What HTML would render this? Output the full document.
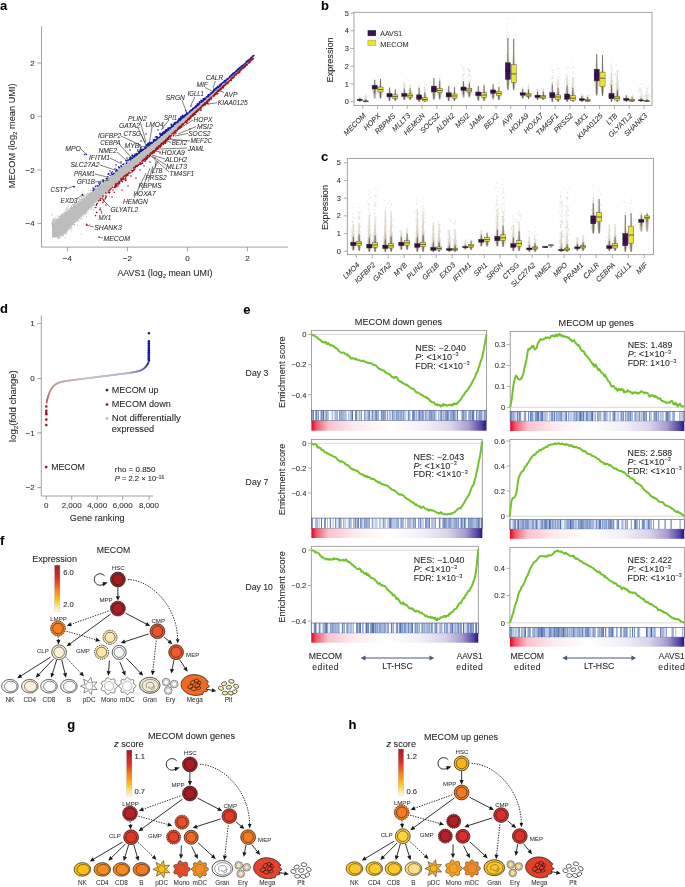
<!DOCTYPE html>
<html><head><meta charset="utf-8"><style>
html,body{margin:0;padding:0;background:#fff;width:685px;height:887px;overflow:hidden}
svg{display:block;filter:blur(0.3px)}
text{font-family:"Liberation Sans", sans-serif;stroke:#2a2a2a;stroke-width:0.08px}
</style></head><body>
<svg width="685" height="887" viewBox="0 0 685 887" font-family='"Liberation Sans", sans-serif'><path d="M41.5 26.3V247.1H287.8" fill="none" stroke="#8c8c8c" stroke-width="0.8"/>
<line x1="37.3" y1="63.0" x2="41.5" y2="63.0" stroke="#8c8c8c" stroke-width="0.8"/>
<text x="34.6" y="65.8" font-size="8.0" text-anchor="end" fill="#333" >2</text>
<line x1="37.3" y1="116.3" x2="41.5" y2="116.3" stroke="#8c8c8c" stroke-width="0.8"/>
<text x="34.6" y="119.1" font-size="8.0" text-anchor="end" fill="#333" >0</text>
<line x1="37.3" y1="170.1" x2="41.5" y2="170.1" stroke="#8c8c8c" stroke-width="0.8"/>
<text x="34.6" y="172.9" font-size="8.0" text-anchor="end" fill="#333" >&#8722;2</text>
<line x1="37.3" y1="223.4" x2="41.5" y2="223.4" stroke="#8c8c8c" stroke-width="0.8"/>
<text x="34.6" y="226.2" font-size="8.0" text-anchor="end" fill="#333" >&#8722;4</text>
<line x1="67.4" y1="247.1" x2="67.4" y2="251.3" stroke="#8c8c8c" stroke-width="0.8"/>
<text x="67.4" y="260.6" font-size="8.0" text-anchor="middle" fill="#333" >&#8722;4</text>
<line x1="127.4" y1="247.1" x2="127.4" y2="251.3" stroke="#8c8c8c" stroke-width="0.8"/>
<text x="127.4" y="260.6" font-size="8.0" text-anchor="middle" fill="#333" >&#8722;2</text>
<line x1="187.4" y1="247.1" x2="187.4" y2="251.3" stroke="#8c8c8c" stroke-width="0.8"/>
<text x="187.4" y="260.6" font-size="8.0" text-anchor="middle" fill="#333" >0</text>
<line x1="247.4" y1="247.1" x2="247.4" y2="251.3" stroke="#8c8c8c" stroke-width="0.8"/>
<text x="247.4" y="260.6" font-size="8.0" text-anchor="middle" fill="#333" >2</text>
<text x="164.9" y="275.5" font-size="9" text-anchor="middle" fill="#231f20" textLength="95" lengthAdjust="spacingAndGlyphs">AAVS1 (log<tspan font-size="6" dy="2">2</tspan><tspan dy="-2"> mean UMI)</tspan></text>
<text transform="translate(15.2,135.8) rotate(-90)" font-size="9" text-anchor="middle" fill="#231f20" textLength="105" lengthAdjust="spacingAndGlyphs">MECOM (log<tspan font-size="6" dy="2">2</tspan><tspan dy="-2"> mean UMI)</tspan></text>
<path d="M52 224.7 L53 223.83 L54 222.97 L55 222.1 L56 221.24 L57 220.37 L58 219.51 L59 218.64 L60 217.78 L61 216.91 L62 216.05 L63 215.24 L64 214.42 L65 213.61 L66 212.8 L67 211.99 L68 211.18 L69 210.37 L70 209.56 L71 208.74 L72 207.93 L73 207.12 L74 206.31 L75 205.5 L76 204.69 L77 203.88 L78 203.06 L79 202.25 L80 201.44 L81 200.63 L82 199.82 L83 199.01 L84 198.2 L85 197.39 L86 196.57 L87 195.76 L88 194.95 L89 194.14 L90 193.33 L91 192.52 L92 191.71 L93 190.89 L94 190.08 L95 189.27 L96 188.46 L97 187.65 L98 186.84 L99 186.03 L100 185.21 L101 184.4 L102 183.59 L103 182.78 L104 181.97 L105 181.16 L106 180.35 L107 179.53 L108 178.72 L109 177.88 L110 177.04 L111 176.2 L112 175.35 L113 174.51 L114 173.67 L115 172.83 L116 171.98 L117 171.14 L118 170.3 L119 169.46 L120 168.61 L121 167.83 L122 167.04 L123 166.25 L124 165.47 L125 164.68 L126 163.89 L127 163.11 L128 162.32 L129 161.53 L130 160.75 L131 159.97 L132 159.18 L133 158.4 L134 157.61 L135 156.83 L136 156.05 L137 155.26 L138 154.48 L139 153.7 L140 152.91 L141 152.13 L142 151.34 L143 150.56 L144 149.78 L145 148.99 L146 148.21 L147 147.43 L148 146.64 L149 145.86 L150 145.07 L151 144.29 L152 143.51 L153 142.72 L154 141.94 L155 141.15 L156 140.37 L157 139.59 L158 138.8 L159 138.02 L160 137.24 L161 136.45 L162 135.67 L163 134.88 L164 134.1 L165 133.27 L166 132.43 L167 131.6 L168 130.77 L169 129.93 L170 129.1 L171 128.26 L172 127.43 L173 126.6 L174 125.76 L175 124.93 L176 124.1 L177 123.26 L178 122.43 L179 121.59 L180 120.76 L181 119.93 L182 119.09 L183 118.26 L184 117.42 L185 116.57 L186 115.73 L187 114.88 L188 114.04 L189 113.19 L190 112.35 L191 111.51 L192 110.66 L193 109.82 L194 108.97 L195 108.13 L196 107.29 L197 106.44 L198 105.6 L199 104.75 L200 103.91 L201 103.07 L202 102.22 L203 101.38 L204 100.53 L205 99.69 L206 98.85 L207 98 L208 97.16 L209 96.29 L210 95.4 L211 94.5 L212 93.61 L213 92.72 L214 91.83 L215 90.94 L216 90.04 L217 89.15 L218 88.26 L219 87.37 L220 86.47 L221 85.58 L222 84.69 L223 83.8 L224 82.9 L225 82.01 L226 81.12 L227 80.23 L228 79.33 L229 78.44 L230 77.55 L231 76.66 L232 75.77 L233 74.87 L234 73.98 L235 73.09 L236 72.2 L237 71.31 L238 70.42 L239 69.53 L240 68.64 L241 67.75 L242 66.86 L243 65.98 L244 65.09 L245 64.2 L246 63.31 L247 62.42 L248 61.53 L249 60.64 L250 59.75 L251 58.87 L252 57.98 L253 57.09 L254 56.2 L254 57 L253 57.93 L252 58.87 L251 59.8 L250 60.73 L249 61.67 L248 62.6 L247 63.53 L246 64.46 L245 65.4 L244 66.33 L243 67.26 L242 68.2 L241 69.13 L240 70.06 L239 71 L238 71.93 L237 72.86 L236 73.8 L235 74.73 L234 75.65 L233 76.58 L232 77.51 L231 78.44 L230 79.37 L229 80.3 L228 81.23 L227 82.16 L226 83.09 L225 84.02 L224 84.95 L223 85.88 L222 86.81 L221 87.74 L220 88.67 L219 89.6 L218 90.52 L217 91.45 L216 92.38 L215 93.31 L214 94.24 L213 95.17 L212 96.1 L211 97.03 L210 97.96 L209 98.89 L208 99.84 L207 100.77 L206 101.7 L205 102.63 L204 103.56 L203 104.49 L202 105.41 L201 106.34 L200 107.27 L199 108.2 L198 109.13 L197 110.06 L196 110.99 L195 111.92 L194 112.84 L193 113.77 L192 114.7 L191 115.63 L190 116.56 L189 117.49 L188 118.42 L187 119.34 L186 120.27 L185 121.2 L184 122.13 L183 123.06 L182 124 L181 124.94 L180 125.88 L179 126.82 L178 127.75 L177 128.69 L176 129.63 L175 130.57 L174 131.51 L173 132.45 L172 133.39 L171 134.33 L170 135.27 L169 136.21 L168 137.14 L167 138.08 L166 139.02 L165 139.96 L164 140.9 L163 141.78 L162 142.65 L161 143.53 L160 144.4 L159 145.28 L158 146.15 L157 147.03 L156 147.9 L155 148.78 L154 149.65 L153 150.53 L152 151.4 L151 152.28 L150 153.15 L149 154.03 L148 154.9 L147 155.78 L146 156.65 L145 157.53 L144 158.41 L143 159.28 L142 160.16 L141 161.03 L140 161.91 L139 162.78 L138 163.66 L137 164.53 L136 165.41 L135 166.28 L134 167.16 L133 168.03 L132 168.91 L131 169.78 L130 170.66 L129 171.53 L128 172.41 L127 173.28 L126 174.15 L125 175.02 L124 175.9 L123 176.77 L122 177.64 L121 178.51 L120 179.39 L119 180.31 L118 181.24 L117 182.17 L116 183.1 L115 184.03 L114 184.95 L113 185.88 L112 186.81 L111 187.74 L110 188.67 L109 189.6 L108 190.52 L107 191.48 L106 192.44 L105 193.4 L104 194.36 L103 195.32 L102 196.28 L101 197.24 L100 198.2 L99 199.16 L98 200.12 L97 201.07 L96 202.03 L95 202.99 L94 203.95 L93 204.91 L92 205.87 L91 206.83 L90 207.79 L89 208.75 L88 209.71 L87 210.67 L86 211.63 L85 212.59 L84 213.54 L83 214.5 L82 215.46 L81 216.42 L80 217.38 L79 218.34 L78 219.3 L77 220.26 L76 221.22 L75 222.18 L74 223.14 L73 224.1 L72 225.05 L71 226.01 L70 226.97 L69 227.93 L68 228.89 L67 229.85 L66 230.81 L65 231.77 L64 232.73 L63 233.69 L62 234.65 L61 235.55 L60 236.46 L59 237.36 L58 237.6 L57 237.6 L56 237.6 L55 237.6 L54 237.6 L53 237.6 L52 237.6Z" fill="#bdbdbd"/>
<path d="M97.64 185.94h0.01 M106.29 179.89h0.01 M63.9 212.87h0.01 M56.1 221.75h0.01 M198.01 106.11h0.01 M131.32 160.42h0.01 M109.61 188.52h0.01 M64.44 233.7h0.01 M95.86 188.96h0.01 M108.1 176.49h0.01 M98.39 198.94h0.01 M201.47 102.62h0.01 M78.55 220.61h0.01 M75.31 221.29h0.01 M168.84 136.56h0.01 M192.66 110.22h0.01 M182.27 122.95h0.01 M197.6 109.96h0.01 M155.04 148.57h0.01 M58.08 238.15h0.01 M114.74 184.07h0.01 M64.49 212.87h0.01 M66.73 232.86h0.01 M77.16 203.89h0.01 M66.51 231.27h0.01 M56.77 219.1h0.01 M66.77 229.52h0.01 M76.2 222h0.01 M56.06 221.87h0.01 M85.99 213.54h0.01 M192.9 114.86h0.01 M63.73 234h0.01 M181.87 120h0.01 M147.37 147.28h0.01 M65.07 212.34h0.01 M93.04 205.91h0.01 M53.14 224.28h0.01 M71.54 205.99h0.01 M121.1 178.35h0.01 M114.75 173.22h0.01 M183.8 122.05h0.01 M63.1 233.03h0.01 M116.92 182.81h0.01 M197.63 105.1h0.01 M138.2 154.95h0.01 M52.36 224.78h0.01 M140.03 152.28h0.01 M102.23 183.82h0.01 M79.01 200.8h0.01 M146.91 147.73h0.01 M146.92 147.69h0.01 M83.3 195.28h0.01 M180.25 119.82h0.01 M172.36 127.05h0.01 M126.11 174.45h0.01 M55.41 221.19h0.01 M200.5 104.15h0.01 M146.53 147.61h0.01 M95.86 186.5h0.01 M52.77 223.16h0.01 M102.03 196.2h0.01 M124.26 164.95h0.01 M71.41 225.77h0.01 M65.68 233.18h0.01 M181.3 118.51h0.01 M80.04 200.7h0.01 M65.27 232.24h0.01 M175.88 131.02h0.01 M118.79 180.48h0.01 M166.88 131.61h0.01 M141.97 152.07h0.01 M97.38 201.11h0.01 M66.86 230.83h0.01 M78.57 201.75h0.01 M197.98 108.58h0.01 M174.32 130.53h0.01 M141.48 151.91h0.01 M98.01 200.01h0.01 M59.93 237.01h0.01 M126.86 173.6h0.01 M160.82 136.33h0.01 M136.95 164.4h0.01 M142.53 159.02h0.01 M139.34 153.31h0.01 M124.25 164.68h0.01 M181.41 124.86h0.01 M187.09 114.85h0.01 M126.21 163.73h0.01 M86.69 194.22h0.01 M189.63 117.33h0.01 M130.85 169.44h0.01 M129.09 160.44h0.01 M66.78 207.51h0.01 M111.02 176.64h0.01 M79.2 201.75h0.01 M113.23 174.87h0.01 M161.18 142.59h0.01 M159.3 145.11h0.01 M107.68 178.14h0.01 M189.96 117.09h0.01 M190.71 115.32h0.01 M75.45 203.53h0.01 M128.6 161.94h0.01 M78.1 220.53h0.01 M168.57 130.59h0.01 M194.96 107.08h0.01 M117.06 182.47h0.01 M122.63 176.56h0.01 M195.17 107.33h0.01 M115.34 183.96h0.01 M138.16 163.72h0.01 M192.4 110.88h0.01 M72.95 224.83h0.01 M162.51 135.3h0.01 M101.34 197.11h0.01 M185.5 121.23h0.01 M155.19 148.06h0.01 M137.42 164.04h0.01 M83.77 196.62h0.01 M58.45 217.93h0.01 M70.81 227.5h0.01 M86.55 210.71h0.01 M109.77 188.88h0.01 M128.52 161.35h0.01 M169.81 129.6h0.01 M147.64 147.16h0.01 M180.64 125.37h0.01 M67.28 208.41h0.01 M177.42 127.6h0.01 M71.83 227.63h0.01 M165.87 138.47h0.01 M90.34 192.84h0.01 M194.94 113.18h0.01 M105.94 178.15h0.01 M64.33 231.67h0.01 M116.34 182.37h0.01 M63.89 235.3h0.01 M185.86 122.18h0.01 M54.31 220.19h0.01 M80.03 217.36h0.01 M107.48 190.48h0.01 M140.04 153.58h0.01 M63.58 232.47h0.01 M64.93 233.07h0.01 M107.04 193.46h0.01 M140.73 152.02h0.01 M126.9 173.53h0.01 M198.12 105.6h0.01 M71.69 208.87h0.01 M162.29 143.33h0.01 M179.34 121.53h0.01 M152.41 151.85h0.01 M144.14 158.09h0.01 M128.57 162.4h0.01 M133.54 169.15h0.01 M132.38 158.71h0.01 M201.97 102.84h0.01 M140.08 153.43h0.01 M124.41 165.91h0.01 M71.5 225.99h0.01 M86.54 210.72h0.01 M70.85 207.4h0.01 M194.67 108.84h0.01 M200.9 103.81h0.01 M121.28 168.03h0.01 M53.44 223.04h0.01 M62.43 235.34h0.01 M123.67 176.37h0.01 M109.35 177.68h0.01 M85.16 213.08h0.01 M74.65 204.46h0.01 M76.16 220.28h0.01 M61.29 216.87h0.01 M88.53 195.32h0.01 M199.48 104.83h0.01 M54.99 220.85h0.01 M196 110.67h0.01 M108.79 178.47h0.01 M197.26 105.92h0.01 M122.35 177.32h0.01 M65.79 231.77h0.01 M109.57 191.05h0.01 M98.12 200.24h0.01 M118.64 180.06h0.01 M201.47 102.26h0.01 M146.38 157.12h0.01 M156.19 139.64h0.01 M84.29 213.49h0.01 M120.27 168.02h0.01 M150.08 152.3h0.01 M183.44 115.89h0.01 M125.82 174.55h0.01 M111.8 187.49h0.01 M113.29 174.29h0.01 M86.2 211.09h0.01 M148.42 146.22h0.01 M153.1 150.94h0.01 M93.47 204.37h0.01 M131.27 159.66h0.01 M79.84 202.26h0.01 M93.95 207.7h0.01 M56.53 220.84h0.01 M115.57 182.89h0.01 M137.1 163.71h0.01 M66.77 212.19h0.01 M74.57 224.83h0.01 M84.1 198.25h0.01 M141.6 152.09h0.01 M184.05 117.25h0.01 M159.95 144.2h0.01 M78.85 221.58h0.01 M70.56 227.33h0.01 M85.15 213.21h0.01 M64.91 213.28h0.01 M158.74 138.35h0.01 M63.13 213.73h0.01 M176.02 130.01h0.01 M112.21 175.81h0.01 M194.51 109.22h0.01 M112.65 175.26h0.01 M55.7 218.03h0.01 M60.19 217.53h0.01 M67.53 211.15h0.01 M108.5 177.67h0.01 M194.92 108.44h0.01 M104.03 182.18h0.01 M183.28 123.54h0.01 M164.65 133.26h0.01 M166.21 131.62h0.01 M192.6 109.4h0.01 M159.79 144.02h0.01 M92.9 204.55h0.01 M86.52 216.46h0.01 M65.86 231.53h0.01 M57.84 220.25h0.01 M118.96 169.83h0.01 M63.89 232.25h0.01 M69.13 209.88h0.01 M63.93 232.79h0.01 M62.75 215.29h0.01 M162.8 142.32h0.01 M71.94 207.21h0.01 M112.74 175.06h0.01 M102.29 199.82h0.01 M159.62 144.68h0.01 M109.48 177.34h0.01 M131.98 171.13h0.01 M142.36 150.57h0.01 M61.36 235.1h0.01 M173.56 126.23h0.01 M128.25 162.79h0.01 M60.77 215.45h0.01 M52.01 223.38h0.01 M142.98 159.62h0.01 M192.1 111.24h0.01 M171.08 133.71h0.01 M183.67 122.65h0.01 M164.67 140.64h0.01 M61.38 216.73h0.01 M78.07 219.95h0.01 M99.91 185.31h0.01 M84.36 197.13h0.01 M99.07 185.54h0.01 M165.37 132.79h0.01 M141.74 159.66h0.01 M115.55 185.8h0.01 M159.22 144.49h0.01 M124.53 175.52h0.01 M76.43 221.76h0.01 M88.84 195.01h0.01 M145.83 156.67h0.01 M189.8 113.17h0.01 M164.79 140.25h0.01 M59.93 237.1h0.01 M63.44 235.28h0.01 M166.85 131.92h0.01 M61.34 235.21h0.01 M90.92 207.96h0.01 M106.88 179.42h0.01 M152.73 143.06h0.01 M91.69 206.55h0.01 M90.05 190.58h0.01 M132.47 159.41h0.01 M106.53 179.47h0.01 M61.45 214.87h0.01 M180.71 120.26h0.01 M60.01 216.69h0.01 M199.03 105.11h0.01 M65.14 210.59h0.01 M126.49 173.57h0.01 M117.66 171.01h0.01 M80.33 200.54h0.01 M58.55 218.12h0.01 M59.49 216.55h0.01 M114.92 183.65h0.01 M182.07 119.28h0.01 M58.44 217.45h0.01 M75.25 205.94h0.01 M165.58 139.92h0.01 M112.83 185.86h0.01 M199.09 105.36h0.01 M132.13 168.77h0.01 M87.37 193.39h0.01 M160.1 143.86h0.01 M60.11 237.69h0.01 M116.47 182.64h0.01 M116.22 182.19h0.01 M129.11 170.91h0.01 M192.94 110.17h0.01 M100.32 199.27h0.01 M151 144.02h0.01 M102.79 181.68h0.01 M91.24 209.14h0.01 M115.87 171.69h0.01 M94.62 189.98h0.01 M79.24 217.97h0.01 M145.94 146.93h0.01 M149.8 152.85h0.01 M58.58 237.36h0.01 M105.45 195.09h0.01 M109.26 189.54h0.01 M77.43 219.12h0.01 M182.49 119.11h0.01 M133.47 157.24h0.01 M67.67 210.53h0.01 M116.01 171.33h0.01 M58.53 217.79h0.01 M191.11 114.76h0.01 M79.76 218.5h0.01 M179.03 121.62h0.01 M119.2 179.89h0.01 M52.82 223.95h0.01 M187.38 114.26h0.01 M100.74 197.96h0.01 M179.39 127.82h0.01 M167.05 137.84h0.01 M175.77 124.98h0.01 M65.62 212.43h0.01 M144.75 158.59h0.01 M142.34 160.25h0.01 M139.09 154.04h0.01 M67.82 228.54h0.01 M141.84 159.8h0.01 M133.27 158.32h0.01 M86.1 195.29h0.01 M68.44 229.45h0.01 M185.82 116.44h0.01 M56.05 219.18h0.01 M95.83 188.8h0.01 M121.66 177.19h0.01 M70.85 208.27h0.01 M150.54 152.31h0.01 M74.12 205.35h0.01 M199.25 109.13h0.01 M99.05 183.34h0.01 M105.02 195.64h0.01 M114.19 173.38h0.01 M155.93 140.1h0.01 M105.93 180.23h0.01 M191.23 115.73h0.01 M155.26 148.32h0.01 M95.84 188.47h0.01 M156.64 140.57h0.01 M67.61 209.99h0.01 M104.87 195.33h0.01 M117 171.04h0.01 M63.46 234.77h0.01 M94.98 202.47h0.01 M72.23 204.63h0.01 M116.36 171.52h0.01 M157.65 146.18h0.01 M125.44 165.01h0.01 M55.95 219.43h0.01 M62.66 234.86h0.01 M165.61 132.26h0.01 M195.42 111.25h0.01 M103.38 182.16h0.01 M98.09 187.47h0.01 M88.94 208.71h0.01 M93.48 210.16h0.01 M152.03 143.57h0.01 M68.53 228.99h0.01 M99.04 186.32h0.01 M84.94 214.57h0.01 M130.57 170.21h0.01 M172.55 126.48h0.01 M177.17 129.23h0.01 M87.29 193.93h0.01 M66.99 230.08h0.01 M61.95 236.2h0.01 M66.9 229.93h0.01 M200.5 103.27h0.01 M172.2 132.69h0.01 M138.23 162.92h0.01 M73.57 223.39h0.01 M88.95 193.56h0.01 M142.72 159.09h0.01 M187.97 118.09h0.01 M152.5 143.74h0.01 M79.42 217.36h0.01 M55.6 220.82h0.01 M108.13 192.66h0.01 M89.09 208.97h0.01 M120.91 177.94h0.01 M78.18 219.37h0.01 M141.1 160.29h0.01 M144.69 149.63h0.01 M74.27 205.81h0.01 M90.71 207.27h0.01 M75.68 221.8h0.01 M67.03 231.81h0.01 M115.86 172.68h0.01 M196.54 110.76h0.01 M67.08 208.79h0.01 M133.64 158.2h0.01 M127.46 172.62h0.01 M93.96 205.02h0.01 M80.2 217.11h0.01 M74.2 224h0.01 M62.21 215.37h0.01 M69.62 227.69h0.01 M60.78 216.14h0.01 M140.11 153.56h0.01 M88.73 208.62h0.01 M119.27 179.66h0.01 M79.86 218.54h0.01 M178.32 122.83h0.01 M72.1 207.77h0.01 M124.39 164.93h0.01 M84.76 195.17h0.01 M126.53 163.67h0.01 M91.52 206.15h0.01 M175.77 130.9h0.01 M182.13 123.86h0.01 M77.72 220.57h0.01 M196.85 109.65h0.01 M136.14 165.16h0.01 M52 224.33h0.01 M104.02 181.84h0.01 M112.87 173.67h0.01 M195.04 111.78h0.01 M82.62 198.89h0.01 M138.98 153.05h0.01 M193.95 109.06h0.01 M103.55 180.78h0.01 M85.69 211.14h0.01 M69.31 229.31h0.01 M79.79 217.82h0.01 M56.9 219.59h0.01 M153.77 149.77h0.01 M61.83 216.54h0.01 M71.19 208.91h0.01 M158.62 144.97h0.01 M142.83 159.38h0.01 M80.93 199.42h0.01 M116.12 183.75h0.01 M141.16 151.93h0.01 M134.14 166.3h0.01 M119.21 169.93h0.01 M195.4 111.15h0.01 M127.27 173.21h0.01 M187.26 113.95h0.01 M58.11 238.32h0.01 M74.95 205.33h0.01 M80.44 216.2h0.01 M111.95 186.66h0.01 M159.43 137.87h0.01 M74.67 224.21h0.01 M197.74 109.72h0.01 M138.73 154.53h0.01 M62.99 233.97h0.01 M187.3 118.77h0.01 M79.62 217.02h0.01 M115.86 182.99h0.01 M68.28 228.95h0.01 M85.19 212.29h0.01 M178.51 126.59h0.01 M65.64 213.18h0.01 M102.55 195.66h0.01 M54.08 221.82h0.01 M131.86 159.69h0.01 M172.59 125.41h0.01 M96.26 188.86h0.01 M77.89 201.36h0.01 M109.43 178.25h0.01 M157.78 138.32h0.01 M164.95 133.05h0.01 M198.85 108.51h0.01 M140.84 160.68h0.01 M182.14 123.71h0.01 M88.31 209.28h0.01 M131.87 159.14h0.01 M83.6 215.27h0.01 M181.17 124.72h0.01 M147.8 154.78h0.01 M148.11 147.09h0.01 M83.1 215.96h0.01 M90.43 206.72h0.01 M111.05 176.37h0.01 M79.27 198.88h0.01 M57.35 216.23h0.01 M67.44 230.81h0.01 M140.99 160.46h0.01 M190.38 116.89h0.01 M63.79 233.26h0.01 M127.85 171.77h0.01 M129.5 171.85h0.01 M170.87 127.78h0.01 M105.81 178.43h0.01 M137.94 164.16h0.01 M133.43 167.4h0.01 M121.83 167.5h0.01 M107.47 191.74h0.01 M120.56 168.19h0.01 M186.88 121.74h0.01 M147.1 155.51h0.01 M146.86 146.69h0.01 M58.76 217.33h0.01 M103.62 195.48h0.01 M188.2 113.45h0.01 M158.86 138.56h0.01 M173.74 126.76h0.01 M70.83 207.31h0.01 M172.79 132.2h0.01 M74.18 204.69h0.01 M156.75 147.01h0.01 M69.84 208.38h0.01 M113.06 173.9h0.01 M158.68 145.06h0.01 M172.64 127.23h0.01 M88.34 194.62h0.01 M124.71 163.04h0.01 M66.1 210.93h0.01 M175.1 125.16h0.01 M94.41 205.57h0.01 M81.68 216.08h0.01 M122.25 167.06h0.01 M63.52 233.17h0.01 M188.93 113.64h0.01 M200.84 103.49h0.01 M146.76 155.57h0.01 M60.39 216.34h0.01 M93.52 189.42h0.01 M106.07 179.9h0.01 M82.58 199.91h0.01 M74.81 203.84h0.01 M75 205.32h0.01 M187.33 119.22h0.01 M148.12 147h0.01 M92.7 204.63h0.01 M95.91 188.51h0.01 M134.64 167.28h0.01 M91.6 206.66h0.01 M92.92 205.12h0.01 M163.49 134.24h0.01 M56.7 220.07h0.01 M134.11 167.4h0.01 M179.63 120.47h0.01 M100.21 197.61h0.01 M99.54 199.14h0.01 M195.39 107.4h0.01 M200.34 106.84h0.01 M140.05 152.4h0.01 M67.27 210.87h0.01 M66.38 230.9h0.01 M147.84 155.03h0.01 M62.22 214.31h0.01 M71.13 207.14h0.01 M145.72 148.4h0.01 M52.3 223.71h0.01 M189.7 112.49h0.01 M110.84 176.99h0.01 M57.56 219.93h0.01 M58.6 217.54h0.01 M59.01 238.22h0.01 M154.83 148.19h0.01 M91.95 205.57h0.01 M114.54 184.72h0.01 M169.7 135.09h0.01 M195.37 108.15h0.01 M90.87 190.05h0.01 M91.87 209.09h0.01 M61.04 217.37h0.01 M61.29 214.32h0.01 M129.35 159.59h0.01 M57.6 219.92h0.01 M80.28 218.68h0.01 M190.11 111.34h0.01 M105.18 180.48h0.01 M147.36 155.19h0.01 M85.47 213.2h0.01 M94.37 203.07h0.01 M53.66 221.8h0.01 M112.77 185.76h0.01 M67.76 229.53h0.01 M102.51 196.24h0.01 M149.32 153.97h0.01 M194.48 111.65h0.01 M120.56 168.08h0.01 M85.61 213.22h0.01 M123.32 166.33h0.01 M107.63 177.67h0.01 M158.46 145.75h0.01 M171.64 133.26h0.01 M55.75 219.31h0.01 M165.74 139.23h0.01 M156.99 138.71h0.01 M54.03 221.07h0.01 M113.53 174.45h0.01 M128.56 172.65h0.01 M118.23 180.9h0.01 M146.89 156.3h0.01 M183.66 124.24h0.01 M155.61 147.45h0.01 M96.93 202.29h0.01 M58.08 237.47h0.01 M57.92 219.61h0.01 M133.57 158.37h0.01 M77.9 203.29h0.01 M114.89 173.47h0.01 M110.92 176.06h0.01 M58.5 219.38h0.01 M94.58 202.68h0.01 M135.07 156.05h0.01 M88.25 195.42h0.01 M57.12 219.74h0.01 M65.63 232.66h0.01 M61.95 235.93h0.01 M88.33 194.17h0.01 M167.96 137.38h0.01 M197.66 109.22h0.01 M139.36 161.78h0.01 M117.4 182.62h0.01 M54.44 221.11h0.01 M94.7 188.11h0.01 M114.78 172.88h0.01 M102.95 195.76h0.01 M150.04 153h0.01 M52.99 221.01h0.01 M116.22 172.31h0.01 M191.07 111.75h0.01 M160.49 143.32h0.01 M65.34 212.76h0.01 M123.43 175.71h0.01 M179.94 120.29h0.01 M137.84 164.52h0.01 M75.53 204.9h0.01 M144.96 156.77h0.01 M111.06 187.08h0.01 M75.79 222.18h0.01 M73.35 224.65h0.01 M73.94 206.33h0.01 M171.55 128.19h0.01 M123.36 166.65h0.01 M132.42 158.42h0.01 M154.38 150.73h0.01 M84.76 196.81h0.01 M68.92 229.43h0.01 M189.5 112.4h0.01 M115.88 182.69h0.01 M57.49 215.89h0.01 M131.91 168.57h0.01 M115.78 182.77h0.01 M199.49 107.19h0.01 M133.59 166.97h0.01 M52.77 221.81h0.01 M170.65 129.19h0.01 M108.44 190.58h0.01 M109.34 188.7h0.01 M104.87 193.3h0.01 M102.8 196.7h0.01 M102.97 181.07h0.01 M59.43 236.61h0.01 M81.17 196.23h0.01 M190.88 111.38h0.01 M171.35 127.63h0.01 M120.09 169.2h0.01 M123.95 165.92h0.01 M108.12 179.07h0.01 M165.37 132.45h0.01 M150.87 145.03h0.01 M166.12 140.73h0.01 M81.15 218.89h0.01 M72.15 208.29h0.01 M109.24 189.57h0.01 M69.02 209.19h0.01 M63.05 232.89h0.01 M156.06 148.19h0.01 M69.44 210.65h0.01 M71.31 206.87h0.01 M63.89 232.6h0.01 M144.87 149.04h0.01 M157.39 138.59h0.01 M70.13 227.66h0.01 M92.01 191.21h0.01 M182.43 118.85h0.01 M88.14 209.64h0.01 M81.5 197.64h0.01 M87.06 212.55h0.01 M101.24 183.19h0.01 M183.19 122.34h0.01 M65.98 209.13h0.01 M81.99 199.49h0.01 M60.01 217.34h0.01 M59.5 218.57h0.01 M176.36 123.55h0.01 M86.08 211.44h0.01 M73.4 206.45h0.01 M82.73 214.52h0.01 M77.51 220.72h0.01 M111.58 175.66h0.01 M151.83 144.05h0.01 M67.79 228.56h0.01 M77.82 201.91h0.01 M61.63 235.27h0.01 M116.29 182.75h0.01 M98.76 181.85h0.01 M168.72 136.54h0.01 M197.06 111.44h0.01 M151.91 151.24h0.01 M62.8 215.82h0.01 M66.6 230.11h0.01 M104.9 178.52h0.01 M99.58 199.5h0.01 M125.01 175.59h0.01 M78.78 218.22h0.01 M176.65 123.27h0.01 M98.85 199.74h0.01 M183.01 124.05h0.01 M176.25 129.37h0.01 M106.45 180.49h0.01 M144.29 157.95h0.01 M118.88 180.4h0.01 M56.53 221.05h0.01 M82.67 195.55h0.01 M107.31 190.47h0.01 M127.34 173.48h0.01 M195.33 110.97h0.01 M96.19 201.5h0.01 M165.23 133.18h0.01 M71.28 207.21h0.01 M114.05 174.4h0.01 M103.43 195.08h0.01 M105.51 195.82h0.01 M65.06 232.73h0.01 M197.23 105.49h0.01 M137.06 155.58h0.01 M159.59 145.73h0.01 M162.31 141.66h0.01 M52.52 220.56h0.01 M82.15 197.12h0.01 M187.07 114.21h0.01 M54.46 218.99h0.01 M174.01 132.5h0.01 M64.03 214.91h0.01 M125.74 176.47h0.01 M144.93 157.95h0.01 M156.4 139.59h0.01 M116.41 171.7h0.01 M87.76 210.92h0.01 M131.27 159.87h0.01 M138.81 154.33h0.01 M64.16 213.63h0.01 M137.28 154.73h0.01 M182.54 124.69h0.01 M191.34 110.34h0.01 M80.86 216.56h0.01 M108.66 193h0.01 M110.77 187.59h0.01 M148.38 154.19h0.01 M69.78 228.89h0.01 M190.65 111.63h0.01 M92.02 205.26h0.01 M192.88 114.21h0.01 M94.74 190.09h0.01 M129.01 161.06h0.01 M180.62 127.82h0.01 M109.5 190.09h0.01 M152.58 150.84h0.01 M73.35 205.59h0.01 M144.94 156.94h0.01 M140.98 161.69h0.01 M94.66 207.43h0.01 M177.61 127.71h0.01 M117.09 170.68h0.01 M136.36 155.74h0.01 M53.5 223.74h0.01 M100.9 197.02h0.01 M191.71 111.62h0.01 M102.92 181.34h0.01 M67.58 210.27h0.01 M89.78 194.19h0.01 M71.59 208.5h0.01 M85.19 213.71h0.01 M97.74 201.03h0.01 M77.11 203.15h0.01 M98.06 200.86h0.01 M86.58 195.39h0.01 M196.72 106.27h0.01 M147.67 155.26h0.01 M144.41 149.43h0.01 M95.05 187.56h0.01 M68.11 206.46h0.01 M81.96 199.29h0.01 M124.08 175.79h0.01 M89.71 192.91h0.01 M54.19 219.43h0.01 M163.64 134.14h0.01 M142.14 151.19h0.01 M148.77 146.82h0.01 M115.08 172h0.01 M199.1 107.48h0.01 M144.9 149h0.01 M73.57 205.16h0.01 M62.24 216.24h0.01 M178.68 122.22h0.01 M92.83 207.79h0.01 M122.73 179.22h0.01 M116.46 171.83h0.01 M83.41 197.97h0.01 M138.33 154.63h0.01 M165.1 139.2h0.01 M111.08 187.8h0.01 M86.38 196.04h0.01 M174.27 125.64h0.01 M70.72 226.11h0.01 M158.14 139.21h0.01 M72.39 224.04h0.01 M163.16 135.34h0.01 M66.57 212.57h0.01 M175.49 130.17h0.01 M100.94 199.91h0.01 M116.55 171.67h0.01 M199.09 107.56h0.01 M60.73 215.2h0.01 M81.9 218.16h0.01 M183.36 117.97h0.01 M62.64 233.61h0.01 M176.4 123.89h0.01 M68.17 228.35h0.01 M53.53 221.02h0.01 M54.35 220.92h0.01 M83.49 223.94h0.01 M57.8 219.36h0.01 M65.24 237.61h0.01 M68.04 210.5h0.01 M89.62 224.09h0.01 M76.68 202.42h0.01 M67.27 205.16h0.01 M62.01 214.38h0.01 M69.24 198.24h0.01 M94.42 189.49h0.01 M103.35 198.12h0.01 M83.11 191.05h0.01 M88.58 190.22h0.01 M104.9 214.1h0.01 M120.52 207.33h0.01 M53.05 220.1h0.01 M71.73 228.64h0.01 M77.47 225.13h0.01 M115.67 167.05h0.01 M71.45 230.71h0.01 M52.13 214.13h0.01 M115.7 189.44h0.01 M77.79 190.33h0.01 M52.07 215.54h0.01 M71.79 200.11h0.01 M117.22 189.35h0.01 M81.43 234.51h0.01 M100.28 181.21h0.01 M80.97 176.64h0.01 M77.14 197.78h0.01 M66.8 233.88h0.01 M52.14 222.28h0.01 M58.11 238.38h0.01 M109.53 196.17h0.01 M53.62 218.65h0.01 M86.46 211.45h0.01 M65.16 231.84h0.01 M88.72 187.84h0.01" stroke="#bdbdbd" stroke-width="1.1" stroke-linecap="round"/>
<path d="M224 82.57h0.01 M232.27 75.01h0.01 M130.6 159.72h0.01 M103.21 181.79h0.01 M170.56 128.01h0.01 M234.95 72.73h0.01 M202.66 101.15h0.01 M138.81 153.32h0.01 M207.97 96.63h0.01 M193.41 108.65h0.01 M169.71 128.09h0.01 M189.47 111.44h0.01 M171.64 127.08h0.01 M204.51 99.76h0.01 M139.24 153.09h0.01 M240.16 68.13h0.01 M200.73 102.1h0.01 M246.64 62.01h0.01 M217.05 87.95h0.01 M242.72 65.26h0.01 M156.49 139.69h0.01 M215.91 88.43h0.01 M244.77 63.88h0.01 M235.78 71.5h0.01 M224.58 80.54h0.01 M221.32 83.63h0.01 M237.42 70.08h0.01 M248.96 59.82h0.01 M241.43 65.95h0.01 M253.88 55.52h0.01 M234.04 72.71h0.01 M197.44 103.78h0.01 M127.4 160.14h0.01 M154.3 140.63h0.01 M161.38 135.17h0.01 M180.64 119.48h0.01 M236.32 71.11h0.01 M168.17 130.24h0.01 M215.15 89.93h0.01 M140.21 149.56h0.01 M196.41 106.62h0.01 M162.25 135.12h0.01 M153.56 139.94h0.01 M112.91 174.13h0.01 M146.24 145.3h0.01 M236.25 71.55h0.01 M246.07 62.51h0.01 M173.1 125.72h0.01 M159.75 137.05h0.01 M214.05 90.58h0.01 M131.43 158.4h0.01 M140.99 147.78h0.01 M204.72 99.5h0.01 M175.61 123.85h0.01 M137.37 154.41h0.01 M212.58 91.73h0.01 M250.09 59.15h0.01 M232.17 75.21h0.01 M213.82 90.16h0.01 M169.19 128.74h0.01 M123.57 164.17h0.01 M126.69 162.84h0.01 M232.13 75.16h0.01 M212.13 92.85h0.01 M219.75 85.67h0.01 M199.95 102.87h0.01 M237.06 70.19h0.01 M155.52 137h0.01 M225.73 80.52h0.01 M151.56 142.33h0.01 M202.65 100.3h0.01 M203.4 100.68h0.01 M213.58 90.46h0.01 M156.03 139.9h0.01 M181.85 116.94h0.01 M172.64 126.52h0.01 M244.25 63.98h0.01 M185.39 115.84h0.01 M166.87 131.01h0.01 M173.43 125.94h0.01 M116.24 170.82h0.01 M177.02 122.41h0.01 M202.73 101.23h0.01 M156.86 137.89h0.01 M168.52 129.37h0.01 M97.65 185.79h0.01 M185.85 115.17h0.01 M240.49 67.66h0.01 M222.45 82.96h0.01 M142.94 149.38h0.01 M180.4 119.84h0.01 M246.1 62.81h0.01 M163.37 132.88h0.01 M209.54 94.35h0.01 M183.97 115.6h0.01 M141.62 149.71h0.01 M107.87 176.75h0.01 M243.79 64.88h0.01 M141.98 150.68h0.01 M244.62 64.06h0.01 M247.73 61.11h0.01 M219.14 86.48h0.01 M242.13 66.4h0.01 M188.92 112.69h0.01 M247.89 61.06h0.01 M195.73 106.67h0.01 M160.51 135.44h0.01 M223.78 81.74h0.01 M163.61 132.32h0.01 M219.62 85.94h0.01 M183.01 117.59h0.01 M134.81 156.17h0.01 M232.41 74.14h0.01 M168 130.42h0.01 M168.69 128.37h0.01 M203.2 98.73h0.01 M126.8 160.92h0.01 M225.15 81h0.01 M203.59 98.89h0.01 M174.51 122.84h0.01 M209.05 95.33h0.01 M168.25 129.33h0.01 M208.9 95.6h0.01 M235 72.3h0.01 M229 77.54h0.01 M171.34 125.57h0.01 M208.28 96.61h0.01 M120.95 165.9h0.01 M244.34 64.3h0.01 M207.67 96.34h0.01 M240.7 67.32h0.01 M223.75 82.55h0.01 M145.08 147.6h0.01 M184.46 116.04h0.01 M140.75 151.6h0.01 M154.06 140.14h0.01 M219.82 85.26h0.01 M229.36 77.63h0.01 M161.91 135.19h0.01 M115.78 170.93h0.01 M202.86 100.21h0.01 M202.26 101.61h0.01 M160.82 134.91h0.01 M166.28 131.61h0.01 M250.62 58.15h0.01 M237.69 69.3h0.01 M198.88 103.37h0.01 M118.66 166.92h0.01 M175.09 122.52h0.01 M199.38 101.74h0.01 M241.34 66.18h0.01 M208.7 95.86h0.01 M184.4 116.51h0.01 M132.6 155.89h0.01 M192.64 108.82h0.01 M217.72 87.72h0.01 M214.52 89.77h0.01 M232.26 74.73h0.01 M248.99 60.14h0.01 M183.27 116.65h0.01 M197.49 105.43h0.01 M162.8 132.47h0.01 M234.85 72.91h0.01 M195.14 107.67h0.01 M119.3 167.51h0.01 M225 81.47h0.01 M201.18 102.15h0.01 M191.28 110.08h0.01 M141.04 150.6h0.01 M212.71 92.53h0.01 M140 150.54h0.01 M94.07 189.09h0.01 M233.56 73.79h0.01 M232.35 74.89h0.01 M251.19 58.01h0.01 M231.34 75.03h0.01 M246.31 62.66h0.01 M133.85 156.6h0.01 M146.02 145.18h0.01 M184.51 115.31h0.01 M147.75 145.11h0.01 M225.95 79.94h0.01 M179.08 120.01h0.01 M168.88 129.35h0.01 M181.76 118.31h0.01 M161.95 133.47h0.01 M197.83 105.27h0.01 M171.48 127.27h0.01 M167.18 130.64h0.01 M177.39 122.54h0.01 M246.94 62.11h0.01 M160.4 136.34h0.01 M168.65 129.67h0.01 M201.11 102.22h0.01 M234.03 73.36h0.01 M224.56 81.8h0.01 M145.94 147.51h0.01 M160.18 134.43h0.01 M225.02 81.64h0.01 M181.29 118.45h0.01 M166.52 129.46h0.01 M151.28 143.31h0.01 M230.38 76.1h0.01 M249.01 59.98h0.01 M246.41 61.83h0.01 M140.55 147.85h0.01 M229.63 77.15h0.01 M179.84 119.94h0.01 M234.04 73.46h0.01 M241.42 66.71h0.01 M237.36 70.49h0.01 M155.3 140.59h0.01 M156.42 136.81h0.01 M201.76 101.06h0.01 M231.55 75.41h0.01 M220.11 85.83h0.01 M164.2 133.56h0.01 M194.94 107.54h0.01 M173.46 125h0.01 M99.57 184.52h0.01 M163.45 132.95h0.01 M152.67 142.6h0.01 M157.34 138.76h0.01 M185.52 115.66h0.01 M100.47 182.97h0.01 M192.01 109.53h0.01 M227.15 79.02h0.01 M164.73 132.66h0.01 M222.72 82.43h0.01 M233.6 74.02h0.01 M240.93 67.38h0.01 M182.72 116.58h0.01 M193.11 108.38h0.01 M231.49 75.53h0.01 M236.43 70.5h0.01 M204.67 99.19h0.01 M202.22 101.5h0.01 M184.7 116.34h0.01 M169.69 128.35h0.01 M197.3 105.71h0.01 M129.93 157.63h0.01 M158.82 137.71h0.01 M239.61 68.25h0.01 M220.39 85.81h0.01 M239.05 69.1h0.01 M116.58 169.62h0.01 M220.13 84.4h0.01 M192.32 109.24h0.01 M163.84 131.76h0.01 M245.99 62.3h0.01 M153.25 141.9h0.01 M163.1 133.94h0.01 M175.05 123.34h0.01 M201.89 101.85h0.01 M246.68 61.3h0.01 M232.74 74.2h0.01 M145.52 148.23h0.01 M208.37 95.59h0.01 M203.31 99.19h0.01 M159.69 133.76h0.01 M142.15 150.56h0.01 M147.96 143.51h0.01 M227.3 79.21h0.01 M121.32 166.38h0.01 M250.52 58.87h0.01 M222.14 83.43h0.01 M224.82 81.29h0.01 M191.94 110.37h0.01 M210.93 93.73h0.01 M130.41 157.89h0.01 M250.44 58.97h0.01 M249.15 59.83h0.01 M247.89 60.39h0.01 M235.23 72.02h0.01 M231.74 75.45h0.01 M220.17 85.9h0.01 M233.61 73.93h0.01 M111.96 174.56h0.01 M186.58 112.44h0.01 M180.55 117.89h0.01 M212.71 92.04h0.01 M168.48 128.4h0.01 M207.85 95.3h0.01 M219.09 86.3h0.01 M229.37 77.36h0.01 M181.18 119.3h0.01 M213.39 91.7h0.01 M148.39 145.82h0.01 M145.23 148.23h0.01 M215.34 89.52h0.01 M243.32 65.34h0.01 M237.63 70.33h0.01 M203.67 100.37h0.01 M166.39 130.05h0.01 M164.01 132.05h0.01 M110.15 175.27h0.01 M243.07 65.22h0.01 M230.07 76.37h0.01 M249.07 59.65h0.01 M182.43 115.38h0.01 M98.81 182.94h0.01 M204.12 98.78h0.01 M167.82 128.23h0.01 M205.83 98.64h0.01 M252.21 56.65h0.01 M225.46 80.52h0.01 M252.89 55.83h0.01 M172.99 125.7h0.01 M165.92 130.91h0.01 M153.47 141.98h0.01 M214.74 90.3h0.01 M172.72 125.94h0.01 M125.92 160.73h0.01 M164.05 132.66h0.01 M251.24 58.14h0.01 M145.15 146.79h0.01 M241.13 67.16h0.01 M191.77 109.45h0.01 M152.01 142.68h0.01 M165.62 132.35h0.01 M155.12 139.79h0.01 M216.08 88.42h0.01 M201.74 101.15h0.01 M222.28 83.22h0.01 M234.13 72.43h0.01 M132.56 158.24h0.01 M197.87 104.5h0.01 M127.97 160.32h0.01 M189.82 111.87h0.01 M171.15 124.42h0.01 M114.04 173.25h0.01 M158.08 137.47h0.01 M203.42 100.16h0.01 M242.35 65.46h0.01 M252.89 56.01h0.01 M149.82 142.77h0.01 M232.11 74.62h0.01 M247.73 61.08h0.01 M126.43 163.17h0.01 M228.16 78.89h0.01 M111.82 174.2h0.01 M180.46 118.89h0.01 M103.05 179.82h0.01 M244.85 63.86h0.01 M213.05 91.4h0.01 M216.19 88.72h0.01 M162.42 134.81h0.01 M175.54 122.65h0.01 M192.03 110.21h0.01 M240.3 67.58h0.01 M165.64 132.27h0.01 M138.68 152.11h0.01 M93.17 190.39h0.01 M200.92 100.24h0.01 M108.93 173.84h0.01 M157.02 136.86h0.01 M146.38 147.46h0.01 M176.51 122.73h0.01 M168.55 128.97h0.01 M232.51 74.84h0.01 M192.98 109.35h0.01 M203.73 100.33h0.01 M238.47 68.78h0.01 M146.24 146.98h0.01 M214.26 90.64h0.01 M148.34 143.98h0.01 M132.22 154.94h0.01 M244.6 63.99h0.01 M194.2 107.62h0.01 M242.94 65.55h0.01 M107.11 178.61h0.01 M166.69 131.14h0.01 M141.13 149.72h0.01 M210.35 94.31h0.01 M230.06 77.1h0.01 M148.25 143.36h0.01 M172.45 126.73h0.01 M196.03 106.88h0.01 M193.57 108.52h0.01 M215.24 88.51h0.01 M144.67 148.4h0.01 M154.59 139.63h0.01 M195.92 105.81h0.01 M176.01 122.83h0.01 M246.06 62.28h0.01 M171.91 125.17h0.01 M252.1 57.19h0.01 M246.88 61.44h0.01 M142 150.22h0.01 M117.18 170.67h0.01 M203.29 100.4h0.01 M208.25 96.57h0.01 M201.59 101.26h0.01 M232.45 74.12h0.01 M103.19 180.65h0.01 M186.64 113.17h0.01 M243.2 64.94h0.01 M229.79 76.32h0.01 M143.33 149.7h0.01 M224.43 82.02h0.01 M184.46 115.85h0.01 M178.19 121.89h0.01 M237.48 69.54h0.01 M239.51 68.58h0.01 M244.64 64.11h0.01 M112.51 171.8h0.01 M248.19 60.75h0.01 M198.16 105.14h0.01 M231.32 75.98h0.01 M182.1 116.57h0.01 M179.68 118.86h0.01 M198.24 104.53h0.01 M174.69 124.08h0.01 M128.53 160.03h0.01 M203.82 99.63h0.01 M132.92 156.54h0.01 M153.75 140.82h0.01 M208.76 95.24h0.01 M206.9 97.23h0.01 M178.25 121.69h0.01 M234.68 72.26h0.01 M150.9 143.39h0.01 M108.23 174.09h0.01 M141.64 149.35h0.01 M141.32 151.2h0.01 M229.99 77.24h0.01 M238.08 69.98h0.01 M199.15 104.19h0.01 M148.67 143.34h0.01 M222.18 83.14h0.01 M154.35 140.44h0.01 M223.81 82.4h0.01 M150.67 142.74h0.01 M240.67 67.08h0.01 M165.04 131.29h0.01 M150.52 143.81h0.01 M208.85 95.97h0.01 M106.4 178.74h0.01 M147.88 144.33h0.01 M129.47 159.06h0.01 M153.18 140.09h0.01 M232.7 73.67h0.01 M233.46 73.27h0.01 M246.07 62.86h0.01 M205.53 98.26h0.01 M170.29 128.01h0.01 M198.24 105.07h0.01 M237.18 69.94h0.01 M218.67 87.33h0.01 M168.38 129.86h0.01 M178.64 120.78h0.01 M190.9 110.26h0.01 M203.23 99.61h0.01 M196.55 106.06h0.01 M195.84 107.08h0.01 M179.47 120.33h0.01 M240.01 67.85h0.01 M198.93 104.26h0.01 M190.97 110.64h0.01 M227.64 79.23h0.01 M154.13 141.26h0.01 M135.26 155.27h0.01 M208.27 95.65h0.01 M185.48 114.99h0.01 M204.15 99.82h0.01 M214.45 90.26h0.01 M143.21 149.88h0.01 M250.91 57.95h0.01 M204.68 98.22h0.01 M155.76 139.53h0.01 M169.25 127.57h0.01 M218.52 86.97h0.01 M137.74 149.93h0.01 M187.67 113.19h0.01 M253.45 56.03h0.01 M201.23 101.95h0.01 M218.43 86.56h0.01 M178.95 120.02h0.01 M221.52 83.97h0.01 M195.23 106.81h0.01 M211.58 93.35h0.01 M212.64 92.61h0.01 M216.46 87.44h0.01 M185.57 114.57h0.01 M134.2 155.57h0.01 M134.03 157.18h0.01 M240.26 67.69h0.01 M134.91 154.22h0.01 M190.78 110.96h0.01 M236.54 71.41h0.01 M95.48 186.44h0.01 M207.6 96.68h0.01 M182.47 117.87h0.01 M179.69 119.82h0.01 M237.9 69.62h0.01 M184.17 116.1h0.01 M195.86 106.76h0.01 M161.47 134.03h0.01 M248.46 60.47h0.01 M195.1 107.3h0.01 M237.6 69.6h0.01 M186.52 114.55h0.01 M155.69 139.76h0.01 M179.15 120.48h0.01 M176.81 122.38h0.01 M205.19 98.81h0.01 M184.46 116.18h0.01 M147.06 144.46h0.01 M251.18 57.95h0.01 M150.06 144.34h0.01 M217.67 87.15h0.01 M150.3 143.67h0.01 M236.7 71.15h0.01 M179.29 118.78h0.01 M173.64 124.48h0.01 M195.17 107.14h0.01 M196.96 104.7h0.01 M119.14 168.05h0.01 M231.4 75.97h0.01 M136.02 155.33h0.01 M187.64 113.93h0.01 M134 157.03h0.01 M160.14 133.26h0.01 M209.03 95.84h0.01 M236 70.71h0.01 M212.41 91.97h0.01 M147.54 145.5h0.01 M122.92 164.47h0.01 M185.84 115.18h0.01 M229.71 76.75h0.01 M153.25 141.69h0.01 M147.79 146.16h0.01 M138.14 151.58h0.01 M145.34 148.35h0.01 M214.48 89.94h0.01 M253.47 55.94h0.01 M163.08 133.07h0.01 M189.72 112.26h0.01 M136.32 153.43h0.01 M139.71 151.66h0.01 M151.55 143.39h0.01 M130.51 158.15h0.01 M213.23 91.07h0.01 M180.27 120.18h0.01 M193.79 108.31h0.01 M227.18 78.47h0.01 M148.97 145.45h0.01 M137.62 153.73h0.01 M197.05 105.62h0.01 M178.52 119.03h0.01 M231.04 75.62h0.01 M224.98 81.46h0.01 M187.2 113.98h0.01 M210.43 94.45h0.01 M244.39 64.25h0.01 M191.93 109.62h0.01 M166.73 129.81h0.01 M190.04 110.93h0.01 M130.47 159.93h0.01 M174 124.56h0.01 M148.9 144.34h0.01 M213.82 91.19h0.01 M177.3 122.41h0.01 M149.79 143.11h0.01 M157.33 137.52h0.01 M221.1 84.91h0.01 M132.21 158.12h0.01 M144.32 148.66h0.01 M242.61 65.47h0.01 M98.11 185.96h0.01 M211.01 92.83h0.01 M226.29 80.21h0.01 M224.8 81.8h0.01 M229.09 77.24h0.01 M202.94 100.56h0.01 M191.83 110.4h0.01 M201.89 100.77h0.01 M197.43 105.45h0.01 M208.67 94.88h0.01 M192.85 108.65h0.01 M239.24 67.87h0.01 M225.44 81.2h0.01 M214.65 90.37h0.01 M121.32 166.81h0.01 M148.96 144.15h0.01 M203.43 99.98h0.01 M177.91 122.13h0.01 M215.55 89.46h0.01 M239.91 68.2h0.01 M180.68 119.02h0.01 M177.9 120.91h0.01 M224.87 80.93h0.01 M230.2 76.79h0.01 M180.81 116.86h0.01 M180.51 119.47h0.01 M232.79 74.29h0.01 M176.19 122.31h0.01 M167.94 129.98h0.01 M184.86 115.84h0.01 M242.05 66.42h0.01 M250.67 58.75h0.01 M100.36 182.85h0.01 M246.51 62.08h0.01 M233.34 73.18h0.01 M136.43 154.67h0.01 M170.24 128.59h0.01 M187.72 113.63h0.01 M211.49 93.14h0.01 M111.29 172.83h0.01 M176.48 122.45h0.01 M246.26 62.65h0.01 M238.37 68.99h0.01 M136.72 154.63h0.01 M202.35 100.52h0.01 M248.55 60.67h0.01 M247.18 61.8h0.01 M183.57 116.97h0.01 M206.31 96.86h0.01 M235.99 71.43h0.01 M184.03 116.83h0.01 M183.4 116.77h0.01 M130.89 157.9h0.01 M149.8 144.67h0.01 M191.96 110.24h0.01 M220.93 84h0.01 M203.6 99.46h0.01 M210.41 94.32h0.01 M165.39 129.94h0.01 M234.8 72.91h0.01 M213.72 89.77h0.01 M136.47 155.27h0.01 M171.24 127.05h0.01 M170.18 128.05h0.01 M133.1 156.62h0.01 M173.51 124.1h0.01 M166.32 130.6h0.01 M217.59 86.41h0.01 M239.13 68.38h0.01 M86.4 154.4h0.01 M73.8 186.8h0.01 M82.5 194.6h0.01 M93 188h0.01 M96 186h0.01 M103 181h0.01 M110 171h0.01 M115 169h0.01 M116 165h0.01 M121 162h0.01 M127 158h0.01 M130 150h0.01 M132 156h0.01 M140 145h0.01 M141 141h0.01 M149 145h0.01 M146 134h0.01 M158 130h0.01 M163 128h0.01 M186 111h0.01 M191 106h0.01 M82.8 195.3h0.01 M74.4 186.8h0.01 M84.5 154.5h0.01" stroke="#1a1f9c" stroke-width="1.6" stroke-linecap="round"/>
<path d="M216.71 93.07h0.01 M245.46 66.43h0.01 M175.48 130.83h0.01 M167.98 137.76h0.01 M162.21 142.89h0.01 M223.1 86.15h0.01 M115.08 186.51h0.01 M234.39 75.98h0.01 M206.88 102.03h0.01 M146.7 158.33h0.01 M204.79 105.2h0.01 M180.86 126.94h0.01 M152.97 152.32h0.01 M165.47 143.15h0.01 M148.04 157.58h0.01 M246.72 64.29h0.01 M116.31 184.8h0.01 M187.65 120.63h0.01 M214.8 93.98h0.01 M109.2 190.62h0.01 M136.26 165.87h0.01 M155.5 149.57h0.01 M123.84 178.81h0.01 M223.59 85.79h0.01 M132.89 170.97h0.01 M116.23 185.16h0.01 M129.09 173.4h0.01 M227.1 82.41h0.01 M189.23 118.64h0.01 M103 195.96h0.01 M171.87 134.1h0.01 M178.35 128.25h0.01 M194 113.38h0.01 M246.09 64.88h0.01 M246.47 65.1h0.01 M220.31 88.68h0.01 M202.63 105.74h0.01 M208.19 100.04h0.01 M179.99 126.34h0.01 M156.68 148.01h0.01 M123.53 176.79h0.01 M155.39 150.51h0.01 M226.65 83.43h0.01 M172.32 133.53h0.01 M105.6 197.89h0.01 M194.65 113.05h0.01 M246.78 64.94h0.01 M121.82 178.88h0.01 M178.97 128.13h0.01 M209.64 99.21h0.01 M164.66 141.13h0.01 M186.82 120.46h0.01 M177.72 128.74h0.01 M147.97 155.32h0.01 M218.04 91.28h0.01 M253.33 58.47h0.01 M203.78 104.23h0.01 M250.14 61.9h0.01 M171.58 135.87h0.01 M152.93 152.51h0.01 M196.41 111.13h0.01 M189.33 119.68h0.01 M214.87 94.88h0.01 M245.38 65.78h0.01 M204.55 104.51h0.01 M175.28 130.7h0.01 M136.58 166.25h0.01 M190.59 118.15h0.01 M106.07 196.04h0.01 M209.43 99.96h0.01 M136.81 166.1h0.01 M189.52 117.51h0.01 M182.48 124.32h0.01 M137.95 165.23h0.01 M134.43 169.67h0.01 M211.48 97.22h0.01 M149.55 155.48h0.01 M181.95 124.72h0.01 M245.09 66.03h0.01 M222.17 87.7h0.01 M221.3 87.87h0.01 M220.22 89.06h0.01 M222.29 87.17h0.01 M221.82 87.52h0.01 M135.89 166.56h0.01 M207.46 101.91h0.01 M115.22 186.5h0.01 M123.2 179.42h0.01 M106.1 196.63h0.01 M206.52 102.49h0.01 M145.79 159.93h0.01 M234.47 76.19h0.01 M216.14 92.95h0.01 M160.94 146.26h0.01 M248.73 62.56h0.01 M220.46 88.65h0.01 M224.16 85.14h0.01 M235.9 74.47h0.01 M250.38 61.3h0.01 M117.5 183.53h0.01 M221.27 88.71h0.01 M223.79 86.68h0.01 M188.72 119.27h0.01 M180.42 125.98h0.01 M207.54 100.87h0.01 M246.77 64.84h0.01 M152.94 153.47h0.01 M165.11 141.93h0.01 M103.27 199.87h0.01 M196.61 112.52h0.01 M219.16 89.77h0.01 M211.54 97.38h0.01 M179.28 127.06h0.01 M167.71 138.81h0.01 M220.56 89.14h0.01 M110.47 189.18h0.01 M227.42 82.11h0.01 M227.27 83.7h0.01 M112.43 187.2h0.01 M157.18 148.85h0.01 M232.09 77.77h0.01 M181.18 125.27h0.01 M109.26 192.78h0.01 M203.05 104.98h0.01 M194.36 114.04h0.01 M191.61 115.96h0.01 M158.4 146.25h0.01 M185.89 121.34h0.01 M168.36 138.89h0.01 M153.71 151.42h0.01 M203.43 104.47h0.01 M141.19 164.05h0.01 M201.66 106.18h0.01 M192.74 116.23h0.01 M243.19 68.52h0.01 M167.09 138.51h0.01 M152.09 152.21h0.01 M136.19 166.22h0.01 M119.6 181.28h0.01 M244.36 66.8h0.01 M229.87 80.47h0.01 M161 144.09h0.01 M109.73 192.82h0.01 M157.35 149.01h0.01 M96.44 205.14h0.01 M181.47 126.23h0.01 M250.15 61.47h0.01 M208.91 99.79h0.01 M102.02 198.51h0.01 M116.13 186.09h0.01 M116.01 186.71h0.01 M246.92 64.47h0.01 M243.68 67.2h0.01 M226.1 83.36h0.01 M189.34 117.79h0.01 M197.75 111.1h0.01 M135.07 167h0.01 M178.35 128.13h0.01 M155.85 148.81h0.01 M223.76 85.54h0.01 M125 178.99h0.01 M143.97 161.06h0.01 M201.75 106.82h0.01 M165.72 140.32h0.01 M129.17 172.31h0.01 M202.56 106.1h0.01 M231.44 79.03h0.01 M166.17 139.84h0.01 M245.68 65.36h0.01 M182.26 124.6h0.01 M98.79 200.9h0.01 M189.53 117.55h0.01 M193.77 113.69h0.01 M159.56 147.02h0.01 M216.33 93.96h0.01 M180.84 126.15h0.01 M135.43 166.86h0.01 M119.72 182.84h0.01 M243.22 67.47h0.01 M114.65 186.9h0.01 M181.93 125.12h0.01 M136.44 165.6h0.01 M195.02 112.57h0.01 M143.89 159.53h0.01 M203.01 104.79h0.01 M215.25 93.59h0.01 M237.74 72.94h0.01 M142.73 163h0.01 M159.3 147h0.01 M206.02 102.76h0.01 M195.9 111.46h0.01 M117.41 183.68h0.01 M111.02 188.87h0.01 M238.76 71.66h0.01 M248.99 62.91h0.01 M205.73 104.25h0.01 M167.45 138.15h0.01 M148.14 155.66h0.01 M185.67 121.19h0.01 M239.92 71.95h0.01 M188.27 118.8h0.01 M222.93 86.97h0.01 M226.18 84h0.01 M165.93 141.25h0.01 M135.48 166.95h0.01 M218.37 90.69h0.01 M149.57 156.8h0.01 M202.22 105.54h0.01 M242.79 67.91h0.01 M221.36 88.96h0.01 M214.73 94.91h0.01 M210.73 98.19h0.01 M195.45 114.24h0.01 M157.68 147.5h0.01 M138.64 164.94h0.01 M217.85 90.97h0.01 M207.38 101.37h0.01 M205.07 102.87h0.01 M172.9 133.48h0.01 M123.23 178.97h0.01 M214.59 94.38h0.01 M204.65 103.32h0.01 M204.29 104.47h0.01 M189.29 118.37h0.01 M252.7 58.93h0.01 M230.72 79.58h0.01 M211.63 97.83h0.01 M114.37 192.29h0.01 M142.64 160.25h0.01 M244.69 67.15h0.01 M145.16 161.23h0.01 M218.95 90.11h0.01 M200.63 108.78h0.01 M118.85 183.78h0.01 M249.83 61.4h0.01 M222.96 87.3h0.01 M156.65 148.79h0.01 M227.92 83.18h0.01 M251.14 60.64h0.01 M221.19 88.5h0.01 M248.68 62.34h0.01 M120.99 180.51h0.01 M135.48 166.29h0.01 M161.36 145.43h0.01 M130.77 172.79h0.01 M230.92 79.4h0.01 M125.73 180.32h0.01 M167.43 138.32h0.01 M193.29 113.89h0.01 M238.31 72.08h0.01 M225.73 83.71h0.01 M187.13 120.56h0.01 M246.72 64.33h0.01 M207.93 100.35h0.01 M248.19 62.95h0.01 M182.49 124.46h0.01 M227.62 82.93h0.01 M109.6 190.67h0.01 M140.33 164.34h0.01 M118.91 182.47h0.01 M118.76 181.72h0.01 M163.07 143.4h0.01 M134.93 169.03h0.01 M248.33 62.98h0.01 M207.11 101.4h0.01 M204.62 103.53h0.01 M168.05 138.47h0.01 M204.36 104.61h0.01 M243.5 67.43h0.01 M179.16 127.15h0.01 M117.58 183.37h0.01 M215.78 93.12h0.01 M166.58 141.72h0.01 M126.33 174.37h0.01 M152.43 151.87h0.01 M225.45 83.94h0.01 M218.13 91.58h0.01 M126.79 175.64h0.01 M192.69 115.09h0.01 M181.05 125.74h0.01 M194.68 113.89h0.01 M163.37 144.48h0.01 M165.73 140.17h0.01 M168.43 139.23h0.01 M142.59 160.58h0.01 M233.69 76.95h0.01 M179.22 127.45h0.01 M199.88 108.74h0.01 M150.22 155.46h0.01 M117.34 184.04h0.01 M181.61 124.68h0.01 M163.83 142.55h0.01 M140.1 162.56h0.01 M147.23 156.1h0.01 M151.61 153.33h0.01 M214.17 95.92h0.01 M240.16 70.5h0.01 M159.86 145.54h0.01 M189.55 118.33h0.01 M236.66 74.62h0.01 M163.6 141.7h0.01 M165.78 139.6h0.01 M126.63 174.87h0.01 M160.7 144.81h0.01 M135.81 166.39h0.01 M179.45 127.18h0.01 M144.13 158.72h0.01 M217.87 93.73h0.01 M220.78 89.65h0.01 M249.76 62.53h0.01 M207.32 100.82h0.01 M194.7 112.82h0.01 M186.36 122.91h0.01 M231.2 80.59h0.01 M147.92 157.54h0.01 M105.97 193.09h0.01 M141.87 163.55h0.01 M221.32 88.12h0.01 M210.89 99.57h0.01 M157.33 147.56h0.01 M225.37 84.87h0.01 M192.09 115.22h0.01 M244 66.95h0.01 M235.72 74.96h0.01 M135.86 166.78h0.01 M108.38 192.15h0.01 M173.62 135.63h0.01 M231.3 78.49h0.01 M185.31 122.05h0.01 M225.5 84.08h0.01 M156.62 149.01h0.01 M199.42 108.72h0.01 M126.35 175.98h0.01 M221.88 87.96h0.01 M174.57 132.28h0.01 M222.58 86.61h0.01 M116.2 185.58h0.01 M135.49 167.33h0.01 M230.95 79.09h0.01 M239.49 71.08h0.01 M248.98 62.63h0.01 M218.66 91.4h0.01 M197.83 110.26h0.01 M231.07 79.09h0.01 M226.8 82.92h0.01 M198.28 109.3h0.01 M216.73 92.04h0.01 M240.89 69.67h0.01 M226.56 83.03h0.01 M179.26 127.96h0.01 M230.64 80.08h0.01 M216.94 92.58h0.01 M182.92 125.05h0.01 M239.67 70.95h0.01 M139.4 163.96h0.01 M188.09 119.14h0.01 M223.1 87.87h0.01 M235.77 74.4h0.01 M251.02 60.18h0.01 M118.82 184.28h0.01 M174.63 131.83h0.01 M241.88 68.63h0.01 M169.28 136.26h0.01 M193.62 113.94h0.01 M163.6 143.5h0.01 M178.02 128.61h0.01 M132.51 171.52h0.01 M204.1 104.22h0.01 M187.6 120.25h0.01 M242.48 68.07h0.01 M110.52 188.97h0.01 M160.16 147.2h0.01 M162.82 143.35h0.01 M223.8 85.72h0.01 M119.88 182.97h0.01 M164.68 141.33h0.01 M219.86 89.81h0.01 M121.32 180.86h0.01 M160.52 146.14h0.01 M183.05 123.92h0.01 M105.72 197.65h0.01 M152.96 151.64h0.01 M141.94 161.42h0.01 M121.25 179.65h0.01 M115.04 187.53h0.01 M225.35 85.16h0.01 M201.01 108.01h0.01 M152.43 153.53h0.01 M170.57 138.23h0.01 M208.03 100.48h0.01 M206.55 101.72h0.01 M162.43 143.11h0.01 M145.95 158.66h0.01 M206.52 102.55h0.01 M243.07 67.93h0.01 M120.77 179.02h0.01 M168.83 138h0.01 M228.94 81.1h0.01 M137.33 166.52h0.01 M156.54 149.92h0.01 M219.98 89.98h0.01 M252.12 59.53h0.01 M169.69 136.8h0.01 M201.04 110.39h0.01 M215.47 94.4h0.01 M171.92 133.96h0.01 M153.5 150.68h0.01 M215.22 94.02h0.01 M118.11 183.34h0.01 M252.77 58.9h0.01 M226.63 83.43h0.01 M141.61 163.29h0.01 M189.83 118.35h0.01 M125.18 175.44h0.01 M165 141.25h0.01 M115.79 183.83h0.01 M125.35 180.61h0.01 M243.4 67.76h0.01 M128.39 173.58h0.01 M209.14 100.89h0.01 M249.64 62.38h0.01 M160.54 145.53h0.01 M220.41 90.24h0.01 M250.43 61.12h0.01 M224.14 85.4h0.01 M176.95 130.96h0.01 M198.7 109.99h0.01 M238.06 72.55h0.01 M217.17 93.6h0.01 M223.37 86.04h0.01 M144.8 159.04h0.01 M95.77 207.5h0.01 M178.3 127.88h0.01 M160.91 144.1h0.01 M158.29 146.65h0.01 M228.51 82.16h0.01 M209.24 99.35h0.01 M155.48 149.07h0.01 M173.67 132.69h0.01 M252.88 59.23h0.01 M238.26 73.09h0.01 M231.38 78.62h0.01 M191.24 116.62h0.01 M233.1 78.08h0.01 M132.45 171.73h0.01 M231.06 78.9h0.01 M138.54 165.27h0.01 M133.82 170.15h0.01 M132.01 170.66h0.01 M132.97 170.57h0.01 M242.68 68.13h0.01 M247.35 64.63h0.01 M125.19 175.94h0.01 M243.6 67.78h0.01 M180.09 126.86h0.01 M234.98 75.32h0.01 M160.95 144.2h0.01 M240.28 70.2h0.01 M100.31 200.28h0.01 M201.2 106.73h0.01 M175.58 132.58h0.01 M187.41 120.13h0.01 M229.26 80.81h0.01 M145.8 157.35h0.01 M231.13 78.78h0.01 M170.06 135.55h0.01 M171.42 135.75h0.01 M147.51 158.34h0.01 M221.53 88.43h0.01 M210.57 98.96h0.01 M114.1 187.46h0.01 M182.4 124.16h0.01 M196.21 111.47h0.01 M191.14 116.83h0.01 M232.53 77.52h0.01 M128.66 173.3h0.01 M152.94 152.38h0.01 M239.1 71.4h0.01 M249.7 61.49h0.01 M221.91 87.94h0.01 M188.6 119.42h0.01 M207.43 101h0.01 M213.94 94.99h0.01 M198.04 109.86h0.01 M177.77 129.2h0.01 M141.59 163.53h0.01 M168.82 136.81h0.01 M186.93 122.61h0.01 M181 127.32h0.01 M236.54 73.86h0.01 M188.78 118.75h0.01 M117.25 183.74h0.01 M173.48 133.73h0.01 M251.35 59.97h0.01 M193.01 114.4h0.01 M213.28 95.7h0.01 M190.61 117.36h0.01 M174.97 131.71h0.01 M213.02 95.69h0.01 M187.7 119.19h0.01 M149.29 155.66h0.01 M223.98 85.72h0.01 M249.67 61.38h0.01 M189.42 118.94h0.01 M123.6 176.71h0.01 M170.35 136.13h0.01 M200.23 107.55h0.01 M194.94 114.37h0.01 M250.67 61.05h0.01 M161.37 143.73h0.01 M198.96 109.35h0.01 M246.62 64.84h0.01 M179.64 127.93h0.01 M196.05 112.51h0.01 M152.49 152.28h0.01 M115.2 184.89h0.01 M193.77 115.14h0.01 M231.13 79.41h0.01 M203.91 104.75h0.01 M133.94 167.62h0.01 M179.96 127h0.01 M251.74 60.04h0.01 M229.02 81.56h0.01 M176.17 130.24h0.01 M242.56 68.17h0.01 M241.91 68.94h0.01 M212.93 96.49h0.01 M176.74 130.86h0.01 M215.15 94.72h0.01 M244.29 66.38h0.01 M240.5 70.55h0.01 M217.96 90.97h0.01 M211.58 97.69h0.01 M154.25 150.79h0.01 M209 99.58h0.01 M149.62 154.98h0.01 M154.43 152.45h0.01 M208.06 100.84h0.01 M208.8 99.45h0.01 M177.72 129.57h0.01 M209.46 99.18h0.01 M244.31 67.36h0.01 M239.29 72.41h0.01 M144.74 159.56h0.01 M127.1 174.85h0.01 M136.64 166.27h0.01 M203.55 105.46h0.01 M189.98 117.19h0.01 M204.74 103.44h0.01 M216.76 93.34h0.01 M232.55 78.34h0.01 M123.52 177.16h0.01 M116.75 185.86h0.01 M146.63 157.15h0.01 M249.05 62.08h0.01 M183.75 123.99h0.01 M250.44 60.87h0.01 M207.12 101.56h0.01 M167.64 138.19h0.01 M243.82 67.08h0.01 M179.85 127.13h0.01 M246.13 64.86h0.01 M122.06 178.13h0.01 M192.84 114.6h0.01 M161.75 144.68h0.01 M234.02 76.17h0.01 M252.36 58.94h0.01 M150.91 152.99h0.01 M167.72 139.05h0.01 M158.45 146.32h0.01 M184.61 122.6h0.01 M190.93 116.13h0.01 M199.23 109.79h0.01 M181.47 125.69h0.01 M142.79 160.57h0.01 M158.28 146.47h0.01 M176.05 130.64h0.01 M236.77 73.63h0.01 M158.09 148.37h0.01 M127.18 174.22h0.01 M178.2 128.92h0.01 M219.97 89.77h0.01 M235.94 74.47h0.01 M182.3 124.23h0.01 M211.48 98.43h0.01 M187.52 121.09h0.01 M237.86 72.98h0.01 M215.5 93.5h0.01 M233.84 77.53h0.01 M223.85 85.44h0.01 M175.5 130.81h0.01 M123.5 179.03h0.01 M241.63 69.62h0.01 M146.7 159.27h0.01 M226.06 84.24h0.01 M158.08 146.81h0.01 M189.1 118.74h0.01 M178.59 128.56h0.01 M223.73 85.86h0.01 M140.13 163.28h0.01 M147.15 156.76h0.01 M188.93 118.89h0.01 M224.51 85.4h0.01 M156.86 147.59h0.01 M190.96 117.51h0.01 M105.84 193.04h0.01 M201.61 106.92h0.01 M252.86 58.65h0.01 M159.66 145.71h0.01 M147.61 155.63h0.01 M220.96 88.12h0.01 M239.58 71.38h0.01 M133.56 168.17h0.01 M193.03 115.43h0.01 M227.8 82.31h0.01 M206.81 103.16h0.01 M214.57 94.56h0.01 M197.35 110.35h0.01 M247.01 64.36h0.01 M159 145.7h0.01 M150.11 153.67h0.01 M127.97 175.57h0.01 M216.58 92.37h0.01 M100.27 198.87h0.01 M239.31 71.77h0.01 M174.5 131.82h0.01 M197.8 110.8h0.01 M222.05 87.64h0.01 M183.33 124.56h0.01 M189.59 118.51h0.01 M157.95 147.82h0.01 M207.88 102.76h0.01 M114.3 187.31h0.01 M202.27 105.6h0.01 M154.92 150.63h0.01 M232.67 77.67h0.01 M150.94 154.18h0.01 M194.8 113.26h0.01 M178.71 128.89h0.01 M193.27 114.31h0.01 M167.83 138.67h0.01 M180.25 126.2h0.01 M151.59 153.42h0.01 M102.88 196.82h0.01 M119.71 181.5h0.01 M152.93 151.67h0.01 M195.41 112.27h0.01 M158.34 148.51h0.01 M244.32 66.54h0.01 M239.5 70.89h0.01 M214.43 94.25h0.01 M167.34 140.06h0.01 M189.52 117.52h0.01 M209.1 100.25h0.01 M234.93 75.13h0.01 M197.87 110.89h0.01 M238.44 73.17h0.01 M244.77 66.07h0.01 M174.74 133.96h0.01 M199.61 109.43h0.01 M192.73 114.57h0.01 M190.95 117.44h0.01 M210.35 98h0.01 M96.6 204.24h0.01 M232.09 77.9h0.01 M223.29 88.07h0.01 M122.34 179.68h0.01 M122.41 181.82h0.01 M238.93 71.47h0.01 M142.17 161.24h0.01 M220.17 88.93h0.01 M192.58 114.68h0.01 M138.36 165.04h0.01 M97.26 203.57h0.01 M240.1 70.28h0.01 M246.41 64.42h0.01 M151.66 153.59h0.01 M196.72 112.05h0.01 M124.18 176.13h0.01 M125.8 177.9h0.01 M169.84 136.99h0.01 M131.53 170.43h0.01 M209.3 99.87h0.01 M168.11 139.33h0.01 M232.73 77.34h0.01 M195.01 112.8h0.01 M180.35 127.79h0.01 M164.44 143h0.01 M86.9 225.0h0.01 M95.5 215.6h0.01 M96.8 212.4h0.01 M104 201h0.01 M106 205h0.01 M112 197h0.01 M113 190h0.01 M118 186h0.01 M122 190h0.01 M126 180h0.01 M128 186h0.01 M131 176h0.01 M136 178h0.01 M140 170h0.01 M144 166h0.01 M150 162h0.01 M155 158h0.01 M160 153h0.01 M176 133h0.01 M190 129h0.01 M208 104h0.01 M98.8 237.0h0.01 M86.5 224.4h0.01 M96.5 212.5h0.01 M99.8 209.5h0.01 M102.9 202.5h0.01 M105 199h0.01" stroke="#a5141b" stroke-width="1.6" stroke-linecap="round"/>
<text x="205.7" y="79.8" font-size="6.8" text-anchor="start" fill="#2e2e2e" textLength="17.5" lengthAdjust="spacingAndGlyphs" font-style="italic" style="stroke-width:0.06px">CALR</text>
<text x="196.5" y="87" font-size="6.8" text-anchor="start" fill="#2e2e2e" textLength="11.4" lengthAdjust="spacingAndGlyphs" font-style="italic" style="stroke-width:0.06px">MIF</text>
<text x="224.3" y="97.3" font-size="6.8" text-anchor="start" fill="#2e2e2e" textLength="13.1" lengthAdjust="spacingAndGlyphs" font-style="italic" style="stroke-width:0.06px">AVP</text>
<text x="187.7" y="95.8" font-size="6.8" text-anchor="start" fill="#2e2e2e" textLength="16.2" lengthAdjust="spacingAndGlyphs" font-style="italic" style="stroke-width:0.06px">IGLL1</text>
<text x="165.8" y="99.5" font-size="6.8" text-anchor="start" fill="#2e2e2e" textLength="19.1" lengthAdjust="spacingAndGlyphs" font-style="italic" style="stroke-width:0.06px">SRGN</text>
<text x="217.7" y="105.2" font-size="6.8" text-anchor="start" fill="#2e2e2e" textLength="30" lengthAdjust="spacingAndGlyphs" font-style="italic" style="stroke-width:0.06px">KIAA0125</text>
<text x="164.1" y="119.8" font-size="6.8" text-anchor="start" fill="#2e2e2e" textLength="13.1" lengthAdjust="spacingAndGlyphs" font-style="italic" style="stroke-width:0.06px">SPI1</text>
<text x="193.6" y="122" font-size="6.8" text-anchor="start" fill="#2e2e2e" textLength="18.7" lengthAdjust="spacingAndGlyphs" font-style="italic" style="stroke-width:0.06px">HOPX</text>
<text x="196.9" y="129" font-size="6.8" text-anchor="start" fill="#2e2e2e" textLength="15.8" lengthAdjust="spacingAndGlyphs" font-style="italic" style="stroke-width:0.06px">MSI2</text>
<text x="188.2" y="135.8" font-size="6.8" text-anchor="start" fill="#2e2e2e" textLength="22.3" lengthAdjust="spacingAndGlyphs" font-style="italic" style="stroke-width:0.06px">SOCS2</text>
<text x="190.4" y="143.3" font-size="6.8" text-anchor="start" fill="#2e2e2e" textLength="21.9" lengthAdjust="spacingAndGlyphs" font-style="italic" style="stroke-width:0.06px">MEF2C</text>
<text x="171.7" y="145" font-size="6.8" text-anchor="start" fill="#2e2e2e" textLength="15.4" lengthAdjust="spacingAndGlyphs" font-style="italic" style="stroke-width:0.06px">BEX2</text>
<text x="187.7" y="150.5" font-size="6.8" text-anchor="start" fill="#2e2e2e" textLength="17.0" lengthAdjust="spacingAndGlyphs" font-style="italic" style="stroke-width:0.06px">JAML</text>
<text x="127.9" y="120.7" font-size="6.8" text-anchor="start" fill="#2e2e2e" textLength="18.8" lengthAdjust="spacingAndGlyphs" font-style="italic" style="stroke-width:0.06px">PLIN2</text>
<text x="145.6" y="126.6" font-size="6.8" text-anchor="start" fill="#2e2e2e" textLength="18.2" lengthAdjust="spacingAndGlyphs" font-style="italic" style="stroke-width:0.06px">LMO4</text>
<text x="119" y="128.2" font-size="6.8" text-anchor="start" fill="#2e2e2e" textLength="21" lengthAdjust="spacingAndGlyphs" font-style="italic" style="stroke-width:0.06px">GATA2</text>
<text x="123.6" y="135.9" font-size="6.8" text-anchor="start" fill="#2e2e2e" textLength="17.3" lengthAdjust="spacingAndGlyphs" font-style="italic" style="stroke-width:0.06px">CTSG</text>
<text x="97.9" y="137.6" font-size="6.8" text-anchor="start" fill="#2e2e2e" textLength="23.4" lengthAdjust="spacingAndGlyphs" font-style="italic" style="stroke-width:0.06px">IGFBP2</text>
<text x="100.3" y="145.3" font-size="6.8" text-anchor="start" fill="#2e2e2e" textLength="20.3" lengthAdjust="spacingAndGlyphs" font-style="italic" style="stroke-width:0.06px">CEBPA</text>
<text x="124.6" y="148.1" font-size="6.8" text-anchor="start" fill="#2e2e2e" textLength="14.7" lengthAdjust="spacingAndGlyphs" font-style="italic" style="stroke-width:0.06px">MYB</text>
<text x="65.2" y="150.9" font-size="6.8" text-anchor="start" fill="#2e2e2e" textLength="15.7" lengthAdjust="spacingAndGlyphs" font-style="italic" style="stroke-width:0.06px">MPO</text>
<text x="98.4" y="152.8" font-size="6.8" text-anchor="start" fill="#2e2e2e" textLength="18.7" lengthAdjust="spacingAndGlyphs" font-style="italic" style="stroke-width:0.06px">NME2</text>
<text x="89" y="159.8" font-size="6.8" text-anchor="start" fill="#2e2e2e" textLength="21" lengthAdjust="spacingAndGlyphs" font-style="italic" style="stroke-width:0.06px">IFITM1</text>
<text x="70.4" y="166.8" font-size="6.8" text-anchor="start" fill="#2e2e2e" textLength="29.2" lengthAdjust="spacingAndGlyphs" font-style="italic" style="stroke-width:0.06px">SLC27A2</text>
<text x="73.9" y="175.7" font-size="6.8" text-anchor="start" fill="#2e2e2e" textLength="21" lengthAdjust="spacingAndGlyphs" font-style="italic" style="stroke-width:0.06px">PRAM1</text>
<text x="76.9" y="184.3" font-size="6.8" text-anchor="start" fill="#2e2e2e" textLength="18" lengthAdjust="spacingAndGlyphs" font-style="italic" style="stroke-width:0.06px">GFI1B</text>
<text x="50.5" y="192" font-size="6.8" text-anchor="start" fill="#2e2e2e" textLength="16.4" lengthAdjust="spacingAndGlyphs" font-style="italic" style="stroke-width:0.06px">CST7</text>
<text x="60.6" y="203" font-size="6.8" text-anchor="start" fill="#2e2e2e" textLength="16.8" lengthAdjust="spacingAndGlyphs" font-style="italic" style="stroke-width:0.06px">EXD3</text>
<text x="110.5" y="211.9" font-size="6.8" text-anchor="start" fill="#2e2e2e" textLength="27.6" lengthAdjust="spacingAndGlyphs" font-style="italic" style="stroke-width:0.06px">GLYATL2</text>
<text x="98.4" y="220" font-size="6.8" text-anchor="start" fill="#2e2e2e" textLength="12.8" lengthAdjust="spacingAndGlyphs" font-style="italic" style="stroke-width:0.06px">MX1</text>
<text x="94.2" y="229.9" font-size="6.8" text-anchor="start" fill="#2e2e2e" textLength="27.6" lengthAdjust="spacingAndGlyphs" font-style="italic" style="stroke-width:0.06px">SHANK3</text>
<text x="103.5" y="240.8" font-size="6.8" text-anchor="start" fill="#2e2e2e" textLength="26.5" lengthAdjust="spacingAndGlyphs" font-style="italic" style="stroke-width:0.06px">MECOM</text>
<text x="122.9" y="204.2" font-size="6.8" text-anchor="start" fill="#2e2e2e" textLength="25" lengthAdjust="spacingAndGlyphs" font-style="italic" style="stroke-width:0.06px">HEMGN</text>
<text x="133.4" y="196" font-size="6.8" text-anchor="start" fill="#2e2e2e" textLength="22.2" lengthAdjust="spacingAndGlyphs" font-style="italic" style="stroke-width:0.06px">HOXA7</text>
<text x="138.6" y="187.8" font-size="6.8" text-anchor="start" fill="#2e2e2e" textLength="22.9" lengthAdjust="spacingAndGlyphs" font-style="italic" style="stroke-width:0.06px">RBPMS</text>
<text x="145.6" y="179.6" font-size="6.8" text-anchor="start" fill="#2e2e2e" textLength="21" lengthAdjust="spacingAndGlyphs" font-style="italic" style="stroke-width:0.06px">PRSS2</text>
<text x="152.1" y="173.3" font-size="6.8" text-anchor="start" fill="#2e2e2e" textLength="10.5" lengthAdjust="spacingAndGlyphs" font-style="italic" style="stroke-width:0.06px">LTB</text>
<text x="169.6" y="175.7" font-size="6.8" text-anchor="start" fill="#2e2e2e" textLength="24.6" lengthAdjust="spacingAndGlyphs" font-style="italic" style="stroke-width:0.06px">TM4SF1</text>
<text x="166.1" y="168.7" font-size="6.8" text-anchor="start" fill="#2e2e2e" textLength="21.1" lengthAdjust="spacingAndGlyphs" font-style="italic" style="stroke-width:0.06px">MLLT3</text>
<text x="165" y="162.1" font-size="6.8" text-anchor="start" fill="#2e2e2e" textLength="22.2" lengthAdjust="spacingAndGlyphs" font-style="italic" style="stroke-width:0.06px">ALDH2</text>
<text x="161.5" y="155.1" font-size="6.8" text-anchor="start" fill="#2e2e2e" textLength="23.3" lengthAdjust="spacingAndGlyphs" font-style="italic" style="stroke-width:0.06px">HOXA9</text>
<path d="M215.5 81L213 88 M205 87.5L214 92 M224 92.5L213 88.5 M195 97L191 105 M182 100L186 111 M217 102.8L208 104 M169 120L161 130 M193 120L176 131 M196 126.6L178 134 M188 133.4L175 136 M190 140.9L168 139 M171 142.6L165 140 M187 148.1L158 149 M140 121L146 142 M152 127L149 145 M138 128L145 143 M141 134L146 145 M121 136L140 145 M119 144L132 158 M139 146L145 147 M81 149L86 154 M117 152L126 160 M110 158L122 164 M100 165L115 170 M95 174L107 177 M95 182L109 180 M66 189L74 186 M77 199L83 194 M110 207L104 201 M102 214L100 207 M94 227L86 225 M103 238L99 237 M134 198L146 173 M142 190L150 168 M148 182L153 166 M152 174L158 161 M155 168L156 161 M169 172L150 155 M166 165L152 156 M165 159L152 155 M161 152L154 151" stroke="#2a2a2a" stroke-width="0.6" fill="none"/>
<rect x="354" y="12.3" width="298" height="93.1" fill="none" stroke="#8c8c8c" stroke-width="0.8"/>
<line x1="350.5" y1="101.6" x2="354" y2="101.6" stroke="#8c8c8c" stroke-width="0.7"/>
<text x="346.7" y="104.2" font-size="7.4" text-anchor="middle" fill="#333" >0</text>
<line x1="350.5" y1="83.9" x2="354" y2="83.9" stroke="#8c8c8c" stroke-width="0.7"/>
<text x="346.7" y="86.5" font-size="7.4" text-anchor="middle" fill="#333" >1</text>
<line x1="350.5" y1="66.2" x2="354" y2="66.2" stroke="#8c8c8c" stroke-width="0.7"/>
<text x="346.7" y="68.8" font-size="7.4" text-anchor="middle" fill="#333" >2</text>
<line x1="350.5" y1="48.5" x2="354" y2="48.5" stroke="#8c8c8c" stroke-width="0.7"/>
<text x="346.7" y="51.1" font-size="7.4" text-anchor="middle" fill="#333" >3</text>
<line x1="350.5" y1="30.8" x2="354" y2="30.8" stroke="#8c8c8c" stroke-width="0.7"/>
<text x="346.7" y="33.4" font-size="7.4" text-anchor="middle" fill="#333" >4</text>
<line x1="350.5" y1="13.1" x2="354" y2="13.1" stroke="#8c8c8c" stroke-width="0.7"/>
<text x="346.7" y="15.7" font-size="7.4" text-anchor="middle" fill="#333" >5</text>
<text transform="translate(332.8,59.9) rotate(-90)" font-size="9" text-anchor="middle" fill="#231f20" textLength="45" lengthAdjust="spacingAndGlyphs">Expression</text>
<line x1="362.8" y1="105.4" x2="362.8" y2="108.9" stroke="#8c8c8c" stroke-width="0.7"/>
<text transform="translate(366.4,116.2) rotate(-45)" font-size="7.3" font-style="italic" text-anchor="end" fill="#2e2e2e" style="stroke-width:0.08px">MECOM</text>
<line x1="377.6" y1="105.4" x2="377.6" y2="108.9" stroke="#8c8c8c" stroke-width="0.7"/>
<text transform="translate(381.2,116.2) rotate(-45)" font-size="7.3" font-style="italic" text-anchor="end" fill="#2e2e2e" style="stroke-width:0.08px">HOPX</text>
<line x1="392.4" y1="105.4" x2="392.4" y2="108.9" stroke="#8c8c8c" stroke-width="0.7"/>
<text transform="translate(396,116.2) rotate(-45)" font-size="7.3" font-style="italic" text-anchor="end" fill="#2e2e2e" style="stroke-width:0.08px">RBPMS</text>
<line x1="407.2" y1="105.4" x2="407.2" y2="108.9" stroke="#8c8c8c" stroke-width="0.7"/>
<text transform="translate(410.8,116.2) rotate(-45)" font-size="7.3" font-style="italic" text-anchor="end" fill="#2e2e2e" style="stroke-width:0.08px">MLLT3</text>
<line x1="422" y1="105.4" x2="422" y2="108.9" stroke="#8c8c8c" stroke-width="0.7"/>
<text transform="translate(425.6,116.2) rotate(-45)" font-size="7.3" font-style="italic" text-anchor="end" fill="#2e2e2e" style="stroke-width:0.08px">HEMGN</text>
<line x1="436.8" y1="105.4" x2="436.8" y2="108.9" stroke="#8c8c8c" stroke-width="0.7"/>
<text transform="translate(440.4,116.2) rotate(-45)" font-size="7.3" font-style="italic" text-anchor="end" fill="#2e2e2e" style="stroke-width:0.08px">SOCS2</text>
<line x1="451.6" y1="105.4" x2="451.6" y2="108.9" stroke="#8c8c8c" stroke-width="0.7"/>
<text transform="translate(455.2,116.2) rotate(-45)" font-size="7.3" font-style="italic" text-anchor="end" fill="#2e2e2e" style="stroke-width:0.08px">ALDH2</text>
<line x1="466.4" y1="105.4" x2="466.4" y2="108.9" stroke="#8c8c8c" stroke-width="0.7"/>
<text transform="translate(470,116.2) rotate(-45)" font-size="7.3" font-style="italic" text-anchor="end" fill="#2e2e2e" style="stroke-width:0.08px">MSI2</text>
<line x1="481.2" y1="105.4" x2="481.2" y2="108.9" stroke="#8c8c8c" stroke-width="0.7"/>
<text transform="translate(484.8,116.2) rotate(-45)" font-size="7.3" font-style="italic" text-anchor="end" fill="#2e2e2e" style="stroke-width:0.08px">JAML</text>
<line x1="496" y1="105.4" x2="496" y2="108.9" stroke="#8c8c8c" stroke-width="0.7"/>
<text transform="translate(499.6,116.2) rotate(-45)" font-size="7.3" font-style="italic" text-anchor="end" fill="#2e2e2e" style="stroke-width:0.08px">BEX2</text>
<line x1="510.8" y1="105.4" x2="510.8" y2="108.9" stroke="#8c8c8c" stroke-width="0.7"/>
<text transform="translate(514.4,116.2) rotate(-45)" font-size="7.3" font-style="italic" text-anchor="end" fill="#2e2e2e" style="stroke-width:0.08px">AVP</text>
<line x1="525.6" y1="105.4" x2="525.6" y2="108.9" stroke="#8c8c8c" stroke-width="0.7"/>
<text transform="translate(529.2,116.2) rotate(-45)" font-size="7.3" font-style="italic" text-anchor="end" fill="#2e2e2e" style="stroke-width:0.08px">HOXA9</text>
<line x1="540.4" y1="105.4" x2="540.4" y2="108.9" stroke="#8c8c8c" stroke-width="0.7"/>
<text transform="translate(544,116.2) rotate(-45)" font-size="7.3" font-style="italic" text-anchor="end" fill="#2e2e2e" style="stroke-width:0.08px">HOXA7</text>
<line x1="555.2" y1="105.4" x2="555.2" y2="108.9" stroke="#8c8c8c" stroke-width="0.7"/>
<text transform="translate(558.8,116.2) rotate(-45)" font-size="7.3" font-style="italic" text-anchor="end" fill="#2e2e2e" style="stroke-width:0.08px">TM4SF1</text>
<line x1="570" y1="105.4" x2="570" y2="108.9" stroke="#8c8c8c" stroke-width="0.7"/>
<text transform="translate(573.6,116.2) rotate(-45)" font-size="7.3" font-style="italic" text-anchor="end" fill="#2e2e2e" style="stroke-width:0.08px">PRSS2</text>
<line x1="584.8" y1="105.4" x2="584.8" y2="108.9" stroke="#8c8c8c" stroke-width="0.7"/>
<text transform="translate(588.4,116.2) rotate(-45)" font-size="7.3" font-style="italic" text-anchor="end" fill="#2e2e2e" style="stroke-width:0.08px">MX1</text>
<line x1="599.6" y1="105.4" x2="599.6" y2="108.9" stroke="#8c8c8c" stroke-width="0.7"/>
<text transform="translate(603.2,116.2) rotate(-45)" font-size="7.3" font-style="italic" text-anchor="end" fill="#2e2e2e" style="stroke-width:0.08px">KIAA0125</text>
<line x1="614.4" y1="105.4" x2="614.4" y2="108.9" stroke="#8c8c8c" stroke-width="0.7"/>
<text transform="translate(618,116.2) rotate(-45)" font-size="7.3" font-style="italic" text-anchor="end" fill="#2e2e2e" style="stroke-width:0.08px">LTB</text>
<line x1="629.2" y1="105.4" x2="629.2" y2="108.9" stroke="#8c8c8c" stroke-width="0.7"/>
<text transform="translate(632.8,116.2) rotate(-45)" font-size="7.3" font-style="italic" text-anchor="end" fill="#2e2e2e" style="stroke-width:0.08px">GLYATL2</text>
<line x1="644" y1="105.4" x2="644" y2="108.9" stroke="#8c8c8c" stroke-width="0.7"/>
<text transform="translate(647.6,116.2) rotate(-45)" font-size="7.3" font-style="italic" text-anchor="end" fill="#2e2e2e" style="stroke-width:0.08px">SHANK3</text>
<path d="M360.6 98.6h.01 M357.6 98.6h.01 M361.0 98.9h.01 M360.1 98.9h.01 M360.3 98.5h.01 M359.6 98.1h.01 M365.6 97.9h.01 M365.6 96.8h.01 M367.2 97.0h.01 M364.8 96.5h.01 M366.6 98.6h.01 M366.8 96.3h.01 M366.2 94.7h.01 M374.2 95.8h.01 M374.1 94.8h.01 M377.2 91.1h.01 M375.4 92.8h.01 M377.0 92.9h.01 M375.4 95.7h.01 M374.2 88.6h.01 M374.9 84.9h.01 M375.0 87.7h.01 M376.2 91.9h.01 M374.7 88.3h.01 M375.2 87.8h.01 M373.7 87.9h.01 M374.6 90.4h.01 M374.4 95.8h.01 M374.7 79.7h.01 M372.8 79.3h.01 M373.8 94.0h.01 M375.7 78.4h.01 M375.7 81.0h.01 M377.0 85.6h.01 M376.9 93.6h.01 M379.5 88.5h.01 M380.6 91.0h.01 M380.0 93.6h.01 M380.7 94.1h.01 M380.3 95.5h.01 M379.8 82.8h.01 M381.7 95.2h.01 M381.6 88.3h.01 M379.9 87.8h.01 M380.7 87.9h.01 M380.9 84.5h.01 M381.1 92.9h.01 M380.5 81.1h.01 M379.5 95.9h.01 M380.3 86.5h.01 M381.0 91.8h.01 M379.5 89.6h.01 M380.7 81.5h.01 M380.4 90.6h.01 M381.6 94.5h.01 M390.7 95.4h.01 M390.3 96.6h.01 M390.2 89.9h.01 M389.2 97.0h.01 M390.6 98.0h.01 M390.6 97.0h.01 M389.3 94.1h.01 M388.7 96.1h.01 M389.6 93.3h.01 M387.4 89.9h.01 M391.6 97.7h.01 M388.6 95.3h.01 M389.5 88.7h.01 M389.9 91.8h.01 M387.5 92.9h.01 M389.7 96.6h.01 M388.0 95.6h.01 M395.1 92.9h.01 M394.5 94.1h.01 M395.0 96.4h.01 M394.5 97.7h.01 M395.2 95.5h.01 M395.2 94.7h.01 M394.8 91.5h.01 M394.3 96.8h.01 M395.6 95.5h.01 M394.4 95.5h.01 M395.7 96.2h.01 M394.5 97.0h.01 M394.3 97.1h.01 M392.8 97.7h.01 M394.7 94.4h.01 M395.2 96.9h.01 M393.8 97.6h.01 M395.5 96.1h.01 M396.1 96.2h.01 M405.8 93.8h.01 M403.1 90.9h.01 M403.1 93.5h.01 M404.9 94.4h.01 M404.4 91.1h.01 M404.6 93.7h.01 M405.8 93.4h.01 M403.6 82.6h.01 M404.4 83.1h.01 M404.0 85.7h.01 M404.9 87.1h.01 M403.3 82.2h.01 M404.5 93.2h.01 M404.5 93.0h.01 M406.5 78.7h.01 M404.1 90.7h.01 M405.3 85.2h.01 M404.1 95.5h.01 M404.5 93.3h.01 M403.4 84.6h.01 M404.0 92.9h.01 M404.7 96.6h.01 M403.4 95.3h.01 M403.9 93.6h.01 M410.5 92.7h.01 M411.4 96.6h.01 M409.8 89.9h.01 M410.6 96.1h.01 M410.1 92.7h.01 M411.0 93.3h.01 M411.2 96.0h.01 M409.4 90.2h.01 M410.4 88.9h.01 M408.2 96.8h.01 M411.8 96.2h.01 M409.9 93.1h.01 M412.9 91.9h.01 M408.9 90.8h.01 M412.7 91.8h.01 M409.6 88.8h.01 M410.2 93.3h.01 M409.6 91.2h.01 M411.8 95.4h.01 M409.3 80.7h.01 M409.9 96.4h.01 M410.1 95.0h.01 M410.9 86.2h.01 M409.7 96.9h.01 M411.4 91.6h.01 M419.1 95.1h.01 M418.6 96.8h.01 M418.2 91.1h.01 M418.9 91.0h.01 M418.2 94.3h.01 M419.3 96.6h.01 M419.8 95.0h.01 M419.3 93.3h.01 M420.1 98.3h.01 M418.3 82.8h.01 M417.9 97.0h.01 M419.7 96.3h.01 M416.9 95.5h.01 M419.4 92.4h.01 M419.5 92.5h.01 M418.6 91.0h.01 M420.8 97.5h.01 M419.9 96.1h.01 M418.7 93.0h.01 M420.8 98.2h.01 M417.8 87.9h.01 M419.3 93.9h.01 M419.9 91.5h.01 M426.0 85.7h.01 M425.7 89.8h.01 M423.3 95.8h.01 M424.4 83.6h.01 M422.2 99.0h.01 M426.7 96.2h.01 M425.5 89.6h.01 M426.4 95.6h.01 M424.4 87.7h.01 M425.4 90.9h.01 M424.6 95.2h.01 M425.6 92.8h.01 M426.1 84.6h.01 M424.6 87.0h.01 M425.2 85.3h.01 M424.8 94.8h.01 M422.8 87.7h.01 M424.4 93.0h.01 M426.1 93.8h.01 M424.7 98.5h.01 M425.1 96.2h.01 M424.1 88.1h.01 M424.0 98.2h.01 M424.3 94.6h.01 M424.4 94.5h.01 M433.4 94.2h.01 M433.8 86.0h.01 M433.8 88.7h.01 M433.3 93.8h.01 M435.2 93.0h.01 M434.7 81.8h.01 M433.3 83.0h.01 M433.5 95.7h.01 M433.1 90.5h.01 M435.5 78.7h.01 M434.4 93.9h.01 M434.1 96.5h.01 M434.0 93.3h.01 M434.4 96.7h.01 M434.1 93.1h.01 M433.4 92.6h.01 M434.0 88.4h.01 M434.8 92.5h.01 M433.5 88.3h.01 M434.3 95.2h.01 M434.3 92.9h.01 M432.9 95.4h.01 M432.8 91.1h.01 M433.2 94.1h.01 M440.4 82.0h.01 M439.8 79.4h.01 M438.0 95.8h.01 M439.9 74.7h.01 M440.8 90.4h.01 M438.8 89.7h.01 M440.2 90.3h.01 M440.0 84.1h.01 M438.1 88.8h.01 M441.1 83.9h.01 M439.6 86.4h.01 M440.3 87.1h.01 M439.4 86.0h.01 M439.7 96.2h.01 M441.1 88.7h.01 M439.1 93.3h.01 M440.2 90.4h.01 M439.5 93.2h.01 M439.0 87.2h.01 M438.3 84.2h.01 M440.4 85.2h.01 M439.8 81.3h.01 M448.1 97.8h.01 M449.4 93.4h.01 M448.5 91.1h.01 M447.1 89.1h.01 M447.6 90.4h.01 M446.6 95.1h.01 M448.8 93.0h.01 M448.7 86.5h.01 M448.4 96.3h.01 M448.9 94.2h.01 M447.8 97.9h.01 M448.6 87.5h.01 M449.6 86.9h.01 M448.0 97.5h.01 M448.7 86.3h.01 M449.0 92.6h.01 M448.7 86.5h.01 M449.7 91.4h.01 M451.3 86.2h.01 M449.3 89.4h.01 M454.1 92.6h.01 M454.4 91.5h.01 M452.3 87.9h.01 M453.9 94.7h.01 M454.5 96.9h.01 M454.7 94.1h.01 M453.6 93.6h.01 M454.1 95.0h.01 M455.2 95.8h.01 M454.1 93.2h.01 M454.6 96.7h.01 M455.0 91.5h.01 M454.8 87.3h.01 M452.7 91.5h.01 M455.2 88.4h.01 M454.9 87.3h.01 M453.8 92.9h.01 M454.2 86.6h.01 M455.1 95.6h.01 M463.7 81.8h.01 M462.7 71.0h.01 M463.9 90.6h.01 M464.7 86.4h.01 M462.6 90.7h.01 M461.8 86.8h.01 M464.2 88.6h.01 M463.3 94.2h.01 M462.0 78.4h.01 M463.1 91.7h.01 M463.9 68.9h.01 M463.4 74.6h.01 M465.0 79.0h.01 M463.6 68.7h.01 M462.2 65.3h.01 M464.1 67.7h.01 M464.2 92.6h.01 M462.9 94.1h.01 M463.0 83.3h.01 M463.4 81.4h.01 M463.6 87.1h.01 M463.4 92.0h.01 M463.1 85.8h.01 M463.2 74.7h.01 M462.4 94.0h.01 M464.1 91.4h.01 M464.1 93.5h.01 M462.5 84.1h.01 M463.9 90.8h.01 M460.9 93.9h.01 M463.0 87.3h.01 M463.9 71.3h.01 M462.5 67.8h.01 M464.8 94.6h.01 M463.8 84.6h.01 M463.0 93.0h.01 M463.9 78.8h.01 M462.6 76.0h.01 M463.1 90.5h.01 M463.0 77.5h.01 M464.1 94.7h.01 M464.3 92.2h.01 M462.4 82.5h.01 M464.1 73.4h.01 M462.5 66.5h.01 M464.8 74.6h.01 M464.4 93.3h.01 M463.8 75.9h.01 M462.7 89.2h.01 M462.2 92.6h.01 M462.2 81.8h.01 M462.2 62.7h.01 M463.4 75.3h.01 M463.4 82.2h.01 M463.7 79.9h.01 M462.0 82.0h.01 M463.7 82.5h.01 M464.4 94.7h.01 M461.4 89.4h.01 M469.6 86.0h.01 M468.4 87.3h.01 M468.5 89.1h.01 M469.2 69.7h.01 M468.5 70.3h.01 M470.3 90.7h.01 M468.5 89.8h.01 M471.5 78.7h.01 M470.8 89.8h.01 M470.0 88.9h.01 M470.5 94.3h.01 M468.4 92.2h.01 M468.8 90.3h.01 M468.9 85.5h.01 M469.5 93.2h.01 M472.0 86.1h.01 M470.3 82.3h.01 M469.3 75.0h.01 M471.1 88.5h.01 M468.0 87.7h.01 M470.5 82.1h.01 M470.3 86.4h.01 M467.8 89.8h.01 M470.8 76.4h.01 M469.1 79.7h.01 M470.7 93.2h.01 M468.2 74.6h.01 M468.0 76.9h.01 M467.6 68.6h.01 M468.5 92.9h.01 M468.4 90.1h.01 M469.8 85.8h.01 M469.0 93.4h.01 M470.1 87.5h.01 M469.4 94.4h.01 M469.5 72.0h.01 M468.8 86.6h.01 M468.9 75.5h.01 M468.4 87.3h.01 M468.1 90.1h.01 M467.4 68.5h.01 M469.5 94.3h.01 M470.1 80.1h.01 M468.1 93.8h.01 M468.7 77.1h.01 M467.5 84.5h.01 M469.5 71.2h.01 M469.8 70.7h.01 M468.9 73.8h.01 M469.0 90.7h.01 M470.0 90.2h.01 M467.7 89.8h.01 M470.6 93.7h.01 M468.9 94.4h.01 M469.6 71.3h.01 M469.5 76.2h.01 M467.8 81.8h.01 M469.7 90.4h.01 M468.3 70.1h.01 M470.0 81.8h.01 M477.2 94.7h.01 M479.4 93.7h.01 M478.7 97.7h.01 M478.2 96.1h.01 M478.2 95.8h.01 M478.8 93.5h.01 M478.1 92.0h.01 M476.1 92.4h.01 M476.8 91.2h.01 M478.3 96.4h.01 M478.0 94.5h.01 M479.2 96.9h.01 M479.3 93.9h.01 M478.6 90.4h.01 M479.0 95.3h.01 M478.7 87.6h.01 M479.5 93.5h.01 M478.2 92.4h.01 M479.1 97.5h.01 M478.8 96.6h.01 M484.0 96.2h.01 M484.2 90.6h.01 M483.2 93.3h.01 M484.9 86.3h.01 M485.2 90.1h.01 M483.9 93.4h.01 M483.6 87.3h.01 M486.5 95.5h.01 M485.0 93.8h.01 M484.4 96.3h.01 M482.3 93.0h.01 M482.9 95.1h.01 M484.3 95.1h.01 M484.1 96.2h.01 M485.4 92.8h.01 M491.8 91.0h.01 M493.2 97.0h.01 M491.0 87.2h.01 M490.7 95.2h.01 M494.4 97.0h.01 M492.4 88.5h.01 M493.5 92.1h.01 M492.8 89.7h.01 M492.7 87.6h.01 M494.0 92.0h.01 M493.5 96.2h.01 M493.2 96.1h.01 M493.3 95.6h.01 M492.7 96.7h.01 M492.8 88.9h.01 M493.3 96.4h.01 M493.0 88.0h.01 M492.9 91.6h.01 M494.8 90.9h.01 M493.8 95.2h.01 M499.9 94.5h.01 M500.0 85.8h.01 M499.8 90.9h.01 M497.6 90.9h.01 M499.1 96.7h.01 M498.2 89.0h.01 M498.6 92.9h.01 M499.7 94.8h.01 M499.8 94.5h.01 M499.0 82.0h.01 M497.9 92.5h.01 M499.0 93.6h.01 M498.6 92.5h.01 M498.2 83.9h.01 M499.5 83.0h.01 M497.5 89.9h.01 M499.4 96.4h.01 M497.3 90.9h.01 M498.6 96.5h.01 M499.7 96.6h.01 M498.8 87.6h.01 M499.9 96.5h.01 M499.4 94.8h.01 M508.7 62.1h.01 M507.5 70.1h.01 M508.5 81.2h.01 M508.6 67.4h.01 M508.2 70.7h.01 M509.0 35.3h.01 M507.6 39.1h.01 M508.4 85.9h.01 M507.6 54.5h.01 M509.6 77.9h.01 M508.6 54.4h.01 M506.7 62.1h.01 M507.9 73.4h.01 M508.7 82.9h.01 M508.4 64.7h.01 M507.5 44.5h.01 M507.8 34.0h.01 M506.6 23.9h.01 M508.4 32.5h.01 M506.9 82.7h.01 M507.5 31.9h.01 M507.6 77.1h.01 M507.4 72.7h.01 M507.4 85.3h.01 M509.3 41.8h.01 M508.5 39.7h.01 M506.5 36.3h.01 M508.3 83.4h.01 M509.2 77.1h.01 M508.5 81.7h.01 M507.9 42.8h.01 M507.1 56.8h.01 M508.0 18.9h.01 M506.7 83.7h.01 M508.3 66.0h.01 M508.5 54.5h.01 M508.0 85.2h.01 M508.3 60.0h.01 M506.7 38.0h.01 M508.5 74.3h.01 M508.6 47.8h.01 M508.8 75.8h.01 M505.9 65.1h.01 M506.9 45.2h.01 M506.7 54.8h.01 M507.9 83.7h.01 M507.4 70.3h.01 M507.0 79.5h.01 M507.8 81.4h.01 M508.4 54.2h.01 M508.5 60.3h.01 M507.4 73.5h.01 M508.4 73.9h.01 M507.8 79.0h.01 M509.0 59.1h.01 M508.8 81.7h.01 M510.4 71.5h.01 M508.7 61.8h.01 M507.8 73.7h.01 M507.1 63.1h.01 M508.2 58.7h.01 M508.1 77.0h.01 M508.1 63.2h.01 M507.6 57.0h.01 M509.6 48.3h.01 M507.3 83.5h.01 M508.7 68.0h.01 M508.5 51.9h.01 M507.1 29.1h.01 M507.6 41.4h.01 M510.1 68.3h.01 M506.9 66.1h.01 M508.0 40.9h.01 M507.4 69.4h.01 M509.1 38.6h.01 M507.8 64.6h.01 M505.3 55.1h.01 M507.1 64.1h.01 M505.7 50.6h.01 M507.7 61.7h.01 M512.9 84.3h.01 M515.3 69.1h.01 M515.9 44.7h.01 M514.5 66.1h.01 M514.8 64.9h.01 M513.1 67.7h.01 M513.7 55.9h.01 M512.9 66.3h.01 M513.3 78.6h.01 M513.4 50.1h.01 M513.6 76.1h.01 M513.2 86.9h.01 M513.9 44.1h.01 M514.1 65.1h.01 M514.1 73.0h.01 M513.2 76.3h.01 M513.0 41.1h.01 M513.3 60.3h.01 M513.6 34.1h.01 M513.2 78.8h.01 M512.5 59.1h.01 M512.9 67.2h.01 M514.4 82.8h.01 M513.3 58.9h.01 M514.4 82.9h.01 M514.5 63.4h.01 M514.7 86.2h.01 M514.8 78.5h.01 M516.1 77.4h.01 M513.7 57.7h.01 M513.1 82.0h.01 M512.8 81.5h.01 M512.8 75.4h.01 M515.1 68.0h.01 M512.4 76.8h.01 M512.5 46.5h.01 M515.5 67.4h.01 M513.7 79.1h.01 M514.9 81.5h.01 M514.0 66.7h.01 M514.5 42.7h.01 M516.3 82.0h.01 M514.4 52.8h.01 M512.4 61.9h.01 M513.8 74.1h.01 M514.5 24.1h.01 M512.3 74.6h.01 M512.9 67.9h.01 M513.1 64.5h.01 M515.2 61.2h.01 M513.8 72.1h.01 M512.6 75.8h.01 M513.6 35.5h.01 M515.6 45.4h.01 M515.4 34.8h.01 M513.9 41.3h.01 M512.0 65.7h.01 M514.4 66.6h.01 M515.5 68.7h.01 M514.0 78.9h.01 M514.4 73.2h.01 M512.5 77.0h.01 M513.6 82.0h.01 M513.6 83.1h.01 M513.8 86.7h.01 M514.1 59.3h.01 M513.4 40.6h.01 M514.0 51.4h.01 M512.9 20.5h.01 M514.1 77.4h.01 M514.9 62.1h.01 M515.8 83.5h.01 M513.9 75.9h.01 M514.7 65.3h.01 M514.8 63.1h.01 M513.9 78.9h.01 M514.7 76.1h.01 M512.5 78.7h.01 M515.2 82.7h.01 M512.8 63.5h.01 M523.9 94.1h.01 M521.6 92.6h.01 M522.3 90.2h.01 M523.4 94.3h.01 M523.1 94.8h.01 M523.9 95.2h.01 M523.8 92.0h.01 M523.5 92.0h.01 M522.7 89.6h.01 M522.8 89.7h.01 M522.8 92.5h.01 M522.8 93.4h.01 M523.1 95.8h.01 M521.9 95.6h.01 M528.8 89.7h.01 M528.5 93.8h.01 M526.7 94.7h.01 M528.8 92.7h.01 M527.5 95.6h.01 M527.7 90.0h.01 M526.8 92.5h.01 M529.2 90.7h.01 M528.7 91.3h.01 M528.1 93.3h.01 M527.8 90.6h.01 M536.3 95.7h.01 M536.7 93.7h.01 M539.3 95.9h.01 M537.3 92.9h.01 M537.0 94.4h.01 M536.1 90.3h.01 M535.8 95.2h.01 M536.4 89.4h.01 M537.4 93.9h.01 M537.3 91.3h.01 M538.6 90.0h.01 M537.5 95.4h.01 M538.3 90.4h.01 M543.2 96.7h.01 M543.7 93.2h.01 M544.1 96.7h.01 M543.8 91.9h.01 M542.9 95.4h.01 M543.4 96.4h.01 M542.9 93.1h.01 M542.3 96.4h.01 M543.4 89.8h.01 M544.1 92.5h.01 M542.4 96.2h.01 M552.3 96.3h.01 M550.9 90.7h.01 M552.7 91.7h.01 M551.8 86.6h.01 M552.5 87.5h.01 M552.0 96.9h.01 M553.2 91.5h.01 M552.8 91.2h.01 M553.3 94.2h.01 M553.6 70.8h.01 M553.4 97.4h.01 M553.5 73.0h.01 M553.0 83.0h.01 M553.4 92.6h.01 M552.5 78.3h.01 M551.9 84.5h.01 M551.2 96.5h.01 M550.9 96.2h.01 M551.0 79.0h.01 M551.7 88.5h.01 M553.6 75.8h.01 M551.1 97.0h.01 M553.6 98.0h.01 M550.8 98.0h.01 M553.6 98.9h.01 M552.3 76.8h.01 M550.7 88.0h.01 M552.8 82.8h.01 M553.2 97.8h.01 M552.3 86.6h.01 M553.7 87.5h.01 M551.5 91.7h.01 M552.5 70.2h.01 M551.9 95.8h.01 M551.7 89.1h.01 M550.2 91.0h.01 M552.3 95.1h.01 M551.6 83.7h.01 M553.5 78.3h.01 M553.4 97.9h.01 M552.6 82.6h.01 M553.0 89.7h.01 M552.5 98.8h.01 M552.5 95.2h.01 M553.4 69.9h.01 M553.3 76.4h.01 M555.0 83.9h.01 M552.7 81.7h.01 M552.5 98.9h.01 M554.0 94.3h.01 M551.4 95.1h.01 M552.7 82.0h.01 M553.0 72.8h.01 M552.1 78.9h.01 M551.2 66.8h.01 M559.1 96.4h.01 M556.8 94.1h.01 M557.2 97.5h.01 M557.8 90.8h.01 M558.9 82.9h.01 M558.3 88.0h.01 M558.8 76.3h.01 M558.5 85.6h.01 M556.2 98.3h.01 M558.3 94.4h.01 M557.7 91.2h.01 M559.0 84.1h.01 M559.2 92.1h.01 M556.7 83.4h.01 M559.4 77.7h.01 M558.2 81.0h.01 M557.9 65.6h.01 M558.8 80.1h.01 M557.4 92.8h.01 M557.7 94.1h.01 M558.5 80.2h.01 M557.9 91.2h.01 M558.0 93.6h.01 M557.0 96.8h.01 M558.0 92.0h.01 M557.7 79.4h.01 M557.7 88.2h.01 M558.0 94.3h.01 M556.9 85.0h.01 M558.3 96.2h.01 M556.8 83.6h.01 M557.6 92.6h.01 M557.9 83.9h.01 M559.2 91.4h.01 M558.8 92.4h.01 M558.9 90.5h.01 M559.9 79.7h.01 M559.5 68.5h.01 M558.0 89.1h.01 M558.3 82.5h.01 M556.3 78.3h.01 M559.4 73.8h.01 M557.6 85.1h.01 M556.8 68.5h.01 M557.7 81.1h.01 M560.2 87.6h.01 M557.0 82.1h.01 M558.2 77.7h.01 M557.9 92.8h.01 M557.0 90.0h.01 M559.4 94.9h.01 M557.7 71.1h.01 M566.4 92.1h.01 M568.4 84.1h.01 M566.0 91.0h.01 M566.1 97.6h.01 M566.7 93.1h.01 M565.6 79.2h.01 M566.8 90.9h.01 M566.9 94.1h.01 M565.9 79.0h.01 M567.2 93.4h.01 M564.8 94.3h.01 M567.6 86.4h.01 M568.0 89.7h.01 M567.1 93.2h.01 M568.6 98.2h.01 M568.0 91.8h.01 M567.6 89.1h.01 M565.2 75.3h.01 M565.9 87.6h.01 M566.1 98.2h.01 M567.3 95.1h.01 M566.8 85.9h.01 M568.7 97.4h.01 M566.5 83.0h.01 M565.6 94.4h.01 M566.8 91.5h.01 M566.5 96.4h.01 M564.5 87.8h.01 M566.4 87.8h.01 M566.0 68.6h.01 M566.6 98.2h.01 M568.2 67.9h.01 M567.8 77.4h.01 M566.8 81.8h.01 M567.2 95.3h.01 M568.6 89.8h.01 M566.2 97.0h.01 M567.2 80.3h.01 M567.6 84.0h.01 M567.1 75.4h.01 M567.4 82.4h.01 M564.7 83.7h.01 M566.7 80.0h.01 M568.5 87.4h.01 M566.3 73.6h.01 M567.0 75.1h.01 M567.9 94.8h.01 M567.8 94.4h.01 M567.7 89.1h.01 M566.5 98.0h.01 M567.9 68.0h.01 M566.5 61.0h.01 M568.7 80.3h.01 M567.0 93.7h.01 M572.5 62.2h.01 M573.9 97.3h.01 M574.6 97.3h.01 M575.3 89.4h.01 M573.8 82.0h.01 M573.4 88.6h.01 M572.0 86.7h.01 M575.2 87.3h.01 M573.0 82.1h.01 M572.2 85.8h.01 M573.2 72.8h.01 M576.3 91.1h.01 M572.2 88.6h.01 M571.6 88.6h.01 M573.0 84.1h.01 M573.1 73.8h.01 M574.4 85.3h.01 M573.0 83.1h.01 M572.4 79.3h.01 M574.0 78.3h.01 M572.5 96.2h.01 M572.9 71.5h.01 M572.2 96.9h.01 M572.5 93.2h.01 M574.7 68.3h.01 M571.4 92.1h.01 M571.2 68.7h.01 M573.8 90.4h.01 M572.9 78.3h.01 M573.3 88.6h.01 M570.9 77.0h.01 M573.6 97.1h.01 M573.0 87.8h.01 M572.4 98.0h.01 M570.8 96.4h.01 M573.1 81.8h.01 M571.9 98.6h.01 M574.9 95.8h.01 M572.8 97.8h.01 M572.5 81.1h.01 M574.2 91.9h.01 M572.1 67.5h.01 M572.6 83.5h.01 M573.4 79.0h.01 M572.4 88.4h.01 M573.5 85.5h.01 M571.5 98.0h.01 M571.9 97.7h.01 M573.2 66.6h.01 M572.6 77.7h.01 M572.9 93.8h.01 M571.5 87.4h.01 M572.3 93.4h.01 M573.2 78.7h.01 M575.3 73.4h.01 M573.5 98.1h.01 M581.6 96.7h.01 M583.6 97.1h.01 M583.6 95.2h.01 M580.4 93.8h.01 M582.2 96.9h.01 M583.3 96.4h.01 M581.5 96.1h.01 M583.2 97.1h.01 M581.4 97.1h.01 M580.9 98.8h.01 M582.5 96.8h.01 M585.5 97.5h.01 M587.5 98.3h.01 M587.1 96.7h.01 M589.2 95.0h.01 M587.9 96.2h.01 M587.9 95.8h.01 M587.7 97.9h.01 M586.3 96.4h.01 M588.3 98.7h.01 M588.3 98.0h.01 M590.6 95.3h.01 M587.2 97.5h.01 M596.1 84.4h.01 M597.9 86.9h.01 M598.1 74.5h.01 M596.6 84.6h.01 M595.8 73.7h.01 M598.2 76.1h.01 M596.5 80.7h.01 M596.3 83.2h.01 M596.1 63.5h.01 M595.5 65.9h.01 M596.0 92.6h.01 M598.5 84.7h.01 M594.4 81.4h.01 M595.8 79.2h.01 M596.9 88.0h.01 M598.5 83.5h.01 M598.4 82.2h.01 M595.4 87.7h.01 M596.3 83.6h.01 M597.8 66.2h.01 M597.9 76.8h.01 M597.4 67.1h.01 M595.2 88.1h.01 M597.8 78.1h.01 M597.9 71.6h.01 M596.4 85.9h.01 M595.9 52.7h.01 M597.0 83.9h.01 M595.4 92.7h.01 M596.6 72.1h.01 M595.6 83.7h.01 M596.9 75.1h.01 M598.0 84.4h.01 M595.8 91.2h.01 M596.0 85.4h.01 M596.0 84.9h.01 M602.9 78.0h.01 M603.0 59.8h.01 M603.3 86.3h.01 M600.7 85.6h.01 M602.6 76.0h.01 M602.5 76.8h.01 M601.0 79.3h.01 M603.7 90.8h.01 M602.7 90.1h.01 M603.1 90.6h.01 M604.2 82.4h.01 M601.8 91.7h.01 M603.8 85.2h.01 M602.0 92.8h.01 M603.3 66.9h.01 M604.3 86.2h.01 M603.3 68.1h.01 M603.6 70.4h.01 M602.1 87.9h.01 M602.5 76.7h.01 M603.5 92.7h.01 M604.2 70.5h.01 M601.3 86.2h.01 M602.2 73.7h.01 M600.3 84.0h.01 M600.6 71.8h.01 M600.9 83.9h.01 M602.9 68.3h.01 M603.8 61.0h.01 M602.0 52.2h.01 M603.0 81.3h.01 M601.1 63.3h.01 M602.0 75.6h.01 M600.8 83.7h.01 M602.2 83.6h.01 M600.8 85.1h.01 M601.8 65.0h.01 M611.6 95.9h.01 M611.4 96.6h.01 M612.5 89.2h.01 M610.3 81.6h.01 M611.6 68.4h.01 M609.9 84.9h.01 M610.0 77.2h.01 M613.3 84.7h.01 M614.3 74.3h.01 M611.3 72.5h.01 M611.4 73.6h.01 M610.5 85.0h.01 M611.3 91.3h.01 M612.8 74.0h.01 M610.5 74.9h.01 M611.2 96.6h.01 M612.2 70.4h.01 M611.1 80.3h.01 M610.4 67.9h.01 M614.1 81.0h.01 M613.0 95.2h.01 M611.3 72.9h.01 M611.9 83.6h.01 M612.2 80.0h.01 M611.0 71.8h.01 M610.4 78.1h.01 M611.8 76.5h.01 M611.9 83.8h.01 M610.7 65.3h.01 M611.4 93.6h.01 M613.0 77.0h.01 M609.6 97.4h.01 M612.5 75.2h.01 M611.0 96.4h.01 M610.8 84.7h.01 M611.3 93.2h.01 M612.7 81.2h.01 M610.5 83.5h.01 M611.4 60.3h.01 M612.5 81.3h.01 M612.6 88.4h.01 M611.5 96.6h.01 M610.9 98.0h.01 M610.1 89.0h.01 M611.8 99.0h.01 M610.4 85.7h.01 M610.2 97.6h.01 M611.1 78.8h.01 M609.1 90.8h.01 M611.7 99.0h.01 M611.8 98.9h.01 M611.4 65.1h.01 M612.1 80.1h.01 M610.4 76.6h.01 M611.5 67.4h.01 M612.0 70.5h.01 M611.7 92.9h.01 M612.1 89.5h.01 M612.2 69.6h.01 M610.2 96.2h.01 M611.4 92.4h.01 M610.7 83.3h.01 M609.8 81.7h.01 M612.9 83.7h.01 M611.2 94.3h.01 M617.0 88.3h.01 M617.4 94.1h.01 M618.1 81.6h.01 M615.3 84.5h.01 M618.4 89.2h.01 M616.6 77.6h.01 M618.3 71.5h.01 M618.6 82.1h.01 M617.9 96.0h.01 M616.5 96.7h.01 M616.7 87.7h.01 M617.9 87.6h.01 M618.4 85.8h.01 M615.5 73.6h.01 M618.0 90.1h.01 M617.4 79.7h.01 M618.7 87.5h.01 M616.3 78.4h.01 M617.5 89.7h.01 M616.4 96.2h.01 M618.2 87.8h.01 M617.3 90.8h.01 M618.1 97.3h.01 M617.0 70.6h.01 M616.6 85.6h.01 M617.3 84.3h.01 M617.9 98.0h.01 M618.3 61.3h.01 M618.6 81.4h.01 M617.8 73.5h.01 M614.5 74.2h.01 M614.5 91.9h.01 M619.4 88.8h.01 M617.0 96.6h.01 M616.8 83.9h.01 M617.5 91.9h.01 M617.7 98.8h.01 M617.1 97.3h.01 M617.0 91.8h.01 M617.6 98.8h.01 M615.7 83.9h.01 M618.4 89.9h.01 M616.8 65.2h.01 M618.8 70.6h.01 M616.8 97.5h.01 M618.5 70.7h.01 M618.2 83.5h.01 M617.5 84.6h.01 M619.0 93.9h.01 M616.2 92.4h.01 M617.8 82.3h.01 M616.8 84.7h.01 M618.3 98.2h.01 M618.3 94.4h.01 M618.4 94.8h.01 M619.1 80.3h.01 M615.8 64.9h.01 M616.5 89.7h.01 M618.1 87.4h.01 M615.9 95.8h.01 M615.8 76.2h.01 M616.8 94.2h.01 M626.7 97.7h.01 M627.2 96.1h.01 M625.6 98.0h.01 M625.7 99.0h.01 M627.4 97.6h.01 M623.8 96.4h.01 M625.7 98.1h.01 M625.7 96.3h.01 M625.0 96.8h.01 M625.1 98.0h.01 M627.5 96.9h.01 M632.5 96.5h.01 M632.9 95.4h.01 M633.1 98.6h.01 M632.1 96.2h.01 M632.5 98.7h.01 M631.5 96.5h.01 M632.6 97.4h.01 M632.6 97.0h.01 M632.9 95.3h.01 M633.2 96.5h.01 M633.5 98.8h.01 M631.7 96.4h.01 M631.0 98.3h.01 M642.8 96.1h.01 M640.6 96.7h.01 M639.5 91.7h.01 M639.4 88.1h.01 M643.0 84.3h.01 M640.7 90.8h.01 M642.1 97.9h.01 M641.3 88.6h.01 M641.2 91.7h.01 M639.7 96.5h.01 M641.5 94.1h.01 M640.9 92.0h.01 M641.3 98.6h.01 M641.7 96.5h.01 M641.5 97.0h.01 M641.1 94.0h.01 M639.4 88.0h.01 M641.3 97.4h.01 M641.6 96.7h.01 M640.8 97.3h.01 M642.0 96.5h.01 M638.2 91.0h.01 M642.2 87.6h.01 M643.7 98.5h.01 M638.9 90.1h.01 M640.5 89.2h.01 M641.3 98.3h.01 M641.7 94.8h.01 M640.1 93.9h.01 M641.6 98.6h.01 M641.6 97.7h.01 M641.8 95.0h.01 M637.9 96.9h.01 M641.1 95.2h.01 M639.9 89.6h.01 M642.2 91.5h.01 M640.5 84.0h.01 M642.5 95.6h.01 M646.8 93.3h.01 M646.0 95.4h.01 M646.1 98.2h.01 M647.2 98.0h.01 M645.3 96.4h.01 M646.1 89.2h.01 M646.9 89.3h.01 M647.1 98.6h.01 M648.7 97.5h.01 M647.5 92.6h.01 M647.0 95.6h.01 M646.1 96.3h.01 M648.0 88.4h.01 M647.2 95.7h.01 M645.2 94.7h.01 M647.7 94.8h.01 M646.9 92.7h.01 M649.1 85.8h.01 M648.0 96.0h.01 M646.2 94.7h.01 M645.0 95.5h.01 M644.8 93.0h.01 M648.6 98.6h.01 M647.5 88.1h.01 M645.6 91.7h.01 M646.6 96.1h.01 M648.5 94.6h.01 M648.9 94.9h.01 M647.7 98.6h.01 M646.5 96.8h.01 M648.4 87.2h.01 M646.3 94.5h.01 M647.8 90.9h.01 M646.2 85.8h.01 M647.2 88.7h.01 M647.1 91.6h.01 M647.0 98.8h.01" stroke="#cbc5b9" stroke-width="0.55" stroke-linecap="round"/>
<path d="M359.4 96 L359.38 96.43 L359.3 96.86 L359.18 97.29 L359.01 97.71 L358.8 98.14 L358.53 98.57 L358.22 99 L357.85 99.43 L357.44 99.86 L357.59 100.29 L357.84 100.71 L358.12 101.14 L358.5 101.57 L359.4 102 L360.4 102 L361.3 101.57 L361.68 101.14 L361.96 100.71 L362.21 100.29 L362.36 99.86 L361.95 99.43 L361.58 99 L361.27 98.57 L361 98.14 L360.79 97.71 L360.62 97.29 L360.5 96.86 L360.42 96.43 L360.4 96Z M365.2 94.48 L365.19 95.02 L365.15 95.55 L365.09 96.09 L365 96.63 L364.89 97.17 L364.75 97.7 L364.59 98.24 L364.41 98.78 L364.2 99.31 L363.96 99.85 L363.7 100.39 L363.41 100.93 L363.73 101.46 L365.2 102 L366.2 102 L367.67 101.46 L367.99 100.93 L367.7 100.39 L367.44 99.85 L367.2 99.31 L366.99 98.78 L366.81 98.24 L366.65 97.7 L366.51 97.17 L366.4 96.63 L366.31 96.09 L366.25 95.55 L366.21 95.02 L366.2 94.48Z M374.2 80 L374.13 81.36 L373.91 82.71 L373.55 84.07 L373.05 85.43 L372.4 86.79 L372.29 88.14 L372.41 89.5 L372.54 90.86 L372.69 92.21 L372.85 93.57 L373.03 94.93 L373.24 96.29 L373.52 97.64 L374.2 99 L375.2 99 L375.88 97.64 L376.16 96.29 L376.37 94.93 L376.55 93.57 L376.71 92.21 L376.86 90.86 L376.99 89.5 L377.11 88.14 L377 86.79 L376.35 85.43 L375.85 84.07 L375.49 82.71 L375.27 81.36 L375.2 80Z M380 79.07 L379.96 80.49 L379.85 81.91 L379.66 83.34 L379.4 84.76 L379.07 86.19 L378.66 87.61 L378.17 89.03 L378.1 90.46 L378.27 91.88 L378.45 93.3 L378.66 94.73 L378.91 96.15 L379.23 97.58 L380 99 L381 99 L381.77 97.58 L382.09 96.15 L382.34 94.73 L382.55 93.3 L382.73 91.88 L382.9 90.46 L382.83 89.03 L382.34 87.61 L381.93 86.19 L381.6 84.76 L381.34 83.34 L381.15 81.91 L381.04 80.49 L381 79.07Z M389 87 L388.97 88 L388.88 89 L388.73 90 L388.52 91 L388.25 92 L387.92 93 L387.52 94 L387.07 95 L387.15 96 L387.35 97 L387.57 98 L387.83 99 L388.17 100 L389 101 L390 101 L390.83 100 L391.17 99 L391.43 98 L391.65 97 L391.85 96 L391.93 95 L391.48 94 L391.08 93 L390.75 92 L390.48 91 L390.27 90 L390.12 89 L390.03 88 L390 87Z M394.8 88.56 L394.78 89.45 L394.7 90.34 L394.58 91.22 L394.41 92.11 L394.2 93 L393.93 93.89 L393.62 94.78 L393.26 95.67 L392.85 96.56 L392.99 97.45 L393.23 98.33 L393.52 99.22 L393.9 100.11 L394.8 101 L395.8 101 L396.7 100.11 L397.08 99.22 L397.37 98.33 L397.61 97.45 L397.75 96.56 L397.34 95.67 L396.98 94.78 L396.67 93.89 L396.4 93 L396.19 92.11 L396.02 91.22 L395.9 90.34 L395.82 89.45 L395.8 88.56Z M403.8 84 L403.78 85.14 L403.71 86.29 L403.6 87.43 L403.45 88.57 L403.25 89.71 L403.01 90.86 L402.72 92 L402.39 93.14 L402.02 94.29 L401.91 95.43 L402.16 96.57 L402.46 97.71 L402.85 98.86 L403.8 100 L404.8 100 L405.75 98.86 L406.14 97.71 L406.44 96.57 L406.69 95.43 L406.58 94.29 L406.21 93.14 L405.88 92 L405.59 90.86 L405.35 89.71 L405.15 88.57 L405 87.43 L404.89 86.29 L404.82 85.14 L404.8 84Z M409.6 84.58 L409.58 85.68 L409.52 86.78 L409.43 87.88 L409.29 88.98 L409.11 90.08 L408.9 91.19 L408.65 92.29 L408.36 93.39 L408.03 94.49 L407.66 95.59 L407.84 96.69 L408.16 97.8 L408.58 98.9 L409.6 100 L410.6 100 L411.62 98.9 L412.04 97.8 L412.36 96.69 L412.54 95.59 L412.17 94.49 L411.84 93.39 L411.55 92.29 L411.3 91.19 L411.09 90.08 L410.91 88.98 L410.77 87.88 L410.68 86.78 L410.62 85.68 L410.6 84.58Z M418.6 85 L418.58 86.21 L418.52 87.43 L418.42 88.64 L418.28 89.86 L418.1 91.07 L417.87 92.29 L417.61 93.5 L417.31 94.71 L416.97 95.93 L416.61 97.14 L416.88 98.36 L417.19 99.57 L417.6 100.79 L418.6 102 L419.6 102 L420.6 100.79 L421.01 99.57 L421.32 98.36 L421.59 97.14 L421.23 95.93 L420.89 94.71 L420.59 93.5 L420.33 92.29 L420.1 91.07 L419.92 89.86 L419.78 88.64 L419.68 87.43 L419.62 86.21 L419.6 85Z M424.4 86.87 L424.39 87.95 L424.34 89.03 L424.27 90.11 L424.16 91.19 L424.03 92.27 L423.86 93.35 L423.67 94.44 L423.45 95.52 L423.19 96.6 L422.91 97.68 L422.6 98.76 L422.58 99.84 L423.11 100.92 L424.4 102 L425.4 102 L426.69 100.92 L427.22 99.84 L427.2 98.76 L426.89 97.68 L426.61 96.6 L426.35 95.52 L426.13 94.44 L425.94 93.35 L425.77 92.27 L425.64 91.19 L425.53 90.11 L425.46 89.03 L425.41 87.95 L425.4 86.87Z M433.4 78 L433.36 79.57 L433.24 81.14 L433.04 82.71 L432.75 84.29 L432.39 85.86 L431.94 87.43 L431.42 89 L431.54 90.57 L431.71 92.14 L431.88 93.71 L432.09 95.29 L432.33 96.86 L432.64 98.43 L433.4 100 L434.4 100 L435.16 98.43 L435.47 96.86 L435.71 95.29 L435.92 93.71 L436.09 92.14 L436.26 90.57 L436.38 89 L435.86 87.43 L435.41 85.86 L435.05 84.29 L434.76 82.71 L434.56 81.14 L434.44 79.57 L434.4 78Z M439.2 77.37 L439.17 78.99 L439.08 80.61 L438.93 82.22 L438.71 83.84 L438.44 85.45 L438.11 87.07 L437.71 88.69 L437.26 90.3 L437.36 91.92 L437.55 93.54 L437.77 95.15 L438.03 96.77 L438.38 98.38 L439.2 100 L440.2 100 L441.02 98.38 L441.37 96.77 L441.63 95.15 L441.85 93.54 L442.04 91.92 L442.14 90.3 L441.69 88.69 L441.29 87.07 L440.96 85.45 L440.69 83.84 L440.47 82.22 L440.32 80.61 L440.23 78.99 L440.2 77.37Z M448.2 86 L448.17 87.07 L448.08 88.14 L447.94 89.21 L447.73 90.29 L447.47 91.36 L447.14 92.43 L446.76 93.5 L446.32 94.57 L446.33 95.64 L446.53 96.71 L446.75 97.79 L447.02 98.86 L447.37 99.93 L448.2 101 L449.2 101 L450.03 99.93 L450.38 98.86 L450.65 97.79 L450.87 96.71 L451.07 95.64 L451.08 94.57 L450.64 93.5 L450.26 92.43 L449.93 91.36 L449.67 90.29 L449.46 89.21 L449.32 88.14 L449.23 87.07 L449.2 86Z M454 86.05 L453.98 87.12 L453.91 88.19 L453.79 89.25 L453.64 90.32 L453.43 91.39 L453.18 92.46 L452.88 93.53 L452.54 94.59 L452.15 95.66 L452.14 96.73 L452.39 97.8 L452.69 98.86 L453.07 99.93 L454 101 L455 101 L455.93 99.93 L456.31 98.86 L456.61 97.8 L456.86 96.73 L456.85 95.66 L456.46 94.59 L456.12 93.53 L455.82 92.46 L455.57 91.39 L455.36 90.32 L455.21 89.25 L455.09 88.19 L455.02 87.12 L455 86.05Z M463 81 L462.95 82.21 L462.8 83.43 L462.56 84.64 L462.21 85.86 L461.77 87.07 L461.23 88.29 L461.08 89.5 L461.23 90.71 L461.38 91.93 L461.55 93.14 L461.74 94.36 L461.98 95.57 L462.28 96.79 L463 98 L464 98 L464.72 96.79 L465.02 95.57 L465.26 94.36 L465.45 93.14 L465.62 91.93 L465.77 90.71 L465.92 89.5 L465.77 88.29 L465.23 87.07 L464.79 85.86 L464.44 84.64 L464.2 83.43 L464.05 82.21 L464 81Z M468.8 82.02 L468.76 83.16 L468.65 84.3 L468.45 85.45 L468.18 86.59 L467.84 87.73 L467.41 88.87 L466.91 90.01 L466.92 91.15 L467.08 92.29 L467.26 93.43 L467.47 94.58 L467.71 95.72 L468.03 96.86 L468.8 98 L469.8 98 L470.57 96.86 L470.89 95.72 L471.13 94.58 L471.34 93.43 L471.52 92.29 L471.68 91.15 L471.69 90.01 L471.19 88.87 L470.76 87.73 L470.42 86.59 L470.15 85.45 L469.95 84.3 L469.84 83.16 L469.8 82.02Z M477.8 86 L477.76 87.07 L477.65 88.14 L477.47 89.21 L477.21 90.29 L476.88 91.36 L476.48 92.43 L476 93.5 L475.9 94.57 L476.06 95.64 L476.25 96.71 L476.45 97.79 L476.7 98.86 L477.02 99.93 L477.8 101 L478.8 101 L479.58 99.93 L479.9 98.86 L480.15 97.79 L480.35 96.71 L480.54 95.64 L480.7 94.57 L480.6 93.5 L480.12 92.43 L479.72 91.36 L479.39 90.29 L479.13 89.21 L478.95 88.14 L478.84 87.07 L478.8 86Z M483.6 83.03 L483.58 84.31 L483.51 85.6 L483.4 86.88 L483.24 88.16 L483.04 89.45 L482.79 90.73 L482.5 92.02 L482.16 93.3 L481.78 94.58 L481.73 95.87 L481.98 97.15 L482.28 98.43 L482.66 99.72 L483.6 101 L484.6 101 L485.54 99.72 L485.92 98.43 L486.22 97.15 L486.47 95.87 L486.42 94.58 L486.04 93.3 L485.7 92.02 L485.41 90.73 L485.16 89.45 L484.96 88.16 L484.8 86.88 L484.69 85.6 L484.62 84.31 L484.6 83.03Z M492.6 84 L492.56 85.14 L492.42 86.29 L492.2 87.43 L491.89 88.57 L491.48 89.71 L490.99 90.86 L490.64 92 L490.79 93.14 L490.95 94.29 L491.12 95.43 L491.32 96.57 L491.55 97.71 L491.86 98.86 L492.6 100 L493.6 100 L494.34 98.86 L494.65 97.71 L494.88 96.57 L495.08 95.43 L495.25 94.29 L495.41 93.14 L495.56 92 L495.21 90.86 L494.72 89.71 L494.31 88.57 L494 87.43 L493.78 86.29 L493.64 85.14 L493.6 84Z M498.4 86.85 L498.36 87.79 L498.24 88.73 L498.04 89.67 L497.75 90.61 L497.39 91.55 L496.94 92.49 L496.42 93.42 L496.54 94.36 L496.71 95.3 L496.89 96.24 L497.09 97.18 L497.33 98.12 L497.64 99.06 L498.4 100 L499.4 100 L500.16 99.06 L500.47 98.12 L500.71 97.18 L500.91 96.24 L501.09 95.3 L501.26 94.36 L501.38 93.42 L500.86 92.49 L500.41 91.55 L500.05 90.61 L499.76 89.67 L499.56 88.73 L499.44 87.79 L499.4 86.85Z M507.4 38 L507.37 41.71 L507.3 45.43 L507.17 49.14 L507 52.86 L506.77 56.57 L506.49 60.29 L506.17 64 L505.79 67.71 L505.42 71.43 L505.63 75.14 L505.86 78.86 L506.15 82.57 L506.51 86.29 L507.4 90 L508.4 90 L509.29 86.29 L509.65 82.57 L509.94 78.86 L510.17 75.14 L510.38 71.43 L510.01 67.71 L509.63 64 L509.31 60.29 L509.03 56.57 L508.8 52.86 L508.63 49.14 L508.5 45.43 L508.43 41.71 L508.4 38Z M513.2 38.8 L513.18 42.46 L513.11 46.12 L513 49.77 L512.85 53.43 L512.65 57.09 L512.41 60.74 L512.12 64.4 L511.79 68.06 L511.42 71.72 L511.31 75.37 L511.56 79.03 L511.86 82.69 L512.25 86.34 L513.2 90 L514.2 90 L515.15 86.34 L515.54 82.69 L515.84 79.03 L516.09 75.37 L515.98 71.72 L515.61 68.06 L515.28 64.4 L514.99 60.74 L514.75 57.09 L514.55 53.43 L514.4 49.77 L514.29 46.12 L514.22 42.46 L514.2 38.8Z M522.2 87 L522.17 87.86 L522.08 88.71 L521.93 89.57 L521.72 90.43 L521.45 91.29 L521.12 92.14 L520.73 93 L520.28 93.86 L520.35 94.71 L520.54 95.57 L520.77 96.43 L521.03 97.29 L521.37 98.14 L522.2 99 L523.2 99 L524.03 98.14 L524.37 97.29 L524.63 96.43 L524.86 95.57 L525.05 94.71 L525.12 93.86 L524.67 93 L524.28 92.14 L523.95 91.29 L523.68 90.43 L523.47 89.57 L523.32 88.71 L523.23 87.86 L523.2 87Z M528 84.48 L527.98 85.52 L527.92 86.55 L527.83 87.59 L527.69 88.63 L527.52 89.67 L527.31 90.7 L527.06 91.74 L526.77 92.78 L526.44 93.81 L526.07 94.85 L526.22 95.89 L526.55 96.93 L526.98 97.96 L528 99 L529 99 L530.02 97.96 L530.45 96.93 L530.78 95.89 L530.93 94.85 L530.56 93.81 L530.23 92.78 L529.94 91.74 L529.69 90.7 L529.48 89.67 L529.31 88.63 L529.17 87.59 L529.08 86.55 L529.02 85.52 L529 84.48Z M537 89 L536.98 89.79 L536.91 90.57 L536.79 91.36 L536.63 92.14 L536.43 92.93 L536.18 93.71 L535.88 94.5 L535.54 95.29 L535.15 96.07 L535.14 96.86 L535.39 97.64 L535.69 98.43 L536.07 99.21 L537 100 L538 100 L538.93 99.21 L539.31 98.43 L539.61 97.64 L539.86 96.86 L539.85 96.07 L539.46 95.29 L539.12 94.5 L538.82 93.71 L538.57 92.93 L538.37 92.14 L538.21 91.36 L538.09 90.57 L538.02 89.79 L538 89Z M542.8 87.82 L542.78 88.69 L542.73 89.56 L542.64 90.43 L542.52 91.3 L542.36 92.17 L542.17 93.04 L541.94 93.91 L541.68 94.78 L541.38 95.65 L541.04 96.52 L540.9 97.39 L541.25 98.26 L541.7 99.13 L542.8 100 L543.8 100 L544.9 99.13 L545.35 98.26 L545.7 97.39 L545.56 96.52 L545.22 95.65 L544.92 94.78 L544.66 93.91 L544.43 93.04 L544.24 92.17 L544.08 91.3 L543.96 90.43 L543.87 89.56 L543.82 88.69 L543.8 87.82Z M551.8 82 L551.78 83.43 L551.71 84.86 L551.59 86.29 L551.43 87.71 L551.21 89.14 L550.96 90.57 L550.65 92 L550.3 93.43 L549.9 94.86 L549.97 96.29 L550.21 97.71 L550.5 99.14 L550.88 100.57 L551.8 102 L552.8 102 L553.72 100.57 L554.1 99.14 L554.39 97.71 L554.63 96.29 L554.7 94.86 L554.3 93.43 L553.95 92 L553.64 90.57 L553.39 89.14 L553.17 87.71 L553.01 86.29 L552.89 84.86 L552.82 83.43 L552.8 82Z M557.6 80.83 L557.58 82.34 L557.53 83.85 L557.44 85.37 L557.32 86.88 L557.17 88.39 L556.98 89.9 L556.75 91.41 L556.49 92.93 L556.2 94.44 L555.87 95.95 L555.68 97.46 L556.03 98.98 L556.49 100.49 L557.6 102 L558.6 102 L559.71 100.49 L560.17 98.98 L560.52 97.46 L560.33 95.95 L560 94.44 L559.71 92.93 L559.45 91.41 L559.22 89.9 L559.03 88.39 L558.88 86.88 L558.76 85.37 L558.67 83.85 L558.62 82.34 L558.6 80.83Z M566.6 76 L566.58 77.86 L566.54 79.71 L566.45 81.57 L566.34 83.43 L566.2 85.29 L566.02 87.14 L565.81 89 L565.56 90.86 L565.29 92.71 L564.98 94.57 L564.64 96.43 L564.93 98.29 L565.42 100.14 L566.6 102 L567.6 102 L568.78 100.14 L569.27 98.29 L569.56 96.43 L569.22 94.57 L568.91 92.71 L568.64 90.86 L568.39 89 L568.18 87.14 L568 85.29 L567.86 83.43 L567.75 81.57 L567.66 79.71 L567.62 77.86 L567.6 76Z M572.4 77.87 L572.39 79.59 L572.34 81.31 L572.27 83.04 L572.17 84.76 L572.04 86.49 L571.89 88.21 L571.7 89.93 L571.48 91.66 L571.24 93.38 L570.97 95.1 L570.67 96.83 L570.48 98.55 L571.04 100.28 L572.4 102 L573.4 102 L574.76 100.28 L575.32 98.55 L575.13 96.83 L574.83 95.1 L574.56 93.38 L574.32 91.66 L574.1 89.93 L573.91 88.21 L573.76 86.49 L573.63 84.76 L573.53 83.04 L573.46 81.31 L573.41 79.59 L573.4 77.87Z M581.4 94 L581.38 94.57 L581.32 95.14 L581.21 95.71 L581.06 96.29 L580.87 96.86 L580.64 97.43 L580.36 98 L580.04 98.57 L579.68 99.14 L579.47 99.71 L579.73 100.29 L580.03 100.86 L580.43 101.43 L581.4 102 L582.4 102 L583.37 101.43 L583.77 100.86 L584.07 100.29 L584.33 99.71 L584.12 99.14 L583.76 98.57 L583.44 98 L583.16 97.43 L582.93 96.86 L582.74 96.29 L582.59 95.71 L582.48 95.14 L582.42 94.57 L582.4 94Z M587.2 94.73 L587.18 95.25 L587.13 95.77 L587.05 96.29 L586.94 96.81 L586.79 97.33 L586.61 97.85 L586.39 98.37 L586.15 98.88 L585.86 99.4 L585.55 99.92 L585.21 100.44 L585.56 100.96 L586.04 101.48 L587.2 102 L588.2 102 L589.36 101.48 L589.84 100.96 L590.19 100.44 L589.85 99.92 L589.54 99.4 L589.25 98.88 L589.01 98.37 L588.79 97.85 L588.61 97.33 L588.46 96.81 L588.35 96.29 L588.27 95.77 L588.22 95.25 L588.2 94.73Z M596.2 54 L596.16 57 L596.04 60 L595.83 63 L595.55 66 L595.18 69 L594.74 72 L594.21 75 L594.35 78 L594.51 81 L594.69 84 L594.89 87 L595.13 90 L595.44 93 L596.2 96 L597.2 96 L597.96 93 L598.27 90 L598.51 87 L598.71 84 L598.89 81 L599.05 78 L599.19 75 L598.66 72 L598.22 69 L597.85 66 L597.57 63 L597.36 60 L597.24 57 L597.2 54Z M602 55.09 L601.97 58.02 L601.88 60.94 L601.74 63.86 L601.54 66.78 L601.28 69.7 L600.96 72.63 L600.58 75.55 L600.15 78.47 L600.12 81.39 L600.32 84.31 L600.55 87.23 L600.81 90.16 L601.16 93.08 L602 96 L603 96 L603.84 93.08 L604.19 90.16 L604.45 87.23 L604.68 84.31 L604.88 81.39 L604.85 78.47 L604.42 75.55 L604.04 72.63 L603.72 69.7 L603.46 66.78 L603.26 63.86 L603.12 60.94 L603.03 58.02 L603 55.09Z M611 72 L610.98 74.14 L610.94 76.29 L610.86 78.43 L610.75 80.57 L610.6 82.71 L610.43 84.86 L610.22 87 L609.98 89.14 L609.71 91.29 L609.41 93.43 L609.08 95.57 L609.3 97.71 L609.8 99.86 L611 102 L612 102 L613.2 99.86 L613.7 97.71 L613.92 95.57 L613.59 93.43 L613.29 91.29 L613.02 89.14 L612.78 87 L612.57 84.86 L612.4 82.71 L612.25 80.57 L612.14 78.43 L612.06 76.29 L612.02 74.14 L612 72Z M616.8 70.26 L616.79 72.53 L616.75 74.8 L616.68 77.06 L616.59 79.33 L616.47 81.6 L616.33 83.86 L616.16 86.13 L615.96 88.4 L615.74 90.67 L615.49 92.93 L615.21 95.2 L614.91 97.47 L615.24 99.73 L616.8 102 L617.8 102 L619.36 99.73 L619.69 97.47 L619.39 95.2 L619.11 92.93 L618.86 90.67 L618.64 88.4 L618.44 86.13 L618.27 83.86 L618.13 81.6 L618.01 79.33 L617.92 77.06 L617.85 74.8 L617.81 72.53 L617.8 70.26Z M625.8 95 L625.77 95.5 L625.7 96 L625.57 96.5 L625.39 97 L625.15 97.5 L624.87 98 L624.53 98.5 L624.15 99 L623.84 99.5 L624.05 100 L624.28 100.5 L624.56 101 L624.92 101.5 L625.8 102 L626.8 102 L627.68 101.5 L628.04 101 L628.32 100.5 L628.55 100 L628.76 99.5 L628.45 99 L628.07 98.5 L627.73 98 L627.45 97.5 L627.21 97 L627.03 96.5 L626.9 96 L626.83 95.5 L626.8 95Z M631.6 96.94 L631.58 97.31 L631.51 97.67 L631.39 98.03 L631.23 98.39 L631.02 98.75 L630.77 99.11 L630.46 99.47 L630.12 99.83 L629.72 100.19 L629.76 100.56 L630 100.92 L630.3 101.28 L630.68 101.64 L631.6 102 L632.6 102 L633.52 101.64 L633.9 101.28 L634.2 100.92 L634.44 100.56 L634.48 100.19 L634.08 99.83 L633.74 99.47 L633.43 99.11 L633.18 98.75 L632.97 98.39 L632.81 98.03 L632.69 97.67 L632.62 97.31 L632.6 96.94Z M640.6 96 L640.58 96.43 L640.52 96.86 L640.42 97.29 L640.28 97.71 L640.1 98.14 L639.88 98.57 L639.63 99 L639.33 99.43 L638.99 99.86 L638.61 100.29 L638.86 100.71 L639.18 101.14 L639.6 101.57 L640.6 102 L641.6 102 L642.6 101.57 L643.02 101.14 L643.34 100.71 L643.59 100.29 L643.21 99.86 L642.87 99.43 L642.57 99 L642.32 98.57 L642.1 98.14 L641.92 97.71 L641.78 97.29 L641.68 96.86 L641.62 96.43 L641.6 96Z M646.4 95.95 L646.39 96.38 L646.34 96.82 L646.28 97.25 L646.18 97.68 L646.05 98.11 L645.9 98.54 L645.72 98.98 L645.52 99.41 L645.28 99.84 L645.02 100.27 L644.73 100.7 L644.41 101.14 L645.09 101.57 L646.4 102 L647.4 102 L648.71 101.57 L649.39 101.14 L649.07 100.7 L648.78 100.27 L648.52 99.84 L648.28 99.41 L648.08 98.98 L647.9 98.54 L647.75 98.11 L647.62 97.68 L647.52 97.25 L647.46 96.82 L647.41 96.38 L647.4 95.95Z" fill="#ddd8cd"/>
<path d="M359.65 98.53 L359.62 98.75 L359.54 98.96 L359.4 99.17 L359.21 99.38 L358.96 99.59 L358.65 99.81 L358.54 100.02 L358.63 100.23 L358.71 100.44 L358.81 100.65 L358.93 100.86 L359.06 101.08 L359.23 101.29 L359.65 101.5 L360.15 101.5 L360.57 101.29 L360.74 101.08 L360.87 100.86 L360.99 100.65 L361.09 100.44 L361.17 100.23 L361.26 100.02 L361.15 99.81 L360.84 99.59 L360.59 99.38 L360.4 99.17 L360.26 98.96 L360.18 98.75 L360.15 98.53Z M365.45 98.91 L365.44 99.1 L365.42 99.28 L365.39 99.47 L365.34 99.65 L365.28 99.84 L365.2 100.02 L365.11 100.21 L365.01 100.39 L364.89 100.58 L364.76 100.76 L364.62 100.95 L364.46 101.13 L364.96 101.32 L365.45 101.5 L365.95 101.5 L366.44 101.32 L366.94 101.13 L366.78 100.95 L366.64 100.76 L366.51 100.58 L366.39 100.39 L366.29 100.21 L366.2 100.02 L366.12 99.84 L366.06 99.65 L366.01 99.47 L365.98 99.28 L365.96 99.1 L365.95 98.91Z M374.45 84.65 L374.27 85.64 L373.73 86.63 L373.32 87.62 L373.38 88.61 L373.43 89.59 L373.49 90.58 L373.55 91.57 L373.62 92.56 L373.69 93.55 L373.77 94.54 L373.86 95.53 L373.97 96.52 L374.11 97.51 L374.45 98.5 L374.95 98.5 L375.29 97.51 L375.43 96.52 L375.54 95.53 L375.63 94.54 L375.71 93.55 L375.78 92.56 L375.85 91.57 L375.91 90.58 L375.97 89.59 L376.02 88.61 L376.08 87.62 L375.67 86.63 L375.13 85.64 L374.95 84.65Z M380.25 85.85 L380.18 86.75 L379.97 87.66 L379.62 88.56 L379.12 89.46 L379.16 90.37 L379.22 91.27 L379.29 92.17 L379.36 93.08 L379.44 93.98 L379.52 94.89 L379.62 95.79 L379.73 96.69 L379.89 97.6 L380.25 98.5 L380.75 98.5 L381.11 97.6 L381.27 96.69 L381.38 95.79 L381.48 94.89 L381.56 93.98 L381.64 93.08 L381.71 92.17 L381.78 91.27 L381.84 90.37 L381.88 89.46 L381.38 88.56 L381.03 87.66 L380.82 86.75 L380.75 85.85Z M389.25 92.3 L389.2 92.88 L389.06 93.47 L388.81 94.06 L388.47 94.64 L388.11 95.23 L388.17 95.81 L388.24 96.4 L388.32 96.98 L388.4 97.57 L388.49 98.16 L388.59 98.74 L388.71 99.33 L388.87 99.91 L389.25 100.5 L389.75 100.5 L390.13 99.91 L390.29 99.33 L390.41 98.74 L390.51 98.16 L390.6 97.57 L390.68 96.98 L390.76 96.4 L390.83 95.81 L390.89 95.23 L390.53 94.64 L390.19 94.06 L389.94 93.47 L389.8 92.88 L389.75 92.3Z M395.05 93.82 L395.02 94.3 L394.92 94.77 L394.76 95.25 L394.53 95.73 L394.23 96.2 L393.9 96.68 L393.98 97.16 L394.06 97.64 L394.14 98.11 L394.24 98.59 L394.35 99.07 L394.48 99.55 L394.65 100.02 L395.05 100.5 L395.55 100.5 L395.95 100.02 L396.12 99.55 L396.25 99.07 L396.36 98.59 L396.46 98.11 L396.54 97.64 L396.62 97.16 L396.7 96.68 L396.37 96.2 L396.07 95.73 L395.84 95.25 L395.68 94.77 L395.58 94.3 L395.55 93.82Z M404.05 91.09 L404.02 91.69 L403.94 92.29 L403.79 92.89 L403.59 93.49 L403.34 94.09 L403.02 94.69 L402.95 95.29 L403.03 95.89 L403.12 96.49 L403.22 97.1 L403.33 97.7 L403.46 98.3 L403.63 98.9 L404.05 99.5 L404.55 99.5 L404.97 98.9 L405.14 98.3 L405.27 97.7 L405.38 97.1 L405.48 96.49 L405.57 95.89 L405.65 95.29 L405.58 94.69 L405.26 94.09 L405.01 93.49 L404.81 92.89 L404.66 92.29 L404.58 91.69 L404.55 91.09Z M409.85 91.84 L409.83 92.39 L409.76 92.93 L409.65 93.48 L409.49 94.03 L409.29 94.58 L409.04 95.12 L408.75 95.67 L408.77 96.22 L408.87 96.76 L408.97 97.31 L409.09 97.86 L409.23 98.41 L409.41 98.95 L409.85 99.5 L410.35 99.5 L410.79 98.95 L410.97 98.41 L411.11 97.86 L411.23 97.31 L411.33 96.76 L411.43 96.22 L411.45 95.67 L411.16 95.12 L410.91 94.58 L410.71 94.03 L410.55 93.48 L410.44 92.93 L410.37 92.39 L410.35 91.84Z M418.85 92.86 L418.83 93.48 L418.75 94.1 L418.63 94.72 L418.46 95.33 L418.24 95.95 L417.97 96.57 L417.71 97.18 L417.8 97.8 L417.89 98.42 L417.99 99.03 L418.1 99.65 L418.24 100.27 L418.42 100.88 L418.85 101.5 L419.35 101.5 L419.78 100.88 L419.96 100.27 L420.1 99.65 L420.21 99.03 L420.31 98.42 L420.4 97.8 L420.49 97.18 L420.23 96.57 L419.96 95.95 L419.74 95.33 L419.57 94.72 L419.45 94.1 L419.37 93.48 L419.35 92.86Z M424.65 95.01 L424.64 95.48 L424.6 95.94 L424.53 96.4 L424.44 96.87 L424.33 97.33 L424.19 97.79 L424.02 98.26 L423.83 98.72 L423.61 99.18 L423.57 99.65 L423.71 100.11 L423.89 100.57 L424.11 101.04 L424.65 101.5 L425.15 101.5 L425.69 101.04 L425.91 100.57 L426.09 100.11 L426.23 99.65 L426.19 99.18 L425.97 98.72 L425.78 98.26 L425.61 97.79 L425.47 97.33 L425.36 96.87 L425.27 96.4 L425.2 95.94 L425.16 95.48 L425.15 95.01Z M433.65 85.18 L433.57 86.21 L433.33 87.23 L432.93 88.25 L432.51 89.27 L432.57 90.3 L432.63 91.32 L432.7 92.34 L432.77 93.36 L432.85 94.39 L432.93 95.41 L433.03 96.43 L433.14 97.45 L433.29 98.48 L433.65 99.5 L434.15 99.5 L434.51 98.48 L434.66 97.45 L434.77 96.43 L434.87 95.41 L434.95 94.39 L435.03 93.36 L435.1 92.34 L435.17 91.32 L435.23 90.3 L435.29 89.27 L434.87 88.25 L434.47 87.23 L434.23 86.21 L434.15 85.18Z M439.45 85.91 L439.4 86.88 L439.24 87.85 L438.99 88.82 L438.63 89.79 L438.32 90.76 L438.38 91.73 L438.45 92.7 L438.52 93.67 L438.61 94.64 L438.69 95.62 L438.8 96.59 L438.92 97.56 L439.07 98.53 L439.45 99.5 L439.95 99.5 L440.33 98.53 L440.48 97.56 L440.6 96.59 L440.71 95.62 L440.79 94.64 L440.88 93.67 L440.95 92.7 L441.02 91.73 L441.08 90.76 L440.77 89.79 L440.41 88.82 L440.16 87.85 L440 86.88 L439.95 85.91Z M448.45 91.75 L448.4 92.38 L448.26 93 L448.03 93.63 L447.7 94.25 L447.3 94.88 L447.37 95.5 L447.44 96.13 L447.51 96.75 L447.59 97.38 L447.69 98 L447.79 98.63 L447.91 99.25 L448.07 99.88 L448.45 100.5 L448.95 100.5 L449.33 99.88 L449.49 99.25 L449.61 98.63 L449.71 98 L449.81 97.38 L449.89 96.75 L449.96 96.13 L450.03 95.5 L450.1 94.88 L449.7 94.25 L449.37 93.63 L449.14 93 L449 92.38 L448.95 91.75Z M454.25 92.55 L454.22 93.12 L454.13 93.69 L453.98 94.25 L453.77 94.82 L453.49 95.39 L453.16 95.96 L453.16 96.53 L453.24 97.09 L453.33 97.66 L453.43 98.23 L453.54 98.8 L453.67 99.36 L453.84 99.93 L454.25 100.5 L454.75 100.5 L455.16 99.93 L455.33 99.36 L455.46 98.8 L455.57 98.23 L455.67 97.66 L455.76 97.09 L455.84 96.53 L455.84 95.96 L455.51 95.39 L455.23 94.82 L455.02 94.25 L454.87 93.69 L454.78 93.12 L454.75 92.55Z M463.25 86.04 L463.15 86.86 L462.83 87.67 L462.31 88.49 L462.14 89.31 L462.19 90.13 L462.26 90.95 L462.32 91.77 L462.39 92.59 L462.46 93.41 L462.55 94.22 L462.64 95.04 L462.75 95.86 L462.9 96.68 L463.25 97.5 L463.75 97.5 L464.1 96.68 L464.25 95.86 L464.36 95.04 L464.45 94.22 L464.54 93.41 L464.61 92.59 L464.68 91.77 L464.74 90.95 L464.81 90.13 L464.86 89.31 L464.69 88.49 L464.17 87.67 L463.85 86.86 L463.75 86.04Z M469.05 87.37 L468.98 88.09 L468.76 88.82 L468.4 89.54 L467.9 90.26 L467.96 90.99 L468.02 91.71 L468.09 92.43 L468.16 93.16 L468.24 93.88 L468.32 94.61 L468.42 95.33 L468.54 96.05 L468.69 96.78 L469.05 97.5 L469.55 97.5 L469.91 96.78 L470.06 96.05 L470.18 95.33 L470.28 94.61 L470.36 93.88 L470.44 93.16 L470.51 92.43 L470.58 91.71 L470.64 90.99 L470.7 90.26 L470.2 89.54 L469.84 88.82 L469.62 88.09 L469.55 87.37Z M478.05 91.14 L477.98 91.8 L477.78 92.47 L477.44 93.14 L476.97 93.81 L476.95 94.48 L477.01 95.15 L477.08 95.82 L477.15 96.49 L477.23 97.16 L477.32 97.82 L477.42 98.49 L477.53 99.16 L477.68 99.83 L478.05 100.5 L478.55 100.5 L478.92 99.83 L479.07 99.16 L479.18 98.49 L479.28 97.82 L479.37 97.16 L479.45 96.49 L479.52 95.82 L479.59 95.15 L479.65 94.48 L479.63 93.81 L479.16 93.14 L478.82 92.47 L478.62 91.8 L478.55 91.14Z M483.85 90.91 L483.82 91.59 L483.73 92.28 L483.58 92.96 L483.37 93.65 L483.1 94.33 L482.77 95.02 L482.76 95.7 L482.84 96.39 L482.93 97.07 L483.03 97.76 L483.14 98.44 L483.27 99.13 L483.44 99.81 L483.85 100.5 L484.35 100.5 L484.76 99.81 L484.93 99.13 L485.06 98.44 L485.17 97.76 L485.27 97.07 L485.36 96.39 L485.44 95.7 L485.43 95.02 L485.1 94.33 L484.83 93.65 L484.62 92.96 L484.47 92.28 L484.38 91.59 L484.35 90.91Z M492.85 88.97 L492.76 89.72 L492.49 90.48 L492.03 91.23 L491.72 91.98 L491.78 92.73 L491.84 93.48 L491.91 94.24 L491.98 94.99 L492.05 95.74 L492.14 96.49 L492.23 97.24 L492.35 98 L492.49 98.75 L492.85 99.5 L493.35 99.5 L493.71 98.75 L493.85 98 L493.97 97.24 L494.06 96.49 L494.15 95.74 L494.22 94.99 L494.29 94.24 L494.36 93.48 L494.42 92.73 L494.48 91.98 L494.17 91.23 L493.71 90.48 L493.44 89.72 L493.35 88.97Z M498.65 91.14 L498.57 91.74 L498.34 92.33 L497.96 92.93 L497.51 93.53 L497.57 94.13 L497.63 94.72 L497.69 95.32 L497.77 95.92 L497.84 96.51 L497.93 97.11 L498.02 97.71 L498.14 98.31 L498.29 98.9 L498.65 99.5 L499.15 99.5 L499.51 98.9 L499.66 98.31 L499.78 97.71 L499.87 97.11 L499.96 96.51 L500.03 95.92 L500.11 95.32 L500.17 94.72 L500.23 94.13 L500.29 93.53 L499.84 92.93 L499.46 92.33 L499.23 91.74 L499.15 91.14Z M507.65 59.52 L507.61 61.66 L507.49 63.8 L507.3 65.94 L507.02 68.08 L506.67 70.22 L506.54 72.37 L506.61 74.51 L506.69 76.65 L506.77 78.79 L506.87 80.93 L506.97 83.07 L507.1 85.22 L507.26 87.36 L507.65 89.5 L508.15 89.5 L508.54 87.36 L508.7 85.22 L508.83 83.07 L508.93 80.93 L509.03 78.79 L509.11 76.65 L509.19 74.51 L509.26 72.37 L509.13 70.22 L508.78 68.08 L508.5 65.94 L508.31 63.8 L508.19 61.66 L508.15 59.52Z M513.45 61.49 L513.42 63.49 L513.33 65.49 L513.17 67.49 L512.96 69.49 L512.68 71.49 L512.34 73.49 L512.37 75.49 L512.45 77.49 L512.53 79.5 L512.63 81.5 L512.74 83.5 L512.87 85.5 L513.04 87.5 L513.45 89.5 L513.95 89.5 L514.36 87.5 L514.53 85.5 L514.66 83.5 L514.77 81.5 L514.87 79.5 L514.95 77.49 L515.03 75.49 L515.06 73.49 L514.72 71.49 L514.44 69.49 L514.23 67.49 L514.07 65.49 L513.98 63.49 L513.95 61.49Z M522.45 91.55 L522.4 92.05 L522.26 92.54 L522.03 93.04 L521.69 93.54 L521.3 94.03 L521.37 94.53 L521.44 95.03 L521.51 95.52 L521.6 96.02 L521.69 96.51 L521.79 97.01 L521.91 97.51 L522.07 98 L522.45 98.5 L522.95 98.5 L523.33 98 L523.49 97.51 L523.61 97.01 L523.71 96.51 L523.8 96.02 L523.89 95.52 L523.96 95.03 L524.03 94.53 L524.1 94.03 L523.71 93.54 L523.37 93.04 L523.14 92.54 L523 92.05 L522.95 91.55Z M528.25 91.35 L528.23 91.86 L528.16 92.37 L528.05 92.88 L527.9 93.39 L527.7 93.9 L527.46 94.41 L527.18 94.93 L527.17 95.44 L527.26 95.95 L527.37 96.46 L527.48 96.97 L527.62 97.48 L527.81 97.99 L528.25 98.5 L528.75 98.5 L529.19 97.99 L529.38 97.48 L529.52 96.97 L529.63 96.46 L529.74 95.95 L529.83 95.44 L529.82 94.93 L529.54 94.41 L529.3 93.9 L529.1 93.39 L528.95 92.88 L528.84 92.37 L528.77 91.86 L528.75 91.35Z M537.25 93.78 L537.22 94.19 L537.13 94.59 L536.99 95 L536.79 95.41 L536.52 95.82 L536.2 96.23 L536.15 96.64 L536.24 97.05 L536.32 97.46 L536.42 97.86 L536.53 98.27 L536.66 98.68 L536.84 99.09 L537.25 99.5 L537.75 99.5 L538.16 99.09 L538.34 98.68 L538.47 98.27 L538.58 97.86 L538.68 97.46 L538.76 97.05 L538.85 96.64 L538.8 96.23 L538.48 95.82 L538.21 95.41 L538.01 95 L537.87 94.59 L537.78 94.19 L537.75 93.78Z M543.05 93.85 L543.03 94.25 L542.98 94.66 L542.89 95.06 L542.77 95.46 L542.61 95.87 L542.41 96.27 L542.18 96.68 L541.91 97.08 L542 97.48 L542.11 97.89 L542.23 98.29 L542.38 98.69 L542.58 99.1 L543.05 99.5 L543.55 99.5 L544.02 99.1 L544.22 98.69 L544.37 98.29 L544.49 97.89 L544.6 97.48 L544.69 97.08 L544.42 96.68 L544.19 96.27 L543.99 95.87 L543.83 95.46 L543.71 95.06 L543.62 94.66 L543.57 94.25 L543.55 93.85Z M552.05 90.58 L552.02 91.36 L551.92 92.14 L551.75 92.92 L551.53 93.7 L551.23 94.48 L550.91 95.26 L550.98 96.04 L551.06 96.82 L551.15 97.6 L551.24 98.38 L551.35 99.16 L551.48 99.94 L551.65 100.72 L552.05 101.5 L552.55 101.5 L552.95 100.72 L553.12 99.94 L553.25 99.16 L553.36 98.38 L553.45 97.6 L553.54 96.82 L553.62 96.04 L553.69 95.26 L553.37 94.48 L553.07 93.7 L552.85 92.92 L552.68 92.14 L552.58 91.36 L552.55 90.58Z M557.85 91.4 L557.83 92.13 L557.78 92.85 L557.68 93.57 L557.56 94.29 L557.39 95.01 L557.19 95.73 L556.95 96.45 L556.71 97.17 L556.81 97.89 L556.92 98.62 L557.04 99.34 L557.19 100.06 L557.38 100.78 L557.85 101.5 L558.35 101.5 L558.82 100.78 L559.01 100.06 L559.16 99.34 L559.28 98.62 L559.39 97.89 L559.49 97.17 L559.25 96.45 L559.01 95.73 L558.81 95.01 L558.64 94.29 L558.52 93.57 L558.42 92.85 L558.37 92.13 L558.35 91.4Z M566.85 89.42 L566.83 90.29 L566.78 91.15 L566.7 92.01 L566.59 92.87 L566.44 93.74 L566.26 94.6 L566.05 95.46 L565.8 96.32 L565.77 97.19 L565.88 98.05 L566.01 98.91 L566.16 99.77 L566.36 100.64 L566.85 101.5 L567.35 101.5 L567.84 100.64 L568.04 99.77 L568.19 98.91 L568.32 98.05 L568.43 97.19 L568.4 96.32 L568.15 95.46 L567.94 94.6 L567.76 93.74 L567.61 92.87 L567.5 92.01 L567.42 91.15 L567.37 90.29 L567.35 89.42Z M572.65 91.12 L572.64 91.86 L572.6 92.6 L572.54 93.34 L572.45 94.08 L572.34 94.82 L572.2 95.57 L572.04 96.31 L571.85 97.05 L571.64 97.79 L571.55 98.53 L571.7 99.27 L571.87 100.02 L572.1 100.76 L572.65 101.5 L573.15 101.5 L573.7 100.76 L573.93 100.02 L574.1 99.27 L574.25 98.53 L574.16 97.79 L573.95 97.05 L573.76 96.31 L573.6 95.57 L573.46 94.82 L573.35 94.08 L573.26 93.34 L573.2 92.6 L573.16 91.86 L573.15 91.12Z M581.65 97.61 L581.63 97.89 L581.56 98.16 L581.44 98.44 L581.27 98.72 L581.06 99 L580.8 99.28 L580.5 99.55 L580.59 99.83 L580.68 100.11 L580.78 100.39 L580.9 100.67 L581.04 100.94 L581.22 101.22 L581.65 101.5 L582.15 101.5 L582.58 101.22 L582.76 100.94 L582.9 100.67 L583.02 100.39 L583.12 100.11 L583.21 99.83 L583.3 99.55 L583 99.28 L582.74 99 L582.53 98.72 L582.36 98.44 L582.24 98.16 L582.17 97.89 L582.15 97.61Z M587.45 98.45 L587.44 98.67 L587.4 98.88 L587.33 99.1 L587.23 99.32 L587.11 99.54 L586.96 99.76 L586.78 99.97 L586.58 100.19 L586.35 100.41 L586.4 100.63 L586.54 100.85 L586.71 101.06 L586.93 101.28 L587.45 101.5 L587.95 101.5 L588.47 101.28 L588.69 101.06 L588.86 100.85 L589 100.63 L589.05 100.41 L588.82 100.19 L588.62 99.97 L588.44 99.76 L588.29 99.54 L588.17 99.32 L588.07 99.1 L588 98.88 L587.96 98.67 L587.95 98.45Z M596.45 67.68 L596.37 69.67 L596.12 71.66 L595.7 73.64 L595.32 75.63 L595.37 77.62 L595.44 79.6 L595.5 81.59 L595.57 83.58 L595.65 85.57 L595.73 87.55 L595.83 89.54 L595.94 91.53 L596.09 93.51 L596.45 95.5 L596.95 95.5 L597.31 93.51 L597.46 91.53 L597.57 89.54 L597.67 87.55 L597.75 85.57 L597.83 83.58 L597.9 81.59 L597.96 79.6 L598.03 77.62 L598.08 75.63 L597.7 73.64 L597.28 71.66 L597.03 69.67 L596.95 67.68Z M602.25 70.89 L602.2 72.65 L602.05 74.41 L601.81 76.17 L601.46 77.92 L601.11 79.68 L601.18 81.44 L601.24 83.2 L601.32 84.95 L601.4 86.71 L601.49 88.47 L601.59 90.23 L601.71 91.98 L601.87 93.74 L602.25 95.5 L602.75 95.5 L603.13 93.74 L603.29 91.98 L603.41 90.23 L603.51 88.47 L603.6 86.71 L603.68 84.95 L603.76 83.2 L603.82 81.44 L603.89 79.68 L603.54 77.92 L603.19 76.17 L602.95 74.41 L602.8 72.65 L602.75 70.89Z M611.25 87.63 L611.23 88.62 L611.19 89.61 L611.11 90.6 L611 91.59 L610.85 92.59 L610.68 93.58 L610.47 94.57 L610.23 95.56 L610.15 96.55 L610.27 97.54 L610.4 98.53 L610.56 99.52 L610.76 100.51 L611.25 101.5 L611.75 101.5 L612.24 100.51 L612.44 99.52 L612.6 98.53 L612.73 97.54 L612.85 96.55 L612.77 95.56 L612.53 94.57 L612.32 93.58 L612.15 92.59 L612 91.59 L611.89 90.6 L611.81 89.61 L611.77 88.62 L611.75 87.63Z M617.05 88.45 L617.04 89.39 L617.01 90.32 L616.96 91.25 L616.88 92.18 L616.79 93.11 L616.68 94.05 L616.54 94.98 L616.38 95.91 L616.21 96.84 L616.01 97.77 L615.98 98.7 L616.18 99.64 L616.43 100.57 L617.05 101.5 L617.55 101.5 L618.17 100.57 L618.42 99.64 L618.62 98.7 L618.59 97.77 L618.39 96.84 L618.22 95.91 L618.06 94.98 L617.92 94.05 L617.81 93.11 L617.72 92.18 L617.64 91.25 L617.59 90.32 L617.56 89.39 L617.55 88.45Z M626.05 97.86 L626.02 98.12 L625.92 98.38 L625.75 98.64 L625.53 98.9 L625.23 99.16 L624.91 99.42 L624.98 99.68 L625.06 99.94 L625.15 100.2 L625.24 100.46 L625.35 100.72 L625.48 100.98 L625.65 101.24 L626.05 101.5 L626.55 101.5 L626.95 101.24 L627.12 100.98 L627.25 100.72 L627.36 100.46 L627.45 100.2 L627.54 99.94 L627.62 99.68 L627.69 99.42 L627.37 99.16 L627.07 98.9 L626.85 98.64 L626.68 98.38 L626.58 98.12 L626.55 97.86Z M631.85 99.13 L631.83 99.3 L631.75 99.46 L631.63 99.63 L631.47 99.8 L631.25 99.97 L630.99 100.14 L630.71 100.31 L630.79 100.48 L630.88 100.65 L630.99 100.82 L631.1 100.99 L631.24 101.16 L631.42 101.33 L631.85 101.5 L632.35 101.5 L632.78 101.33 L632.96 101.16 L633.1 100.99 L633.21 100.82 L633.32 100.65 L633.41 100.48 L633.49 100.31 L633.21 100.14 L632.95 99.97 L632.73 99.8 L632.57 99.63 L632.45 99.46 L632.37 99.3 L632.35 99.13Z M640.85 98.8 L640.83 98.99 L640.77 99.18 L640.68 99.37 L640.55 99.57 L640.38 99.76 L640.17 99.95 L639.92 100.15 L639.72 100.34 L639.82 100.53 L639.93 100.73 L640.05 100.92 L640.2 101.11 L640.39 101.31 L640.85 101.5 L641.35 101.5 L641.81 101.31 L642 101.11 L642.15 100.92 L642.27 100.73 L642.38 100.53 L642.48 100.34 L642.28 100.15 L642.03 99.95 L641.82 99.76 L641.65 99.57 L641.52 99.37 L641.43 99.18 L641.37 98.99 L641.35 98.8Z M646.65 99.33 L646.64 99.49 L646.62 99.64 L646.57 99.8 L646.52 99.95 L646.44 100.11 L646.35 100.26 L646.24 100.42 L646.12 100.57 L645.97 100.73 L645.82 100.88 L645.64 101.04 L646.01 101.19 L646.2 101.35 L646.65 101.5 L647.15 101.5 L647.6 101.35 L647.79 101.19 L648.16 101.04 L647.98 100.88 L647.83 100.73 L647.68 100.57 L647.56 100.42 L647.45 100.26 L647.36 100.11 L647.28 99.95 L647.23 99.8 L647.18 99.64 L647.16 99.49 L647.15 99.33Z" fill="#a9a296"/>
<path d="M359.9 97.9V101.5 M365.7 99.4V102 M374.7 80V93.44 M380.5 79.07V98 M389.5 87.8V101 M395.3 89.3V101 M404.3 88.6V100 M410.1 88.4V100 M419.1 87.86V102 M424.9 92.68V102 M433.9 78V99.08 M439.7 80.84V98.32 M448.7 86.24V101 M454.5 87.44V101 M463.5 81.4V94.7 M469.3 82.9V96.2 M478.3 86V100.36 M484.1 85.28V101 M493.1 84.3V97.6 M498.9 86.85V100 M507.9 38V90 M513.7 38.8V90 M522.7 88.96V98.08 M528.5 89.38V99 M537.5 91.52V100 M543.3 91.64V100 M552.3 84.28V102 M558.1 87.86V102 M567.1 85.52V102 M572.9 87.96V102 M581.9 95.98V102 M587.7 96.88V102 M596.7 54V94.94 M602.5 55.09V96 M611.5 84.92V102 M617.3 90.48V102 M626.3 95.2V102 M632.1 96.94V102 M641.1 98.3V101.9 M646.9 99.1V102" stroke="#4d473d" stroke-width="0.7"/>
<rect x="357.3" y="99.5" width="5.2" height="0.9" fill="#3f0e54" stroke="#2a2a2a" stroke-width="0.35"/>
<line x1="357.3" y1="99.9" x2="362.5" y2="99.9" stroke="#111" stroke-width="0.6"/>
<rect x="363.1" y="101" width="5.2" height="0.9" fill="#e8e337" stroke="#2a2a2a" stroke-width="0.35"/>
<line x1="363.1" y1="101.3" x2="368.3" y2="101.3" stroke="#111" stroke-width="0.6"/>
<rect x="372.1" y="85.3" width="5.2" height="3.7" fill="#3f0e54" stroke="#2a2a2a" stroke-width="0.35"/>
<line x1="372.1" y1="87" x2="377.3" y2="87" stroke="#111" stroke-width="0.6"/>
<rect x="377.9" y="87" width="5.2" height="5" fill="#e8e337" stroke="#2a2a2a" stroke-width="0.35"/>
<line x1="377.9" y1="89.5" x2="383.1" y2="89.5" stroke="#111" stroke-width="0.6"/>
<rect x="386.9" y="93.4" width="5.2" height="3.5" fill="#3f0e54" stroke="#2a2a2a" stroke-width="0.35"/>
<line x1="386.9" y1="95.2" x2="392.1" y2="95.2" stroke="#111" stroke-width="0.6"/>
<rect x="392.7" y="94.9" width="5.2" height="3.5" fill="#e8e337" stroke="#2a2a2a" stroke-width="0.35"/>
<line x1="392.7" y1="96.6" x2="397.9" y2="96.6" stroke="#111" stroke-width="0.6"/>
<rect x="401.7" y="93.4" width="5.2" height="3" fill="#3f0e54" stroke="#2a2a2a" stroke-width="0.35"/>
<line x1="401.7" y1="95" x2="406.9" y2="95" stroke="#111" stroke-width="0.6"/>
<rect x="407.5" y="94" width="5.2" height="3.5" fill="#e8e337" stroke="#2a2a2a" stroke-width="0.35"/>
<line x1="407.5" y1="95.8" x2="412.7" y2="95.8" stroke="#111" stroke-width="0.6"/>
<rect x="416.5" y="94.9" width="5.2" height="4.4" fill="#3f0e54" stroke="#2a2a2a" stroke-width="0.35"/>
<line x1="416.5" y1="97" x2="421.7" y2="97" stroke="#111" stroke-width="0.6"/>
<rect x="422.3" y="97.8" width="5.2" height="3.2" fill="#e8e337" stroke="#2a2a2a" stroke-width="0.35"/>
<line x1="422.3" y1="99.5" x2="427.5" y2="99.5" stroke="#111" stroke-width="0.6"/>
<rect x="431.3" y="86.1" width="5.2" height="5.9" fill="#3f0e54" stroke="#2a2a2a" stroke-width="0.35"/>
<line x1="431.3" y1="89" x2="436.5" y2="89" stroke="#111" stroke-width="0.6"/>
<rect x="437.1" y="88.2" width="5.2" height="4.6" fill="#e8e337" stroke="#2a2a2a" stroke-width="0.35"/>
<line x1="437.1" y1="90.5" x2="442.3" y2="90.5" stroke="#111" stroke-width="0.6"/>
<rect x="446.1" y="92.8" width="5.2" height="4.1" fill="#3f0e54" stroke="#2a2a2a" stroke-width="0.35"/>
<line x1="446.1" y1="94.8" x2="451.3" y2="94.8" stroke="#111" stroke-width="0.6"/>
<rect x="451.9" y="94" width="5.2" height="4.1" fill="#e8e337" stroke="#2a2a2a" stroke-width="0.35"/>
<line x1="451.9" y1="96" x2="457.1" y2="96" stroke="#111" stroke-width="0.6"/>
<rect x="460.9" y="87" width="5.2" height="3.5" fill="#3f0e54" stroke="#2a2a2a" stroke-width="0.35"/>
<line x1="460.9" y1="88.8" x2="466.1" y2="88.8" stroke="#111" stroke-width="0.6"/>
<rect x="466.7" y="88.5" width="5.2" height="3.5" fill="#e8e337" stroke="#2a2a2a" stroke-width="0.35"/>
<line x1="466.7" y1="90.2" x2="471.9" y2="90.2" stroke="#111" stroke-width="0.6"/>
<rect x="475.7" y="92" width="5.2" height="3.8" fill="#3f0e54" stroke="#2a2a2a" stroke-width="0.35"/>
<line x1="475.7" y1="94" x2="480.9" y2="94" stroke="#111" stroke-width="0.6"/>
<rect x="481.5" y="92.8" width="5.2" height="4.7" fill="#e8e337" stroke="#2a2a2a" stroke-width="0.35"/>
<line x1="481.5" y1="95" x2="486.7" y2="95" stroke="#111" stroke-width="0.6"/>
<rect x="490.5" y="89.9" width="5.2" height="3.5" fill="#3f0e54" stroke="#2a2a2a" stroke-width="0.35"/>
<line x1="490.5" y1="91.6" x2="495.7" y2="91.6" stroke="#111" stroke-width="0.6"/>
<rect x="496.3" y="91.4" width="5.2" height="4.1" fill="#e8e337" stroke="#2a2a2a" stroke-width="0.35"/>
<line x1="496.3" y1="93.4" x2="501.5" y2="93.4" stroke="#111" stroke-width="0.6"/>
<rect x="505.3" y="62.8" width="5.2" height="16.6" fill="#3f0e54" stroke="#2a2a2a" stroke-width="0.35"/>
<line x1="505.3" y1="71" x2="510.5" y2="71" stroke="#111" stroke-width="0.6"/>
<rect x="511.1" y="64.8" width="5.2" height="17.8" fill="#e8e337" stroke="#2a2a2a" stroke-width="0.35"/>
<line x1="511.1" y1="73.9" x2="516.3" y2="73.9" stroke="#111" stroke-width="0.6"/>
<rect x="520.1" y="92.8" width="5.2" height="2.4" fill="#3f0e54" stroke="#2a2a2a" stroke-width="0.35"/>
<line x1="520.1" y1="94" x2="525.3" y2="94" stroke="#111" stroke-width="0.6"/>
<rect x="525.9" y="93.7" width="5.2" height="2.7" fill="#e8e337" stroke="#2a2a2a" stroke-width="0.35"/>
<line x1="525.9" y1="95" x2="531.1" y2="95" stroke="#111" stroke-width="0.6"/>
<rect x="534.9" y="95.2" width="5.2" height="2.3" fill="#3f0e54" stroke="#2a2a2a" stroke-width="0.35"/>
<line x1="534.9" y1="96.4" x2="540.1" y2="96.4" stroke="#111" stroke-width="0.6"/>
<rect x="540.7" y="95.8" width="5.2" height="2.6" fill="#e8e337" stroke="#2a2a2a" stroke-width="0.35"/>
<line x1="540.7" y1="97" x2="545.9" y2="97" stroke="#111" stroke-width="0.6"/>
<rect x="549.7" y="92.6" width="5.2" height="5.2" fill="#3f0e54" stroke="#2a2a2a" stroke-width="0.35"/>
<line x1="549.7" y1="95" x2="554.9" y2="95" stroke="#111" stroke-width="0.6"/>
<rect x="555.5" y="94.9" width="5.2" height="4.4" fill="#e8e337" stroke="#2a2a2a" stroke-width="0.35"/>
<line x1="555.5" y1="97" x2="560.7" y2="97" stroke="#111" stroke-width="0.6"/>
<rect x="564.5" y="94" width="5.2" height="5.3" fill="#3f0e54" stroke="#2a2a2a" stroke-width="0.35"/>
<line x1="564.5" y1="96.5" x2="569.7" y2="96.5" stroke="#111" stroke-width="0.6"/>
<rect x="570.3" y="95.8" width="5.2" height="4.9" fill="#e8e337" stroke="#2a2a2a" stroke-width="0.35"/>
<line x1="570.3" y1="98.2" x2="575.5" y2="98.2" stroke="#111" stroke-width="0.6"/>
<rect x="579.3" y="98.7" width="5.2" height="1.7" fill="#3f0e54" stroke="#2a2a2a" stroke-width="0.35"/>
<line x1="579.3" y1="99.5" x2="584.5" y2="99.5" stroke="#111" stroke-width="0.6"/>
<rect x="585.1" y="99.6" width="5.2" height="1.7" fill="#e8e337" stroke="#2a2a2a" stroke-width="0.35"/>
<line x1="585.1" y1="100.4" x2="590.3" y2="100.4" stroke="#111" stroke-width="0.6"/>
<rect x="594.1" y="69.2" width="5.2" height="11.7" fill="#3f0e54" stroke="#2a2a2a" stroke-width="0.35"/>
<line x1="594.1" y1="75" x2="599.3" y2="75" stroke="#111" stroke-width="0.6"/>
<rect x="599.9" y="72.1" width="5.2" height="14.6" fill="#e8e337" stroke="#2a2a2a" stroke-width="0.35"/>
<line x1="599.9" y1="78.2" x2="605.1" y2="78.2" stroke="#111" stroke-width="0.6"/>
<rect x="608.9" y="93.4" width="5.2" height="5.3" fill="#3f0e54" stroke="#2a2a2a" stroke-width="0.35"/>
<line x1="608.9" y1="96" x2="614.1" y2="96" stroke="#111" stroke-width="0.6"/>
<rect x="614.7" y="96.4" width="5.2" height="3.7" fill="#e8e337" stroke="#2a2a2a" stroke-width="0.35"/>
<line x1="614.7" y1="98.2" x2="619.9" y2="98.2" stroke="#111" stroke-width="0.6"/>
<rect x="623.7" y="98.4" width="5.2" height="2" fill="#3f0e54" stroke="#2a2a2a" stroke-width="0.35"/>
<line x1="623.7" y1="99.4" x2="628.9" y2="99.4" stroke="#111" stroke-width="0.6"/>
<rect x="629.5" y="99.3" width="5.2" height="2" fill="#e8e337" stroke="#2a2a2a" stroke-width="0.35"/>
<line x1="629.5" y1="100.3" x2="634.7" y2="100.3" stroke="#111" stroke-width="0.6"/>
<rect x="638.5" y="99.9" width="5.2" height="0.9" fill="#3f0e54" stroke="#2a2a2a" stroke-width="0.35"/>
<line x1="638.5" y1="100.3" x2="643.7" y2="100.3" stroke="#111" stroke-width="0.6"/>
<rect x="644.3" y="100.7" width="5.2" height="0.9" fill="#e8e337" stroke="#2a2a2a" stroke-width="0.35"/>
<line x1="644.3" y1="101.1" x2="649.5" y2="101.1" stroke="#111" stroke-width="0.6"/>
<rect x="367.9" y="30.3" width="8" height="5.6" fill="#3f0e54" stroke="#222" stroke-width="0.3"/>
<rect x="367.9" y="40.1" width="8" height="5.4" fill="#e8e337" stroke="#8a8a30" stroke-width="0.4"/>
<text x="380.3" y="35.6" font-size="7.4" text-anchor="start" fill="#333" textLength="21.9" lengthAdjust="spacingAndGlyphs" >AAVS1</text>
<text x="380.3" y="46.6" font-size="7.4" text-anchor="start" fill="#333" textLength="28.3" lengthAdjust="spacingAndGlyphs" >MECOM</text>
<rect x="347.3" y="158.4" width="306.2" height="96.3" fill="none" stroke="#8c8c8c" stroke-width="0.8"/>
<line x1="343.8" y1="251.2" x2="347.3" y2="251.2" stroke="#8c8c8c" stroke-width="0.7"/>
<text x="338.8" y="253.8" font-size="7.4" text-anchor="middle" fill="#333" >0</text>
<line x1="343.8" y1="233.52" x2="347.3" y2="233.52" stroke="#8c8c8c" stroke-width="0.7"/>
<text x="338.8" y="236.12" font-size="7.4" text-anchor="middle" fill="#333" >1</text>
<line x1="343.8" y1="215.84" x2="347.3" y2="215.84" stroke="#8c8c8c" stroke-width="0.7"/>
<text x="338.8" y="218.44" font-size="7.4" text-anchor="middle" fill="#333" >2</text>
<line x1="343.8" y1="198.16" x2="347.3" y2="198.16" stroke="#8c8c8c" stroke-width="0.7"/>
<text x="338.8" y="200.76" font-size="7.4" text-anchor="middle" fill="#333" >3</text>
<line x1="343.8" y1="180.48" x2="347.3" y2="180.48" stroke="#8c8c8c" stroke-width="0.7"/>
<text x="338.8" y="183.08" font-size="7.4" text-anchor="middle" fill="#333" >4</text>
<line x1="343.8" y1="162.8" x2="347.3" y2="162.8" stroke="#8c8c8c" stroke-width="0.7"/>
<text x="338.8" y="165.4" font-size="7.4" text-anchor="middle" fill="#333" >5</text>
<text transform="translate(327.8,207.5) rotate(-90)" font-size="9" text-anchor="middle" fill="#231f20" textLength="45" lengthAdjust="spacingAndGlyphs">Expression</text>
<line x1="356.2" y1="254.7" x2="356.2" y2="258.2" stroke="#8c8c8c" stroke-width="0.7"/>
<text transform="translate(359.8,265.5) rotate(-45)" font-size="7.3" font-style="italic" text-anchor="end" fill="#2e2e2e" style="stroke-width:0.08px">LMO4</text>
<line x1="372.2" y1="254.7" x2="372.2" y2="258.2" stroke="#8c8c8c" stroke-width="0.7"/>
<text transform="translate(375.8,265.5) rotate(-45)" font-size="7.3" font-style="italic" text-anchor="end" fill="#2e2e2e" style="stroke-width:0.08px">IGFBP2</text>
<line x1="388.2" y1="254.7" x2="388.2" y2="258.2" stroke="#8c8c8c" stroke-width="0.7"/>
<text transform="translate(391.8,265.5) rotate(-45)" font-size="7.3" font-style="italic" text-anchor="end" fill="#2e2e2e" style="stroke-width:0.08px">GATA2</text>
<line x1="404.2" y1="254.7" x2="404.2" y2="258.2" stroke="#8c8c8c" stroke-width="0.7"/>
<text transform="translate(407.8,265.5) rotate(-45)" font-size="7.3" font-style="italic" text-anchor="end" fill="#2e2e2e" style="stroke-width:0.08px">MYB</text>
<line x1="420.2" y1="254.7" x2="420.2" y2="258.2" stroke="#8c8c8c" stroke-width="0.7"/>
<text transform="translate(423.8,265.5) rotate(-45)" font-size="7.3" font-style="italic" text-anchor="end" fill="#2e2e2e" style="stroke-width:0.08px">PLIN2</text>
<line x1="436.2" y1="254.7" x2="436.2" y2="258.2" stroke="#8c8c8c" stroke-width="0.7"/>
<text transform="translate(439.8,265.5) rotate(-45)" font-size="7.3" font-style="italic" text-anchor="end" fill="#2e2e2e" style="stroke-width:0.08px">GFI1B</text>
<line x1="452.2" y1="254.7" x2="452.2" y2="258.2" stroke="#8c8c8c" stroke-width="0.7"/>
<text transform="translate(455.8,265.5) rotate(-45)" font-size="7.3" font-style="italic" text-anchor="end" fill="#2e2e2e" style="stroke-width:0.08px">EXD3</text>
<line x1="468.2" y1="254.7" x2="468.2" y2="258.2" stroke="#8c8c8c" stroke-width="0.7"/>
<text transform="translate(471.8,265.5) rotate(-45)" font-size="7.3" font-style="italic" text-anchor="end" fill="#2e2e2e" style="stroke-width:0.08px">IFITM1</text>
<line x1="484.2" y1="254.7" x2="484.2" y2="258.2" stroke="#8c8c8c" stroke-width="0.7"/>
<text transform="translate(487.8,265.5) rotate(-45)" font-size="7.3" font-style="italic" text-anchor="end" fill="#2e2e2e" style="stroke-width:0.08px">SPI1</text>
<line x1="500.2" y1="254.7" x2="500.2" y2="258.2" stroke="#8c8c8c" stroke-width="0.7"/>
<text transform="translate(503.8,265.5) rotate(-45)" font-size="7.3" font-style="italic" text-anchor="end" fill="#2e2e2e" style="stroke-width:0.08px">SRGN</text>
<line x1="516.2" y1="254.7" x2="516.2" y2="258.2" stroke="#8c8c8c" stroke-width="0.7"/>
<text transform="translate(519.8,265.5) rotate(-45)" font-size="7.3" font-style="italic" text-anchor="end" fill="#2e2e2e" style="stroke-width:0.08px">CTSG</text>
<line x1="532.2" y1="254.7" x2="532.2" y2="258.2" stroke="#8c8c8c" stroke-width="0.7"/>
<text transform="translate(535.8,265.5) rotate(-45)" font-size="7.3" font-style="italic" text-anchor="end" fill="#2e2e2e" style="stroke-width:0.08px">SLC27A2</text>
<line x1="548.2" y1="254.7" x2="548.2" y2="258.2" stroke="#8c8c8c" stroke-width="0.7"/>
<text transform="translate(551.8,265.5) rotate(-45)" font-size="7.3" font-style="italic" text-anchor="end" fill="#2e2e2e" style="stroke-width:0.08px">NME2</text>
<line x1="564.2" y1="254.7" x2="564.2" y2="258.2" stroke="#8c8c8c" stroke-width="0.7"/>
<text transform="translate(567.8,265.5) rotate(-45)" font-size="7.3" font-style="italic" text-anchor="end" fill="#2e2e2e" style="stroke-width:0.08px">MPO</text>
<line x1="580.2" y1="254.7" x2="580.2" y2="258.2" stroke="#8c8c8c" stroke-width="0.7"/>
<text transform="translate(583.8,265.5) rotate(-45)" font-size="7.3" font-style="italic" text-anchor="end" fill="#2e2e2e" style="stroke-width:0.08px">PRAM1</text>
<line x1="596.2" y1="254.7" x2="596.2" y2="258.2" stroke="#8c8c8c" stroke-width="0.7"/>
<text transform="translate(599.8,265.5) rotate(-45)" font-size="7.3" font-style="italic" text-anchor="end" fill="#2e2e2e" style="stroke-width:0.08px">CALR</text>
<line x1="612.2" y1="254.7" x2="612.2" y2="258.2" stroke="#8c8c8c" stroke-width="0.7"/>
<text transform="translate(615.8,265.5) rotate(-45)" font-size="7.3" font-style="italic" text-anchor="end" fill="#2e2e2e" style="stroke-width:0.08px">CEBPA</text>
<line x1="628.2" y1="254.7" x2="628.2" y2="258.2" stroke="#8c8c8c" stroke-width="0.7"/>
<text transform="translate(631.8,265.5) rotate(-45)" font-size="7.3" font-style="italic" text-anchor="end" fill="#2e2e2e" style="stroke-width:0.08px">IGLL1</text>
<line x1="644.2" y1="254.7" x2="644.2" y2="258.2" stroke="#8c8c8c" stroke-width="0.7"/>
<text transform="translate(647.8,265.5) rotate(-45)" font-size="7.3" font-style="italic" text-anchor="end" fill="#2e2e2e" style="stroke-width:0.08px">MIF</text>
<path d="M352.9 245.5h.01 M353.5 232.2h.01 M354.5 234.8h.01 M353.7 203.5h.01 M352.8 227.0h.01 M351.4 221.0h.01 M354.1 231.4h.01 M353.0 217.1h.01 M353.9 224.6h.01 M352.6 239.6h.01 M352.8 246.6h.01 M352.8 234.0h.01 M351.9 228.2h.01 M353.5 247.5h.01 M351.5 240.3h.01 M353.2 234.8h.01 M352.9 221.9h.01 M352.6 222.9h.01 M353.0 230.7h.01 M353.3 229.6h.01 M352.3 247.1h.01 M353.2 233.1h.01 M352.3 240.5h.01 M353.3 237.1h.01 M352.9 226.0h.01 M352.3 240.7h.01 M352.9 229.1h.01 M352.8 234.1h.01 M353.8 234.3h.01 M353.3 233.3h.01 M354.0 242.3h.01 M351.5 243.4h.01 M353.5 247.2h.01 M353.8 218.6h.01 M353.6 243.0h.01 M354.1 218.5h.01 M353.5 245.9h.01 M354.0 237.6h.01 M354.6 240.7h.01 M353.6 235.6h.01 M351.5 236.3h.01 M353.1 243.8h.01 M353.2 244.7h.01 M353.6 233.6h.01 M352.6 207.8h.01 M352.4 241.8h.01 M353.1 244.1h.01 M351.8 228.5h.01 M352.8 241.3h.01 M352.8 244.9h.01 M352.6 233.7h.01 M353.2 244.0h.01 M353.2 233.7h.01 M351.4 235.2h.01 M352.6 237.3h.01 M353.5 243.2h.01 M353.6 246.2h.01 M353.4 233.6h.01 M352.5 214.0h.01 M353.6 224.4h.01 M351.3 242.6h.01 M352.2 221.9h.01 M352.0 230.4h.01 M352.1 232.1h.01 M352.3 221.5h.01 M354.2 247.3h.01 M354.4 239.2h.01 M351.7 232.2h.01 M354.1 234.8h.01 M351.9 231.1h.01 M353.2 221.6h.01 M352.5 225.5h.01 M357.7 240.2h.01 M357.2 237.4h.01 M359.5 234.1h.01 M358.7 237.4h.01 M358.8 247.7h.01 M359.6 216.8h.01 M359.0 207.9h.01 M358.1 243.7h.01 M359.9 244.1h.01 M359.2 225.5h.01 M359.9 225.5h.01 M359.2 228.8h.01 M356.3 233.0h.01 M358.5 216.4h.01 M359.8 218.2h.01 M358.6 235.8h.01 M360.9 227.3h.01 M357.7 236.8h.01 M358.0 215.3h.01 M360.2 236.7h.01 M358.8 226.2h.01 M359.3 231.2h.01 M358.2 243.8h.01 M359.8 220.4h.01 M358.2 240.9h.01 M359.6 242.5h.01 M360.4 226.9h.01 M359.8 241.6h.01 M357.9 211.3h.01 M360.8 234.9h.01 M359.7 231.4h.01 M359.7 237.3h.01 M357.7 246.0h.01 M356.9 231.4h.01 M358.6 213.0h.01 M359.9 211.8h.01 M360.9 214.2h.01 M358.0 218.2h.01 M359.7 214.2h.01 M359.0 227.2h.01 M359.2 223.6h.01 M359.3 233.3h.01 M360.1 242.6h.01 M359.6 218.1h.01 M360.8 242.9h.01 M357.9 235.7h.01 M359.0 218.8h.01 M358.7 242.6h.01 M359.7 227.1h.01 M358.6 241.7h.01 M359.2 234.4h.01 M360.3 232.2h.01 M357.9 219.7h.01 M358.7 240.6h.01 M358.6 228.8h.01 M358.7 235.3h.01 M359.2 224.3h.01 M358.5 226.7h.01 M358.7 213.1h.01 M360.3 223.7h.01 M359.8 217.3h.01 M358.6 223.1h.01 M360.0 231.1h.01 M357.7 245.7h.01 M358.5 236.1h.01 M360.1 211.9h.01 M360.3 240.1h.01 M357.2 244.0h.01 M359.4 239.1h.01 M358.3 236.6h.01 M368.7 247.0h.01 M369.3 248.5h.01 M369.8 235.8h.01 M371.2 236.1h.01 M369.9 235.9h.01 M368.7 219.2h.01 M369.7 233.8h.01 M370.8 229.7h.01 M369.7 214.0h.01 M369.7 234.1h.01 M369.9 246.3h.01 M367.4 233.7h.01 M368.8 242.5h.01 M370.1 246.0h.01 M368.4 218.0h.01 M368.4 199.0h.01 M369.9 233.6h.01 M367.3 227.0h.01 M371.4 245.8h.01 M369.8 238.2h.01 M368.0 242.9h.01 M369.7 243.4h.01 M370.0 215.7h.01 M370.8 245.1h.01 M368.2 215.9h.01 M369.0 221.2h.01 M368.9 244.0h.01 M371.0 226.6h.01 M369.8 209.7h.01 M369.2 205.3h.01 M369.2 194.9h.01 M369.5 210.4h.01 M369.3 247.2h.01 M370.9 214.9h.01 M369.8 190.8h.01 M369.3 247.6h.01 M369.3 228.8h.01 M369.6 236.7h.01 M369.8 221.5h.01 M370.3 239.3h.01 M368.7 222.9h.01 M369.1 233.3h.01 M371.3 197.4h.01 M368.2 234.0h.01 M368.0 229.6h.01 M370.3 234.2h.01 M368.4 239.3h.01 M369.7 239.8h.01 M368.9 212.5h.01 M369.9 214.4h.01 M368.7 244.7h.01 M370.8 198.4h.01 M367.7 246.6h.01 M369.6 205.8h.01 M369.6 235.2h.01 M368.5 204.3h.01 M369.5 225.2h.01 M367.6 200.8h.01 M370.0 222.0h.01 M368.9 203.6h.01 M369.8 244.8h.01 M368.3 238.8h.01 M369.6 240.8h.01 M368.7 240.0h.01 M369.6 246.6h.01 M368.1 225.7h.01 M371.1 248.4h.01 M369.2 231.1h.01 M370.1 245.6h.01 M368.5 208.3h.01 M369.9 235.5h.01 M370.0 233.7h.01 M368.2 230.9h.01 M367.8 247.4h.01 M370.1 221.2h.01 M369.0 223.3h.01 M370.5 241.0h.01 M369.1 242.4h.01 M368.7 243.4h.01 M370.6 247.1h.01 M370.7 192.8h.01 M370.7 233.6h.01 M369.6 227.0h.01 M368.3 209.0h.01 M369.4 223.4h.01 M367.9 230.6h.01 M369.7 190.0h.01 M369.3 219.2h.01 M370.7 242.2h.01 M368.7 225.1h.01 M368.7 240.6h.01 M368.2 242.0h.01 M368.5 233.1h.01 M374.9 205.9h.01 M374.9 204.6h.01 M374.9 245.0h.01 M374.3 213.4h.01 M375.3 230.0h.01 M375.5 235.7h.01 M376.3 248.2h.01 M375.2 209.9h.01 M375.7 205.8h.01 M377.6 190.4h.01 M374.4 196.8h.01 M374.5 243.6h.01 M374.8 245.3h.01 M374.1 206.8h.01 M373.9 238.9h.01 M375.9 216.6h.01 M376.2 220.2h.01 M375.1 235.3h.01 M374.8 239.9h.01 M374.0 248.4h.01 M375.8 222.3h.01 M375.2 245.2h.01 M375.6 230.9h.01 M374.5 228.2h.01 M374.8 246.8h.01 M373.8 232.3h.01 M376.2 196.7h.01 M375.5 246.5h.01 M374.4 228.6h.01 M375.8 196.8h.01 M372.5 234.9h.01 M373.1 248.3h.01 M375.4 244.0h.01 M373.9 246.7h.01 M375.4 196.0h.01 M376.2 247.5h.01 M375.8 235.1h.01 M374.6 212.0h.01 M375.8 189.2h.01 M373.9 226.0h.01 M376.2 238.9h.01 M375.6 247.4h.01 M374.5 235.5h.01 M375.2 238.6h.01 M374.6 222.4h.01 M374.2 235.6h.01 M377.1 226.7h.01 M377.0 239.2h.01 M376.0 248.2h.01 M374.1 247.9h.01 M376.7 248.5h.01 M376.4 205.9h.01 M375.8 248.6h.01 M375.9 195.2h.01 M373.8 229.6h.01 M373.9 209.3h.01 M375.0 214.1h.01 M375.1 245.9h.01 M374.5 235.9h.01 M377.7 235.0h.01 M374.0 245.5h.01 M374.6 199.4h.01 M375.4 240.8h.01 M375.8 203.1h.01 M373.9 236.7h.01 M376.2 247.3h.01 M373.9 236.2h.01 M374.9 232.8h.01 M375.1 213.7h.01 M374.2 238.5h.01 M375.7 244.1h.01 M374.9 225.3h.01 M373.3 243.6h.01 M374.2 216.4h.01 M374.4 234.5h.01 M375.4 203.6h.01 M375.8 242.0h.01 M374.1 241.9h.01 M376.0 228.0h.01 M375.0 232.4h.01 M376.0 247.7h.01 M375.5 245.4h.01 M375.4 244.7h.01 M374.2 228.2h.01 M374.1 235.2h.01 M376.2 246.0h.01 M376.7 218.1h.01 M374.8 202.3h.01 M376.3 242.6h.01 M375.7 234.2h.01 M375.0 225.0h.01 M373.8 234.0h.01 M374.3 231.1h.01 M375.5 205.2h.01 M373.4 201.7h.01 M384.7 200.3h.01 M384.0 226.3h.01 M385.2 213.2h.01 M386.7 235.7h.01 M386.0 244.2h.01 M386.5 226.6h.01 M385.5 208.1h.01 M385.7 218.6h.01 M386.2 207.4h.01 M385.2 242.7h.01 M384.5 231.6h.01 M385.2 247.6h.01 M387.0 221.8h.01 M384.9 245.6h.01 M386.7 213.9h.01 M385.2 237.2h.01 M383.0 236.8h.01 M386.1 248.5h.01 M386.1 247.8h.01 M386.3 241.0h.01 M386.6 220.2h.01 M384.2 215.8h.01 M384.4 226.3h.01 M383.4 249.0h.01 M386.0 225.3h.01 M384.2 229.2h.01 M385.5 223.4h.01 M385.5 231.9h.01 M385.6 215.9h.01 M386.1 217.0h.01 M385.2 221.3h.01 M388.0 231.7h.01 M382.8 238.5h.01 M384.7 244.5h.01 M386.4 247.2h.01 M384.1 245.9h.01 M384.6 227.9h.01 M384.7 247.2h.01 M386.0 224.8h.01 M385.3 228.2h.01 M384.7 242.2h.01 M385.0 216.3h.01 M385.6 245.9h.01 M386.5 244.9h.01 M384.7 234.0h.01 M385.4 247.4h.01 M384.8 238.0h.01 M384.4 241.3h.01 M385.7 229.9h.01 M386.1 242.8h.01 M383.8 245.6h.01 M385.2 247.4h.01 M386.1 239.5h.01 M385.2 245.8h.01 M384.1 242.5h.01 M384.7 219.2h.01 M387.4 203.6h.01 M385.7 230.7h.01 M392.3 232.4h.01 M390.0 229.7h.01 M391.6 239.1h.01 M393.4 218.7h.01 M390.5 246.8h.01 M391.0 248.6h.01 M390.8 221.1h.01 M390.4 216.8h.01 M392.7 243.6h.01 M389.8 240.2h.01 M393.0 239.3h.01 M394.0 227.7h.01 M392.0 239.1h.01 M391.2 235.3h.01 M390.3 233.6h.01 M391.6 204.1h.01 M390.8 239.4h.01 M391.5 229.5h.01 M391.1 240.1h.01 M390.1 215.5h.01 M390.2 238.7h.01 M390.4 248.3h.01 M390.9 229.4h.01 M391.1 216.8h.01 M391.3 220.8h.01 M391.7 214.9h.01 M390.1 247.0h.01 M390.5 236.7h.01 M392.2 225.6h.01 M389.9 231.8h.01 M391.4 204.7h.01 M391.1 241.7h.01 M390.0 206.3h.01 M391.5 229.5h.01 M393.4 226.3h.01 M390.2 242.6h.01 M392.6 235.8h.01 M390.6 222.9h.01 M391.4 217.3h.01 M391.5 230.3h.01 M391.2 238.2h.01 M391.5 228.1h.01 M392.6 233.0h.01 M389.7 244.4h.01 M391.5 224.5h.01 M390.4 237.4h.01 M391.2 235.7h.01 M392.3 224.6h.01 M391.3 243.7h.01 M392.8 220.5h.01 M389.2 201.4h.01 M391.9 239.0h.01 M390.2 224.1h.01 M391.1 239.9h.01 M392.9 225.8h.01 M394.3 207.5h.01 M390.7 217.0h.01 M391.9 236.4h.01 M402.1 234.5h.01 M399.9 235.2h.01 M402.2 234.9h.01 M402.1 243.0h.01 M401.4 244.0h.01 M403.3 246.0h.01 M401.8 240.7h.01 M401.7 244.0h.01 M400.2 231.5h.01 M400.2 228.8h.01 M401.4 234.3h.01 M402.4 245.5h.01 M401.2 244.9h.01 M401.4 241.7h.01 M400.7 235.5h.01 M403.5 237.6h.01 M400.2 239.5h.01 M399.3 231.3h.01 M401.0 242.3h.01 M400.9 232.9h.01 M400.5 238.4h.01 M402.6 246.7h.01 M398.2 243.3h.01 M402.8 246.3h.01 M400.1 240.2h.01 M407.3 243.0h.01 M405.8 243.9h.01 M407.3 246.1h.01 M406.3 242.8h.01 M405.2 244.1h.01 M409.4 240.5h.01 M406.5 232.1h.01 M408.1 247.0h.01 M408.9 243.0h.01 M406.6 244.7h.01 M407.8 235.1h.01 M407.6 233.5h.01 M407.5 245.1h.01 M408.9 241.6h.01 M404.8 240.2h.01 M407.5 235.1h.01 M406.8 241.3h.01 M407.7 245.4h.01 M407.7 243.1h.01 M408.2 232.7h.01 M405.9 241.9h.01 M418.0 214.3h.01 M416.3 228.3h.01 M417.0 243.8h.01 M417.4 240.2h.01 M416.7 203.3h.01 M417.0 229.6h.01 M416.8 229.9h.01 M415.9 226.9h.01 M417.4 220.4h.01 M416.9 236.3h.01 M417.1 241.1h.01 M417.1 209.2h.01 M417.6 238.3h.01 M415.9 248.6h.01 M415.1 240.3h.01 M418.4 220.9h.01 M417.1 212.0h.01 M417.5 235.7h.01 M417.8 234.5h.01 M418.6 232.0h.01 M417.8 240.2h.01 M415.6 239.7h.01 M416.0 210.9h.01 M416.6 218.3h.01 M416.5 227.8h.01 M417.2 209.2h.01 M415.8 223.6h.01 M418.2 248.6h.01 M419.5 244.7h.01 M415.5 233.7h.01 M418.9 237.5h.01 M417.6 244.4h.01 M417.0 226.6h.01 M417.0 247.3h.01 M416.6 230.3h.01 M417.5 245.4h.01 M416.3 247.7h.01 M417.9 223.6h.01 M415.9 240.3h.01 M416.0 199.6h.01 M417.5 233.3h.01 M417.3 237.8h.01 M417.9 228.0h.01 M417.9 248.0h.01 M415.3 219.5h.01 M417.6 211.8h.01 M416.2 200.7h.01 M416.5 203.5h.01 M417.4 244.5h.01 M416.0 221.2h.01 M418.0 246.9h.01 M421.0 235.1h.01 M416.0 246.5h.01 M416.9 247.4h.01 M416.3 230.7h.01 M419.7 248.8h.01 M418.4 213.4h.01 M416.0 219.2h.01 M419.1 220.7h.01 M418.0 209.0h.01 M418.1 244.4h.01 M414.5 212.1h.01 M417.7 243.7h.01 M417.5 244.7h.01 M417.1 214.4h.01 M414.4 232.5h.01 M418.4 230.0h.01 M416.4 248.6h.01 M425.1 231.0h.01 M423.7 242.0h.01 M422.8 214.3h.01 M422.4 230.8h.01 M424.1 215.8h.01 M423.7 240.7h.01 M424.4 240.6h.01 M421.3 241.7h.01 M423.4 221.6h.01 M421.5 212.4h.01 M423.6 198.8h.01 M422.8 245.4h.01 M422.0 247.6h.01 M423.7 208.2h.01 M423.9 208.6h.01 M422.0 222.1h.01 M424.6 218.1h.01 M423.9 222.8h.01 M423.5 205.9h.01 M422.3 216.5h.01 M422.3 235.7h.01 M424.0 231.5h.01 M423.0 234.8h.01 M424.3 247.8h.01 M422.1 219.3h.01 M423.6 231.2h.01 M421.5 226.4h.01 M421.4 215.1h.01 M423.1 231.1h.01 M423.1 240.0h.01 M421.5 227.6h.01 M423.0 222.0h.01 M421.2 207.4h.01 M420.8 231.4h.01 M421.6 247.3h.01 M423.0 239.0h.01 M422.2 242.4h.01 M421.9 240.6h.01 M424.1 221.7h.01 M422.2 233.3h.01 M422.7 238.0h.01 M423.7 246.7h.01 M422.3 219.4h.01 M424.1 233.1h.01 M422.9 210.2h.01 M424.8 214.2h.01 M423.4 232.5h.01 M423.4 248.4h.01 M422.7 230.8h.01 M423.2 215.9h.01 M425.2 233.8h.01 M422.1 229.0h.01 M423.4 233.7h.01 M425.0 214.2h.01 M423.7 224.6h.01 M424.6 245.4h.01 M422.0 230.8h.01 M425.0 210.9h.01 M422.2 242.3h.01 M425.1 222.0h.01 M423.6 245.5h.01 M422.4 218.9h.01 M424.3 238.0h.01 M423.7 224.8h.01 M424.3 239.2h.01 M424.0 222.6h.01 M423.0 236.0h.01 M422.5 225.6h.01 M422.3 240.7h.01 M431.3 235.5h.01 M434.2 234.3h.01 M432.5 233.6h.01 M432.4 227.1h.01 M433.6 216.9h.01 M434.1 241.7h.01 M432.6 237.2h.01 M435.7 246.8h.01 M432.6 244.2h.01 M432.7 228.2h.01 M434.0 245.3h.01 M433.5 245.0h.01 M432.8 230.0h.01 M432.6 248.9h.01 M434.4 236.6h.01 M435.1 243.6h.01 M433.4 247.4h.01 M432.4 243.1h.01 M434.5 229.4h.01 M433.7 244.7h.01 M432.0 244.3h.01 M433.6 243.1h.01 M431.2 244.5h.01 M433.2 247.4h.01 M432.9 228.9h.01 M435.0 247.4h.01 M434.4 243.6h.01 M434.5 226.1h.01 M432.3 229.6h.01 M432.7 234.1h.01 M432.0 240.6h.01 M432.5 246.3h.01 M435.1 248.4h.01 M432.6 246.3h.01 M433.6 238.6h.01 M433.1 235.7h.01 M432.9 232.4h.01 M433.9 223.3h.01 M433.9 239.6h.01 M431.8 245.1h.01 M434.8 238.5h.01 M432.9 248.2h.01 M434.1 227.2h.01 M431.3 245.1h.01 M432.0 238.5h.01 M439.5 227.3h.01 M438.9 228.4h.01 M441.4 248.8h.01 M440.2 248.9h.01 M437.5 221.3h.01 M440.0 248.5h.01 M440.0 239.6h.01 M438.5 244.2h.01 M438.7 221.7h.01 M438.5 243.7h.01 M440.2 232.1h.01 M439.3 230.2h.01 M440.2 238.7h.01 M439.1 229.7h.01 M437.8 234.6h.01 M438.0 238.1h.01 M438.8 236.6h.01 M440.4 244.1h.01 M440.2 230.5h.01 M440.2 231.5h.01 M438.7 244.4h.01 M439.0 234.1h.01 M439.8 247.8h.01 M437.8 248.9h.01 M439.5 248.9h.01 M437.1 238.5h.01 M438.6 247.1h.01 M441.4 248.7h.01 M440.6 245.7h.01 M438.7 242.8h.01 M439.0 224.5h.01 M438.7 247.2h.01 M440.3 245.4h.01 M437.9 231.9h.01 M437.1 241.0h.01 M439.2 240.9h.01 M438.7 236.1h.01 M437.4 241.8h.01 M438.4 234.9h.01 M438.0 224.2h.01 M439.8 231.7h.01 M440.1 224.6h.01 M438.6 244.6h.01 M438.8 243.3h.01 M440.7 245.0h.01 M439.4 237.9h.01 M440.3 247.2h.01 M448.6 231.0h.01 M448.8 244.7h.01 M447.7 238.8h.01 M448.9 232.7h.01 M449.7 243.2h.01 M448.0 243.6h.01 M448.1 234.4h.01 M449.7 242.1h.01 M448.0 230.5h.01 M449.0 234.3h.01 M450.1 243.7h.01 M449.9 236.9h.01 M451.6 241.6h.01 M448.8 247.6h.01 M449.5 225.3h.01 M449.7 247.6h.01 M449.4 242.0h.01 M450.2 237.7h.01 M449.5 241.8h.01 M448.8 230.1h.01 M449.8 240.0h.01 M447.9 247.2h.01 M448.4 246.0h.01 M450.8 219.9h.01 M450.4 239.7h.01 M449.8 237.9h.01 M448.7 239.4h.01 M449.2 245.7h.01 M448.9 233.6h.01 M448.5 246.8h.01 M448.6 247.4h.01 M449.9 240.5h.01 M448.8 242.3h.01 M450.8 237.0h.01 M449.3 240.2h.01 M448.9 235.5h.01 M450.2 242.7h.01 M449.0 248.5h.01 M446.9 234.9h.01 M450.4 221.6h.01 M450.9 227.1h.01 M451.1 245.0h.01 M449.2 239.7h.01 M449.6 231.6h.01 M448.8 218.6h.01 M452.3 239.4h.01 M453.5 223.0h.01 M453.8 239.1h.01 M455.7 236.9h.01 M456.2 237.7h.01 M453.7 233.2h.01 M456.2 240.9h.01 M455.4 219.8h.01 M453.3 242.6h.01 M456.6 240.0h.01 M455.1 230.2h.01 M454.1 241.1h.01 M454.1 244.5h.01 M455.8 223.8h.01 M456.2 235.0h.01 M455.6 239.5h.01 M455.0 231.9h.01 M455.2 248.2h.01 M453.9 246.9h.01 M457.9 244.5h.01 M454.6 240.1h.01 M456.6 246.2h.01 M453.2 245.6h.01 M455.7 232.1h.01 M455.4 245.6h.01 M455.1 230.1h.01 M454.9 243.5h.01 M454.6 221.0h.01 M457.3 247.9h.01 M455.0 224.8h.01 M454.2 244.8h.01 M455.4 234.8h.01 M454.6 244.1h.01 M455.5 222.2h.01 M453.7 223.8h.01 M455.9 241.5h.01 M456.7 248.5h.01 M453.7 240.7h.01 M454.6 240.2h.01 M453.8 230.5h.01 M454.0 240.9h.01 M455.4 239.6h.01 M454.4 240.1h.01 M454.6 229.6h.01 M455.1 248.9h.01 M454.3 246.2h.01 M454.7 245.5h.01 M466.0 239.4h.01 M467.6 242.8h.01 M463.9 245.3h.01 M466.5 246.9h.01 M465.7 246.9h.01 M467.6 242.9h.01 M465.6 245.2h.01 M466.9 246.7h.01 M466.2 245.1h.01 M465.2 246.4h.01 M465.5 245.3h.01 M465.6 243.6h.01 M465.8 241.1h.01 M471.6 246.0h.01 M471.5 246.2h.01 M470.6 242.8h.01 M470.8 246.2h.01 M471.9 245.1h.01 M471.6 245.5h.01 M471.8 242.7h.01 M471.8 239.6h.01 M471.7 240.5h.01 M471.7 246.2h.01 M469.8 246.6h.01 M472.1 246.3h.01 M471.4 246.9h.01 M482.8 242.0h.01 M482.2 231.9h.01 M479.8 240.7h.01 M481.4 231.8h.01 M481.4 240.3h.01 M482.8 240.7h.01 M482.4 238.7h.01 M480.6 234.6h.01 M480.9 236.0h.01 M481.4 235.9h.01 M480.9 236.4h.01 M480.5 234.6h.01 M480.0 238.9h.01 M483.6 234.9h.01 M481.6 240.7h.01 M480.1 232.5h.01 M479.9 235.8h.01 M486.1 235.2h.01 M487.5 243.7h.01 M487.0 239.5h.01 M485.5 237.1h.01 M486.2 239.3h.01 M487.3 235.7h.01 M489.4 235.1h.01 M486.9 235.0h.01 M486.2 244.0h.01 M488.5 239.4h.01 M486.9 239.4h.01 M487.2 239.9h.01 M488.3 236.6h.01 M486.4 237.0h.01 M485.9 242.8h.01 M486.4 241.9h.01 M487.5 241.9h.01 M489.1 242.0h.01 M487.1 242.1h.01 M486.4 243.9h.01 M497.1 241.1h.01 M498.1 239.9h.01 M497.1 243.9h.01 M496.8 212.3h.01 M498.2 226.2h.01 M497.4 227.3h.01 M496.5 241.5h.01 M495.3 206.4h.01 M497.4 239.6h.01 M498.0 231.3h.01 M498.9 209.3h.01 M497.4 191.5h.01 M498.2 230.5h.01 M498.0 240.5h.01 M497.9 220.0h.01 M499.3 241.2h.01 M497.2 222.9h.01 M496.6 182.6h.01 M495.9 207.8h.01 M496.3 201.0h.01 M497.1 200.7h.01 M498.0 216.2h.01 M496.2 235.0h.01 M498.5 231.1h.01 M495.0 241.1h.01 M495.9 217.5h.01 M497.5 226.4h.01 M497.9 216.2h.01 M498.2 238.9h.01 M496.7 216.3h.01 M496.3 214.8h.01 M496.9 243.8h.01 M496.5 232.5h.01 M498.3 222.4h.01 M498.0 242.6h.01 M499.0 211.9h.01 M498.0 218.6h.01 M497.5 214.2h.01 M497.0 210.7h.01 M496.9 213.4h.01 M496.0 226.2h.01 M497.0 203.6h.01 M497.7 210.4h.01 M494.3 203.2h.01 M499.9 194.5h.01 M494.9 219.1h.01 M495.5 242.8h.01 M496.1 187.9h.01 M497.9 183.3h.01 M496.3 197.1h.01 M498.0 235.9h.01 M497.3 234.7h.01 M495.9 234.7h.01 M497.2 228.6h.01 M496.5 210.3h.01 M498.4 208.5h.01 M498.5 236.5h.01 M496.6 202.9h.01 M496.4 212.0h.01 M496.7 218.6h.01 M496.6 182.3h.01 M497.9 197.8h.01 M497.7 243.6h.01 M494.7 209.5h.01 M497.2 232.3h.01 M496.6 228.6h.01 M496.3 233.9h.01 M496.6 209.9h.01 M496.8 210.7h.01 M498.4 219.9h.01 M500.2 206.4h.01 M498.4 216.5h.01 M497.8 240.1h.01 M496.9 204.8h.01 M498.0 208.2h.01 M497.3 229.5h.01 M497.9 233.1h.01 M498.4 230.7h.01 M496.6 234.0h.01 M495.8 194.7h.01 M497.1 199.5h.01 M496.2 233.4h.01 M497.5 234.1h.01 M495.7 220.4h.01 M496.7 240.6h.01 M496.3 237.8h.01 M496.5 215.7h.01 M498.4 243.3h.01 M497.2 205.1h.01 M497.8 231.0h.01 M496.4 223.0h.01 M497.4 217.1h.01 M497.9 227.9h.01 M498.3 201.2h.01 M496.3 224.7h.01 M497.3 214.0h.01 M497.4 236.9h.01 M498.5 242.8h.01 M496.0 217.1h.01 M498.0 224.0h.01 M497.9 236.2h.01 M496.8 224.3h.01 M495.9 222.9h.01 M497.7 205.2h.01 M497.3 211.7h.01 M498.4 214.0h.01 M498.6 213.0h.01 M496.8 214.1h.01 M496.4 195.9h.01 M496.3 227.5h.01 M495.9 188.4h.01 M496.2 227.2h.01 M502.5 216.4h.01 M503.6 235.6h.01 M501.9 234.8h.01 M502.8 212.6h.01 M504.4 243.1h.01 M503.4 213.6h.01 M504.4 237.0h.01 M502.8 233.9h.01 M504.2 206.3h.01 M503.0 239.6h.01 M502.3 184.6h.01 M504.4 203.5h.01 M502.4 179.2h.01 M504.5 239.2h.01 M501.4 204.9h.01 M502.0 235.5h.01 M502.4 230.4h.01 M503.1 211.4h.01 M502.6 227.2h.01 M504.6 209.5h.01 M503.5 229.8h.01 M504.6 240.0h.01 M501.1 240.3h.01 M504.2 200.5h.01 M502.9 218.6h.01 M504.1 190.1h.01 M501.7 216.7h.01 M502.2 221.4h.01 M502.4 241.4h.01 M501.6 238.4h.01 M503.2 216.5h.01 M502.0 212.2h.01 M503.0 231.8h.01 M502.8 233.6h.01 M505.5 242.5h.01 M503.6 220.4h.01 M502.2 241.7h.01 M503.8 231.2h.01 M503.3 213.1h.01 M504.6 215.4h.01 M502.6 184.2h.01 M505.2 234.5h.01 M501.7 199.9h.01 M503.0 203.7h.01 M504.5 237.8h.01 M502.9 236.5h.01 M503.1 219.3h.01 M504.6 239.7h.01 M505.1 234.4h.01 M505.9 240.8h.01 M503.2 232.6h.01 M503.7 198.2h.01 M500.3 236.3h.01 M502.2 203.7h.01 M502.7 216.8h.01 M505.0 235.6h.01 M502.3 234.2h.01 M503.1 218.9h.01 M502.8 197.9h.01 M501.8 226.1h.01 M504.1 239.6h.01 M504.1 197.1h.01 M502.4 210.0h.01 M502.1 239.6h.01 M502.5 207.8h.01 M503.9 212.8h.01 M502.6 232.0h.01 M504.0 236.4h.01 M502.4 193.3h.01 M502.1 219.6h.01 M503.4 221.2h.01 M503.6 233.8h.01 M503.1 214.6h.01 M503.8 230.1h.01 M502.9 233.0h.01 M503.0 221.2h.01 M503.8 219.8h.01 M504.6 219.2h.01 M502.4 238.6h.01 M503.1 239.4h.01 M502.5 190.6h.01 M503.9 197.4h.01 M502.3 230.5h.01 M505.4 241.0h.01 M503.6 187.6h.01 M504.5 233.3h.01 M501.6 208.2h.01 M505.6 241.8h.01 M502.3 217.0h.01 M500.6 231.2h.01 M504.3 220.0h.01 M502.6 232.0h.01 M503.6 240.7h.01 M503.3 191.7h.01 M504.7 211.5h.01 M502.8 216.9h.01 M502.0 228.8h.01 M503.5 215.9h.01 M503.1 241.5h.01 M502.8 229.2h.01 M502.7 241.9h.01 M503.4 189.3h.01 M502.2 226.0h.01 M504.0 232.4h.01 M502.0 220.9h.01 M502.3 227.5h.01 M503.3 225.0h.01 M503.9 232.0h.01 M503.4 241.9h.01 M503.3 221.7h.01 M503.6 242.0h.01 M502.6 229.4h.01 M503.2 192.7h.01 M512.9 232.0h.01 M513.0 230.4h.01 M513.7 232.1h.01 M514.4 226.4h.01 M513.5 244.6h.01 M512.8 243.0h.01 M513.2 235.2h.01 M511.3 228.2h.01 M513.8 225.6h.01 M512.2 237.4h.01 M513.5 218.0h.01 M513.8 246.3h.01 M512.9 245.3h.01 M513.8 235.2h.01 M512.6 216.8h.01 M513.1 247.8h.01 M513.5 226.8h.01 M514.6 231.2h.01 M511.0 229.0h.01 M515.5 221.7h.01 M515.3 235.7h.01 M512.9 222.2h.01 M514.4 239.9h.01 M513.5 237.4h.01 M512.2 244.8h.01 M512.9 241.3h.01 M513.0 230.7h.01 M514.7 229.2h.01 M511.9 241.7h.01 M513.4 241.2h.01 M513.4 218.7h.01 M512.5 234.9h.01 M516.3 220.0h.01 M513.1 239.7h.01 M513.9 244.2h.01 M512.2 244.4h.01 M513.5 221.3h.01 M513.3 239.2h.01 M511.2 244.3h.01 M514.1 244.0h.01 M515.4 219.4h.01 M511.8 227.5h.01 M512.9 240.2h.01 M513.1 239.6h.01 M512.3 215.5h.01 M511.9 229.4h.01 M512.5 233.6h.01 M514.1 237.9h.01 M512.2 235.9h.01 M514.1 233.6h.01 M513.9 247.5h.01 M511.9 236.7h.01 M513.6 227.1h.01 M513.3 234.8h.01 M514.5 236.7h.01 M513.4 243.8h.01 M512.4 247.8h.01 M512.8 238.3h.01 M519.5 232.0h.01 M519.0 239.5h.01 M519.6 235.8h.01 M519.3 222.1h.01 M520.3 242.1h.01 M518.8 231.4h.01 M518.3 222.7h.01 M518.2 243.8h.01 M517.9 242.6h.01 M519.6 236.8h.01 M519.3 237.6h.01 M520.7 240.6h.01 M519.5 246.3h.01 M520.0 239.2h.01 M518.3 242.8h.01 M517.5 213.3h.01 M518.8 243.7h.01 M518.8 246.5h.01 M519.3 242.7h.01 M521.0 247.7h.01 M518.4 212.9h.01 M519.8 241.2h.01 M518.7 239.6h.01 M517.4 239.0h.01 M520.6 219.8h.01 M519.1 224.5h.01 M517.4 235.9h.01 M519.4 245.4h.01 M519.8 215.1h.01 M518.7 244.7h.01 M520.4 236.0h.01 M519.0 237.7h.01 M519.6 243.9h.01 M518.4 234.9h.01 M520.1 216.0h.01 M518.6 242.7h.01 M519.9 228.7h.01 M518.9 215.5h.01 M517.6 244.0h.01 M519.8 235.7h.01 M518.3 237.5h.01 M518.7 244.2h.01 M520.2 231.9h.01 M521.0 216.7h.01 M518.7 243.5h.01 M519.5 210.9h.01 M518.8 246.2h.01 M520.8 232.5h.01 M519.3 213.1h.01 M520.4 244.4h.01 M520.5 215.7h.01 M518.6 221.9h.01 M517.8 242.1h.01 M517.3 221.9h.01 M528.5 247.3h.01 M529.8 245.4h.01 M528.2 242.2h.01 M529.6 244.1h.01 M528.7 238.4h.01 M529.3 247.1h.01 M529.8 246.7h.01 M529.5 248.8h.01 M529.5 242.7h.01 M528.5 243.7h.01 M528.2 242.3h.01 M528.6 233.6h.01 M530.2 248.9h.01 M528.4 242.5h.01 M528.1 244.3h.01 M529.8 245.1h.01 M529.8 236.7h.01 M528.6 241.4h.01 M531.3 233.3h.01 M529.3 231.7h.01 M528.9 231.2h.01 M528.4 238.1h.01 M530.0 243.9h.01 M530.0 246.1h.01 M528.9 241.8h.01 M529.8 240.6h.01 M530.5 247.3h.01 M529.5 237.2h.01 M529.7 240.9h.01 M529.0 249.0h.01 M528.9 248.7h.01 M528.0 237.0h.01 M529.7 248.7h.01 M527.9 247.6h.01 M531.4 244.0h.01 M528.8 246.9h.01 M536.4 248.9h.01 M534.8 247.3h.01 M534.9 245.7h.01 M537.4 234.4h.01 M534.1 247.5h.01 M534.0 233.7h.01 M534.3 246.5h.01 M535.6 247.4h.01 M535.6 227.1h.01 M533.8 248.8h.01 M535.2 247.5h.01 M534.4 236.3h.01 M536.4 239.8h.01 M534.0 246.0h.01 M535.8 243.3h.01 M536.9 240.5h.01 M534.8 238.6h.01 M534.5 243.4h.01 M534.7 235.5h.01 M533.5 241.3h.01 M534.1 243.3h.01 M534.8 242.5h.01 M535.2 239.2h.01 M534.8 246.3h.01 M534.8 247.8h.01 M536.1 247.6h.01 M533.8 239.5h.01 M534.4 238.2h.01 M535.8 231.4h.01 M534.4 236.5h.01 M533.3 232.1h.01 M535.2 235.9h.01 M537.0 242.2h.01 M533.9 238.8h.01 M534.0 243.7h.01 M535.5 244.0h.01 M533.9 244.6h.01 M546.5 245.1h.01 M544.8 245.2h.01 M546.0 245.1h.01 M545.9 245.4h.01 M550.0 245.2h.01 M550.4 245.2h.01 M550.3 245.6h.01 M559.8 240.8h.01 M560.1 191.1h.01 M560.2 238.6h.01 M559.9 205.2h.01 M561.1 239.2h.01 M561.8 247.4h.01 M561.8 237.5h.01 M561.0 196.6h.01 M561.4 236.1h.01 M561.7 236.1h.01 M561.6 222.5h.01 M560.0 220.7h.01 M561.4 221.8h.01 M563.1 192.2h.01 M562.0 212.7h.01 M560.8 247.2h.01 M561.6 233.6h.01 M561.3 201.7h.01 M562.6 224.0h.01 M560.9 202.4h.01 M560.7 247.8h.01 M561.7 212.9h.01 M562.0 242.6h.01 M561.6 245.0h.01 M560.6 225.6h.01 M559.0 232.3h.01 M560.9 241.6h.01 M563.4 230.7h.01 M563.9 248.7h.01 M561.3 243.1h.01 M559.6 247.1h.01 M560.2 240.7h.01 M560.7 235.3h.01 M561.0 198.4h.01 M561.0 244.8h.01 M561.0 205.3h.01 M562.9 209.8h.01 M558.9 212.8h.01 M561.4 248.3h.01 M561.9 202.8h.01 M561.4 242.3h.01 M561.9 236.8h.01 M560.3 227.1h.01 M560.0 243.5h.01 M562.6 234.0h.01 M562.4 205.1h.01 M561.5 222.1h.01 M562.4 248.5h.01 M561.6 240.5h.01 M560.9 221.0h.01 M560.4 215.0h.01 M560.0 201.5h.01 M560.5 233.0h.01 M561.8 222.3h.01 M561.7 244.8h.01 M560.8 224.7h.01 M560.9 216.4h.01 M562.1 200.5h.01 M561.2 227.2h.01 M558.8 210.3h.01 M562.3 224.7h.01 M560.1 186.0h.01 M562.0 222.5h.01 M560.8 196.0h.01 M560.3 245.7h.01 M560.0 248.1h.01 M560.2 240.3h.01 M559.9 201.6h.01 M560.3 241.9h.01 M561.2 234.2h.01 M559.5 243.2h.01 M563.4 215.6h.01 M561.1 203.8h.01 M562.3 220.1h.01 M561.9 209.0h.01 M560.5 227.7h.01 M562.3 221.0h.01 M563.5 205.7h.01 M561.3 224.8h.01 M561.6 236.5h.01 M561.5 232.1h.01 M562.0 236.4h.01 M561.0 245.0h.01 M560.4 248.1h.01 M562.2 203.1h.01 M561.8 237.6h.01 M559.5 235.1h.01 M562.0 222.0h.01 M562.1 235.8h.01 M560.4 195.9h.01 M563.1 234.9h.01 M562.2 246.4h.01 M562.1 216.4h.01 M562.7 236.4h.01 M561.0 247.7h.01 M561.8 241.1h.01 M563.1 237.8h.01 M561.8 237.5h.01 M561.0 241.3h.01 M562.6 244.3h.01 M561.3 230.9h.01 M561.1 227.9h.01 M561.7 231.8h.01 M561.3 244.5h.01 M561.1 234.0h.01 M562.7 223.0h.01 M560.2 225.0h.01 M562.3 218.0h.01 M561.5 211.0h.01 M560.1 241.5h.01 M561.2 203.4h.01 M561.5 207.5h.01 M561.9 206.2h.01 M560.1 221.8h.01 M561.0 226.5h.01 M562.3 230.8h.01 M561.7 237.2h.01 M560.2 192.3h.01 M559.4 248.2h.01 M567.0 221.1h.01 M567.5 199.7h.01 M566.8 237.4h.01 M567.1 239.8h.01 M566.4 243.9h.01 M566.3 222.2h.01 M567.0 197.4h.01 M570.1 244.1h.01 M567.2 210.9h.01 M566.9 212.3h.01 M567.9 224.3h.01 M568.7 242.0h.01 M566.0 241.5h.01 M566.2 246.6h.01 M565.2 242.6h.01 M563.7 187.5h.01 M565.4 227.4h.01 M566.9 208.0h.01 M565.7 228.4h.01 M566.8 241.9h.01 M567.7 229.1h.01 M566.9 244.5h.01 M567.4 234.0h.01 M564.9 243.7h.01 M566.5 244.7h.01 M567.4 227.3h.01 M565.6 229.9h.01 M566.7 247.0h.01 M567.6 197.1h.01 M567.7 224.0h.01 M567.7 223.1h.01 M567.2 214.0h.01 M566.5 232.7h.01 M568.9 187.8h.01 M565.9 239.0h.01 M568.5 215.3h.01 M567.3 246.8h.01 M567.6 245.7h.01 M567.2 238.1h.01 M566.0 246.4h.01 M567.9 246.0h.01 M565.5 246.9h.01 M567.4 209.6h.01 M566.6 237.3h.01 M566.5 218.3h.01 M567.6 206.9h.01 M567.8 231.8h.01 M566.4 212.0h.01 M567.1 242.7h.01 M567.6 197.8h.01 M568.6 238.8h.01 M566.7 233.8h.01 M567.1 239.1h.01 M564.0 236.3h.01 M568.6 209.6h.01 M567.1 225.5h.01 M567.9 245.7h.01 M566.5 226.6h.01 M568.6 209.9h.01 M566.6 237.1h.01 M567.0 214.7h.01 M564.7 244.7h.01 M568.3 228.6h.01 M567.8 198.3h.01 M565.1 227.1h.01 M568.3 240.5h.01 M565.7 206.9h.01 M566.7 216.7h.01 M568.6 234.1h.01 M567.6 234.5h.01 M567.8 246.4h.01 M566.6 198.6h.01 M566.4 237.2h.01 M565.6 221.2h.01 M567.6 226.1h.01 M565.8 218.7h.01 M566.9 206.0h.01 M566.3 246.9h.01 M566.4 243.8h.01 M567.3 193.0h.01 M567.0 232.2h.01 M566.7 227.0h.01 M565.8 224.3h.01 M567.3 228.3h.01 M567.3 238.6h.01 M568.7 229.7h.01 M565.5 234.3h.01 M565.6 248.2h.01 M566.8 190.1h.01 M565.9 236.4h.01 M566.1 216.0h.01 M567.5 226.1h.01 M566.7 246.3h.01 M568.1 197.1h.01 M567.1 222.0h.01 M568.1 210.1h.01 M566.5 219.7h.01 M568.0 229.0h.01 M566.4 236.4h.01 M566.2 226.8h.01 M566.6 231.2h.01 M566.3 248.6h.01 M567.4 242.7h.01 M566.6 214.9h.01 M567.8 235.6h.01 M566.3 242.9h.01 M569.8 234.9h.01 M567.2 246.2h.01 M567.4 224.6h.01 M566.5 236.6h.01 M565.6 236.5h.01 M568.3 207.3h.01 M565.6 211.9h.01 M566.4 192.6h.01 M567.3 237.9h.01 M568.3 230.6h.01 M565.7 240.0h.01 M568.1 220.5h.01 M566.7 247.4h.01 M567.6 221.4h.01 M566.8 247.1h.01 M566.3 205.3h.01 M577.9 245.8h.01 M578.0 246.6h.01 M578.6 244.9h.01 M577.0 239.3h.01 M576.6 243.8h.01 M573.6 241.5h.01 M578.1 238.7h.01 M575.9 238.4h.01 M578.3 243.4h.01 M577.0 244.1h.01 M578.3 237.6h.01 M577.2 244.2h.01 M578.3 241.3h.01 M576.9 245.2h.01 M577.8 246.5h.01 M576.2 246.8h.01 M576.6 245.7h.01 M578.3 244.3h.01 M576.8 244.3h.01 M576.4 246.7h.01 M578.1 247.0h.01 M584.6 242.2h.01 M585.8 246.1h.01 M583.6 240.1h.01 M582.0 246.9h.01 M582.6 247.5h.01 M584.7 242.0h.01 M582.7 243.6h.01 M583.2 243.5h.01 M582.8 240.2h.01 M582.4 242.0h.01 M580.9 245.4h.01 M584.9 238.9h.01 M580.9 246.4h.01 M583.2 241.3h.01 M582.6 244.5h.01 M582.2 245.8h.01 M582.9 244.3h.01 M593.1 215.0h.01 M593.9 229.9h.01 M593.7 229.5h.01 M593.8 218.5h.01 M590.8 226.5h.01 M591.8 210.6h.01 M594.1 213.3h.01 M594.8 205.6h.01 M593.8 205.9h.01 M593.0 210.3h.01 M593.3 227.5h.01 M594.0 228.3h.01 M592.4 228.7h.01 M594.5 220.6h.01 M593.0 225.2h.01 M592.8 222.8h.01 M593.5 201.2h.01 M592.9 203.0h.01 M593.7 216.9h.01 M592.5 212.7h.01 M593.0 200.7h.01 M592.5 209.5h.01 M593.3 187.0h.01 M593.9 197.8h.01 M593.9 204.4h.01 M592.3 229.0h.01 M592.0 218.7h.01 M593.4 223.1h.01 M593.2 204.5h.01 M594.7 221.8h.01 M591.6 217.0h.01 M594.1 200.0h.01 M592.4 197.6h.01 M591.8 210.2h.01 M593.1 230.1h.01 M594.0 221.7h.01 M593.7 219.1h.01 M593.4 197.8h.01 M594.9 211.0h.01 M593.6 221.4h.01 M593.2 218.9h.01 M593.9 229.4h.01 M593.0 215.2h.01 M594.4 218.3h.01 M592.5 228.4h.01 M593.2 195.0h.01 M593.9 227.7h.01 M591.9 204.6h.01 M591.7 228.2h.01 M593.4 189.4h.01 M593.7 217.2h.01 M591.5 225.8h.01 M593.3 214.3h.01 M595.3 228.7h.01 M591.1 229.3h.01 M593.0 185.4h.01 M593.5 228.4h.01 M593.9 214.2h.01 M593.2 221.7h.01 M594.0 227.0h.01 M591.7 219.3h.01 M593.9 221.8h.01 M592.8 228.9h.01 M593.7 194.0h.01 M600.3 209.8h.01 M599.5 220.2h.01 M598.9 228.9h.01 M600.0 228.9h.01 M599.7 222.4h.01 M599.9 202.7h.01 M598.6 223.4h.01 M598.1 191.1h.01 M599.1 217.1h.01 M600.3 205.0h.01 M600.2 194.3h.01 M598.2 226.5h.01 M602.0 221.0h.01 M599.7 206.2h.01 M599.0 188.9h.01 M599.5 213.1h.01 M598.0 222.8h.01 M599.0 230.6h.01 M600.6 215.8h.01 M598.6 213.7h.01 M599.3 227.4h.01 M599.7 228.7h.01 M597.7 211.4h.01 M599.5 229.1h.01 M600.6 218.6h.01 M598.7 221.1h.01 M599.1 220.7h.01 M601.1 205.1h.01 M599.0 228.9h.01 M598.2 200.7h.01 M598.2 225.6h.01 M597.4 202.7h.01 M599.5 201.8h.01 M600.2 224.7h.01 M600.0 211.8h.01 M599.8 214.7h.01 M600.3 226.5h.01 M599.0 207.7h.01 M599.3 203.5h.01 M599.1 202.4h.01 M597.6 206.1h.01 M600.2 227.8h.01 M597.3 227.2h.01 M596.9 229.8h.01 M597.0 207.6h.01 M601.0 230.8h.01 M599.1 210.9h.01 M600.9 194.3h.01 M599.6 230.4h.01 M600.8 220.5h.01 M599.6 215.6h.01 M598.6 223.4h.01 M599.3 205.5h.01 M597.7 222.1h.01 M597.7 225.8h.01 M599.4 226.4h.01 M598.9 228.8h.01 M598.9 215.8h.01 M598.9 228.5h.01 M598.5 225.0h.01 M599.5 224.5h.01 M599.5 219.1h.01 M601.0 205.1h.01 M599.3 229.1h.01 M599.1 230.1h.01 M611.8 245.0h.01 M606.5 238.2h.01 M609.1 244.6h.01 M609.3 238.3h.01 M608.3 241.6h.01 M609.6 229.2h.01 M609.3 224.3h.01 M608.8 235.9h.01 M607.7 231.8h.01 M607.0 237.1h.01 M609.1 235.2h.01 M609.0 233.3h.01 M609.8 247.4h.01 M610.8 247.1h.01 M609.6 238.3h.01 M609.7 231.9h.01 M608.6 225.5h.01 M609.5 235.9h.01 M608.7 248.0h.01 M610.1 242.3h.01 M607.7 245.0h.01 M610.5 243.9h.01 M610.9 230.4h.01 M610.9 238.4h.01 M614.5 247.7h.01 M616.2 243.6h.01 M615.7 237.7h.01 M616.2 246.9h.01 M615.7 235.2h.01 M615.5 243.2h.01 M615.6 245.8h.01 M614.8 242.2h.01 M615.2 229.8h.01 M614.5 242.8h.01 M617.0 235.6h.01 M615.3 246.6h.01 M615.0 240.5h.01 M613.6 240.1h.01 M613.1 227.7h.01 M614.2 246.5h.01 M615.5 244.0h.01 M615.3 237.5h.01 M615.3 228.6h.01 M615.9 247.8h.01 M616.4 240.0h.01 M615.2 246.9h.01 M625.9 231.3h.01 M624.3 201.4h.01 M625.9 238.7h.01 M625.7 242.4h.01 M624.7 244.6h.01 M626.1 248.4h.01 M625.0 240.7h.01 M626.1 218.6h.01 M624.3 224.0h.01 M625.8 216.5h.01 M625.2 213.1h.01 M625.5 246.1h.01 M625.1 241.7h.01 M625.6 246.4h.01 M624.9 246.1h.01 M625.9 213.1h.01 M626.1 244.6h.01 M625.4 231.7h.01 M625.2 246.8h.01 M625.8 240.9h.01 M625.1 213.8h.01 M625.7 232.8h.01 M626.7 238.9h.01 M625.3 247.8h.01 M626.6 248.3h.01 M625.3 239.2h.01 M627.3 231.3h.01 M624.6 240.6h.01 M626.8 248.8h.01 M624.5 245.1h.01 M624.9 215.9h.01 M625.2 235.5h.01 M627.3 220.1h.01 M623.8 226.7h.01 M626.6 235.4h.01 M626.0 213.0h.01 M625.4 235.9h.01 M623.9 237.3h.01 M624.9 224.4h.01 M627.5 232.2h.01 M624.8 244.2h.01 M627.7 222.6h.01 M624.9 192.3h.01 M625.2 206.8h.01 M627.3 232.3h.01 M625.3 235.9h.01 M625.8 237.7h.01 M624.6 245.0h.01 M623.8 200.8h.01 M627.4 226.3h.01 M624.7 234.3h.01 M625.6 233.1h.01 M624.8 248.8h.01 M624.7 242.1h.01 M624.4 238.1h.01 M624.1 247.1h.01 M625.7 226.4h.01 M624.3 245.3h.01 M625.6 220.5h.01 M627.0 248.0h.01 M625.0 229.6h.01 M625.8 218.1h.01 M625.5 237.7h.01 M625.9 238.2h.01 M624.9 246.7h.01 M625.8 246.8h.01 M623.9 222.3h.01 M625.8 232.3h.01 M624.3 244.1h.01 M625.2 244.8h.01 M624.6 237.6h.01 M625.5 203.4h.01 M625.6 217.7h.01 M625.5 228.8h.01 M626.2 230.9h.01 M631.7 217.7h.01 M631.0 248.4h.01 M629.4 229.8h.01 M630.3 211.3h.01 M630.7 246.4h.01 M631.2 224.2h.01 M629.8 243.3h.01 M632.6 245.4h.01 M629.9 245.0h.01 M629.9 242.6h.01 M631.4 245.6h.01 M631.0 248.1h.01 M629.9 248.7h.01 M631.9 245.0h.01 M632.6 243.3h.01 M632.3 221.9h.01 M630.4 240.7h.01 M632.9 223.7h.01 M630.2 210.9h.01 M631.4 214.3h.01 M632.5 248.3h.01 M630.7 243.7h.01 M630.3 237.9h.01 M631.9 217.7h.01 M631.6 200.5h.01 M629.9 236.0h.01 M631.2 231.0h.01 M629.3 239.9h.01 M631.6 242.0h.01 M629.3 246.4h.01 M630.8 233.5h.01 M632.8 228.4h.01 M633.1 209.8h.01 M632.2 202.8h.01 M628.7 247.1h.01 M631.5 228.0h.01 M630.5 232.9h.01 M631.5 237.8h.01 M630.6 227.0h.01 M631.2 242.4h.01 M631.0 200.1h.01 M630.4 202.7h.01 M632.0 232.9h.01 M630.4 207.8h.01 M630.5 228.0h.01 M627.6 209.8h.01 M632.0 235.5h.01 M631.6 244.9h.01 M630.4 238.0h.01 M630.4 240.5h.01 M628.9 237.1h.01 M630.3 234.4h.01 M630.9 225.8h.01 M632.1 247.0h.01 M633.3 229.9h.01 M631.7 242.4h.01 M630.6 245.0h.01 M629.0 214.9h.01 M633.6 244.8h.01 M631.6 220.5h.01 M629.7 214.6h.01 M631.1 244.7h.01 M631.7 233.5h.01 M630.6 203.6h.01 M631.3 224.1h.01 M632.4 246.6h.01 M630.7 244.2h.01 M630.9 236.8h.01 M631.0 240.4h.01 M630.8 219.6h.01 M629.1 235.6h.01 M629.8 246.9h.01 M641.2 223.3h.01 M640.2 218.6h.01 M640.7 225.3h.01 M641.0 217.8h.01 M640.5 222.8h.01 M639.8 214.9h.01 M641.9 212.8h.01 M642.0 222.6h.01 M641.7 221.1h.01 M642.8 225.5h.01 M640.2 222.3h.01 M641.7 222.3h.01 M641.2 225.4h.01 M641.5 215.5h.01 M641.8 213.8h.01 M640.0 225.2h.01 M640.0 221.7h.01 M641.0 220.5h.01 M642.2 216.8h.01 M647.7 225.2h.01 M646.7 217.9h.01 M647.3 224.6h.01 M645.9 228.8h.01 M647.6 224.7h.01 M646.1 220.4h.01 M647.4 220.1h.01 M646.4 223.2h.01 M646.5 226.1h.01 M645.4 228.1h.01 M646.8 228.4h.01 M646.0 227.5h.01 M645.0 222.8h.01 M649.6 216.6h.01 M649.0 220.0h.01 M647.5 219.9h.01 M647.6 216.8h.01 M645.4 224.8h.01 M646.9 227.8h.01 M646.5 222.4h.01" stroke="#cbc5b9" stroke-width="0.55" stroke-linecap="round"/>
<path d="M352.8 225 L352.78 226.86 L352.72 228.71 L352.63 230.57 L352.49 232.43 L352.32 234.29 L352.11 236.14 L351.86 238 L351.57 239.86 L351.24 241.71 L350.88 243.57 L351.02 245.43 L351.35 247.29 L351.77 249.14 L352.8 251 L353.8 251 L354.83 249.14 L355.25 247.29 L355.58 245.43 L355.72 243.57 L355.36 241.71 L355.03 239.86 L354.74 238 L354.49 236.14 L354.28 234.29 L354.11 232.43 L353.97 230.57 L353.88 228.71 L353.82 226.86 L353.8 225Z M358.6 223.51 L358.58 225.47 L358.52 227.43 L358.43 229.4 L358.29 231.36 L358.12 233.32 L357.91 235.29 L357.65 237.25 L357.37 239.22 L357.04 241.18 L356.67 243.14 L356.83 245.11 L357.15 247.07 L357.58 249.04 L358.6 251 L359.6 251 L360.62 249.04 L361.05 247.07 L361.37 245.11 L361.53 243.14 L361.16 241.18 L360.83 239.22 L360.55 237.25 L360.29 235.29 L360.08 233.32 L359.91 231.36 L359.77 229.4 L359.68 227.43 L359.62 225.47 L359.6 223.51Z M368.8 215 L368.79 217.64 L368.74 220.29 L368.67 222.93 L368.57 225.57 L368.44 228.21 L368.28 230.86 L368.09 233.5 L367.88 236.14 L367.63 238.79 L367.36 241.43 L367.05 244.07 L366.91 246.71 L367.46 249.36 L368.8 252 L369.8 252 L371.14 249.36 L371.69 246.71 L371.55 244.07 L371.24 241.43 L370.97 238.79 L370.72 236.14 L370.51 233.5 L370.32 230.86 L370.16 228.21 L370.03 225.57 L369.93 222.93 L369.86 220.29 L369.81 217.64 L369.8 215Z M374.6 216.67 L374.58 219.19 L374.54 221.71 L374.46 224.24 L374.35 226.76 L374.21 229.28 L374.03 231.81 L373.83 234.33 L373.59 236.86 L373.32 239.38 L373.02 241.9 L372.69 244.43 L372.89 246.95 L373.39 249.48 L374.6 252 L375.6 252 L376.81 249.48 L377.31 246.95 L377.51 244.43 L377.18 241.9 L376.88 239.38 L376.61 236.86 L376.37 234.33 L376.17 231.81 L375.99 229.28 L375.85 226.76 L375.74 224.24 L375.66 221.71 L375.62 219.19 L375.6 216.67Z M384.8 210 L384.79 213 L384.75 216 L384.68 219 L384.59 222 L384.47 225 L384.32 228 L384.15 231 L383.95 234 L383.73 237 L383.47 240 L383.2 243 L382.89 246 L383.27 249 L384.8 252 L385.8 252 L387.33 249 L387.71 246 L387.4 243 L387.13 240 L386.87 237 L386.65 234 L386.45 231 L386.28 228 L386.13 225 L386.01 222 L385.92 219 L385.85 216 L385.81 213 L385.8 210Z M390.6 210.61 L390.59 213.57 L390.54 216.52 L390.47 219.48 L390.37 222.44 L390.25 225.39 L390.09 228.35 L389.91 231.31 L389.7 234.26 L389.46 237.22 L389.19 240.17 L388.89 243.13 L388.65 246.09 L389.22 249.04 L390.6 252 L391.6 252 L392.98 249.04 L393.55 246.09 L393.31 243.13 L393.01 240.17 L392.74 237.22 L392.5 234.26 L392.29 231.31 L392.11 228.35 L391.95 225.39 L391.83 222.44 L391.73 219.48 L391.66 216.52 L391.61 213.57 L391.6 210.61Z M400.8 230 L400.78 231.43 L400.72 232.86 L400.61 234.29 L400.46 235.71 L400.28 237.14 L400.04 238.57 L399.77 240 L399.46 241.43 L399.1 242.86 L398.86 244.29 L399.12 245.71 L399.43 247.14 L399.83 248.57 L400.8 250 L401.8 250 L402.77 248.57 L403.17 247.14 L403.48 245.71 L403.74 244.29 L403.5 242.86 L403.14 241.43 L402.83 240 L402.56 238.57 L402.32 237.14 L402.14 235.71 L401.99 234.29 L401.88 232.86 L401.82 231.43 L401.8 230Z M406.6 227.63 L406.58 229.23 L406.51 230.83 L406.4 232.42 L406.25 234.02 L406.05 235.62 L405.81 237.22 L405.53 238.82 L405.2 240.41 L404.83 242.01 L404.7 243.61 L404.96 245.21 L405.26 246.8 L405.65 248.4 L406.6 250 L407.6 250 L408.55 248.4 L408.94 246.8 L409.24 245.21 L409.5 243.61 L409.37 242.01 L409 240.41 L408.67 238.82 L408.39 237.22 L408.15 235.62 L407.95 234.02 L407.8 232.42 L407.69 230.83 L407.62 229.23 L407.6 227.63Z M416.8 210 L416.79 213 L416.74 216 L416.67 219 L416.57 222 L416.44 225 L416.29 228 L416.1 231 L415.89 234 L415.64 237 L415.37 240 L415.07 243 L414.88 246 L415.44 249 L416.8 252 L417.8 252 L419.16 249 L419.72 246 L419.53 243 L419.23 240 L418.96 237 L418.71 234 L418.5 231 L418.31 228 L418.16 225 L418.03 222 L417.93 219 L417.86 216 L417.81 213 L417.8 210Z M422.6 211.15 L422.58 214.07 L422.54 216.98 L422.46 219.9 L422.35 222.82 L422.21 225.74 L422.05 228.66 L421.85 231.57 L421.61 234.49 L421.35 237.41 L421.06 240.33 L420.74 243.25 L420.85 246.16 L421.36 249.08 L422.6 252 L423.6 252 L424.84 249.08 L425.35 246.16 L425.46 243.25 L425.14 240.33 L424.85 237.41 L424.59 234.49 L424.35 231.57 L424.15 228.66 L423.99 225.74 L423.85 222.82 L423.74 219.9 L423.66 216.98 L423.62 214.07 L423.6 211.15Z M432.8 222 L432.79 224.14 L432.75 226.29 L432.69 228.43 L432.6 230.57 L432.48 232.71 L432.34 234.86 L432.18 237 L431.99 239.14 L431.77 241.29 L431.53 243.43 L431.26 245.57 L430.97 247.71 L431.14 249.86 L432.8 252 L433.8 252 L435.46 249.86 L435.63 247.71 L435.34 245.57 L435.07 243.43 L434.83 241.29 L434.61 239.14 L434.42 237 L434.26 234.86 L434.12 232.71 L434 230.57 L433.91 228.43 L433.85 226.29 L433.81 224.14 L433.8 222Z M438.6 223.59 L438.59 225.62 L438.55 227.65 L438.48 229.68 L438.39 231.71 L438.27 233.74 L438.12 235.76 L437.95 237.79 L437.75 239.82 L437.52 241.85 L437.27 243.88 L436.99 245.91 L436.69 247.94 L437.08 249.97 L438.6 252 L439.6 252 L441.12 249.97 L441.51 247.94 L441.21 245.91 L440.93 243.88 L440.68 241.85 L440.45 239.82 L440.25 237.79 L440.08 235.76 L439.93 233.74 L439.81 231.71 L439.72 229.68 L439.65 227.65 L439.61 225.62 L439.6 223.59Z M448.8 230 L448.79 231.57 L448.75 233.14 L448.68 234.71 L448.59 236.29 L448.48 237.86 L448.33 239.43 L448.16 241 L447.97 242.57 L447.75 244.14 L447.5 245.71 L447.23 247.29 L446.93 248.86 L447.21 250.43 L448.8 252 L449.8 252 L451.39 250.43 L451.67 248.86 L451.37 247.29 L451.1 245.71 L450.85 244.14 L450.63 242.57 L450.44 241 L450.27 239.43 L450.12 237.86 L450.01 236.29 L449.92 234.71 L449.85 233.14 L449.81 231.57 L449.8 230Z M454.6 230.08 L454.59 231.65 L454.55 233.21 L454.48 234.78 L454.39 236.34 L454.27 237.91 L454.13 239.48 L453.96 241.04 L453.76 242.61 L453.54 244.17 L453.29 245.74 L453.02 247.3 L452.72 248.87 L453.03 250.43 L454.6 252 L455.6 252 L457.17 250.43 L457.48 248.87 L457.18 247.3 L456.91 245.74 L456.66 244.17 L456.44 242.61 L456.24 241.04 L456.07 239.48 L455.93 237.91 L455.81 236.34 L455.72 234.78 L455.65 233.21 L455.61 231.65 L455.6 230.08Z M464.8 240 L464.78 240.71 L464.72 241.43 L464.62 242.14 L464.48 242.86 L464.29 243.57 L464.07 244.29 L463.81 245 L463.5 245.71 L463.16 246.43 L462.81 247.14 L463.08 247.86 L463.4 248.57 L463.81 249.29 L464.8 250 L465.8 250 L466.79 249.29 L467.2 248.57 L467.52 247.86 L467.79 247.14 L467.44 246.43 L467.1 245.71 L466.79 245 L466.53 244.29 L466.31 243.57 L466.12 242.86 L465.98 242.14 L465.88 241.43 L465.82 240.71 L465.8 240Z M470.6 240.64 L470.57 241.31 L470.46 241.98 L470.29 242.65 L470.04 243.32 L469.73 243.98 L469.34 244.65 L468.89 245.32 L468.67 245.99 L468.84 246.66 L469.02 247.33 L469.23 247.99 L469.48 248.66 L469.81 249.33 L470.6 250 L471.6 250 L472.39 249.33 L472.72 248.66 L472.97 247.99 L473.18 247.33 L473.36 246.66 L473.53 245.99 L473.31 245.32 L472.86 244.65 L472.47 243.98 L472.16 243.32 L471.91 242.65 L471.74 241.98 L471.63 241.31 L471.6 240.64Z M480.8 230 L480.77 231.21 L480.7 232.43 L480.57 233.64 L480.39 234.86 L480.16 236.07 L479.88 237.29 L479.55 238.5 L479.17 239.71 L478.83 240.93 L479.04 242.14 L479.27 243.36 L479.55 244.57 L479.92 245.79 L480.8 247 L481.8 247 L482.68 245.79 L483.05 244.57 L483.33 243.36 L483.56 242.14 L483.77 240.93 L483.43 239.71 L483.05 238.5 L482.72 237.29 L482.44 236.07 L482.21 234.86 L482.03 233.64 L481.9 232.43 L481.83 231.21 L481.8 230Z M486.6 232.67 L486.56 233.69 L486.42 234.72 L486.2 235.74 L485.89 236.76 L485.49 237.79 L485.01 238.81 L484.64 239.83 L484.78 240.86 L484.94 241.88 L485.12 242.91 L485.32 243.93 L485.55 244.95 L485.86 245.98 L486.6 247 L487.6 247 L488.34 245.98 L488.65 244.95 L488.88 243.93 L489.08 242.91 L489.26 241.88 L489.42 240.86 L489.56 239.83 L489.19 238.81 L488.71 237.79 L488.31 236.76 L488 235.74 L487.78 234.72 L487.64 233.69 L487.6 232.67Z M496.8 215 L496.78 217.29 L496.72 219.57 L496.63 221.86 L496.5 224.14 L496.33 226.43 L496.12 228.71 L495.88 231 L495.59 233.29 L495.27 235.57 L494.92 237.86 L495 240.14 L495.33 242.43 L495.76 244.71 L496.8 247 L497.8 247 L498.84 244.71 L499.27 242.43 L499.6 240.14 L499.68 237.86 L499.33 235.57 L499.01 233.29 L498.72 231 L498.48 228.71 L498.27 226.43 L498.1 224.14 L497.97 221.86 L497.88 219.57 L497.82 217.29 L497.8 215Z M502.6 216.01 L502.58 218.23 L502.52 220.44 L502.41 222.65 L502.27 224.87 L502.08 227.08 L501.86 229.29 L501.59 231.51 L501.28 233.72 L500.93 235.93 L500.64 238.15 L500.9 240.36 L501.21 242.57 L501.62 244.79 L502.6 247 L503.6 247 L504.58 244.79 L504.99 242.57 L505.3 240.36 L505.56 238.15 L505.27 235.93 L504.92 233.72 L504.61 231.51 L504.34 229.29 L504.12 227.08 L503.93 224.87 L503.79 222.65 L503.68 220.44 L503.62 218.23 L503.6 216.01Z M512.8 225 L512.78 226.86 L512.73 228.71 L512.65 230.57 L512.54 232.43 L512.39 234.29 L512.21 236.14 L512 238 L511.75 239.86 L511.47 241.71 L511.16 243.57 L510.81 245.43 L511.16 247.29 L511.64 249.14 L512.8 251 L513.8 251 L514.96 249.14 L515.44 247.29 L515.79 245.43 L515.44 243.57 L515.13 241.71 L514.85 239.86 L514.6 238 L514.39 236.14 L514.21 234.29 L514.06 232.43 L513.95 230.57 L513.87 228.71 L513.82 226.86 L513.8 225Z M518.6 222.1 L518.58 224.16 L518.53 226.22 L518.43 228.29 L518.31 230.35 L518.14 232.42 L517.94 234.48 L517.7 236.55 L517.43 238.61 L517.11 240.68 L516.77 242.74 L516.76 244.81 L517.1 246.87 L517.54 248.94 L518.6 251 L519.6 251 L520.66 248.94 L521.1 246.87 L521.44 244.81 L521.43 242.74 L521.09 240.68 L520.77 238.61 L520.5 236.55 L520.26 234.48 L520.06 232.42 L519.89 230.35 L519.77 228.29 L519.67 226.22 L519.62 224.16 L519.6 222.1Z M528.8 237 L528.78 238.07 L528.74 239.14 L528.65 240.21 L528.54 241.29 L528.39 242.36 L528.22 243.43 L528.01 244.5 L527.76 245.57 L527.49 246.64 L527.18 247.71 L526.84 248.79 L527.14 249.86 L527.62 250.93 L528.8 252 L529.8 252 L530.98 250.93 L531.46 249.86 L531.76 248.79 L531.42 247.71 L531.11 246.64 L530.84 245.57 L530.59 244.5 L530.38 243.43 L530.21 242.36 L530.06 241.29 L529.95 240.21 L529.86 239.14 L529.82 238.07 L529.8 237Z M534.6 238.35 L534.58 239.32 L534.52 240.3 L534.42 241.27 L534.28 242.25 L534.09 243.22 L533.87 244.2 L533.61 245.17 L533.31 246.15 L532.96 247.12 L532.61 248.1 L532.88 249.07 L533.19 250.05 L533.61 251.02 L534.6 252 L535.6 252 L536.59 251.02 L537.01 250.05 L537.32 249.07 L537.59 248.1 L537.24 247.12 L536.89 246.15 L536.59 245.17 L536.33 244.2 L536.11 243.22 L535.92 242.25 L535.78 241.27 L535.68 240.3 L535.62 239.32 L535.6 238.35Z M544.8 246 L544.76 246.14 L544.64 246.29 L544.43 246.43 L544.15 246.57 L543.78 246.71 L543.33 246.86 L542.85 247 L542.99 247.14 L543.15 247.29 L543.32 247.43 L543.52 247.57 L543.76 247.71 L544.06 247.86 L544.8 248 L545.8 248 L546.54 247.86 L546.84 247.71 L547.08 247.57 L547.28 247.43 L547.45 247.29 L547.61 247.14 L547.75 247 L547.27 246.86 L546.82 246.71 L546.45 246.57 L546.17 246.43 L545.96 246.29 L545.84 246.14 L545.8 246Z M549.16 246.52 L549.21 246.63 L549.27 246.74 L549.32 246.84 L549.38 246.95 L549.45 247.05 L549.51 247.16 L549.58 247.26 L549.66 247.37 L549.74 247.47 L549.83 247.58 L549.93 247.68 L550.06 247.79 L550.22 247.89 L550.6 248 L551.6 248 L551.98 247.89 L552.14 247.79 L552.27 247.68 L552.37 247.58 L552.46 247.47 L552.54 247.37 L552.62 247.26 L552.69 247.16 L552.75 247.05 L552.82 246.95 L552.88 246.84 L552.93 246.74 L552.99 246.63 L553.04 246.52Z M560.8 232 L560.79 233.43 L560.75 234.86 L560.69 236.29 L560.6 237.71 L560.49 239.14 L560.36 240.57 L560.2 242 L560.02 243.43 L559.81 244.86 L559.57 246.29 L559.32 247.71 L559.04 249.14 L558.99 250.57 L560.8 252 L561.8 252 L563.61 250.57 L563.56 249.14 L563.28 247.71 L563.03 246.29 L562.79 244.86 L562.58 243.43 L562.4 242 L562.24 240.57 L562.11 239.14 L562 237.71 L561.91 236.29 L561.85 234.86 L561.81 233.43 L561.8 232Z M566.6 234.81 L566.59 236.04 L566.54 237.26 L566.47 238.49 L566.37 239.72 L566.24 240.95 L566.08 242.18 L565.89 243.4 L565.67 244.63 L565.42 245.86 L565.14 247.09 L564.84 248.32 L564.73 249.54 L565.28 250.77 L566.6 252 L567.6 252 L568.92 250.77 L569.47 249.54 L569.36 248.32 L569.06 247.09 L568.78 245.86 L568.53 244.63 L568.31 243.4 L568.12 242.18 L567.96 240.95 L567.83 239.72 L567.73 238.49 L567.66 237.26 L567.61 236.04 L567.6 234.81Z M576.8 237 L576.78 238 L576.73 239 L576.64 240 L576.52 241 L576.37 242 L576.18 243 L575.95 244 L575.69 245 L575.4 246 L575.07 247 L574.88 248 L575.23 249 L575.69 250 L576.8 251 L577.8 251 L578.91 250 L579.37 249 L579.72 248 L579.53 247 L579.2 246 L578.91 245 L578.65 244 L578.42 243 L578.23 242 L578.08 241 L577.96 240 L577.87 239 L577.82 238 L577.8 237Z M582.6 235 L582.58 236.14 L582.53 237.28 L582.43 238.43 L582.3 239.57 L582.14 240.71 L581.93 241.85 L581.69 243 L581.41 244.14 L581.09 245.28 L580.74 246.43 L580.78 247.57 L581.12 248.71 L581.55 249.86 L582.6 251 L583.6 251 L584.65 249.86 L585.08 248.71 L585.42 247.57 L585.46 246.43 L585.11 245.28 L584.79 244.14 L584.51 243 L584.27 241.85 L584.06 240.71 L583.9 239.57 L583.77 238.43 L583.67 237.28 L583.62 236.14 L583.6 235Z M592.8 198 L592.77 200.57 L592.69 203.14 L592.55 205.71 L592.36 208.29 L592.11 210.86 L591.8 213.43 L591.44 216 L591.03 218.57 L590.89 221.14 L591.09 223.71 L591.32 226.29 L591.59 228.86 L591.95 231.43 L592.8 234 L593.8 234 L594.65 231.43 L595.01 228.86 L595.28 226.29 L595.51 223.71 L595.71 221.14 L595.57 218.57 L595.16 216 L594.8 213.43 L594.49 210.86 L594.24 208.29 L594.05 205.71 L593.91 203.14 L593.83 200.57 L593.8 198Z M598.6 198.98 L598.56 201.48 L598.45 203.98 L598.26 206.48 L597.99 208.98 L597.65 211.49 L597.23 213.99 L596.73 216.49 L596.72 218.99 L596.88 221.49 L597.06 223.99 L597.27 226.5 L597.51 229 L597.83 231.5 L598.6 234 L599.6 234 L600.37 231.5 L600.69 229 L600.93 226.5 L601.14 223.99 L601.32 221.49 L601.48 218.99 L601.47 216.49 L600.97 213.99 L600.55 211.49 L600.21 208.98 L599.94 206.48 L599.75 203.98 L599.64 201.48 L599.6 198.98Z M608.8 225 L608.79 226.86 L608.74 228.71 L608.67 230.57 L608.58 232.43 L608.45 234.29 L608.29 236.14 L608.11 238 L607.9 239.86 L607.66 241.71 L607.39 243.57 L607.1 245.43 L606.84 247.29 L607.41 249.14 L608.8 251 L609.8 251 L611.19 249.14 L611.76 247.29 L611.5 245.43 L611.21 243.57 L610.94 241.71 L610.7 239.86 L610.49 238 L610.31 236.14 L610.15 234.29 L610.02 232.43 L609.93 230.57 L609.86 228.71 L609.81 226.86 L609.8 225Z M614.6 223.6 L614.58 225.56 L614.54 227.52 L614.46 229.47 L614.35 231.43 L614.21 233.39 L614.04 235.34 L613.84 237.3 L613.61 239.26 L613.34 241.21 L613.05 243.17 L612.72 245.13 L612.86 247.09 L613.37 249.04 L614.6 251 L615.6 251 L616.83 249.04 L617.34 247.09 L617.48 245.13 L617.15 243.17 L616.86 241.21 L616.59 239.26 L616.36 237.3 L616.16 235.34 L615.99 233.39 L615.85 231.43 L615.74 229.47 L615.66 227.52 L615.62 225.56 L615.6 223.6Z M624.8 215 L624.78 217.64 L624.71 220.29 L624.59 222.93 L624.43 225.57 L624.22 228.21 L623.97 230.86 L623.66 233.5 L623.32 236.14 L622.92 238.79 L622.96 241.43 L623.2 244.07 L623.5 246.71 L623.88 249.36 L624.8 252 L625.8 252 L626.72 249.36 L627.1 246.71 L627.4 244.07 L627.64 241.43 L627.68 238.79 L627.28 236.14 L626.94 233.5 L626.63 230.86 L626.38 228.21 L626.17 225.57 L626.01 222.93 L625.89 220.29 L625.82 217.64 L625.8 215Z M630.6 213.13 L630.57 215.91 L630.47 218.69 L630.31 221.46 L630.08 224.24 L629.78 227.02 L629.42 229.79 L629 232.57 L628.63 235.34 L628.8 238.12 L628.99 240.9 L629.21 243.67 L629.46 246.45 L629.8 249.22 L630.6 252 L631.6 252 L632.4 249.22 L632.74 246.45 L632.99 243.67 L633.21 240.9 L633.4 238.12 L633.57 235.34 L633.2 232.57 L632.78 229.79 L632.42 227.02 L632.12 224.24 L631.89 221.46 L631.73 218.69 L631.63 215.91 L631.6 213.13Z M640.8 212 L640.75 213.43 L640.59 214.86 L640.33 216.29 L639.97 217.71 L639.5 219.14 L638.92 220.57 L638.91 222 L639.05 223.43 L639.2 224.86 L639.37 226.29 L639.56 227.71 L639.79 229.14 L640.08 230.57 L640.8 232 L641.8 232 L642.52 230.57 L642.81 229.14 L643.04 227.71 L643.23 226.29 L643.4 224.86 L643.55 223.43 L643.69 222 L643.68 220.57 L643.1 219.14 L642.63 217.71 L642.27 216.29 L642.01 214.86 L641.85 213.43 L641.8 212Z M646.6 213.21 L646.39 214.55 L645.76 215.9 L644.71 217.24 L644.69 218.58 L644.78 219.92 L644.89 221.26 L645 222.61 L645.12 223.95 L645.25 225.29 L645.39 226.63 L645.55 227.97 L645.74 229.32 L645.99 230.66 L646.6 232 L647.6 232 L648.21 230.66 L648.46 229.32 L648.65 227.97 L648.81 226.63 L648.95 225.29 L649.08 223.95 L649.2 222.61 L649.31 221.26 L649.42 219.92 L649.51 218.58 L649.49 217.24 L648.44 215.9 L647.81 214.55 L647.6 213.21Z" fill="#ddd8cd"/>
<path d="M353.05 237.32 L353.03 238.26 L352.96 239.2 L352.84 240.14 L352.68 241.08 L352.47 242.03 L352.22 242.97 L351.91 243.91 L351.98 244.85 L352.08 245.79 L352.18 246.73 L352.29 247.68 L352.43 248.62 L352.61 249.56 L353.05 250.5 L353.55 250.5 L353.99 249.56 L354.17 248.62 L354.31 247.68 L354.42 246.73 L354.52 245.79 L354.62 244.85 L354.69 243.91 L354.38 242.97 L354.13 242.03 L353.92 241.08 L353.76 240.14 L353.64 239.2 L353.57 238.26 L353.55 237.32Z M358.85 236.5 L358.83 237.5 L358.76 238.5 L358.64 239.5 L358.47 240.5 L358.26 241.5 L358 242.5 L357.7 243.5 L357.79 244.5 L357.88 245.5 L357.98 246.5 L358.1 247.5 L358.24 248.5 L358.42 249.5 L358.85 250.5 L359.35 250.5 L359.78 249.5 L359.96 248.5 L360.1 247.5 L360.22 246.5 L360.32 245.5 L360.41 244.5 L360.5 243.5 L360.2 242.5 L359.94 241.5 L359.73 240.5 L359.56 239.5 L359.44 238.5 L359.37 237.5 L359.35 236.5Z M369.05 235.22 L369.04 236.38 L369 237.54 L368.93 238.7 L368.84 239.87 L368.72 241.03 L368.58 242.19 L368.41 243.36 L368.21 244.52 L367.99 245.68 L367.98 246.85 L368.13 248.01 L368.3 249.17 L368.52 250.34 L369.05 251.5 L369.55 251.5 L370.08 250.34 L370.3 249.17 L370.47 248.01 L370.62 246.85 L370.61 245.68 L370.39 244.52 L370.19 243.36 L370.02 242.19 L369.88 241.03 L369.76 239.87 L369.67 238.7 L369.6 237.54 L369.56 236.38 L369.55 235.22Z M374.85 235.15 L374.83 236.32 L374.79 237.48 L374.71 238.65 L374.6 239.82 L374.45 240.99 L374.28 242.16 L374.07 243.32 L373.84 244.49 L373.75 245.66 L373.87 246.83 L374 248 L374.16 249.16 L374.36 250.33 L374.85 251.5 L375.35 251.5 L375.84 250.33 L376.04 249.16 L376.2 248 L376.33 246.83 L376.45 245.66 L376.36 244.49 L376.13 243.32 L375.92 242.16 L375.75 240.99 L375.6 239.82 L375.49 238.65 L375.41 237.48 L375.37 236.32 L375.35 235.15Z M385.05 233.95 L385.04 235.21 L385.01 236.46 L384.95 237.71 L384.88 238.97 L384.78 240.22 L384.66 241.47 L384.52 242.73 L384.35 243.98 L384.17 245.23 L383.96 246.49 L384.02 247.74 L384.21 248.99 L384.45 250.25 L385.05 251.5 L385.55 251.5 L386.15 250.25 L386.39 248.99 L386.58 247.74 L386.64 246.49 L386.43 245.23 L386.25 243.98 L386.08 242.73 L385.94 241.47 L385.82 240.22 L385.72 238.97 L385.65 237.71 L385.59 236.46 L385.56 235.21 L385.55 233.95Z M390.85 233.48 L390.84 234.77 L390.8 236.06 L390.74 237.34 L390.65 238.63 L390.54 239.92 L390.4 241.2 L390.23 242.49 L390.05 243.78 L389.83 245.07 L389.76 246.35 L389.9 247.64 L390.08 248.93 L390.3 250.21 L390.85 251.5 L391.35 251.5 L391.9 250.21 L392.12 248.93 L392.3 247.64 L392.44 246.35 L392.37 245.07 L392.15 243.78 L391.97 242.49 L391.8 241.2 L391.66 239.92 L391.55 238.63 L391.46 237.34 L391.4 236.06 L391.36 234.77 L391.35 233.48Z M401.05 239.07 L401.02 239.81 L400.94 240.56 L400.81 241.3 L400.62 242.05 L400.38 242.79 L400.09 243.54 L399.94 244.28 L400.02 245.03 L400.11 245.77 L400.21 246.52 L400.32 247.26 L400.45 248.01 L400.63 248.75 L401.05 249.5 L401.55 249.5 L401.97 248.75 L402.15 248.01 L402.28 247.26 L402.39 246.52 L402.49 245.77 L402.58 245.03 L402.66 244.28 L402.51 243.54 L402.22 242.79 L401.98 242.05 L401.79 241.3 L401.66 240.56 L401.58 239.81 L401.55 239.07Z M406.85 237.56 L406.82 238.41 L406.73 239.26 L406.59 240.12 L406.38 240.97 L406.12 241.82 L405.79 242.67 L405.76 243.53 L405.84 244.38 L405.93 245.23 L406.02 246.09 L406.13 246.94 L406.27 247.79 L406.44 248.65 L406.85 249.5 L407.35 249.5 L407.76 248.65 L407.93 247.79 L408.07 246.94 L408.18 246.09 L408.27 245.23 L408.36 244.38 L408.44 243.53 L408.41 242.67 L408.08 241.82 L407.82 240.97 L407.61 240.12 L407.47 239.26 L407.38 238.41 L407.35 237.56Z M417.05 233.07 L417.04 234.39 L417 235.71 L416.93 237.02 L416.84 238.34 L416.73 239.66 L416.59 240.97 L416.42 242.29 L416.22 243.6 L416 244.92 L415.97 246.24 L416.12 247.55 L416.29 248.87 L416.51 250.18 L417.05 251.5 L417.55 251.5 L418.09 250.18 L418.31 248.87 L418.48 247.55 L418.63 246.24 L418.6 244.92 L418.38 243.6 L418.18 242.29 L418.01 240.97 L417.87 239.66 L417.76 238.34 L417.67 237.02 L417.6 235.71 L417.56 234.39 L417.55 233.07Z M422.85 232.76 L422.83 234.1 L422.79 235.44 L422.71 236.78 L422.61 238.12 L422.47 239.45 L422.3 240.79 L422.1 242.13 L421.88 243.47 L421.73 244.81 L421.85 246.15 L421.99 247.48 L422.14 248.82 L422.35 250.16 L422.85 251.5 L423.35 251.5 L423.85 250.16 L424.06 248.82 L424.21 247.48 L424.35 246.15 L424.47 244.81 L424.32 243.47 L424.1 242.13 L423.9 240.79 L423.73 239.45 L423.59 238.12 L423.49 236.78 L423.41 235.44 L423.37 234.1 L423.35 232.76Z M433.05 239.49 L433.04 240.34 L433.01 241.2 L432.96 242.06 L432.9 242.92 L432.81 243.78 L432.71 244.63 L432.58 245.49 L432.44 246.35 L432.28 247.21 L432.09 248.07 L431.91 248.93 L432.12 249.78 L432.39 250.64 L433.05 251.5 L433.55 251.5 L434.21 250.64 L434.48 249.78 L434.69 248.93 L434.51 248.07 L434.32 247.21 L434.16 246.35 L434.02 245.49 L433.89 244.63 L433.79 243.78 L433.7 242.92 L433.64 242.06 L433.59 241.2 L433.56 240.34 L433.55 239.49Z M438.85 239.78 L438.84 240.62 L438.81 241.46 L438.75 242.29 L438.68 243.13 L438.59 243.97 L438.47 244.8 L438.33 245.64 L438.17 246.48 L437.99 247.31 L437.79 248.15 L437.8 248.99 L437.99 249.83 L438.24 250.66 L438.85 251.5 L439.35 251.5 L439.96 250.66 L440.21 249.83 L440.4 248.99 L440.41 248.15 L440.21 247.31 L440.03 246.48 L439.87 245.64 L439.73 244.8 L439.61 243.97 L439.52 243.13 L439.45 242.29 L439.39 241.46 L439.36 240.62 L439.35 239.78Z M449.05 242.68 L449.04 243.31 L449.01 243.94 L448.96 244.57 L448.89 245.2 L448.8 245.83 L448.7 246.46 L448.57 247.09 L448.42 247.72 L448.26 248.35 L448.07 248.98 L447.93 249.61 L448.14 250.24 L448.4 250.87 L449.05 251.5 L449.55 251.5 L450.2 250.87 L450.46 250.24 L450.67 249.61 L450.53 248.98 L450.34 248.35 L450.18 247.72 L450.03 247.09 L449.9 246.46 L449.8 245.83 L449.71 245.2 L449.64 244.57 L449.59 243.94 L449.56 243.31 L449.55 242.68Z M454.85 242.67 L454.84 243.3 L454.81 243.93 L454.76 244.56 L454.69 245.19 L454.6 245.82 L454.49 246.45 L454.36 247.09 L454.21 247.72 L454.04 248.35 L453.85 248.98 L453.75 249.61 L453.95 250.24 L454.21 250.87 L454.85 251.5 L455.35 251.5 L455.99 250.87 L456.25 250.24 L456.45 249.61 L456.35 248.98 L456.16 248.35 L455.99 247.72 L455.84 247.09 L455.71 246.45 L455.6 245.82 L455.51 245.19 L455.44 244.56 L455.39 243.93 L455.36 243.3 L455.35 242.67Z M465.05 244.62 L465.03 244.96 L464.96 245.31 L464.85 245.66 L464.69 246.01 L464.48 246.36 L464.23 246.71 L463.94 247.06 L463.98 247.41 L464.07 247.76 L464.17 248.1 L464.29 248.45 L464.43 248.8 L464.61 249.15 L465.05 249.5 L465.55 249.5 L465.99 249.15 L466.17 248.8 L466.31 248.45 L466.43 248.1 L466.53 247.76 L466.62 247.41 L466.66 247.06 L466.37 246.71 L466.12 246.36 L465.91 246.01 L465.75 245.66 L465.64 245.31 L465.57 244.96 L465.55 244.62Z M470.85 243.93 L470.79 244.33 L470.62 244.73 L470.33 245.12 L469.92 245.52 L469.73 245.92 L469.8 246.32 L469.87 246.72 L469.94 247.11 L470.02 247.51 L470.11 247.91 L470.21 248.31 L470.32 248.7 L470.48 249.1 L470.85 249.5 L471.35 249.5 L471.72 249.1 L471.88 248.7 L471.99 248.31 L472.09 247.91 L472.18 247.51 L472.26 247.11 L472.33 246.72 L472.4 246.32 L472.47 245.92 L472.28 245.52 L471.87 245.12 L471.58 244.73 L471.41 244.33 L471.35 243.93Z M481.05 236.99 L481.01 237.67 L480.9 238.35 L480.71 239.03 L480.45 239.71 L480.11 240.38 L479.93 241.06 L480 241.74 L480.08 242.42 L480.17 243.1 L480.26 243.78 L480.37 244.46 L480.49 245.14 L480.65 245.82 L481.05 246.5 L481.55 246.5 L481.95 245.82 L482.11 245.14 L482.23 244.46 L482.34 243.78 L482.43 243.1 L482.52 242.42 L482.6 241.74 L482.67 241.06 L482.49 240.38 L482.15 239.71 L481.89 239.03 L481.7 238.35 L481.59 237.67 L481.55 236.99Z M486.85 237.14 L486.76 237.81 L486.5 238.48 L486.05 239.15 L485.72 239.82 L485.78 240.48 L485.84 241.15 L485.91 241.82 L485.98 242.49 L486.05 243.16 L486.14 243.83 L486.23 244.49 L486.35 245.16 L486.49 245.83 L486.85 246.5 L487.35 246.5 L487.71 245.83 L487.85 245.16 L487.97 244.49 L488.06 243.83 L488.15 243.16 L488.22 242.49 L488.29 241.82 L488.36 241.15 L488.42 240.48 L488.48 239.82 L488.15 239.15 L487.7 238.48 L487.44 237.81 L487.35 237.14Z M497.05 230.31 L497.03 231.46 L496.96 232.62 L496.85 233.78 L496.69 234.93 L496.48 236.09 L496.23 237.25 L495.94 238.4 L495.98 239.56 L496.07 240.72 L496.17 241.87 L496.29 243.03 L496.43 244.19 L496.61 245.34 L497.05 246.5 L497.55 246.5 L497.99 245.34 L498.17 244.19 L498.31 243.03 L498.43 241.87 L498.53 240.72 L498.62 239.56 L498.66 238.4 L498.37 237.25 L498.12 236.09 L497.91 234.93 L497.75 233.78 L497.64 232.62 L497.57 231.46 L497.55 230.31Z M502.85 230.17 L502.82 231.34 L502.74 232.51 L502.61 233.67 L502.42 234.84 L502.18 236.01 L501.88 237.17 L501.74 238.34 L501.82 239.5 L501.91 240.67 L502.01 241.84 L502.12 243 L502.25 244.17 L502.43 245.33 L502.85 246.5 L503.35 246.5 L503.77 245.33 L503.95 244.17 L504.08 243 L504.19 241.84 L504.29 240.67 L504.38 239.5 L504.46 238.34 L504.32 237.17 L504.02 236.01 L503.78 234.84 L503.59 233.67 L503.46 232.51 L503.38 231.34 L503.35 230.17Z M513.05 238.32 L513.03 239.19 L512.98 240.06 L512.9 240.93 L512.78 241.8 L512.63 242.67 L512.44 243.54 L512.22 244.41 L511.97 245.28 L511.98 246.15 L512.09 247.02 L512.22 247.89 L512.37 248.76 L512.57 249.63 L513.05 250.5 L513.55 250.5 L514.03 249.63 L514.23 248.76 L514.38 247.89 L514.51 247.02 L514.62 246.15 L514.63 245.28 L514.38 244.41 L514.16 243.54 L513.97 242.67 L513.82 241.8 L513.7 240.93 L513.62 240.06 L513.57 239.19 L513.55 238.32Z M518.85 236.11 L518.83 237.13 L518.76 238.16 L518.66 239.19 L518.51 240.22 L518.32 241.25 L518.08 242.27 L517.8 243.3 L517.76 244.33 L517.85 245.36 L517.96 246.39 L518.08 247.42 L518.22 248.44 L518.4 249.47 L518.85 250.5 L519.35 250.5 L519.8 249.47 L519.98 248.44 L520.12 247.42 L520.24 246.39 L520.35 245.36 L520.44 244.33 L520.4 243.3 L520.12 242.27 L519.88 241.25 L519.69 240.22 L519.54 239.19 L519.44 238.16 L519.37 237.13 L519.35 236.11Z M529.05 244.74 L529.03 245.22 L528.99 245.7 L528.91 246.18 L528.8 246.67 L528.66 247.15 L528.49 247.63 L528.29 248.12 L528.06 248.6 L527.94 249.08 L528.06 249.57 L528.19 250.05 L528.35 250.53 L528.55 251.02 L529.05 251.5 L529.55 251.5 L530.05 251.02 L530.25 250.53 L530.41 250.05 L530.54 249.57 L530.66 249.08 L530.54 248.6 L530.31 248.12 L530.11 247.63 L529.94 247.15 L529.8 246.67 L529.69 246.18 L529.61 245.7 L529.57 245.22 L529.55 244.74Z M534.85 244.65 L534.83 245.14 L534.75 245.63 L534.64 246.12 L534.47 246.61 L534.25 247.1 L533.99 247.59 L533.7 248.08 L533.79 248.57 L533.88 249.06 L533.98 249.54 L534.1 250.03 L534.24 250.52 L534.42 251.01 L534.85 251.5 L535.35 251.5 L535.78 251.01 L535.96 250.52 L536.1 250.03 L536.22 249.54 L536.32 249.06 L536.41 248.57 L536.5 248.08 L536.21 247.59 L535.95 247.1 L535.73 246.61 L535.56 246.12 L535.45 245.63 L535.37 245.14 L535.35 244.65Z M545.05 246.62 L545.05 246.68 L545.03 246.74 L545.01 246.81 L544.98 246.87 L544.94 246.93 L544.23 247 L544.29 247.06 L544.34 247.12 L544.4 247.18 L544.47 247.25 L544.55 247.31 L544.64 247.37 L544.76 247.44 L545.05 247.5 L545.55 247.5 L545.84 247.44 L545.96 247.37 L546.05 247.31 L546.13 247.25 L546.2 247.18 L546.26 247.12 L546.31 247.06 L546.37 247 L545.66 246.93 L545.62 246.87 L545.59 246.81 L545.57 246.74 L545.55 246.68 L545.55 246.62Z M549.82 245.63 L549.86 245.76 L549.9 245.9 L549.94 246.03 L549.98 246.17 L550.03 246.3 L550.07 246.43 L550.12 246.57 L550.18 246.7 L550.24 246.83 L550.3 246.97 L550.38 247.1 L550.46 247.23 L550.58 247.37 L550.85 247.5 L551.35 247.5 L551.62 247.37 L551.74 247.23 L551.82 247.1 L551.9 246.97 L551.96 246.83 L552.02 246.7 L552.08 246.57 L552.13 246.43 L552.17 246.3 L552.22 246.17 L552.26 246.03 L552.3 245.9 L552.34 245.76 L552.38 245.63Z M561.05 243.86 L561.04 244.41 L561.02 244.95 L560.97 245.5 L560.92 246.04 L560.84 246.59 L560.75 247.14 L560.64 247.68 L560.51 248.23 L560.37 248.77 L560.21 249.32 L560.03 249.86 L559.98 250.41 L560.29 250.95 L561.05 251.5 L561.55 251.5 L562.31 250.95 L562.62 250.41 L562.57 249.86 L562.39 249.32 L562.23 248.77 L562.09 248.23 L561.96 247.68 L561.85 247.14 L561.76 246.59 L561.68 246.04 L561.63 245.5 L561.58 244.95 L561.56 244.41 L561.55 243.86Z M566.85 244.16 L566.84 244.69 L566.8 245.21 L566.74 245.74 L566.65 246.26 L566.54 246.78 L566.4 247.31 L566.24 247.83 L566.05 248.36 L565.84 248.88 L565.75 249.4 L565.9 249.93 L566.07 250.45 L566.3 250.98 L566.85 251.5 L567.35 251.5 L567.9 250.98 L568.13 250.45 L568.3 249.93 L568.45 249.4 L568.36 248.88 L568.15 248.36 L567.96 247.83 L567.8 247.31 L567.66 246.78 L567.55 246.26 L567.46 245.74 L567.4 245.21 L567.36 244.69 L567.35 244.16Z M577.05 243.99 L577.03 244.45 L576.98 244.92 L576.89 245.38 L576.77 245.85 L576.61 246.31 L576.42 246.78 L576.19 247.24 L575.92 247.71 L575.99 248.17 L576.1 248.64 L576.23 249.1 L576.38 249.57 L576.58 250.03 L577.05 250.5 L577.55 250.5 L578.02 250.03 L578.22 249.57 L578.37 249.1 L578.5 248.64 L578.61 248.17 L578.68 247.71 L578.41 247.24 L578.18 246.78 L577.99 246.31 L577.83 245.85 L577.71 245.38 L577.62 244.92 L577.57 244.45 L577.55 243.99Z M582.85 242.7 L582.83 243.26 L582.77 243.82 L582.66 244.37 L582.52 244.93 L582.33 245.49 L582.1 246.04 L581.83 246.6 L581.75 247.16 L581.85 247.71 L581.95 248.27 L582.07 248.83 L582.21 249.39 L582.4 249.94 L582.85 250.5 L583.35 250.5 L583.8 249.94 L583.99 249.39 L584.13 248.83 L584.25 248.27 L584.35 247.71 L584.45 247.16 L584.37 246.6 L584.1 246.04 L583.87 245.49 L583.68 244.93 L583.54 244.37 L583.43 243.82 L583.37 243.26 L583.35 242.7Z M593.05 212.2 L593 213.72 L592.87 215.25 L592.64 216.77 L592.32 218.29 L591.91 219.81 L591.96 221.33 L592.03 222.85 L592.11 224.37 L592.19 225.89 L592.28 227.41 L592.39 228.94 L592.51 230.46 L592.67 231.98 L593.05 233.5 L593.55 233.5 L593.93 231.98 L594.09 230.46 L594.21 228.94 L594.32 227.41 L594.41 225.89 L594.49 224.37 L594.57 222.85 L594.64 221.33 L594.69 219.81 L594.28 218.29 L593.96 216.77 L593.73 215.25 L593.6 213.72 L593.55 212.2Z M598.85 210.76 L598.77 212.38 L598.55 214.01 L598.17 215.63 L597.71 217.26 L597.76 218.88 L597.83 220.5 L597.89 222.13 L597.96 223.75 L598.04 225.38 L598.13 227 L598.22 228.63 L598.34 230.25 L598.49 231.88 L598.85 233.5 L599.35 233.5 L599.71 231.88 L599.86 230.25 L599.98 228.63 L600.07 227 L600.16 225.38 L600.24 223.75 L600.31 222.13 L600.37 220.5 L600.44 218.88 L600.49 217.26 L600.03 215.63 L599.65 214.01 L599.43 212.38 L599.35 210.76Z M609.05 239.4 L609.04 240.19 L609 240.98 L608.94 241.78 L608.86 242.57 L608.75 243.36 L608.62 244.16 L608.46 244.95 L608.28 245.74 L608.08 246.53 L607.93 247.33 L608.08 248.12 L608.26 248.91 L608.49 249.71 L609.05 250.5 L609.55 250.5 L610.11 249.71 L610.34 248.91 L610.52 248.12 L610.67 247.33 L610.52 246.53 L610.32 245.74 L610.14 244.95 L609.98 244.16 L609.85 243.36 L609.74 242.57 L609.66 241.78 L609.6 240.98 L609.56 240.19 L609.55 239.4Z M614.85 238.03 L614.83 238.92 L614.79 239.81 L614.71 240.7 L614.61 241.59 L614.47 242.48 L614.31 243.37 L614.11 244.27 L613.88 245.16 L613.73 246.05 L613.85 246.94 L613.98 247.83 L614.14 248.72 L614.35 249.61 L614.85 250.5 L615.35 250.5 L615.85 249.61 L616.06 248.72 L616.22 247.83 L616.35 246.94 L616.47 246.05 L616.32 245.16 L616.09 244.27 L615.89 243.37 L615.73 242.48 L615.59 241.59 L615.49 240.7 L615.41 239.81 L615.37 238.92 L615.35 238.03Z M625.05 230.96 L625.02 232.42 L624.92 233.89 L624.75 235.36 L624.51 236.83 L624.21 238.29 L623.91 239.76 L623.98 241.23 L624.06 242.7 L624.15 244.16 L624.24 245.63 L624.35 247.1 L624.48 248.57 L624.65 250.03 L625.05 251.5 L625.55 251.5 L625.95 250.03 L626.12 248.57 L626.25 247.1 L626.36 245.63 L626.45 244.16 L626.54 242.7 L626.62 241.23 L626.69 239.76 L626.39 238.29 L626.09 236.83 L625.85 235.36 L625.68 233.89 L625.58 232.42 L625.55 230.96Z M630.85 227.25 L630.79 228.98 L630.61 230.71 L630.31 232.45 L629.89 234.18 L629.74 235.91 L629.8 237.64 L629.87 239.37 L629.94 241.11 L630.02 242.84 L630.11 244.57 L630.21 246.3 L630.33 248.04 L630.48 249.77 L630.85 251.5 L631.35 251.5 L631.72 249.77 L631.87 248.04 L631.99 246.3 L632.09 244.57 L632.18 242.84 L632.26 241.11 L632.33 239.37 L632.4 237.64 L632.46 235.91 L632.31 234.18 L631.89 232.45 L631.59 230.71 L631.41 228.98 L631.35 227.25Z M641.05 217.75 L640.93 218.73 L640.59 219.72 L640.01 220.7 L639.95 221.68 L640 222.66 L640.06 223.64 L640.13 224.63 L640.19 225.61 L640.27 226.59 L640.35 227.57 L640.45 228.55 L640.56 229.54 L640.7 230.52 L641.05 231.5 L641.55 231.5 L641.9 230.52 L642.04 229.54 L642.15 228.55 L642.25 227.57 L642.33 226.59 L642.41 225.61 L642.47 224.63 L642.54 223.64 L642.6 222.66 L642.65 221.68 L642.59 220.7 L642.01 219.72 L641.67 218.73 L641.55 217.75Z M646.85 215.9 L646.17 217.02 L645.73 218.13 L645.78 219.24 L645.83 220.36 L645.88 221.47 L645.94 222.59 L646 223.7 L646.06 224.82 L646.13 225.93 L646.2 227.04 L646.29 228.16 L646.39 229.27 L646.53 230.39 L646.85 231.5 L647.35 231.5 L647.67 230.39 L647.81 229.27 L647.91 228.16 L648 227.04 L648.07 225.93 L648.14 224.82 L648.2 223.7 L648.26 222.59 L648.32 221.47 L648.37 220.36 L648.42 219.24 L648.47 218.13 L648.03 217.02 L647.35 215.9Z" fill="#a9a296"/>
<path d="M353.3 236.6V249.9 M359.1 234.26V250.98 M369.3 238.12V252 M375.1 235.44V252 M385.3 239.5V252 M391.1 236.56V252 M401.3 236.6V249.9 M407.1 233.66V250 M417.3 237.52V251.96 M423.1 235.16V251.88 M433.3 242.6V252 M439.1 242.2V252 M449.3 245.72V252 M455.1 245.46V252 M465.3 245.2V248.6 M471.1 240.64V250 M481.3 234.66V245.68 M487.1 232.67V245.5 M497.3 229.52V245.86 M503.1 225.62V247 M513.3 237.52V251 M519.1 231.26V251 M529.3 245.12V251.96 M535.1 243.22V251.96 M545.3 246V248 M551.1 246.52V246.6 M561.3 248.2V251.9 M567.1 244.16V252 M577.3 244.18V250.64 M583.1 242.02V250.76 M593.3 203.26V233.28 M599.1 198.98V233.08 M609.3 241.06V251 M615.1 236.56V251 M625.3 215V252 M631.1 213.13V252 M641.3 214.76V225.78 M647.1 213.21V222.28" stroke="#4d473d" stroke-width="0.7"/>
<rect x="350.7" y="242.2" width="5.2" height="3.5" fill="#3f0e54" stroke="#2a2a2a" stroke-width="0.35"/>
<line x1="350.7" y1="243.6" x2="355.9" y2="243.6" stroke="#111" stroke-width="0.6"/>
<rect x="356.5" y="241.3" width="5.2" height="4.4" fill="#e8e337" stroke="#2a2a2a" stroke-width="0.35"/>
<line x1="356.5" y1="243.3" x2="361.7" y2="243.3" stroke="#111" stroke-width="0.6"/>
<rect x="366.7" y="244.2" width="5.2" height="3.8" fill="#3f0e54" stroke="#2a2a2a" stroke-width="0.35"/>
<line x1="366.7" y1="246" x2="371.9" y2="246" stroke="#111" stroke-width="0.6"/>
<rect x="372.5" y="242.8" width="5.2" height="4.6" fill="#e8e337" stroke="#2a2a2a" stroke-width="0.35"/>
<line x1="372.5" y1="245" x2="377.7" y2="245" stroke="#111" stroke-width="0.6"/>
<rect x="382.7" y="245.1" width="5.2" height="3.5" fill="#3f0e54" stroke="#2a2a2a" stroke-width="0.35"/>
<line x1="382.7" y1="246.8" x2="387.9" y2="246.8" stroke="#111" stroke-width="0.6"/>
<rect x="388.5" y="243.6" width="5.2" height="4.4" fill="#e8e337" stroke="#2a2a2a" stroke-width="0.35"/>
<line x1="388.5" y1="245.8" x2="393.7" y2="245.8" stroke="#111" stroke-width="0.6"/>
<rect x="398.7" y="242.2" width="5.2" height="3.5" fill="#3f0e54" stroke="#2a2a2a" stroke-width="0.35"/>
<line x1="398.7" y1="243.8" x2="403.9" y2="243.8" stroke="#111" stroke-width="0.6"/>
<rect x="404.5" y="240.7" width="5.2" height="4.4" fill="#e8e337" stroke="#2a2a2a" stroke-width="0.35"/>
<line x1="404.5" y1="242.8" x2="409.7" y2="242.8" stroke="#111" stroke-width="0.6"/>
<rect x="414.7" y="243.6" width="5.2" height="3.8" fill="#3f0e54" stroke="#2a2a2a" stroke-width="0.35"/>
<line x1="414.7" y1="245.4" x2="419.9" y2="245.4" stroke="#111" stroke-width="0.6"/>
<rect x="420.5" y="242.2" width="5.2" height="4.4" fill="#e8e337" stroke="#2a2a2a" stroke-width="0.35"/>
<line x1="420.5" y1="244.4" x2="425.7" y2="244.4" stroke="#111" stroke-width="0.6"/>
<rect x="430.7" y="247.4" width="5.2" height="3" fill="#3f0e54" stroke="#2a2a2a" stroke-width="0.35"/>
<line x1="430.7" y1="248.8" x2="435.9" y2="248.8" stroke="#111" stroke-width="0.6"/>
<rect x="436.5" y="247" width="5.2" height="3" fill="#e8e337" stroke="#2a2a2a" stroke-width="0.35"/>
<line x1="436.5" y1="248.5" x2="441.7" y2="248.5" stroke="#111" stroke-width="0.6"/>
<rect x="446.7" y="248.6" width="5.2" height="1.8" fill="#3f0e54" stroke="#2a2a2a" stroke-width="0.35"/>
<line x1="446.7" y1="249.5" x2="451.9" y2="249.5" stroke="#111" stroke-width="0.6"/>
<rect x="452.5" y="248.5" width="5.2" height="1.9" fill="#e8e337" stroke="#2a2a2a" stroke-width="0.35"/>
<line x1="452.5" y1="249.4" x2="457.7" y2="249.4" stroke="#111" stroke-width="0.6"/>
<rect x="462.7" y="246.8" width="5.2" height="0.9" fill="#3f0e54" stroke="#2a2a2a" stroke-width="0.35"/>
<line x1="462.7" y1="247" x2="467.9" y2="247" stroke="#111" stroke-width="0.6"/>
<rect x="468.5" y="244.2" width="5.2" height="3" fill="#e8e337" stroke="#2a2a2a" stroke-width="0.35"/>
<line x1="468.5" y1="245.8" x2="473.7" y2="245.8" stroke="#111" stroke-width="0.6"/>
<rect x="478.7" y="239.3" width="5.2" height="2.9" fill="#3f0e54" stroke="#2a2a2a" stroke-width="0.35"/>
<line x1="478.7" y1="240.8" x2="483.9" y2="240.8" stroke="#111" stroke-width="0.6"/>
<rect x="484.5" y="237.8" width="5.2" height="3.5" fill="#e8e337" stroke="#2a2a2a" stroke-width="0.35"/>
<line x1="484.5" y1="239.6" x2="489.7" y2="239.6" stroke="#111" stroke-width="0.6"/>
<rect x="494.7" y="236.4" width="5.2" height="4.3" fill="#3f0e54" stroke="#2a2a2a" stroke-width="0.35"/>
<line x1="494.7" y1="238.5" x2="499.9" y2="238.5" stroke="#111" stroke-width="0.6"/>
<rect x="500.5" y="234.9" width="5.2" height="5.8" fill="#e8e337" stroke="#2a2a2a" stroke-width="0.35"/>
<line x1="500.5" y1="237.8" x2="505.7" y2="237.8" stroke="#111" stroke-width="0.6"/>
<rect x="510.7" y="243.6" width="5.2" height="3.8" fill="#3f0e54" stroke="#2a2a2a" stroke-width="0.35"/>
<line x1="510.7" y1="245.6" x2="515.9" y2="245.6" stroke="#111" stroke-width="0.6"/>
<rect x="516.5" y="240.7" width="5.2" height="5.9" fill="#e8e337" stroke="#2a2a2a" stroke-width="0.35"/>
<line x1="516.5" y1="243.6" x2="521.7" y2="243.6" stroke="#111" stroke-width="0.6"/>
<rect x="526.7" y="248" width="5.2" height="1.8" fill="#3f0e54" stroke="#2a2a2a" stroke-width="0.35"/>
<line x1="526.7" y1="248.9" x2="531.9" y2="248.9" stroke="#111" stroke-width="0.6"/>
<rect x="532.5" y="246.9" width="5.2" height="2.3" fill="#e8e337" stroke="#2a2a2a" stroke-width="0.35"/>
<line x1="532.5" y1="248" x2="537.7" y2="248" stroke="#111" stroke-width="0.6"/>
<rect x="542.7" y="246.7" width="5.2" height="0.9" fill="#3f0e54" stroke="#2a2a2a" stroke-width="0.35"/>
<line x1="542.7" y1="246.9" x2="547.9" y2="246.9" stroke="#111" stroke-width="0.6"/>
<rect x="548.5" y="244.9" width="5.2" height="0.9" fill="#e8e337" stroke="#2a2a2a" stroke-width="0.35"/>
<line x1="548.5" y1="245.1" x2="553.7" y2="245.1" stroke="#111" stroke-width="0.6"/>
<rect x="558.7" y="249.8" width="5.2" height="0.9" fill="#3f0e54" stroke="#2a2a2a" stroke-width="0.35"/>
<line x1="558.7" y1="250.2" x2="563.9" y2="250.2" stroke="#111" stroke-width="0.6"/>
<rect x="564.5" y="248" width="5.2" height="2.4" fill="#e8e337" stroke="#2a2a2a" stroke-width="0.35"/>
<line x1="564.5" y1="249.2" x2="569.7" y2="249.2" stroke="#111" stroke-width="0.6"/>
<rect x="574.7" y="246.9" width="5.2" height="1.7" fill="#3f0e54" stroke="#2a2a2a" stroke-width="0.35"/>
<line x1="574.7" y1="247.8" x2="579.9" y2="247.8" stroke="#111" stroke-width="0.6"/>
<rect x="580.5" y="245.7" width="5.2" height="2.3" fill="#e8e337" stroke="#2a2a2a" stroke-width="0.35"/>
<line x1="580.5" y1="246.8" x2="585.7" y2="246.8" stroke="#111" stroke-width="0.6"/>
<rect x="590.7" y="215.9" width="5.2" height="7.9" fill="#3f0e54" stroke="#2a2a2a" stroke-width="0.35"/>
<line x1="590.7" y1="219.8" x2="595.9" y2="219.8" stroke="#111" stroke-width="0.6"/>
<rect x="596.5" y="212.4" width="5.2" height="9.4" fill="#e8e337" stroke="#2a2a2a" stroke-width="0.35"/>
<line x1="596.5" y1="217" x2="601.7" y2="217" stroke="#111" stroke-width="0.6"/>
<rect x="606.7" y="245.7" width="5.2" height="2.9" fill="#3f0e54" stroke="#2a2a2a" stroke-width="0.35"/>
<line x1="606.7" y1="247.2" x2="611.9" y2="247.2" stroke="#111" stroke-width="0.6"/>
<rect x="612.5" y="243.6" width="5.2" height="4.4" fill="#e8e337" stroke="#2a2a2a" stroke-width="0.35"/>
<line x1="612.5" y1="245.8" x2="617.7" y2="245.8" stroke="#111" stroke-width="0.6"/>
<rect x="622.7" y="233.4" width="5.2" height="12.3" fill="#3f0e54" stroke="#2a2a2a" stroke-width="0.35"/>
<line x1="622.7" y1="239" x2="627.9" y2="239" stroke="#111" stroke-width="0.6"/>
<rect x="628.5" y="226.1" width="5.2" height="17.5" fill="#e8e337" stroke="#2a2a2a" stroke-width="0.35"/>
<line x1="628.5" y1="235" x2="633.7" y2="235" stroke="#111" stroke-width="0.6"/>
<rect x="638.7" y="219.4" width="5.2" height="2.9" fill="#3f0e54" stroke="#2a2a2a" stroke-width="0.35"/>
<line x1="638.7" y1="220.8" x2="643.9" y2="220.8" stroke="#111" stroke-width="0.6"/>
<rect x="644.5" y="215.9" width="5.2" height="2.9" fill="#e8e337" stroke="#2a2a2a" stroke-width="0.35"/>
<line x1="644.5" y1="217.4" x2="649.7" y2="217.4" stroke="#111" stroke-width="0.6"/>
<path d="M41.3 315.5V496.0H153.2" fill="none" stroke="#8c8c8c" stroke-width="0.8"/>
<line x1="37.3" y1="323.4" x2="41.3" y2="323.4" stroke="#8c8c8c" stroke-width="0.8"/>
<text x="34.8" y="326.2" font-size="8.0" text-anchor="end" fill="#333" >1</text>
<line x1="37.3" y1="378.6" x2="41.3" y2="378.6" stroke="#8c8c8c" stroke-width="0.8"/>
<text x="34.8" y="381.4" font-size="8.0" text-anchor="end" fill="#333" >0</text>
<line x1="37.3" y1="432.9" x2="41.3" y2="432.9" stroke="#8c8c8c" stroke-width="0.8"/>
<text x="34.8" y="435.7" font-size="8.0" text-anchor="end" fill="#333" >&#8722;1</text>
<line x1="37.3" y1="487.6" x2="41.3" y2="487.6" stroke="#8c8c8c" stroke-width="0.8"/>
<text x="34.8" y="490.4" font-size="8.0" text-anchor="end" fill="#333" >&#8722;2</text>
<line x1="46.2" y1="496.0" x2="46.2" y2="500" stroke="#8c8c8c" stroke-width="0.8"/>
<text x="46.2" y="508" font-size="8.0" text-anchor="middle" fill="#333" >0</text>
<line x1="71.7" y1="496.0" x2="71.7" y2="500" stroke="#8c8c8c" stroke-width="0.8"/>
<text x="71.7" y="508" font-size="8.0" text-anchor="middle" fill="#333" >2,000</text>
<line x1="97.2" y1="496.0" x2="97.2" y2="500" stroke="#8c8c8c" stroke-width="0.8"/>
<text x="97.2" y="508" font-size="8.0" text-anchor="middle" fill="#333" >4,000</text>
<line x1="122.7" y1="496.0" x2="122.7" y2="500" stroke="#8c8c8c" stroke-width="0.8"/>
<text x="122.7" y="508" font-size="8.0" text-anchor="middle" fill="#333" >6,000</text>
<line x1="149.0" y1="496.0" x2="149.0" y2="500" stroke="#8c8c8c" stroke-width="0.8"/>
<text x="149" y="508" font-size="8.0" text-anchor="middle" fill="#333" >8,000</text>
<text x="97.2" y="521" font-size="9.0" text-anchor="middle" fill="#231f20" textLength="54.7" lengthAdjust="spacingAndGlyphs" >Gene ranking</text>
<text transform="translate(16.2,406.1) rotate(-90)" font-size="9.0" text-anchor="middle" fill="#231f20" textLength="71.8" lengthAdjust="spacingAndGlyphs">log<tspan font-size="6" dy="2">2</tspan><tspan dy="-2">(fold change)</tspan></text>
<line x1="46.6" y1="402.67" x2="47.24" y2="399.79" stroke="#b1565d" stroke-width="1.7" stroke-linecap="round"/>
<line x1="47.24" y1="399.79" x2="47.88" y2="397.31" stroke="#b36269" stroke-width="1.7" stroke-linecap="round"/>
<line x1="47.88" y1="397.31" x2="48.51" y2="395.18" stroke="#b66e75" stroke-width="1.7" stroke-linecap="round"/>
<line x1="48.51" y1="395.18" x2="49.15" y2="393.35" stroke="#b87a80" stroke-width="1.7" stroke-linecap="round"/>
<line x1="49.15" y1="393.35" x2="49.79" y2="391.77" stroke="#bb868c" stroke-width="1.7" stroke-linecap="round"/>
<line x1="49.79" y1="391.77" x2="50.43" y2="390.41" stroke="#bc8b91" stroke-width="1.7" stroke-linecap="round"/>
<line x1="50.43" y1="390.41" x2="51.06" y2="389.23" stroke="#bc8d93" stroke-width="1.7" stroke-linecap="round"/>
<line x1="51.06" y1="389.23" x2="51.7" y2="388.21" stroke="#bd9095" stroke-width="1.7" stroke-linecap="round"/>
<line x1="51.7" y1="388.21" x2="52.34" y2="387.33" stroke="#bd9297" stroke-width="1.7" stroke-linecap="round"/>
<line x1="52.34" y1="387.33" x2="52.98" y2="386.57" stroke="#bd9499" stroke-width="1.7" stroke-linecap="round"/>
<line x1="52.98" y1="386.57" x2="53.61" y2="385.9" stroke="#be969b" stroke-width="1.7" stroke-linecap="round"/>
<line x1="53.61" y1="385.9" x2="54.25" y2="385.32" stroke="#be989d" stroke-width="1.7" stroke-linecap="round"/>
<line x1="54.25" y1="385.32" x2="54.89" y2="384.81" stroke="#bf9ba0" stroke-width="1.7" stroke-linecap="round"/>
<line x1="54.89" y1="384.81" x2="55.52" y2="384.36" stroke="#bf9da2" stroke-width="1.7" stroke-linecap="round"/>
<line x1="55.52" y1="384.36" x2="56.16" y2="383.97" stroke="#c09fa4" stroke-width="1.7" stroke-linecap="round"/>
<line x1="56.16" y1="383.97" x2="56.8" y2="383.62" stroke="#c0a1a6" stroke-width="1.7" stroke-linecap="round"/>
<line x1="56.8" y1="383.62" x2="57.44" y2="383.31" stroke="#c0a4a8" stroke-width="1.7" stroke-linecap="round"/>
<line x1="57.44" y1="383.31" x2="58.08" y2="383.03" stroke="#c1a6aa" stroke-width="1.7" stroke-linecap="round"/>
<line x1="58.08" y1="383.03" x2="58.71" y2="382.79" stroke="#c1a8ac" stroke-width="1.7" stroke-linecap="round"/>
<line x1="58.71" y1="382.79" x2="59.35" y2="382.56" stroke="#c2aaae" stroke-width="1.7" stroke-linecap="round"/>
<line x1="59.35" y1="382.56" x2="59.99" y2="382.36" stroke="#c2aaae" stroke-width="1.7" stroke-linecap="round"/>
<line x1="59.99" y1="382.36" x2="60.62" y2="382.17" stroke="#c2abaf" stroke-width="1.7" stroke-linecap="round"/>
<line x1="60.62" y1="382.17" x2="61.26" y2="382" stroke="#c2abaf" stroke-width="1.7" stroke-linecap="round"/>
<line x1="61.26" y1="382" x2="61.9" y2="381.85" stroke="#c2acb0" stroke-width="1.7" stroke-linecap="round"/>
<line x1="61.9" y1="381.85" x2="62.54" y2="381.7" stroke="#c2adb1" stroke-width="1.7" stroke-linecap="round"/>
<line x1="62.54" y1="381.7" x2="63.17" y2="381.57" stroke="#c2adb1" stroke-width="1.7" stroke-linecap="round"/>
<line x1="63.17" y1="381.57" x2="63.81" y2="381.44" stroke="#c2aeb2" stroke-width="1.7" stroke-linecap="round"/>
<line x1="63.81" y1="381.44" x2="64.45" y2="381.32" stroke="#c2aeb2" stroke-width="1.7" stroke-linecap="round"/>
<line x1="64.45" y1="381.32" x2="65.09" y2="381.2" stroke="#c2afb3" stroke-width="1.7" stroke-linecap="round"/>
<line x1="65.09" y1="381.2" x2="65.72" y2="381.09" stroke="#c2afb3" stroke-width="1.7" stroke-linecap="round"/>
<line x1="65.72" y1="381.09" x2="66.36" y2="380.99" stroke="#c3b0b4" stroke-width="1.7" stroke-linecap="round"/>
<line x1="66.36" y1="380.99" x2="67" y2="380.89" stroke="#c3b1b5" stroke-width="1.7" stroke-linecap="round"/>
<line x1="67" y1="380.89" x2="67.64" y2="380.79" stroke="#c3b1b5" stroke-width="1.7" stroke-linecap="round"/>
<line x1="67.64" y1="380.79" x2="68.28" y2="380.69" stroke="#c3b2b6" stroke-width="1.7" stroke-linecap="round"/>
<line x1="68.28" y1="380.69" x2="68.91" y2="380.6" stroke="#c3b2b6" stroke-width="1.7" stroke-linecap="round"/>
<line x1="68.91" y1="380.6" x2="69.55" y2="380.51" stroke="#c3b3b7" stroke-width="1.7" stroke-linecap="round"/>
<line x1="69.55" y1="380.51" x2="70.19" y2="380.42" stroke="#c3b4b8" stroke-width="1.7" stroke-linecap="round"/>
<line x1="70.19" y1="380.42" x2="70.83" y2="380.33" stroke="#c3b4b8" stroke-width="1.7" stroke-linecap="round"/>
<line x1="70.83" y1="380.33" x2="71.46" y2="380.24" stroke="#c3b5b9" stroke-width="1.7" stroke-linecap="round"/>
<line x1="71.46" y1="380.24" x2="72.1" y2="380.16" stroke="#c3b5b9" stroke-width="1.7" stroke-linecap="round"/>
<line x1="72.1" y1="380.16" x2="72.74" y2="380.07" stroke="#c3b6ba" stroke-width="1.7" stroke-linecap="round"/>
<line x1="72.74" y1="380.07" x2="73.38" y2="379.99" stroke="#c3b6ba" stroke-width="1.7" stroke-linecap="round"/>
<line x1="73.38" y1="379.99" x2="74.01" y2="379.9" stroke="#c4b7bb" stroke-width="1.7" stroke-linecap="round"/>
<line x1="74.01" y1="379.9" x2="74.65" y2="379.82" stroke="#c4b8bc" stroke-width="1.7" stroke-linecap="round"/>
<line x1="74.65" y1="379.82" x2="75.29" y2="379.74" stroke="#c4b8bc" stroke-width="1.7" stroke-linecap="round"/>
<line x1="75.29" y1="379.74" x2="75.92" y2="379.65" stroke="#c4b9bd" stroke-width="1.7" stroke-linecap="round"/>
<line x1="75.92" y1="379.65" x2="76.56" y2="379.57" stroke="#c4b9bd" stroke-width="1.7" stroke-linecap="round"/>
<line x1="76.56" y1="379.57" x2="77.2" y2="379.49" stroke="#c4babe" stroke-width="1.7" stroke-linecap="round"/>
<line x1="77.2" y1="379.49" x2="77.84" y2="379.41" stroke="#c4bbbf" stroke-width="1.7" stroke-linecap="round"/>
<line x1="77.84" y1="379.41" x2="78.47" y2="379.33" stroke="#c4bbbf" stroke-width="1.7" stroke-linecap="round"/>
<line x1="78.47" y1="379.33" x2="79.11" y2="379.25" stroke="#c4bcc0" stroke-width="1.7" stroke-linecap="round"/>
<line x1="79.11" y1="379.25" x2="79.75" y2="379.17" stroke="#c4bcc0" stroke-width="1.7" stroke-linecap="round"/>
<line x1="79.75" y1="379.17" x2="80.39" y2="379.09" stroke="#c4bdc1" stroke-width="1.7" stroke-linecap="round"/>
<line x1="80.39" y1="379.09" x2="81.03" y2="379.01" stroke="#c5bdc1" stroke-width="1.7" stroke-linecap="round"/>
<line x1="81.03" y1="379.01" x2="81.66" y2="378.93" stroke="#c5bec2" stroke-width="1.7" stroke-linecap="round"/>
<line x1="81.66" y1="378.93" x2="82.3" y2="378.85" stroke="#c5bfc3" stroke-width="1.7" stroke-linecap="round"/>
<line x1="82.3" y1="378.85" x2="82.94" y2="378.77" stroke="#c5bfc3" stroke-width="1.7" stroke-linecap="round"/>
<line x1="82.94" y1="378.77" x2="83.58" y2="378.69" stroke="#c5c0c4" stroke-width="1.7" stroke-linecap="round"/>
<line x1="83.58" y1="378.69" x2="84.21" y2="378.61" stroke="#c5c0c4" stroke-width="1.7" stroke-linecap="round"/>
<line x1="84.21" y1="378.61" x2="84.85" y2="378.53" stroke="#c5c1c5" stroke-width="1.7" stroke-linecap="round"/>
<line x1="84.85" y1="378.53" x2="85.49" y2="378.45" stroke="#c5c1c5" stroke-width="1.7" stroke-linecap="round"/>
<line x1="85.49" y1="378.45" x2="86.12" y2="378.37" stroke="#c5c2c6" stroke-width="1.7" stroke-linecap="round"/>
<line x1="86.12" y1="378.37" x2="86.76" y2="378.29" stroke="#c5c3c7" stroke-width="1.7" stroke-linecap="round"/>
<line x1="86.76" y1="378.29" x2="87.4" y2="378.21" stroke="#c5c3c7" stroke-width="1.7" stroke-linecap="round"/>
<line x1="87.4" y1="378.21" x2="88.04" y2="378.13" stroke="#c5c3c8" stroke-width="1.7" stroke-linecap="round"/>
<line x1="88.04" y1="378.13" x2="88.67" y2="378.05" stroke="#c5c3c8" stroke-width="1.7" stroke-linecap="round"/>
<line x1="88.67" y1="378.05" x2="89.31" y2="377.97" stroke="#c5c3c8" stroke-width="1.7" stroke-linecap="round"/>
<line x1="89.31" y1="377.97" x2="89.95" y2="377.89" stroke="#c5c3c8" stroke-width="1.7" stroke-linecap="round"/>
<line x1="89.95" y1="377.89" x2="90.59" y2="377.81" stroke="#c4c3c8" stroke-width="1.7" stroke-linecap="round"/>
<line x1="90.59" y1="377.81" x2="91.22" y2="377.73" stroke="#c4c2c8" stroke-width="1.7" stroke-linecap="round"/>
<line x1="91.22" y1="377.73" x2="91.86" y2="377.65" stroke="#c4c2c8" stroke-width="1.7" stroke-linecap="round"/>
<line x1="91.86" y1="377.65" x2="92.5" y2="377.57" stroke="#c3c2c8" stroke-width="1.7" stroke-linecap="round"/>
<line x1="92.5" y1="377.57" x2="93.14" y2="377.49" stroke="#c3c2c9" stroke-width="1.7" stroke-linecap="round"/>
<line x1="93.14" y1="377.49" x2="93.78" y2="377.41" stroke="#c3c1c9" stroke-width="1.7" stroke-linecap="round"/>
<line x1="93.78" y1="377.41" x2="94.41" y2="377.33" stroke="#c3c1c9" stroke-width="1.7" stroke-linecap="round"/>
<line x1="94.41" y1="377.33" x2="95.05" y2="377.25" stroke="#c2c1c9" stroke-width="1.7" stroke-linecap="round"/>
<line x1="95.05" y1="377.25" x2="95.69" y2="377.17" stroke="#c2c1c9" stroke-width="1.7" stroke-linecap="round"/>
<line x1="95.69" y1="377.17" x2="96.33" y2="377.09" stroke="#c2c1c9" stroke-width="1.7" stroke-linecap="round"/>
<line x1="96.33" y1="377.09" x2="96.96" y2="377.01" stroke="#c1c0c9" stroke-width="1.7" stroke-linecap="round"/>
<line x1="96.96" y1="377.01" x2="97.6" y2="376.93" stroke="#c1c0c9" stroke-width="1.7" stroke-linecap="round"/>
<line x1="97.6" y1="376.93" x2="98.24" y2="376.85" stroke="#c1c0ca" stroke-width="1.7" stroke-linecap="round"/>
<line x1="98.24" y1="376.85" x2="98.88" y2="376.77" stroke="#c1c0ca" stroke-width="1.7" stroke-linecap="round"/>
<line x1="98.88" y1="376.77" x2="99.51" y2="376.69" stroke="#c0bfca" stroke-width="1.7" stroke-linecap="round"/>
<line x1="99.51" y1="376.69" x2="100.15" y2="376.61" stroke="#c0bfca" stroke-width="1.7" stroke-linecap="round"/>
<line x1="100.15" y1="376.61" x2="100.79" y2="376.53" stroke="#c0bfca" stroke-width="1.7" stroke-linecap="round"/>
<line x1="100.79" y1="376.53" x2="101.42" y2="376.45" stroke="#bfbfca" stroke-width="1.7" stroke-linecap="round"/>
<line x1="101.42" y1="376.45" x2="102.06" y2="376.37" stroke="#bfbfca" stroke-width="1.7" stroke-linecap="round"/>
<line x1="102.06" y1="376.37" x2="102.7" y2="376.29" stroke="#bfbeca" stroke-width="1.7" stroke-linecap="round"/>
<line x1="102.7" y1="376.29" x2="103.34" y2="376.21" stroke="#bfbecb" stroke-width="1.7" stroke-linecap="round"/>
<line x1="103.34" y1="376.21" x2="103.97" y2="376.13" stroke="#bebecb" stroke-width="1.7" stroke-linecap="round"/>
<line x1="103.97" y1="376.13" x2="104.61" y2="376.06" stroke="#bebecb" stroke-width="1.7" stroke-linecap="round"/>
<line x1="104.61" y1="376.06" x2="105.25" y2="375.98" stroke="#bebdcb" stroke-width="1.7" stroke-linecap="round"/>
<line x1="105.25" y1="375.98" x2="105.89" y2="375.9" stroke="#bdbdcb" stroke-width="1.7" stroke-linecap="round"/>
<line x1="105.89" y1="375.9" x2="106.53" y2="375.82" stroke="#bdbdcb" stroke-width="1.7" stroke-linecap="round"/>
<line x1="106.53" y1="375.82" x2="107.16" y2="375.74" stroke="#bdbdcb" stroke-width="1.7" stroke-linecap="round"/>
<line x1="107.16" y1="375.74" x2="107.8" y2="375.66" stroke="#bdbdcb" stroke-width="1.7" stroke-linecap="round"/>
<line x1="107.8" y1="375.66" x2="108.44" y2="375.58" stroke="#bcbccc" stroke-width="1.7" stroke-linecap="round"/>
<line x1="108.44" y1="375.58" x2="109.08" y2="375.5" stroke="#bcbccc" stroke-width="1.7" stroke-linecap="round"/>
<line x1="109.08" y1="375.5" x2="109.71" y2="375.42" stroke="#bcbccc" stroke-width="1.7" stroke-linecap="round"/>
<line x1="109.71" y1="375.42" x2="110.35" y2="375.34" stroke="#bcbccc" stroke-width="1.7" stroke-linecap="round"/>
<line x1="110.35" y1="375.34" x2="110.99" y2="375.26" stroke="#bbbccc" stroke-width="1.7" stroke-linecap="round"/>
<line x1="110.99" y1="375.26" x2="111.62" y2="375.18" stroke="#bbbbcc" stroke-width="1.7" stroke-linecap="round"/>
<line x1="111.62" y1="375.18" x2="112.26" y2="375.1" stroke="#bbbbcc" stroke-width="1.7" stroke-linecap="round"/>
<line x1="112.26" y1="375.1" x2="112.9" y2="375.02" stroke="#babbcc" stroke-width="1.7" stroke-linecap="round"/>
<line x1="112.9" y1="375.02" x2="113.54" y2="374.94" stroke="#babbcd" stroke-width="1.7" stroke-linecap="round"/>
<line x1="113.54" y1="374.94" x2="114.18" y2="374.86" stroke="#babacd" stroke-width="1.7" stroke-linecap="round"/>
<line x1="114.18" y1="374.86" x2="114.81" y2="374.78" stroke="#babacd" stroke-width="1.7" stroke-linecap="round"/>
<line x1="114.81" y1="374.78" x2="115.45" y2="374.7" stroke="#b9bacd" stroke-width="1.7" stroke-linecap="round"/>
<line x1="115.45" y1="374.7" x2="116.09" y2="374.62" stroke="#b9bacd" stroke-width="1.7" stroke-linecap="round"/>
<line x1="116.09" y1="374.62" x2="116.72" y2="374.54" stroke="#b9bacd" stroke-width="1.7" stroke-linecap="round"/>
<line x1="116.72" y1="374.54" x2="117.36" y2="374.46" stroke="#b8b9cd" stroke-width="1.7" stroke-linecap="round"/>
<line x1="117.36" y1="374.46" x2="118" y2="374.38" stroke="#b8b9cd" stroke-width="1.7" stroke-linecap="round"/>
<line x1="118" y1="374.38" x2="118.64" y2="374.3" stroke="#b8b9ce" stroke-width="1.7" stroke-linecap="round"/>
<line x1="118.64" y1="374.3" x2="119.28" y2="374.22" stroke="#b8b9ce" stroke-width="1.7" stroke-linecap="round"/>
<line x1="119.28" y1="374.22" x2="119.91" y2="374.14" stroke="#b7b8ce" stroke-width="1.7" stroke-linecap="round"/>
<line x1="119.91" y1="374.14" x2="120.55" y2="374.06" stroke="#b7b8ce" stroke-width="1.7" stroke-linecap="round"/>
<line x1="120.55" y1="374.06" x2="121.19" y2="373.97" stroke="#b7b8ce" stroke-width="1.7" stroke-linecap="round"/>
<line x1="121.19" y1="373.97" x2="121.83" y2="373.89" stroke="#b6b8ce" stroke-width="1.7" stroke-linecap="round"/>
<line x1="121.83" y1="373.89" x2="122.46" y2="373.81" stroke="#b6b8ce" stroke-width="1.7" stroke-linecap="round"/>
<line x1="122.46" y1="373.81" x2="123.1" y2="373.73" stroke="#b6b7ce" stroke-width="1.7" stroke-linecap="round"/>
<line x1="123.1" y1="373.73" x2="123.74" y2="373.65" stroke="#b6b7cf" stroke-width="1.7" stroke-linecap="round"/>
<line x1="123.74" y1="373.65" x2="124.38" y2="373.56" stroke="#b5b7cf" stroke-width="1.7" stroke-linecap="round"/>
<line x1="124.38" y1="373.56" x2="125.01" y2="373.48" stroke="#b5b7cf" stroke-width="1.7" stroke-linecap="round"/>
<line x1="125.01" y1="373.48" x2="125.65" y2="373.4" stroke="#b5b6cf" stroke-width="1.7" stroke-linecap="round"/>
<line x1="125.65" y1="373.4" x2="126.29" y2="373.31" stroke="#b4b6cf" stroke-width="1.7" stroke-linecap="round"/>
<line x1="126.29" y1="373.31" x2="126.93" y2="373.23" stroke="#b4b6cf" stroke-width="1.7" stroke-linecap="round"/>
<line x1="126.93" y1="373.23" x2="127.56" y2="373.14" stroke="#b4b6cf" stroke-width="1.7" stroke-linecap="round"/>
<line x1="127.56" y1="373.14" x2="128.2" y2="373.05" stroke="#b4b6cf" stroke-width="1.7" stroke-linecap="round"/>
<line x1="128.2" y1="373.05" x2="128.84" y2="372.96" stroke="#b2b4cf" stroke-width="1.7" stroke-linecap="round"/>
<line x1="128.84" y1="372.96" x2="129.47" y2="372.87" stroke="#afb1ce" stroke-width="1.7" stroke-linecap="round"/>
<line x1="129.47" y1="372.87" x2="130.11" y2="372.78" stroke="#acafcd" stroke-width="1.7" stroke-linecap="round"/>
<line x1="130.11" y1="372.78" x2="130.75" y2="372.68" stroke="#aaaccc" stroke-width="1.7" stroke-linecap="round"/>
<line x1="130.75" y1="372.68" x2="131.39" y2="372.59" stroke="#a7a9cb" stroke-width="1.7" stroke-linecap="round"/>
<line x1="131.39" y1="372.59" x2="132.03" y2="372.49" stroke="#a4a6ca" stroke-width="1.7" stroke-linecap="round"/>
<line x1="132.03" y1="372.49" x2="132.66" y2="372.38" stroke="#a1a4c9" stroke-width="1.7" stroke-linecap="round"/>
<line x1="132.66" y1="372.38" x2="133.3" y2="372.27" stroke="#9ea1c8" stroke-width="1.7" stroke-linecap="round"/>
<line x1="133.3" y1="372.27" x2="133.94" y2="372.16" stroke="#9b9ec7" stroke-width="1.7" stroke-linecap="round"/>
<line x1="133.94" y1="372.16" x2="134.58" y2="372.04" stroke="#999bc6" stroke-width="1.7" stroke-linecap="round"/>
<line x1="134.58" y1="372.04" x2="135.21" y2="371.92" stroke="#9699c5" stroke-width="1.7" stroke-linecap="round"/>
<line x1="135.21" y1="371.92" x2="135.85" y2="371.78" stroke="#9396c4" stroke-width="1.7" stroke-linecap="round"/>
<line x1="135.85" y1="371.78" x2="136.49" y2="371.64" stroke="#9093c3" stroke-width="1.7" stroke-linecap="round"/>
<line x1="136.49" y1="371.64" x2="137.12" y2="371.49" stroke="#8d90c2" stroke-width="1.7" stroke-linecap="round"/>
<line x1="137.12" y1="371.49" x2="137.76" y2="371.33" stroke="#8a8ec1" stroke-width="1.7" stroke-linecap="round"/>
<line x1="137.76" y1="371.33" x2="138.4" y2="371.15" stroke="#888bc0" stroke-width="1.7" stroke-linecap="round"/>
<line x1="138.4" y1="371.15" x2="139.04" y2="370.95" stroke="#8588bf" stroke-width="1.7" stroke-linecap="round"/>
<line x1="139.04" y1="370.95" x2="139.68" y2="370.74" stroke="#8285be" stroke-width="1.7" stroke-linecap="round"/>
<line x1="139.68" y1="370.74" x2="140.31" y2="370.5" stroke="#7f83bd" stroke-width="1.7" stroke-linecap="round"/>
<line x1="140.31" y1="370.5" x2="140.95" y2="370.23" stroke="#7c80bc" stroke-width="1.7" stroke-linecap="round"/>
<line x1="140.95" y1="370.23" x2="141.59" y2="369.93" stroke="#797dbb" stroke-width="1.7" stroke-linecap="round"/>
<line x1="141.59" y1="369.93" x2="142.22" y2="369.6" stroke="#777aba" stroke-width="1.7" stroke-linecap="round"/>
<line x1="142.22" y1="369.6" x2="142.86" y2="369.23" stroke="#7478b9" stroke-width="1.7" stroke-linecap="round"/>
<line x1="142.86" y1="369.23" x2="143.5" y2="368.8" stroke="#7175b8" stroke-width="1.7" stroke-linecap="round"/>
<line x1="143.5" y1="368.8" x2="144.14" y2="368.31" stroke="#6b6fb6" stroke-width="1.7" stroke-linecap="round"/>
<line x1="144.14" y1="368.31" x2="144.78" y2="367.76" stroke="#6166b2" stroke-width="1.7" stroke-linecap="round"/>
<line x1="144.78" y1="367.76" x2="145.41" y2="367.13" stroke="#575caf" stroke-width="1.7" stroke-linecap="round"/>
<line x1="145.41" y1="367.13" x2="146.05" y2="366.4" stroke="#4d53ab" stroke-width="1.7" stroke-linecap="round"/>
<line x1="146.05" y1="366.4" x2="146.69" y2="365.56" stroke="#444aa8" stroke-width="1.7" stroke-linecap="round"/>
<line x1="146.69" y1="365.56" x2="147.33" y2="364.6" stroke="#3a41a4" stroke-width="1.7" stroke-linecap="round"/>
<line x1="147.33" y1="364.6" x2="147.96" y2="363.48" stroke="#3037a1" stroke-width="1.7" stroke-linecap="round"/>
<line x1="147.96" y1="363.48" x2="148.6" y2="362.19" stroke="#262e9d" stroke-width="1.7" stroke-linecap="round"/>
<circle cx="46.3" cy="406.5" r="1.3" fill="#a3161c"/>
<circle cx="46.3" cy="410.87" r="1.3" fill="#a3161c"/>
<circle cx="46.3" cy="413.06" r="1.3" fill="#a3161c"/>
<circle cx="46.3" cy="414.16" r="1.3" fill="#a3161c"/>
<circle cx="46.3" cy="419.62" r="1.3" fill="#a3161c"/>
<circle cx="46.3" cy="425.1" r="1.3" fill="#a3161c"/>
<circle cx="148.9" cy="333.2" r="1.3" fill="#1b1f9a"/>
<circle cx="148.9" cy="341.4" r="1.3" fill="#1b1f9a"/>
<circle cx="148.9" cy="343.59" r="1.3" fill="#1b1f9a"/>
<circle cx="148.9" cy="345.78" r="1.3" fill="#1b1f9a"/>
<circle cx="148.9" cy="347.97" r="1.3" fill="#1b1f9a"/>
<circle cx="148.9" cy="350.16" r="1.3" fill="#1b1f9a"/>
<circle cx="148.9" cy="352.34" r="1.3" fill="#1b1f9a"/>
<circle cx="148.9" cy="354.53" r="1.3" fill="#1b1f9a"/>
<circle cx="148.9" cy="356.72" r="1.3" fill="#1b1f9a"/>
<circle cx="148.9" cy="358.91" r="1.3" fill="#1b1f9a"/>
<circle cx="148.9" cy="360.55" r="1.3" fill="#1b1f9a"/>
<line x1="148.9" y1="341.5" x2="148.7" y2="360" stroke="#1b1f9a" stroke-width="2"/>
<circle cx="107" cy="390.1" r="1.4" fill="#1b1f9a"/>
<circle cx="107" cy="404.6" r="1.4" fill="#a3161c"/>
<circle cx="107" cy="418.5" r="1.4" fill="#bdbdbd"/>
<text x="111.7" y="392.9" font-size="8.5" text-anchor="start" fill="#231f20" textLength="46.9" lengthAdjust="spacingAndGlyphs" >MECOM up</text>
<text x="111.7" y="407.4" font-size="8.5" text-anchor="start" fill="#231f20" textLength="59.1" lengthAdjust="spacingAndGlyphs" >MECOM down</text>
<text x="111.7" y="421.3" font-size="8.5" text-anchor="start" fill="#231f20" textLength="69.2" lengthAdjust="spacingAndGlyphs" >Not differentially</text>
<text x="111.7" y="432.3" font-size="8.5" text-anchor="start" fill="#231f20" textLength="42.5" lengthAdjust="spacingAndGlyphs" >expressed</text>
<circle cx="46.2" cy="467.1" r="1.4" fill="#a3161c"/>
<text x="51.2" y="469.9" font-size="8.5" text-anchor="start" fill="#231f20" textLength="33.7" lengthAdjust="spacingAndGlyphs" >MECOM</text>
<text x="114.8" y="472" font-size="7.6" text-anchor="start" fill="#231f20" textLength="40.7" lengthAdjust="spacingAndGlyphs" >rho = 0.850</text>
<text x="114.8" y="481.4" font-size="7.6" fill="#231f20"><tspan font-style="italic">P</tspan> = 2.2 × 10<tspan font-size="4.6" dy="-2.8">&#8722;16</tspan></text>
<defs>
<linearGradient id="gsea" x1="0" x2="1" y1="0" y2="0">
<stop offset="0" stop-color="#e6001e"/>
<stop offset="0.03" stop-color="#ef5a6c"/>
<stop offset="0.1" stop-color="#f8c2cb"/>
<stop offset="0.25" stop-color="#fdeaee"/>
<stop offset="0.45" stop-color="#ffffff"/>
<stop offset="0.65" stop-color="#f1eff7"/>
<stop offset="0.8" stop-color="#d9d3e9"/>
<stop offset="0.9" stop-color="#a89dd0"/>
<stop offset="0.97" stop-color="#5546a6"/>
<stop offset="1" stop-color="#24187e"/>
</linearGradient></defs>
<text x="398.5" y="325.2" font-size="9.0" text-anchor="middle" fill="#231f20" textLength="87.3" lengthAdjust="spacingAndGlyphs" >MECOM down genes</text>
<text x="596.2" y="326.4" font-size="9.0" text-anchor="middle" fill="#231f20" textLength="75.4" lengthAdjust="spacingAndGlyphs" >MECOM up genes</text>
<rect x="311.4" y="330.5" width="175.1" height="90.3" fill="none" stroke="#8c8c8c" stroke-width="0.8"/>
<line x1="311.4" y1="334.4" x2="486.5" y2="334.4" stroke="#cfcfcf" stroke-width="0.8"/>
<line x1="307.9" y1="334.4" x2="311.4" y2="334.4" stroke="#8c8c8c" stroke-width="0.7"/>
<text x="306.4" y="337.1" font-size="7.6" text-anchor="end" fill="#333" >0</text>
<line x1="307.9" y1="364.6" x2="311.4" y2="364.6" stroke="#8c8c8c" stroke-width="0.7"/>
<text x="306.4" y="367.3" font-size="7.6" text-anchor="end" fill="#333" >&#8722;0.2</text>
<line x1="307.9" y1="394.8" x2="311.4" y2="394.8" stroke="#8c8c8c" stroke-width="0.7"/>
<text x="306.4" y="397.5" font-size="7.6" text-anchor="end" fill="#333" >&#8722;0.4</text>
<rect x="311.4" y="410.5" width="175.1" height="10.3" fill="#ffffff"/>
<path d="M312.2 410.5V420.8M316.6 410.5V420.8M325.9 410.5V420.8M335.1 410.5V420.8M339.5 410.5V420.8M340.8 410.5V420.8M343.8 410.5V420.8M345.9 410.5V420.8M359.2 410.5V420.8M364.6 410.5V420.8M366.0 410.5V420.8M368.4 410.5V420.8M373.0 410.5V420.8M375.0 410.5V420.8M376.8 410.5V420.8M382.7 410.5V420.8M383.6 410.5V420.8M384.3 410.5V420.8M385.7 410.5V420.8M387.6 410.5V420.8M389.9 410.5V420.8M392.5 410.5V420.8M396.1 410.5V420.8M396.8 410.5V420.8M397.9 410.5V420.8M398.8 410.5V420.8M402.0 410.5V420.8M403.4 410.5V420.8M409.8 410.5V420.8M412.6 410.5V420.8M414.7 410.5V420.8M416.2 410.5V420.8M418.2 410.5V420.8M422.3 410.5V420.8M425.2 410.5V420.8M426.1 410.5V420.8M429.0 410.5V420.8M429.8 410.5V420.8M430.7 410.5V420.8M431.4 410.5V420.8M434.2 410.5V420.8M434.9 410.5V420.8M438.9 410.5V420.8M441.7 410.5V420.8M443.8 410.5V420.8M445.5 410.5V420.8M447.5 410.5V420.8M450.7 410.5V420.8M454.3 410.5V420.8M455.1 410.5V420.8M463.7 410.5V420.8M470.9 410.5V420.8M473.0 410.5V420.8M480.1 410.5V420.8M481.0 410.5V420.8M481.8 410.5V420.8M484.6 410.5V420.8M485.3 410.5V420.8" stroke="#5f80bf" stroke-width="0.85"/>
<path d="M313.4 410.5V420.8M315.9 410.5V420.8M318.2 410.5V420.8M321.1 410.5V420.8M322.1 410.5V420.8M323.5 410.5V420.8M327.0 410.5V420.8M337.1 410.5V420.8M342.0 410.5V420.8M351.1 410.5V420.8M352.5 410.5V420.8M355.7 410.5V420.8M356.8 410.5V420.8M361.2 410.5V420.8M369.7 410.5V420.8M372.2 410.5V420.8M376.0 410.5V420.8M378.1 410.5V420.8M381.3 410.5V420.8M394.0 410.5V420.8M400.9 410.5V420.8M408.3 410.5V420.8M413.6 410.5V420.8M419.4 410.5V420.8M420.9 410.5V420.8M423.1 410.5V420.8M432.9 410.5V420.8M440.9 410.5V420.8M446.8 410.5V420.8M448.8 410.5V420.8M452.0 410.5V420.8M453.3 410.5V420.8M457.4 410.5V420.8M462.8 410.5V420.8M465.1 410.5V420.8M469.9 410.5V420.8M472.3 410.5V420.8M473.7 410.5V420.8M476.7 410.5V420.8M479.1 410.5V420.8" stroke="#34569f" stroke-width="0.85"/>
<path d="M324.9 410.5V420.8M328.4 410.5V420.8M332.0 410.5V420.8M332.8 410.5V420.8M336.1 410.5V420.8M342.8 410.5V420.8M344.6 410.5V420.8M348.6 410.5V420.8M350.1 410.5V420.8M367.6 410.5V420.8M391.0 410.5V420.8M399.7 410.5V420.8M404.5 410.5V420.8M405.8 410.5V420.8M427.0 410.5V420.8M427.8 410.5V420.8M436.1 410.5V420.8M442.9 410.5V420.8M444.8 410.5V420.8M456.0 410.5V420.8M461.3 410.5V420.8M466.5 410.5V420.8M468.5 410.5V420.8M477.8 410.5V420.8M483.1 410.5V420.8" stroke="#9fb2da" stroke-width="0.85"/>
<rect x="311.4" y="410.5" width="175.1" height="10.3" fill="none" stroke="#3c4f7a" stroke-width="0.6"/>
<rect x="311.4" y="420.8" width="175.1" height="9.9" fill="url(#gsea)"/>
<path d="M311.4 334.4 L312.1 334.8 L312.9 335.2 L313.6 335.2 L314.3 335.6 L315.0 336.6 L315.8 336.5 L316.5 336.9 L317.2 337.3 L318.0 338.4 L318.7 339.3 L319.4 339.2 L320.2 340.1 L320.9 340.7 L321.6 341.1 L322.3 342.1 L323.1 341.9 L323.8 342.5 L324.5 342.5 L325.3 341.7 L326.0 342.1 L326.7 344.0 L327.5 343.7 L328.2 343.1 L328.9 343.8 L329.6 344.7 L330.4 345.5 L331.1 345.2 L331.8 345.3 L332.6 345.4 L333.3 346.5 L334.0 346.4 L334.7 347.5 L335.5 347.8 L336.2 348.4 L336.9 348.5 L337.7 349.4 L338.4 350.4 L339.1 351.0 L339.9 351.7 L340.6 352.2 L341.3 352.7 L342.0 352.7 L342.8 352.7 L343.5 352.4 L344.2 352.9 L345.0 353.9 L345.7 354.2 L346.4 354.2 L347.1 355.4 L347.9 354.8 L348.6 355.4 L349.3 356.5 L350.1 357.1 L350.8 358.6 L351.5 358.2 L352.3 358.6 L353.0 357.9 L353.7 358.5 L354.4 359.0 L355.2 359.5 L355.9 358.6 L356.6 359.3 L357.4 359.9 L358.1 360.2 L358.8 360.2 L359.6 360.2 L360.3 360.4 L361.0 360.9 L361.7 361.3 L362.5 361.1 L363.2 360.5 L363.9 361.1 L364.7 361.5 L365.4 362.1 L366.1 362.1 L366.8 362.2 L367.6 362.9 L368.3 363.1 L369.0 362.9 L369.8 362.9 L370.5 363.3 L371.2 363.4 L372.0 363.4 L372.7 364.0 L373.4 365.0 L374.1 364.9 L374.9 365.1 L375.6 365.4 L376.3 365.8 L377.1 366.6 L377.8 367.6 L378.5 368.2 L379.3 369.1 L380.0 368.8 L380.7 369.1 L381.4 369.8 L382.2 370.3 L382.9 370.5 L383.6 370.3 L384.4 370.8 L385.1 372.1 L385.8 372.5 L386.5 373.0 L387.3 373.5 L388.0 373.4 L388.7 373.6 L389.5 374.6 L390.2 375.0 L390.9 375.6 L391.7 377.1 L392.4 377.0 L393.1 377.1 L393.8 378.1 L394.6 377.7 L395.3 377.0 L396.0 376.8 L396.8 377.4 L397.5 378.4 L398.2 380.2 L398.9 380.8 L399.7 381.1 L400.4 381.8 L401.1 381.4 L401.9 382.2 L402.6 383.1 L403.3 383.2 L404.1 383.8 L404.8 384.1 L405.5 384.3 L406.2 385.2 L407.0 384.6 L407.7 385.4 L408.4 386.3 L409.2 386.8 L409.9 386.9 L410.6 387.7 L411.4 388.6 L412.1 388.7 L412.8 388.6 L413.5 388.8 L414.3 389.9 L415.0 390.6 L415.7 391.7 L416.5 392.4 L417.2 392.3 L417.9 392.8 L418.6 392.8 L419.4 393.7 L420.1 394.0 L420.8 394.6 L421.6 394.7 L422.3 394.8 L423.0 395.8 L423.8 396.3 L424.5 396.7 L425.2 397.0 L425.9 396.7 L426.7 398.1 L427.4 398.1 L428.1 398.8 L428.9 398.8 L429.6 400.6 L430.3 400.7 L431.1 401.7 L431.8 402.1 L432.5 402.5 L433.2 402.1 L434.0 402.4 L434.7 403.9 L435.4 404.6 L436.2 404.7 L436.9 404.1 L437.6 405.4 L438.3 405.1 L439.1 404.8 L439.8 405.3 L440.5 406.4 L441.3 405.2 L442.0 405.8 L442.7 405.7 L443.5 404.0 L444.2 405.0 L444.9 404.8 L445.6 404.9 L446.4 405.2 L447.1 405.9 L447.8 405.2 L448.6 405.2 L449.3 404.7 L450.0 404.6 L450.8 405.3 L451.5 404.9 L452.2 405.5 L452.9 404.0 L453.7 404.6 L454.4 403.3 L455.1 404.3 L455.9 404.2 L456.6 403.1 L457.3 403.6 L458.0 402.3 L458.8 401.5 L459.5 400.9 L460.2 400.0 L461.0 399.2 L461.7 397.7 L462.4 396.4 L463.2 395.7 L463.9 394.8 L464.6 393.4 L465.3 392.3 L466.1 391.5 L466.8 390.8 L467.5 389.9 L468.3 388.8 L469.0 388.0 L469.7 386.5 L470.4 385.9 L471.2 384.0 L471.9 383.0 L472.6 381.2 L473.4 379.9 L474.1 378.8 L474.8 377.7 L475.6 375.3 L476.3 373.1 L477.0 373.0 L477.7 370.9 L478.5 368.0 L479.2 366.5 L479.9 363.6 L480.7 361.4 L481.4 359.5 L482.1 357.7 L482.9 353.5 L483.6 350.6 L484.3 346.3 L485.0 342.3 L485.8 338.4 L486.5 334.4" fill="none" stroke="#74c12e" stroke-width="2.0" stroke-linejoin="round"/>
<text x="415.3" y="350.7" font-size="8.9" fill="#231f20" textLength="50.6" lengthAdjust="spacingAndGlyphs">NES: &#8722;2.040</text>
<text x="415.3" y="359.6" font-size="8.9" fill="#231f20" textLength="36.8" lengthAdjust="spacingAndGlyphs"><tspan font-style="italic">P</tspan>: &lt;1×10</text>
<text x="452.4" y="356.2" font-size="6.0" fill="#231f20" textLength="6.2" lengthAdjust="spacingAndGlyphs">&#8722;3</text>
<text x="415.3" y="368.5" font-size="8.9" fill="#231f20" textLength="47.7" lengthAdjust="spacingAndGlyphs">FDR: &lt;1×10</text>
<text x="463.3" y="365.1" font-size="6.0" fill="#231f20" textLength="6.2" lengthAdjust="spacingAndGlyphs">&#8722;3</text>
<rect x="510.2" y="331.5" width="174.1" height="89.7" fill="none" stroke="#8c8c8c" stroke-width="0.8"/>
<line x1="510.2" y1="407.3" x2="684.3" y2="407.3" stroke="#cfcfcf" stroke-width="0.8"/>
<line x1="506.7" y1="344.45" x2="510.2" y2="344.45" stroke="#8c8c8c" stroke-width="0.7"/>
<text x="505.2" y="347.15" font-size="7.6" text-anchor="end" fill="#333" >0.3</text>
<line x1="506.7" y1="365.4" x2="510.2" y2="365.4" stroke="#8c8c8c" stroke-width="0.7"/>
<text x="505.2" y="368.1" font-size="7.6" text-anchor="end" fill="#333" >0.2</text>
<line x1="506.7" y1="386.35" x2="510.2" y2="386.35" stroke="#8c8c8c" stroke-width="0.7"/>
<text x="505.2" y="389.05" font-size="7.6" text-anchor="end" fill="#333" >0.1</text>
<line x1="506.7" y1="407.3" x2="510.2" y2="407.3" stroke="#8c8c8c" stroke-width="0.7"/>
<text x="505.2" y="410" font-size="7.6" text-anchor="end" fill="#333" >0</text>
<rect x="510.2" y="411.4" width="174.1" height="9.8" fill="#ffffff"/>
<path d="M511.0 411.4V421.2M512.0 411.4V421.2M517.4 411.4V421.2M519.7 411.4V421.2M530.4 411.4V421.2M531.8 411.4V421.2M537.4 411.4V421.2M538.4 411.4V421.2M541.7 411.4V421.2M542.4 411.4V421.2M551.2 411.4V421.2M554.6 411.4V421.2M566.6 411.4V421.2M576.1 411.4V421.2M580.4 411.4V421.2M581.2 411.4V421.2M583.6 411.4V421.2M586.3 411.4V421.2M592.5 411.4V421.2M599.0 411.4V421.2M604.2 411.4V421.2M613.9 411.4V421.2M614.8 411.4V421.2M630.7 411.4V421.2M639.1 411.4V421.2M643.7 411.4V421.2M644.9 411.4V421.2M646.3 411.4V421.2M656.7 411.4V421.2M666.3 411.4V421.2M667.4 411.4V421.2M674.1 411.4V421.2" stroke="#34569f" stroke-width="0.85"/>
<path d="M513.3 411.4V421.2M520.7 411.4V421.2M524.3 411.4V421.2M525.6 411.4V421.2M528.5 411.4V421.2M532.7 411.4V421.2M535.4 411.4V421.2M536.4 411.4V421.2M540.0 411.4V421.2M540.9 411.4V421.2M545.9 411.4V421.2M552.5 411.4V421.2M556.4 411.4V421.2M558.8 411.4V421.2M559.9 411.4V421.2M560.8 411.4V421.2M561.5 411.4V421.2M565.6 411.4V421.2M568.7 411.4V421.2M574.7 411.4V421.2M576.9 411.4V421.2M578.1 411.4V421.2M579.6 411.4V421.2M582.2 411.4V421.2M587.3 411.4V421.2M588.1 411.4V421.2M590.8 411.4V421.2M591.5 411.4V421.2M595.2 411.4V421.2M597.6 411.4V421.2M600.8 411.4V421.2M605.6 411.4V421.2M607.0 411.4V421.2M613.0 411.4V421.2M618.0 411.4V421.2M621.3 411.4V421.2M622.2 411.4V421.2M623.5 411.4V421.2M625.4 411.4V421.2M627.8 411.4V421.2M628.6 411.4V421.2M629.9 411.4V421.2M632.1 411.4V421.2M635.6 411.4V421.2M637.0 411.4V421.2M639.9 411.4V421.2M641.9 411.4V421.2M649.5 411.4V421.2M651.0 411.4V421.2M654.6 411.4V421.2M655.7 411.4V421.2M658.7 411.4V421.2M660.9 411.4V421.2M662.9 411.4V421.2M668.3 411.4V421.2M669.2 411.4V421.2M672.9 411.4V421.2M679.8 411.4V421.2M683.3 411.4V421.2" stroke="#5f80bf" stroke-width="0.85"/>
<path d="M514.5 411.4V421.2M515.7 411.4V421.2M518.4 411.4V421.2M533.9 411.4V421.2M543.4 411.4V421.2M544.6 411.4V421.2M547.2 411.4V421.2M549.3 411.4V421.2M553.4 411.4V421.2M557.5 411.4V421.2M562.3 411.4V421.2M563.8 411.4V421.2M564.9 411.4V421.2M570.1 411.4V421.2M570.9 411.4V421.2M572.1 411.4V421.2M573.5 411.4V421.2M584.9 411.4V421.2M589.5 411.4V421.2M593.8 411.4V421.2M603.3 411.4V421.2M609.3 411.4V421.2M610.6 411.4V421.2M615.9 411.4V421.2M620.4 411.4V421.2M626.7 411.4V421.2M634.3 411.4V421.2M653.7 411.4V421.2M657.9 411.4V421.2M665.4 411.4V421.2M670.4 411.4V421.2M681.2 411.4V421.2M682.2 411.4V421.2" stroke="#9fb2da" stroke-width="0.85"/>
<rect x="510.2" y="411.4" width="174.1" height="9.8" fill="none" stroke="#3c4f7a" stroke-width="0.6"/>
<rect x="510.2" y="421.2" width="174.1" height="9.8" fill="url(#gsea)"/>
<path d="M510.2 407.3 L510.9 403.8 L511.7 399.5 L512.4 393.7 L513.1 387.9 L513.8 383.0 L514.6 379.9 L515.3 377.3 L516.0 375.6 L516.7 376.3 L517.5 377.8 L518.2 379.1 L518.9 379.5 L519.6 379.5 L520.4 379.3 L521.1 378.5 L521.8 377.8 L522.5 375.9 L523.3 373.9 L524.0 370.3 L524.7 366.9 L525.4 363.9 L526.2 361.4 L526.9 356.8 L527.6 352.4 L528.3 349.0 L529.1 349.7 L529.8 348.9 L530.5 347.8 L531.2 347.7 L532.0 346.0 L532.7 346.7 L533.4 345.9 L534.1 348.2 L534.9 349.5 L535.6 348.6 L536.3 348.3 L537.0 346.7 L537.8 343.5 L538.5 342.5 L539.2 340.8 L539.9 340.5 L540.7 339.1 L541.4 339.7 L542.1 339.2 L542.8 339.4 L543.6 339.5 L544.3 338.5 L545.0 338.3 L545.7 337.2 L546.5 337.9 L547.2 337.8 L547.9 337.3 L548.6 337.8 L549.4 338.2 L550.1 338.0 L550.8 336.1 L551.5 336.3 L552.3 336.0 L553.0 335.4 L553.7 335.8 L554.5 336.8 L555.2 335.9 L555.9 334.5 L556.6 335.7 L557.4 336.3 L558.1 334.7 L558.8 334.3 L559.5 333.8 L560.3 335.7 L561.0 334.9 L561.7 335.2 L562.4 336.4 L563.2 335.8 L563.9 336.5 L564.6 336.7 L565.3 336.5 L566.1 337.0 L566.8 336.8 L567.5 337.3 L568.2 338.2 L569.0 337.6 L569.7 338.9 L570.4 339.7 L571.1 339.9 L571.9 341.4 L572.6 341.2 L573.3 340.5 L574.0 340.1 L574.8 342.2 L575.5 342.6 L576.2 343.9 L576.9 344.1 L577.7 345.5 L578.4 344.9 L579.1 345.8 L579.8 346.9 L580.6 348.9 L581.3 350.1 L582.0 351.0 L582.7 350.8 L583.5 351.2 L584.2 352.1 L584.9 354.4 L585.6 354.3 L586.4 355.9 L587.1 356.1 L587.8 357.2 L588.5 358.4 L589.3 359.4 L590.0 360.0 L590.7 361.2 L591.4 362.2 L592.2 363.3 L592.9 364.7 L593.6 364.0 L594.3 366.7 L595.1 366.2 L595.8 364.7 L596.5 366.8 L597.2 367.4 L598.0 369.9 L598.7 369.7 L599.4 369.1 L600.2 370.9 L600.9 372.0 L601.6 372.6 L602.3 373.3 L603.1 373.4 L603.8 375.0 L604.5 376.4 L605.2 375.0 L606.0 376.9 L606.7 378.5 L607.4 379.5 L608.1 380.9 L608.9 381.6 L609.6 382.0 L610.3 383.8 L611.0 385.5 L611.8 386.6 L612.5 386.0 L613.2 385.9 L613.9 386.2 L614.7 387.8 L615.4 388.6 L616.1 388.3 L616.8 389.8 L617.6 390.8 L618.3 388.7 L619.0 389.7 L619.7 389.5 L620.5 390.0 L621.2 388.9 L621.9 389.5 L622.6 390.2 L623.4 389.7 L624.1 392.4 L624.8 391.6 L625.5 392.0 L626.3 391.8 L627.0 391.4 L627.7 390.1 L628.4 390.9 L629.2 391.8 L629.9 391.4 L630.6 392.0 L631.3 392.4 L632.1 393.5 L632.8 392.6 L633.5 393.4 L634.2 392.4 L635.0 392.5 L635.7 392.3 L636.4 393.2 L637.1 392.7 L637.9 393.5 L638.6 393.6 L639.3 392.7 L640.0 392.5 L640.8 391.7 L641.5 391.1 L642.2 391.9 L643.0 392.1 L643.7 392.7 L644.4 393.3 L645.1 392.4 L645.9 392.7 L646.6 392.9 L647.3 392.9 L648.0 393.7 L648.8 395.0 L649.5 396.6 L650.2 396.0 L650.9 395.2 L651.7 395.9 L652.4 395.2 L653.1 395.5 L653.8 396.3 L654.6 396.8 L655.3 395.7 L656.0 397.1 L656.7 396.8 L657.5 397.8 L658.2 398.6 L658.9 398.0 L659.6 398.7 L660.4 398.5 L661.1 400.1 L661.8 400.8 L662.5 400.9 L663.3 401.5 L664.0 401.6 L664.7 401.8 L665.4 401.8 L666.2 402.8 L666.9 402.8 L667.6 402.8 L668.3 402.4 L669.1 402.5 L669.8 402.8 L670.5 401.6 L671.2 401.0 L672.0 401.1 L672.7 402.1 L673.4 404.0 L674.1 403.8 L674.9 404.8 L675.6 402.8 L676.3 403.4 L677.0 404.8 L677.8 406.4 L678.5 405.2 L679.2 404.5 L679.9 403.7 L680.7 405.4 L681.4 406.1 L682.1 406.5 L682.8 406.4 L683.6 406.3 L684.3 406.5" fill="none" stroke="#74c12e" stroke-width="2.0" stroke-linejoin="round"/>
<text x="627.7" y="348.3" font-size="8.9" fill="#231f20" textLength="44.6" lengthAdjust="spacingAndGlyphs">NES: 1.489</text>
<text x="627.7" y="357.2" font-size="8.9" fill="#231f20" textLength="36.8" lengthAdjust="spacingAndGlyphs"><tspan font-style="italic">P</tspan>: &lt;1×10</text>
<text x="664.8" y="353.8" font-size="6.0" fill="#231f20" textLength="6.2" lengthAdjust="spacingAndGlyphs">&#8722;3</text>
<text x="627.7" y="366.1" font-size="8.9" fill="#231f20" textLength="42" lengthAdjust="spacingAndGlyphs">FDR: 1×10</text>
<text x="670" y="362.7" font-size="6.0" fill="#231f20" textLength="6.2" lengthAdjust="spacingAndGlyphs">&#8722;3</text>
<rect x="311.4" y="439.4" width="170.9" height="89" fill="none" stroke="#8c8c8c" stroke-width="0.8"/>
<line x1="311.4" y1="443.3" x2="482.3" y2="443.3" stroke="#cfcfcf" stroke-width="0.8"/>
<line x1="307.9" y1="443.3" x2="311.4" y2="443.3" stroke="#8c8c8c" stroke-width="0.7"/>
<text x="306.4" y="446" font-size="7.6" text-anchor="end" fill="#333" >0</text>
<line x1="307.9" y1="468.15" x2="311.4" y2="468.15" stroke="#8c8c8c" stroke-width="0.7"/>
<text x="306.4" y="470.85" font-size="7.6" text-anchor="end" fill="#333" >&#8722;0.2</text>
<line x1="307.9" y1="493" x2="311.4" y2="493" stroke="#8c8c8c" stroke-width="0.7"/>
<text x="306.4" y="495.7" font-size="7.6" text-anchor="end" fill="#333" >&#8722;0.4</text>
<rect x="311.4" y="518.1" width="170.9" height="10.3" fill="#ffffff"/>
<path d="M312.2 518.1V528.4M321.5 518.1V528.4M330.3 518.1V528.4M339.1 518.1V528.4M340.1 518.1V528.4M355.3 518.1V528.4M357.1 518.1V528.4M358.4 518.1V528.4M361.9 518.1V528.4M365.0 518.1V528.4M369.1 518.1V528.4M389.2 518.1V528.4M390.4 518.1V528.4M397.0 518.1V528.4M408.0 518.1V528.4M410.0 518.1V528.4M418.8 518.1V528.4M420.7 518.1V528.4M428.0 518.1V528.4M429.4 518.1V528.4M439.4 518.1V528.4M445.2 518.1V528.4M448.9 518.1V528.4M450.9 518.1V528.4M461.7 518.1V528.4M464.3 518.1V528.4M465.1 518.1V528.4M468.7 518.1V528.4M470.0 518.1V528.4M472.0 518.1V528.4M477.0 518.1V528.4M478.3 518.1V528.4M479.3 518.1V528.4M481.4 518.1V528.4" stroke="#34569f" stroke-width="0.85"/>
<path d="M315.9 518.1V528.4M317.2 518.1V528.4M324.6 518.1V528.4M325.4 518.1V528.4M335.5 518.1V528.4M343.8 518.1V528.4M349.7 518.1V528.4M351.0 518.1V528.4M353.8 518.1V528.4M360.5 518.1V528.4M364.2 518.1V528.4M366.4 518.1V528.4M367.8 518.1V528.4M372.3 518.1V528.4M383.2 518.1V528.4M384.0 518.1V528.4M391.3 518.1V528.4M394.0 518.1V528.4M398.3 518.1V528.4M401.4 518.1V528.4M402.8 518.1V528.4M413.1 518.1V528.4M413.9 518.1V528.4M415.5 518.1V528.4M425.5 518.1V528.4M426.6 518.1V528.4M432.9 518.1V528.4M435.4 518.1V528.4M442.9 518.1V528.4M443.7 518.1V528.4M444.4 518.1V528.4M446.3 518.1V528.4M449.7 518.1V528.4M453.0 518.1V528.4M454.3 518.1V528.4M455.7 518.1V528.4M456.6 518.1V528.4M458.5 518.1V528.4M460.9 518.1V528.4M462.8 518.1V528.4M471.0 518.1V528.4M473.2 518.1V528.4M475.9 518.1V528.4" stroke="#5f80bf" stroke-width="0.85"/>
<path d="M319.2 518.1V528.4M327.5 518.1V528.4M333.1 518.1V528.4M336.9 518.1V528.4M341.4 518.1V528.4M345.7 518.1V528.4M348.3 518.1V528.4M374.0 518.1V528.4M375.8 518.1V528.4M376.9 518.1V528.4M379.6 518.1V528.4M380.8 518.1V528.4M385.4 518.1V528.4M387.7 518.1V528.4M392.6 518.1V528.4M395.2 518.1V528.4M396.2 518.1V528.4M400.4 518.1V528.4M403.6 518.1V528.4M405.5 518.1V528.4M411.1 518.1V528.4M414.6 518.1V528.4M422.0 518.1V528.4M423.2 518.1V528.4M431.6 518.1V528.4M434.3 518.1V528.4M440.3 518.1V528.4M447.6 518.1V528.4M451.7 518.1V528.4M457.4 518.1V528.4M465.9 518.1V528.4M474.5 518.1V528.4M480.0 518.1V528.4" stroke="#9fb2da" stroke-width="0.85"/>
<rect x="311.4" y="518.1" width="170.9" height="10.3" fill="none" stroke="#3c4f7a" stroke-width="0.6"/>
<rect x="311.4" y="528.4" width="170.9" height="9.6" fill="url(#gsea)"/>
<path d="M311.4 443.3 L312.1 443.7 L312.8 444.2 L313.5 444.5 L314.2 444.3 L315.0 444.3 L315.7 444.1 L316.4 444.8 L317.1 446.2 L317.8 447.6 L318.5 447.3 L319.2 447.5 L319.9 448.0 L320.7 448.2 L321.4 449.9 L322.1 449.8 L322.8 450.2 L323.5 450.6 L324.2 451.6 L324.9 452.1 L325.6 452.4 L326.4 452.8 L327.1 453.5 L327.8 453.2 L328.5 454.0 L329.2 454.5 L329.9 454.7 L330.6 455.1 L331.3 455.2 L332.1 456.0 L332.8 456.1 L333.5 456.5 L334.2 456.9 L334.9 457.0 L335.6 457.2 L336.3 457.9 L337.0 458.9 L337.7 459.8 L338.5 460.3 L339.2 460.7 L339.9 461.5 L340.6 461.1 L341.3 461.8 L342.0 461.3 L342.7 461.9 L343.4 462.2 L344.2 462.4 L344.9 463.7 L345.6 464.3 L346.3 464.3 L347.0 465.1 L347.7 464.9 L348.4 466.2 L349.1 466.0 L349.9 467.0 L350.6 468.2 L351.3 468.7 L352.0 468.8 L352.7 469.2 L353.4 469.9 L354.1 469.6 L354.8 469.9 L355.5 470.3 L356.3 470.7 L357.0 471.3 L357.7 470.7 L358.4 471.8 L359.1 472.8 L359.8 473.4 L360.5 473.8 L361.2 474.3 L362.0 474.6 L362.7 474.3 L363.4 475.3 L364.1 476.0 L364.8 475.8 L365.5 476.6 L366.2 476.1 L366.9 476.1 L367.7 477.5 L368.4 476.9 L369.1 476.9 L369.8 477.6 L370.5 477.9 L371.2 479.0 L371.9 478.9 L372.6 478.9 L373.4 479.0 L374.1 479.0 L374.8 480.0 L375.5 480.4 L376.2 481.1 L376.9 481.6 L377.6 481.6 L378.3 482.7 L379.0 482.1 L379.8 482.3 L380.5 482.9 L381.2 483.9 L381.9 484.3 L382.6 484.0 L383.3 484.5 L384.0 484.7 L384.7 485.0 L385.5 485.2 L386.2 485.3 L386.9 485.4 L387.6 485.8 L388.3 486.5 L389.0 487.0 L389.7 487.7 L390.4 488.6 L391.2 488.8 L391.9 489.7 L392.6 489.9 L393.3 489.9 L394.0 489.9 L394.7 491.0 L395.4 491.2 L396.1 491.4 L396.9 492.6 L397.6 493.5 L398.3 493.5 L399.0 494.6 L399.7 494.3 L400.4 494.5 L401.1 494.7 L401.8 494.7 L402.5 495.0 L403.3 495.5 L404.0 496.1 L404.7 497.1 L405.4 497.5 L406.1 498.3 L406.8 498.6 L407.5 499.2 L408.2 499.5 L409.0 499.9 L409.7 500.4 L410.4 500.9 L411.1 501.5 L411.8 502.3 L412.5 502.1 L413.2 502.8 L413.9 502.8 L414.7 504.0 L415.4 504.7 L416.1 504.2 L416.8 505.1 L417.5 505.6 L418.2 505.9 L418.9 505.9 L419.6 506.7 L420.3 506.8 L421.1 508.1 L421.8 507.3 L422.5 507.0 L423.2 506.6 L423.9 507.5 L424.6 508.1 L425.3 508.6 L426.0 508.9 L426.8 509.6 L427.5 509.6 L428.2 509.5 L428.9 510.7 L429.6 509.7 L430.3 509.7 L431.0 509.9 L431.7 510.5 L432.5 510.4 L433.2 510.6 L433.9 510.8 L434.6 511.2 L435.3 511.9 L436.0 512.1 L436.7 512.5 L437.4 512.7 L438.2 513.1 L438.9 513.6 L439.6 512.9 L440.3 512.9 L441.0 512.1 L441.7 513.6 L442.4 513.2 L443.1 513.6 L443.8 514.2 L444.6 513.9 L445.3 514.3 L446.0 514.3 L446.7 514.4 L447.4 514.4 L448.1 514.0 L448.8 514.0 L449.5 514.2 L450.3 514.2 L451.0 513.5 L451.7 513.2 L452.4 513.5 L453.1 513.0 L453.8 512.6 L454.5 512.1 L455.2 511.8 L456.0 510.7 L456.7 510.2 L457.4 509.6 L458.1 508.9 L458.8 508.3 L459.5 508.0 L460.2 508.5 L460.9 508.3 L461.6 506.2 L462.4 505.8 L463.1 504.4 L463.8 503.2 L464.5 502.5 L465.2 500.7 L465.9 499.6 L466.6 498.5 L467.3 497.1 L468.1 496.2 L468.8 494.8 L469.5 493.4 L470.2 491.6 L470.9 489.5 L471.6 487.8 L472.3 486.1 L473.0 485.3 L473.8 484.1 L474.5 481.0 L475.2 478.8 L475.9 475.9 L476.6 472.2 L477.3 469.1 L478.0 465.7 L478.7 462.0 L479.5 458.5 L480.2 454.9 L480.9 450.5 L481.6 445.4 L482.3 440.8" fill="none" stroke="#74c12e" stroke-width="2.0" stroke-linejoin="round"/>
<text x="413.5" y="459.6" font-size="8.9" fill="#231f20" textLength="50.6" lengthAdjust="spacingAndGlyphs">NES: &#8722;2.043</text>
<text x="413.5" y="468.5" font-size="8.9" fill="#231f20" textLength="36.8" lengthAdjust="spacingAndGlyphs"><tspan font-style="italic">P</tspan>: &lt;1×10</text>
<text x="450.6" y="465.1" font-size="6.0" fill="#231f20" textLength="6.2" lengthAdjust="spacingAndGlyphs">&#8722;3</text>
<text x="413.5" y="477.4" font-size="8.9" fill="#231f20" textLength="47.7" lengthAdjust="spacingAndGlyphs">FDR: &lt;1×10</text>
<text x="461.5" y="474" font-size="6.0" fill="#231f20" textLength="6.2" lengthAdjust="spacingAndGlyphs">&#8722;3</text>
<rect x="509.9" y="439.5" width="174.4" height="89.7" fill="none" stroke="#8c8c8c" stroke-width="0.8"/>
<line x1="509.9" y1="516.1" x2="684.3" y2="516.1" stroke="#cfcfcf" stroke-width="0.8"/>
<line x1="506.4" y1="441.1" x2="509.9" y2="441.1" stroke="#8c8c8c" stroke-width="0.7"/>
<text x="504.9" y="443.8" font-size="7.6" text-anchor="end" fill="#333" >0.6</text>
<line x1="506.4" y1="466.1" x2="509.9" y2="466.1" stroke="#8c8c8c" stroke-width="0.7"/>
<text x="504.9" y="468.8" font-size="7.6" text-anchor="end" fill="#333" >0.4</text>
<line x1="506.4" y1="491.1" x2="509.9" y2="491.1" stroke="#8c8c8c" stroke-width="0.7"/>
<text x="504.9" y="493.8" font-size="7.6" text-anchor="end" fill="#333" >0.2</text>
<line x1="506.4" y1="516.1" x2="509.9" y2="516.1" stroke="#8c8c8c" stroke-width="0.7"/>
<text x="504.9" y="518.8" font-size="7.6" text-anchor="end" fill="#333" >0</text>
<rect x="509.9" y="519.7" width="174.4" height="9.5" fill="#ffffff"/>
<path d="M510.7 519.7V529.2M519.6 519.7V529.2M529.6 519.7V529.2M530.6 519.7V529.2M531.7 519.7V529.2M539.9 519.7V529.2M543.5 519.7V529.2M551.5 519.7V529.2M562.0 519.7V529.2M564.4 519.7V529.2M565.6 519.7V529.2M576.3 519.7V529.2M577.0 519.7V529.2M595.0 519.7V529.2M598.4 519.7V529.2M601.1 519.7V529.2M603.7 519.7V529.2M605.5 519.7V529.2M614.0 519.7V529.2M616.8 519.7V529.2M621.7 519.7V529.2M626.2 519.7V529.2M637.5 519.7V529.2M643.9 519.7V529.2M650.2 519.7V529.2" stroke="#9fb2da" stroke-width="0.85"/>
<path d="M513.1 519.7V529.2M514.4 519.7V529.2M517.6 519.7V529.2M522.4 519.7V529.2M523.5 519.7V529.2M524.9 519.7V529.2M525.7 519.7V529.2M526.7 519.7V529.2M527.6 519.7V529.2M528.3 519.7V529.2M532.6 519.7V529.2M533.7 519.7V529.2M535.2 519.7V529.2M537.8 519.7V529.2M542.5 519.7V529.2M544.6 519.7V529.2M545.4 519.7V529.2M546.9 519.7V529.2M548.1 519.7V529.2M554.1 519.7V529.2M555.6 519.7V529.2M557.1 519.7V529.2M558.0 519.7V529.2M559.1 519.7V529.2M566.9 519.7V529.2M569.2 519.7V529.2M572.4 519.7V529.2M573.6 519.7V529.2M575.1 519.7V529.2M578.5 519.7V529.2M579.7 519.7V529.2M581.6 519.7V529.2M582.4 519.7V529.2M583.4 519.7V529.2M584.8 519.7V529.2M585.8 519.7V529.2M586.8 519.7V529.2M587.6 519.7V529.2M588.9 519.7V529.2M589.7 519.7V529.2M590.7 519.7V529.2M592.0 519.7V529.2M593.2 519.7V529.2M596.3 519.7V529.2M597.0 519.7V529.2M602.6 519.7V529.2M604.7 519.7V529.2M606.6 519.7V529.2M608.1 519.7V529.2M618.6 519.7V529.2M622.9 519.7V529.2M625.3 519.7V529.2M627.4 519.7V529.2M631.3 519.7V529.2M634.5 519.7V529.2M636.7 519.7V529.2M639.4 519.7V529.2M642.3 519.7V529.2M644.7 519.7V529.2M647.0 519.7V529.2M648.4 519.7V529.2M651.2 519.7V529.2M653.6 519.7V529.2M680.1 519.7V529.2" stroke="#5f80bf" stroke-width="0.85"/>
<path d="M515.7 519.7V529.2M518.5 519.7V529.2M521.0 519.7V529.2M536.4 519.7V529.2M541.2 519.7V529.2M546.1 519.7V529.2M549.5 519.7V529.2M550.3 519.7V529.2M552.8 519.7V529.2M560.5 519.7V529.2M568.0 519.7V529.2M570.5 519.7V529.2M571.2 519.7V529.2M580.9 519.7V529.2M599.4 519.7V529.2M600.4 519.7V529.2M609.1 519.7V529.2M610.4 519.7V529.2M611.8 519.7V529.2M613.2 519.7V529.2M617.9 519.7V529.2M635.6 519.7V529.2M643.2 519.7V529.2M649.1 519.7V529.2M658.8 519.7V529.2M665.1 519.7V529.2M671.1 519.7V529.2" stroke="#34569f" stroke-width="0.85"/>
<rect x="509.9" y="519.7" width="174.4" height="9.5" fill="none" stroke="#3c4f7a" stroke-width="0.6"/>
<rect x="509.9" y="529.2" width="174.4" height="9.6" fill="url(#gsea)"/>
<path d="M509.9 516.1 L510.6 507.9 L511.4 501.4 L512.1 499.5 L512.8 498.0 L513.5 498.0 L514.3 497.5 L515.0 496.5 L515.7 494.8 L516.4 492.6 L517.2 487.8 L517.9 482.0 L518.6 478.0 L519.3 476.4 L520.1 474.5 L520.8 473.3 L521.5 472.0 L522.3 471.3 L523.0 471.1 L523.7 469.8 L524.4 467.9 L525.2 466.8 L525.9 465.9 L526.6 465.6 L527.3 463.6 L528.1 463.0 L528.8 461.7 L529.5 460.5 L530.2 458.9 L531.0 458.5 L531.7 457.6 L532.4 456.2 L533.2 455.4 L533.9 454.8 L534.6 455.0 L535.3 454.2 L536.1 453.5 L536.8 452.1 L537.5 452.3 L538.2 451.6 L539.0 450.4 L539.7 449.9 L540.4 449.8 L541.1 450.4 L541.9 449.2 L542.6 449.1 L543.3 448.2 L544.1 448.3 L544.8 447.5 L545.5 447.1 L546.2 447.0 L547.0 447.0 L547.7 446.3 L548.4 445.1 L549.1 445.3 L549.9 445.2 L550.6 444.6 L551.3 444.5 L552.0 444.4 L552.8 444.3 L553.5 444.2 L554.2 444.2 L555.0 443.3 L555.7 443.7 L556.4 444.2 L557.1 443.8 L557.9 443.2 L558.6 443.1 L559.3 443.6 L560.0 444.1 L560.8 444.0 L561.5 443.4 L562.2 444.2 L562.9 443.9 L563.7 444.3 L564.4 444.3 L565.1 445.2 L565.9 444.2 L566.6 444.1 L567.3 444.8 L568.0 444.8 L568.8 445.4 L569.5 446.0 L570.2 445.2 L570.9 445.9 L571.7 445.2 L572.4 446.0 L573.1 446.9 L573.8 446.9 L574.6 446.5 L575.3 447.2 L576.0 447.0 L576.8 447.3 L577.5 447.8 L578.2 448.2 L578.9 447.9 L579.7 448.0 L580.4 448.8 L581.1 449.4 L581.8 449.7 L582.6 450.8 L583.3 451.4 L584.0 451.0 L584.7 451.2 L585.5 451.5 L586.2 452.3 L586.9 453.3 L587.7 453.7 L588.4 454.1 L589.1 454.1 L589.8 454.2 L590.6 454.3 L591.3 455.0 L592.0 455.9 L592.7 455.9 L593.5 455.9 L594.2 456.5 L594.9 457.0 L595.6 457.3 L596.4 457.7 L597.1 458.4 L597.8 459.0 L598.6 459.1 L599.3 459.4 L600.0 460.9 L600.7 461.4 L601.5 462.0 L602.2 462.1 L602.9 462.3 L603.6 463.1 L604.4 464.1 L605.1 463.2 L605.8 464.3 L606.5 463.9 L607.3 463.8 L608.0 464.2 L608.7 464.8 L609.5 465.7 L610.2 464.8 L610.9 465.7 L611.6 466.1 L612.4 466.9 L613.1 467.6 L613.8 468.1 L614.5 468.6 L615.3 468.6 L616.0 468.3 L616.7 469.5 L617.4 469.5 L618.2 470.2 L618.9 470.6 L619.6 470.8 L620.4 470.9 L621.1 470.8 L621.8 471.2 L622.5 471.9 L623.3 472.4 L624.0 472.1 L624.7 472.8 L625.4 473.8 L626.2 474.5 L626.9 474.7 L627.6 476.1 L628.3 476.0 L629.1 476.3 L629.8 477.1 L630.5 478.2 L631.3 478.4 L632.0 478.2 L632.7 479.1 L633.4 479.3 L634.2 479.7 L634.9 481.0 L635.6 482.2 L636.3 483.2 L637.1 482.8 L637.8 483.7 L638.5 483.8 L639.2 484.5 L640.0 484.8 L640.7 485.8 L641.4 485.9 L642.2 486.8 L642.9 488.4 L643.6 489.2 L644.3 490.0 L645.1 490.6 L645.8 491.2 L646.5 491.5 L647.2 492.6 L648.0 492.8 L648.7 493.4 L649.4 493.9 L650.1 495.1 L650.9 496.0 L651.6 496.2 L652.3 497.2 L653.1 497.0 L653.8 497.4 L654.5 498.4 L655.2 497.9 L656.0 498.7 L656.7 498.7 L657.4 499.9 L658.1 500.8 L658.9 501.3 L659.6 501.8 L660.3 502.2 L661.0 501.9 L661.8 502.0 L662.5 502.6 L663.2 502.4 L664.0 504.0 L664.7 504.3 L665.4 505.6 L666.1 505.8 L666.9 505.6 L667.6 506.0 L668.3 506.3 L669.0 506.7 L669.8 507.1 L670.5 507.6 L671.2 507.7 L671.9 508.7 L672.7 508.8 L673.4 509.2 L674.1 510.1 L674.9 511.3 L675.6 511.2 L676.3 512.1 L677.0 512.0 L677.8 511.4 L678.5 512.3 L679.2 513.0 L679.9 512.7 L680.7 513.3 L681.4 514.2 L682.1 514.5 L682.8 514.9 L683.6 515.6 L684.3 516.1" fill="none" stroke="#74c12e" stroke-width="2.0" stroke-linejoin="round"/>
<text x="627.6" y="455.9" font-size="8.9" fill="#231f20" textLength="44.6" lengthAdjust="spacingAndGlyphs">NES: 2.588</text>
<text x="627.6" y="464.8" font-size="8.9" fill="#231f20" textLength="36.8" lengthAdjust="spacingAndGlyphs"><tspan font-style="italic">P</tspan>: &lt;1×10</text>
<text x="664.7" y="461.4" font-size="6.0" fill="#231f20" textLength="6.2" lengthAdjust="spacingAndGlyphs">&#8722;3</text>
<text x="627.6" y="473.7" font-size="8.9" fill="#231f20" textLength="47.7" lengthAdjust="spacingAndGlyphs">FDR: &lt;1×10</text>
<text x="675.6" y="470.3" font-size="6.0" fill="#231f20" textLength="6.2" lengthAdjust="spacingAndGlyphs">&#8722;3</text>
<rect x="311.3" y="546.3" width="167" height="86.9" fill="none" stroke="#8c8c8c" stroke-width="0.8"/>
<line x1="311.3" y1="550.1" x2="478.3" y2="550.1" stroke="#cfcfcf" stroke-width="0.8"/>
<line x1="307.8" y1="550.1" x2="311.3" y2="550.1" stroke="#8c8c8c" stroke-width="0.7"/>
<text x="306.3" y="552.8" font-size="7.6" text-anchor="end" fill="#333" >0</text>
<line x1="307.8" y1="585.6" x2="311.3" y2="585.6" stroke="#8c8c8c" stroke-width="0.7"/>
<text x="306.3" y="588.3" font-size="7.6" text-anchor="end" fill="#333" >&#8722;0.2</text>
<line x1="307.8" y1="621.1" x2="311.3" y2="621.1" stroke="#8c8c8c" stroke-width="0.7"/>
<text x="306.3" y="623.8" font-size="7.6" text-anchor="end" fill="#333" >&#8722;0.4</text>
<rect x="311.3" y="623.0" width="167" height="10.2" fill="#ffffff"/>
<path d="M314.3 623.0V633.2M315.6 623.0V633.2M319.3 623.0V633.2M325.7 623.0V633.2M326.6 623.0V633.2M342.4 623.0V633.2M347.9 623.0V633.2M356.7 623.0V633.2M359.7 623.0V633.2M360.4 623.0V633.2M362.9 623.0V633.2M366.5 623.0V633.2M368.3 623.0V633.2M372.5 623.0V633.2M373.5 623.0V633.2M384.0 623.0V633.2M391.4 623.0V633.2M393.1 623.0V633.2M397.3 623.0V633.2M399.3 623.0V633.2M400.5 623.0V633.2M405.8 623.0V633.2M411.2 623.0V633.2M412.5 623.0V633.2M417.2 623.0V633.2M422.8 623.0V633.2M427.0 623.0V633.2M435.1 623.0V633.2M436.3 623.0V633.2M441.0 623.0V633.2M446.8 623.0V633.2M451.1 623.0V633.2M452.5 623.0V633.2M458.3 623.0V633.2M463.5 623.0V633.2M470.4 623.0V633.2M475.8 623.0V633.2M476.7 623.0V633.2" stroke="#34569f" stroke-width="0.85"/>
<path d="M316.7 623.0V633.2M320.7 623.0V633.2M337.0 623.0V633.2M343.3 623.0V633.2M349.3 623.0V633.2M350.5 623.0V633.2M353.5 623.0V633.2M358.4 623.0V633.2M365.5 623.0V633.2M374.5 623.0V633.2M383.1 623.0V633.2M385.8 623.0V633.2M403.3 623.0V633.2M407.0 623.0V633.2M407.8 623.0V633.2M414.7 623.0V633.2M416.5 623.0V633.2M418.1 623.0V633.2M421.5 623.0V633.2M425.2 623.0V633.2M426.1 623.0V633.2M428.4 623.0V633.2M430.2 623.0V633.2M437.2 623.0V633.2M439.3 623.0V633.2M440.2 623.0V633.2M442.2 623.0V633.2M445.7 623.0V633.2M453.7 623.0V633.2M455.8 623.0V633.2M459.7 623.0V633.2M464.9 623.0V633.2M466.2 623.0V633.2M469.7 623.0V633.2" stroke="#9fb2da" stroke-width="0.85"/>
<path d="M323.1 623.0V633.2M324.3 623.0V633.2M327.7 623.0V633.2M330.4 623.0V633.2M331.8 623.0V633.2M332.6 623.0V633.2M333.8 623.0V633.2M335.0 623.0V633.2M336.0 623.0V633.2M338.0 623.0V633.2M339.0 623.0V633.2M344.3 623.0V633.2M346.8 623.0V633.2M351.9 623.0V633.2M357.6 623.0V633.2M367.4 623.0V633.2M370.4 623.0V633.2M371.6 623.0V633.2M375.4 623.0V633.2M376.2 623.0V633.2M377.6 623.0V633.2M379.1 623.0V633.2M379.9 623.0V633.2M380.8 623.0V633.2M382.0 623.0V633.2M385.0 623.0V633.2M387.2 623.0V633.2M388.3 623.0V633.2M396.3 623.0V633.2M401.3 623.0V633.2M402.6 623.0V633.2M404.5 623.0V633.2M408.5 623.0V633.2M409.9 623.0V633.2M415.6 623.0V633.2M419.3 623.0V633.2M424.2 623.0V633.2M429.3 623.0V633.2M431.6 623.0V633.2M432.3 623.0V633.2M444.5 623.0V633.2M447.8 623.0V633.2M450.2 623.0V633.2M455.0 623.0V633.2M457.1 623.0V633.2M460.6 623.0V633.2M461.3 623.0V633.2M467.5 623.0V633.2M468.5 623.0V633.2M471.4 623.0V633.2M472.3 623.0V633.2M473.4 623.0V633.2" stroke="#5f80bf" stroke-width="0.85"/>
<rect x="311.3" y="623.0" width="167" height="10.2" fill="none" stroke="#3c4f7a" stroke-width="0.6"/>
<rect x="311.3" y="633.2" width="167" height="9.5" fill="url(#gsea)"/>
<path d="M311.3 550.1 L312.0 550.4 L312.7 550.6 L313.4 550.6 L314.1 550.7 L314.8 551.9 L315.5 552.4 L316.2 552.1 L316.9 552.5 L317.6 552.9 L318.3 553.1 L319.0 553.4 L319.7 554.6 L320.3 555.8 L321.0 555.9 L321.7 557.3 L322.4 557.0 L323.1 557.7 L323.8 558.1 L324.5 558.6 L325.2 558.7 L325.9 559.5 L326.6 558.7 L327.3 559.3 L328.0 558.9 L328.7 559.6 L329.4 559.0 L330.1 559.7 L330.8 559.3 L331.5 559.6 L332.2 559.3 L332.9 559.5 L333.6 558.4 L334.3 559.0 L335.0 558.8 L335.7 558.8 L336.4 559.3 L337.0 558.8 L337.7 559.1 L338.4 559.0 L339.1 560.4 L339.8 560.3 L340.5 560.3 L341.2 560.1 L341.9 560.1 L342.6 560.3 L343.3 559.6 L344.0 560.5 L344.7 560.8 L345.4 559.9 L346.1 559.4 L346.8 560.6 L347.5 561.2 L348.2 562.0 L348.9 561.7 L349.6 562.3 L350.3 563.1 L351.0 563.2 L351.7 564.7 L352.4 564.5 L353.1 564.9 L353.7 566.4 L354.4 566.5 L355.1 566.7 L355.8 567.5 L356.5 568.5 L357.2 568.9 L357.9 569.1 L358.6 569.3 L359.3 568.3 L360.0 568.8 L360.7 569.9 L361.4 571.8 L362.1 571.2 L362.8 571.6 L363.5 572.7 L364.2 573.1 L364.9 573.9 L365.6 573.2 L366.3 572.9 L367.0 575.1 L367.7 574.2 L368.4 574.6 L369.1 576.1 L369.8 576.0 L370.4 577.0 L371.1 577.9 L371.8 578.2 L372.5 577.9 L373.2 578.6 L373.9 578.9 L374.6 579.2 L375.3 580.6 L376.0 581.0 L376.7 581.4 L377.4 583.0 L378.1 583.8 L378.8 583.6 L379.5 583.1 L380.2 583.8 L380.9 585.3 L381.6 585.2 L382.3 585.1 L383.0 585.7 L383.7 586.1 L384.4 586.1 L385.1 586.0 L385.8 587.1 L386.5 588.0 L387.1 589.6 L387.8 589.4 L388.5 590.5 L389.2 591.3 L389.9 591.5 L390.6 592.6 L391.3 592.7 L392.0 593.6 L392.7 595.3 L393.4 594.7 L394.1 594.8 L394.8 596.2 L395.5 596.8 L396.2 598.8 L396.9 598.1 L397.6 599.1 L398.3 598.9 L399.0 600.8 L399.7 601.3 L400.4 602.7 L401.1 603.5 L401.8 603.8 L402.5 602.7 L403.2 602.5 L403.8 604.5 L404.5 603.8 L405.2 604.5 L405.9 605.1 L406.6 604.9 L407.3 605.8 L408.0 606.6 L408.7 607.3 L409.4 608.6 L410.1 608.5 L410.8 608.1 L411.5 608.6 L412.2 609.1 L412.9 608.6 L413.6 609.9 L414.3 611.0 L415.0 611.1 L415.7 611.7 L416.4 610.7 L417.1 611.2 L417.8 610.8 L418.5 611.4 L419.2 612.1 L419.9 612.6 L420.5 613.0 L421.2 612.5 L421.9 612.7 L422.6 613.8 L423.3 614.3 L424.0 614.4 L424.7 615.0 L425.4 616.2 L426.1 615.8 L426.8 615.6 L427.5 616.9 L428.2 617.2 L428.9 617.1 L429.6 617.2 L430.3 616.6 L431.0 617.8 L431.7 618.0 L432.4 617.2 L433.1 618.0 L433.8 618.0 L434.5 618.7 L435.2 617.5 L435.9 618.8 L436.6 620.5 L437.2 620.2 L437.9 618.4 L438.6 619.0 L439.3 619.0 L440.0 618.5 L440.7 617.3 L441.4 617.4 L442.1 617.3 L442.8 617.0 L443.5 616.1 L444.2 616.5 L444.9 615.7 L445.6 617.0 L446.3 616.5 L447.0 615.6 L447.7 615.6 L448.4 615.8 L449.1 614.3 L449.8 613.2 L450.5 613.7 L451.2 612.4 L451.9 612.0 L452.6 612.1 L453.2 611.1 L453.9 610.2 L454.6 609.4 L455.3 608.8 L456.0 608.8 L456.7 608.3 L457.4 606.2 L458.1 605.9 L458.8 603.4 L459.5 603.4 L460.2 603.3 L460.9 603.0 L461.6 601.3 L462.3 600.2 L463.0 598.7 L463.7 597.8 L464.4 598.2 L465.1 596.0 L465.8 594.7 L466.5 594.6 L467.2 593.0 L467.9 591.5 L468.6 590.5 L469.3 591.0 L470.0 589.6 L470.6 588.1 L471.3 587.0 L472.0 586.0 L472.7 583.6 L473.4 581.7 L474.1 580.1 L474.8 577.4 L475.5 574.5 L476.2 570.0 L476.9 563.3 L477.6 555.9 L478.3 549.0" fill="none" stroke="#74c12e" stroke-width="2.0" stroke-linejoin="round"/>
<text x="413.8" y="563.4" font-size="8.9" fill="#231f20" textLength="50.6" lengthAdjust="spacingAndGlyphs">NES: &#8722;1.040</text>
<text x="413.8" y="572.3" font-size="8.9" fill="#231f20" textLength="36.8" lengthAdjust="spacingAndGlyphs"><tspan font-style="italic">P</tspan>: &lt;1×10</text>
<text x="450.9" y="568.9" font-size="6.0" fill="#231f20" textLength="6.2" lengthAdjust="spacingAndGlyphs">&#8722;3</text>
<text x="413.8" y="581.2" font-size="8.9" fill="#231f20" textLength="42" lengthAdjust="spacingAndGlyphs">FDR: 1×10</text>
<text x="456.1" y="577.8" font-size="6.0" fill="#231f20" textLength="6.2" lengthAdjust="spacingAndGlyphs">&#8722;3</text>
<rect x="509.9" y="547.4" width="174.4" height="89.8" fill="none" stroke="#8c8c8c" stroke-width="0.8"/>
<line x1="509.9" y1="622.8" x2="684.3" y2="622.8" stroke="#cfcfcf" stroke-width="0.8"/>
<line x1="506.4" y1="568.3" x2="509.9" y2="568.3" stroke="#8c8c8c" stroke-width="0.7"/>
<text x="504.9" y="571" font-size="7.6" text-anchor="end" fill="#333" >0.4</text>
<line x1="506.4" y1="595.55" x2="509.9" y2="595.55" stroke="#8c8c8c" stroke-width="0.7"/>
<text x="504.9" y="598.25" font-size="7.6" text-anchor="end" fill="#333" >0.2</text>
<line x1="506.4" y1="622.8" x2="509.9" y2="622.8" stroke="#8c8c8c" stroke-width="0.7"/>
<text x="504.9" y="625.5" font-size="7.6" text-anchor="end" fill="#333" >0</text>
<rect x="509.9" y="627.3" width="174.4" height="9.9" fill="#ffffff"/>
<path d="M510.7 627.3V637.2M511.6 627.3V637.2M518.3 627.3V637.2M519.6 627.3V637.2M524.6 627.3V637.2M528.0 627.3V637.2M529.0 627.3V637.2M532.9 627.3V637.2M538.5 627.3V637.2M540.6 627.3V637.2M543.6 627.3V637.2M544.5 627.3V637.2M546.0 627.3V637.2M548.1 627.3V637.2M549.5 627.3V637.2M550.5 627.3V637.2M551.7 627.3V637.2M559.7 627.3V637.2M564.7 627.3V637.2M565.7 627.3V637.2M567.5 627.3V637.2M569.8 627.3V637.2M571.8 627.3V637.2M573.0 627.3V637.2M575.0 627.3V637.2M577.1 627.3V637.2M578.2 627.3V637.2M579.5 627.3V637.2M580.9 627.3V637.2M582.0 627.3V637.2M585.5 627.3V637.2M586.6 627.3V637.2M588.6 627.3V637.2M589.9 627.3V637.2M593.1 627.3V637.2M598.8 627.3V637.2M599.9 627.3V637.2M602.6 627.3V637.2M609.5 627.3V637.2M611.8 627.3V637.2M620.4 627.3V637.2M621.7 627.3V637.2M625.1 627.3V637.2M626.0 627.3V637.2M630.2 627.3V637.2M634.5 627.3V637.2M637.9 627.3V637.2M638.7 627.3V637.2M650.7 627.3V637.2M652.9 627.3V637.2M654.3 627.3V637.2M666.3 627.3V637.2M672.1 627.3V637.2M673.1 627.3V637.2M682.8 627.3V637.2" stroke="#5f80bf" stroke-width="0.85"/>
<path d="M512.7 627.3V637.2M513.6 627.3V637.2M515.0 627.3V637.2M515.7 627.3V637.2M517.0 627.3V637.2M523.3 627.3V637.2M535.7 627.3V637.2M552.5 627.3V637.2M553.4 627.3V637.2M566.7 627.3V637.2M568.7 627.3V637.2M570.8 627.3V637.2M576.1 627.3V637.2M584.2 627.3V637.2M590.9 627.3V637.2M592.3 627.3V637.2M595.5 627.3V637.2M597.7 627.3V637.2M608.5 627.3V637.2M613.6 627.3V637.2M639.7 627.3V637.2M649.8 627.3V637.2M655.6 627.3V637.2M661.4 627.3V637.2M664.9 627.3V637.2M675.7 627.3V637.2" stroke="#9fb2da" stroke-width="0.85"/>
<path d="M521.9 627.3V637.2M525.5 627.3V637.2M530.0 627.3V637.2M534.2 627.3V637.2M537.1 627.3V637.2M539.3 627.3V637.2M541.5 627.3V637.2M542.4 627.3V637.2M554.2 627.3V637.2M555.0 627.3V637.2M556.2 627.3V637.2M557.7 627.3V637.2M558.6 627.3V637.2M561.0 627.3V637.2M562.2 627.3V637.2M563.5 627.3V637.2M573.9 627.3V637.2M582.8 627.3V637.2M587.7 627.3V637.2M594.1 627.3V637.2M601.3 627.3V637.2M603.4 627.3V637.2M605.7 627.3V637.2M610.9 627.3V637.2M612.6 627.3V637.2M616.9 627.3V637.2M624.0 627.3V637.2M627.0 627.3V637.2M632.6 627.3V637.2M646.5 627.3V637.2M647.8 627.3V637.2M651.5 627.3V637.2M660.6 627.3V637.2M663.0 627.3V637.2" stroke="#34569f" stroke-width="0.85"/>
<rect x="509.9" y="627.3" width="174.4" height="9.9" fill="none" stroke="#3c4f7a" stroke-width="0.6"/>
<rect x="509.9" y="637.2" width="174.4" height="9.5" fill="url(#gsea)"/>
<path d="M509.9 622.8 L510.6 620.6 L511.4 618.4 L512.1 616.1 L512.8 614.1 L513.5 611.9 L514.3 608.6 L515.0 605.7 L515.7 604.0 L516.4 601.8 L517.2 599.6 L517.9 596.3 L518.6 593.7 L519.3 591.7 L520.1 590.7 L520.8 589.7 L521.5 586.8 L522.3 586.4 L523.0 585.2 L523.7 583.8 L524.4 582.7 L525.2 580.9 L525.9 578.4 L526.6 576.8 L527.3 575.8 L528.1 574.3 L528.8 572.3 L529.5 570.4 L530.2 568.8 L531.0 567.2 L531.7 566.0 L532.4 565.0 L533.2 563.6 L533.9 562.6 L534.6 562.0 L535.3 561.4 L536.1 561.0 L536.8 559.9 L537.5 559.1 L538.2 557.8 L539.0 557.6 L539.7 556.4 L540.4 555.8 L541.1 556.0 L541.9 556.2 L542.6 556.0 L543.3 556.4 L544.1 556.6 L544.8 556.3 L545.5 555.8 L546.2 556.7 L547.0 556.9 L547.7 555.5 L548.4 555.1 L549.1 555.7 L549.9 555.4 L550.6 555.3 L551.3 555.3 L552.0 554.7 L552.8 553.8 L553.5 553.5 L554.2 552.1 L555.0 551.6 L555.7 551.5 L556.4 550.8 L557.1 551.1 L557.9 550.5 L558.6 551.6 L559.3 551.4 L560.0 551.4 L560.8 551.9 L561.5 551.5 L562.2 552.0 L562.9 552.6 L563.7 553.1 L564.4 553.7 L565.1 553.1 L565.9 552.7 L566.6 553.6 L567.3 554.1 L568.0 554.3 L568.8 554.8 L569.5 555.7 L570.2 555.9 L570.9 556.1 L571.7 556.1 L572.4 556.5 L573.1 555.5 L573.8 555.9 L574.6 557.8 L575.3 557.7 L576.0 559.0 L576.8 558.6 L577.5 558.8 L578.2 559.3 L578.9 559.8 L579.7 560.9 L580.4 561.1 L581.1 561.2 L581.8 561.2 L582.6 562.2 L583.3 563.1 L584.0 563.4 L584.7 563.4 L585.5 564.0 L586.2 564.4 L586.9 564.3 L587.7 565.2 L588.4 565.6 L589.1 566.0 L589.8 566.2 L590.6 566.7 L591.3 567.3 L592.0 567.5 L592.7 567.9 L593.5 568.3 L594.2 569.2 L594.9 570.1 L595.6 569.9 L596.4 570.7 L597.1 571.6 L597.8 572.1 L598.6 572.4 L599.3 571.5 L600.0 572.1 L600.7 573.9 L601.5 574.5 L602.2 574.5 L602.9 574.7 L603.6 575.5 L604.4 576.8 L605.1 576.0 L605.8 577.5 L606.5 577.8 L607.3 578.2 L608.0 579.2 L608.7 579.6 L609.5 580.5 L610.2 580.9 L610.9 581.1 L611.6 581.5 L612.4 581.7 L613.1 582.3 L613.8 583.5 L614.5 583.5 L615.3 583.1 L616.0 583.6 L616.7 584.2 L617.4 585.7 L618.2 586.1 L618.9 586.2 L619.6 586.3 L620.4 586.4 L621.1 588.0 L621.8 589.3 L622.5 588.6 L623.3 587.7 L624.0 587.5 L624.7 588.8 L625.4 589.3 L626.2 588.9 L626.9 589.4 L627.6 590.8 L628.3 590.4 L629.1 592.1 L629.8 591.8 L630.5 592.4 L631.3 592.4 L632.0 592.3 L632.7 593.3 L633.4 592.7 L634.2 592.5 L634.9 592.5 L635.6 593.4 L636.3 594.4 L637.1 594.7 L637.8 595.9 L638.5 596.2 L639.2 596.0 L640.0 597.1 L640.7 597.7 L641.4 598.2 L642.2 598.5 L642.9 599.4 L643.6 598.9 L644.3 600.0 L645.1 601.4 L645.8 602.0 L646.5 601.8 L647.2 602.6 L648.0 601.9 L648.7 602.6 L649.4 603.9 L650.1 604.2 L650.9 603.8 L651.6 604.2 L652.3 605.3 L653.1 605.4 L653.8 605.8 L654.5 606.5 L655.2 606.9 L656.0 607.2 L656.7 607.5 L657.4 608.7 L658.1 610.3 L658.9 609.5 L659.6 610.0 L660.3 609.8 L661.0 610.7 L661.8 611.1 L662.5 610.8 L663.2 612.4 L664.0 612.0 L664.7 612.6 L665.4 613.0 L666.1 613.0 L666.9 613.2 L667.6 614.5 L668.3 615.1 L669.0 615.0 L669.8 616.2 L670.5 616.4 L671.2 617.0 L671.9 617.6 L672.7 618.3 L673.4 618.1 L674.1 618.2 L674.9 619.1 L675.6 618.9 L676.3 619.1 L677.0 619.1 L677.8 619.6 L678.5 619.3 L679.2 619.9 L679.9 620.5 L680.7 621.3 L681.4 621.4 L682.1 621.9 L682.8 622.1 L683.6 622.5 L684.3 622.8" fill="none" stroke="#74c12e" stroke-width="2.0" stroke-linejoin="round"/>
<text x="627.6" y="563" font-size="8.9" fill="#231f20" textLength="44.6" lengthAdjust="spacingAndGlyphs">NES: 2.422</text>
<text x="627.6" y="571.9" font-size="8.9" fill="#231f20" textLength="36.8" lengthAdjust="spacingAndGlyphs"><tspan font-style="italic">P</tspan>: &lt;1×10</text>
<text x="664.7" y="568.5" font-size="6.0" fill="#231f20" textLength="6.2" lengthAdjust="spacingAndGlyphs">&#8722;3</text>
<text x="627.6" y="580.8" font-size="8.9" fill="#231f20" textLength="47.7" lengthAdjust="spacingAndGlyphs">FDR: &lt;1×10</text>
<text x="675.6" y="577.4" font-size="6.0" fill="#231f20" textLength="6.2" lengthAdjust="spacingAndGlyphs">&#8722;3</text>
<text x="245.6" y="375.6" font-size="9.3" text-anchor="start" fill="#231f20" textLength="22.8" lengthAdjust="spacingAndGlyphs" >Day 3</text>
<text x="245.6" y="485.1" font-size="9.3" text-anchor="start" fill="#231f20" textLength="22.8" lengthAdjust="spacingAndGlyphs" >Day 7</text>
<text x="245.6" y="590.3" font-size="9.3" text-anchor="start" fill="#231f20" textLength="27.3" lengthAdjust="spacingAndGlyphs" >Day 10</text>
<text transform="translate(284.6,372.2) rotate(-90)" font-size="9.0" text-anchor="middle" fill="#231f20" textLength="71.5" lengthAdjust="spacingAndGlyphs">Enrichment score</text>
<text transform="translate(284.6,479.5) rotate(-90)" font-size="9.0" text-anchor="middle" fill="#231f20" textLength="71.5" lengthAdjust="spacingAndGlyphs">Enrichment score</text>
<text transform="translate(284.6,586.9) rotate(-90)" font-size="9.0" text-anchor="middle" fill="#231f20" textLength="71.5" lengthAdjust="spacingAndGlyphs">Enrichment score</text>
<text x="325.4" y="659" font-size="8.6" text-anchor="middle" fill="#231f20" textLength="33.4" lengthAdjust="spacingAndGlyphs" >MECOM</text>
<text x="325.4" y="669.6" font-size="8.6" text-anchor="middle" fill="#231f20" textLength="26.5" lengthAdjust="spacing" >edited</text>
<text x="469.6" y="659" font-size="8.6" text-anchor="middle" fill="#231f20" textLength="25.8" lengthAdjust="spacingAndGlyphs" >AAVS1</text>
<text x="469.6" y="669.6" font-size="8.6" text-anchor="middle" fill="#231f20" textLength="26.5" lengthAdjust="spacing" >edited</text>
<text x="397.5" y="668.9" font-size="8.6" text-anchor="middle" fill="#231f20" textLength="30.4" lengthAdjust="spacingAndGlyphs" >LT-HSC</text>
<line x1="363.7" y1="658" x2="431.3" y2="658" stroke="#4a5878" stroke-width="1.2"/>
<path d="M360.7 658 l4.8 -2.5 v5z M434.3 658 l-4.8 -2.5 v5z" fill="#4a5878"/>
<text x="527.3" y="659" font-size="8.6" text-anchor="middle" fill="#231f20" textLength="33.4" lengthAdjust="spacingAndGlyphs" >MECOM</text>
<text x="527.3" y="669.6" font-size="8.6" text-anchor="middle" fill="#231f20" textLength="26.5" lengthAdjust="spacing" >edited</text>
<text x="671.6" y="659" font-size="8.6" text-anchor="middle" fill="#231f20" textLength="25.8" lengthAdjust="spacingAndGlyphs" >AAVS1</text>
<text x="671.6" y="669.6" font-size="8.6" text-anchor="middle" fill="#231f20" textLength="26.5" lengthAdjust="spacing" >edited</text>
<text x="599.1" y="668.9" font-size="8.6" text-anchor="middle" fill="#231f20" textLength="30.4" lengthAdjust="spacingAndGlyphs" >LT-HSC</text>
<line x1="565.3" y1="658" x2="633.2" y2="658" stroke="#4a5878" stroke-width="1.2"/>
<path d="M562.3 658 l4.8 -2.5 v5z M636.2 658 l-4.8 -2.5 v5z" fill="#4a5878"/>
<defs>
<linearGradient id="cbar" x1="0" x2="0" y1="0" y2="1">
<stop offset="0" stop-color="#a11d22"/>
<stop offset="0.3" stop-color="#dc3426"/>
<stop offset="0.55" stop-color="#f5841f"/>
<stop offset="0.75" stop-color="#fcc11a"/>
<stop offset="1" stop-color="#fefbe6"/>
</linearGradient>
<marker id="ah" viewBox="0 0 10 10" refX="9" refY="5" markerWidth="4.2" markerHeight="4.2" orient="auto" markerUnits="userSpaceOnUse"><path d="M0 0L10 5L0 10z" fill="#1a1a1a"/></marker>
</defs>
<rect x="54.5" y="565.1" width="5.5" height="46.1" fill="url(#cbar)" stroke="#bbb" stroke-width="0.3"/>
<text x="54.6" y="561.6" font-size="8.6" text-anchor="middle" fill="#231f20" textLength="44.6" lengthAdjust="spacingAndGlyphs">Expression</text><text x="63.2" y="575.4" font-size="7.6" fill="#231f20">6.0</text><text x="63.2" y="606.7" font-size="7.6" fill="#231f20">2.0</text>
<text x="96.8" y="553.1" font-size="9.0" text-anchor="start" fill="#231f20" textLength="33.4" lengthAdjust="spacingAndGlyphs" >MECOM</text>
<line x1="117.9" y1="587.3" x2="117.9" y2="596.7" stroke="#1a1a1a" stroke-width="0.9"/>
<path d="M117.9 600.8L115.8 596.2L120 596.2Z" fill="#1a1a1a"/>
<path d="M104.6 575.9 A5.8 5.8 0 1 0 103.9 583.8" fill="none" stroke="#1a1a1a" stroke-width="0.9"/>
<path d="M107.8 582.5 L103.2 586.3 L102.6 582.1Z" fill="#1a1a1a"/>
<path d="M127.9 579.5 C150 580 177 605 177.6 639" fill="none" stroke="#1a1a1a" stroke-width="0.9" stroke-dasharray="1.4 1.2"/>
<path d="M177.7 643.6 L175.9 639.2 L179.5 639.2Z" fill="#1a1a1a"/>
<line x1="108.5" y1="611" x2="70.66" y2="624.43" stroke="#1a1a1a" stroke-width="0.9" stroke-dasharray="1.4 1.2"/>
<path d="M66.8 625.8L70.43 622.28L71.84 626.24Z" fill="#1a1a1a"/>
<line x1="110.5" y1="614.2" x2="69.91" y2="643.88" stroke="#1a1a1a" stroke-width="0.9"/>
<path d="M66.6 646.3L69.07 641.89L71.55 645.28Z" fill="#1a1a1a"/>
<line x1="125.6" y1="613.2" x2="146.56" y2="624.11" stroke="#1a1a1a" stroke-width="0.9"/>
<path d="M150.2 626L145.15 625.74L147.09 622.01Z" fill="#1a1a1a"/>
<line x1="58.2" y1="636.3" x2="58.4" y2="640.4" stroke="#1a1a1a" stroke-width="0.9" stroke-dasharray="1.4 1.2"/>
<path d="M58.6 644.5L56.28 640.01L60.47 639.8Z" fill="#1a1a1a"/>
<line x1="66.4" y1="631.2" x2="96.36" y2="639.77" stroke="#1a1a1a" stroke-width="0.9" stroke-dasharray="1.4 1.2"/>
<path d="M100.3 640.9L95.3 641.65L96.46 637.62Z" fill="#1a1a1a"/>
<line x1="148.6" y1="634" x2="124.5" y2="641.75" stroke="#1a1a1a" stroke-width="0.9"/>
<path d="M120.6 643L124.34 639.59L125.62 643.59Z" fill="#1a1a1a"/>
<line x1="164" y1="637" x2="169.29" y2="641.53" stroke="#1a1a1a" stroke-width="0.9"/>
<path d="M172.4 644.2L167.54 642.8L170.27 639.61Z" fill="#1a1a1a"/>
<line x1="156.2" y1="640.5" x2="152.85" y2="671.22" stroke="#1a1a1a" stroke-width="0.9" stroke-dasharray="1.4 1.2"/>
<path d="M152.4 675.3L150.81 670.5L154.99 670.96Z" fill="#1a1a1a"/>
<circle cx="117.9" cy="579.5" r="7.4" fill="#a31e22" stroke="#1a1a1a" stroke-width="0.7"/>
<circle cx="117.9" cy="579.5" r="5.33" fill="none" stroke="#1a1a1a" stroke-width="0.55"/>
<circle cx="117.9" cy="608.6" r="7.4" fill="#a81f24" stroke="#1a1a1a" stroke-width="0.7"/>
<circle cx="117.9" cy="608.6" r="5.33" fill="none" stroke="#1a1a1a" stroke-width="0.55"/>
<circle cx="58" cy="628.5" r="7.4" fill="#f28022" stroke="#1a1a1a" stroke-width="0.85" stroke-dasharray="1.4 0.9"/>
<circle cx="58" cy="628.5" r="5.33" fill="none" stroke="#1a1a1a" stroke-width="0.55"/>
<circle cx="157.4" cy="631.2" r="7.4" fill="#e9542a" stroke="#1a1a1a" stroke-width="0.7"/>
<circle cx="157.4" cy="631.2" r="5.33" fill="none" stroke="#1a1a1a" stroke-width="0.55"/>
<circle cx="59.1" cy="652.3" r="7.4" fill="#fdf2d6" stroke="#1a1a1a" stroke-width="0.7"/>
<circle cx="59.1" cy="652.3" r="5.33" fill="none" stroke="#1a1a1a" stroke-width="0.55"/>
<circle cx="110" cy="637.3" r="7.0" fill="#fde8b0" stroke="#1a1a1a" stroke-width="0.85" stroke-dasharray="1.4 0.9"/>
<circle cx="110" cy="637.3" r="5.04" fill="none" stroke="#1a1a1a" stroke-width="0.55"/>
<circle cx="101.6" cy="652.2" r="7.0" fill="#fde6a5" stroke="#1a1a1a" stroke-width="0.85" stroke-dasharray="1.4 0.9"/>
<circle cx="101.6" cy="652.2" r="5.04" fill="none" stroke="#1a1a1a" stroke-width="0.55"/>
<circle cx="119.2" cy="652.4" r="7.0" fill="#f9f9f9" stroke="#1a1a1a" stroke-width="0.7"/>
<circle cx="119.2" cy="652.4" r="5.04" fill="none" stroke="#1a1a1a" stroke-width="0.55"/>
<circle cx="176.1" cy="652.2" r="7.4" fill="#ea5a2a" stroke="#1a1a1a" stroke-width="0.7"/>
<circle cx="176.1" cy="652.2" r="5.33" fill="none" stroke="#1a1a1a" stroke-width="0.55"/>
<text x="118.3" y="570.2" font-size="6.1" text-anchor="middle" fill="#333" style="stroke-width:0.05px">HSC</text>
<text x="106" y="601.8" font-size="6.1" text-anchor="middle" fill="#333" style="stroke-width:0.05px">MPP</text>
<text x="58.5" y="620.6" font-size="6.1" text-anchor="middle" fill="#333" style="stroke-width:0.05px">LMPP</text>
<text x="158.2" y="622.8" font-size="6.1" text-anchor="middle" fill="#333" style="stroke-width:0.05px">CMP</text>
<text x="42.9" y="653.2" font-size="6.1" text-anchor="middle" fill="#333" style="stroke-width:0.05px">CLP</text>
<text x="82.9" y="653" font-size="6.1" text-anchor="middle" fill="#333" style="stroke-width:0.05px">GMP</text>
<text x="192.7" y="656.6" font-size="6.1" text-anchor="middle" fill="#333" style="stroke-width:0.05px">MEP</text>
<line x1="50.5" y1="657.2" x2="20.67" y2="676.01" stroke="#1a1a1a" stroke-width="0.9"/>
<path d="M17.2 678.2L19.97 673.97L22.21 677.52Z" fill="#1a1a1a"/>
<line x1="53.5" y1="659" x2="38.63" y2="674.63" stroke="#1a1a1a" stroke-width="0.9"/>
<path d="M35.8 677.6L37.45 672.82L40.49 675.72Z" fill="#1a1a1a"/>
<line x1="56.6" y1="660" x2="52.39" y2="673.88" stroke="#1a1a1a" stroke-width="0.9"/>
<path d="M51.2 677.8L50.53 672.79L54.54 674.01Z" fill="#1a1a1a"/>
<line x1="61.8" y1="660" x2="65.06" y2="673.81" stroke="#1a1a1a" stroke-width="0.9"/>
<path d="M66 677.8L62.9 673.81L66.99 672.84Z" fill="#1a1a1a"/>
<line x1="65.8" y1="657.2" x2="81.19" y2="673.52" stroke="#1a1a1a" stroke-width="0.9" stroke-dasharray="1.4 1.2"/>
<path d="M84 676.5L79.32 674.59L82.37 671.71Z" fill="#1a1a1a"/>
<line x1="109.4" y1="660.5" x2="108.67" y2="671.71" stroke="#1a1a1a" stroke-width="0.9"/>
<path d="M108.4 675.8L106.6 671.07L110.8 671.35Z" fill="#1a1a1a"/>
<line x1="119.8" y1="661.8" x2="123.88" y2="671.99" stroke="#1a1a1a" stroke-width="0.9"/>
<path d="M125.4 675.8L121.74 672.31L125.64 670.75Z" fill="#1a1a1a"/>
<line x1="126.2" y1="658" x2="140.37" y2="672.83" stroke="#1a1a1a" stroke-width="0.9"/>
<path d="M143.2 675.8L138.5 673.92L141.54 671.02Z" fill="#1a1a1a"/>
<line x1="174" y1="660.2" x2="172.04" y2="669.59" stroke="#1a1a1a" stroke-width="0.9"/>
<path d="M171.2 673.6L170.09 668.67L174.2 669.53Z" fill="#1a1a1a"/>
<line x1="179.6" y1="659.6" x2="185.35" y2="668.37" stroke="#1a1a1a" stroke-width="0.9"/>
<path d="M187.6 671.8L183.32 669.1L186.83 666.8Z" fill="#1a1a1a"/>
<line x1="205.7" y1="689.1" x2="212.36" y2="690.28" stroke="#1a1a1a" stroke-width="0.9"/>
<path d="M216.4 691L211.5 692.26L212.24 688.13Z" fill="#1a1a1a"/>
<ellipse cx="9.9" cy="686.2" rx="8.3" ry="6.8" fill="#fbfbfb" stroke="#1a1a1a" stroke-width="0.65"/>
<ellipse cx="10.7" cy="686.4" rx="6.2" ry="5.2" fill="none" stroke="#1a1a1a" stroke-width="0.5"/>
<ellipse cx="29.8" cy="686.2" rx="8.3" ry="6.8" fill="#fdf3dc" stroke="#1a1a1a" stroke-width="0.65"/>
<ellipse cx="30.6" cy="686.4" rx="6.2" ry="5.2" fill="none" stroke="#1a1a1a" stroke-width="0.5"/>
<ellipse cx="49" cy="686.2" rx="8.3" ry="6.8" fill="#fbfbfb" stroke="#1a1a1a" stroke-width="0.65"/>
<ellipse cx="49.8" cy="686.4" rx="6.2" ry="5.2" fill="none" stroke="#1a1a1a" stroke-width="0.5"/>
<ellipse cx="68.9" cy="686.2" rx="8.3" ry="6.8" fill="#fbfbfb" stroke="#1a1a1a" stroke-width="0.65"/>
<ellipse cx="69.7" cy="686.4" rx="6.2" ry="5.2" fill="none" stroke="#1a1a1a" stroke-width="0.5"/>
<path d="M90.95 677.38 L91.98 682.33 L97.03 681.99 L93.8 685.89 L97.22 689.62 L92.15 689.53 L91.37 694.53 L88.29 690.51 L83.88 693.01 L85.11 688.1 L80.4 686.21 L85.01 684.11 L83.55 679.26 L88.07 681.54Z" fill="#ffffff" stroke="#1a1a1a" stroke-width="0.5" stroke-linejoin="round"/>
<circle cx="89.2" cy="686" r="3.6" fill="none" stroke="#444" stroke-width="0.45"/>
<path d="M117.7 686 L117.62 686.45 L117.4 686.87 L117.05 687.26 L116.64 687.6 L116.19 687.9 L115.77 688.17 L115.41 688.42 L115.15 688.69 L114.99 689 L114.93 689.37 L114.95 689.8 L115 690.29 L115.05 690.82 L115.05 691.36 L114.97 691.87 L114.8 692.33 L114.51 692.68 L114.13 692.92 L113.66 693.03 L113.15 693.01 L112.62 692.91 L112.11 692.75 L111.63 692.59 L111.2 692.46 L110.82 692.41 L110.47 692.46 L110.15 692.63 L109.82 692.89 L109.48 693.23 L109.1 693.6 L108.68 693.95 L108.24 694.22 L107.77 694.39 L107.31 694.41 L106.88 694.27 L106.5 694 L106.18 693.6 L105.92 693.13 L105.72 692.63 L105.55 692.15 L105.38 691.72 L105.19 691.38 L104.95 691.13 L104.63 690.97 L104.23 690.87 L103.75 690.81 L103.23 690.75 L102.7 690.65 L102.2 690.48 L101.77 690.23 L101.45 689.9 L101.26 689.49 L101.22 689.02 L101.31 688.53 L101.51 688.03 L101.77 687.56 L102.04 687.12 L102.28 686.72 L102.44 686.35 L102.5 686 L102.44 685.65 L102.28 685.28 L102.04 684.88 L101.77 684.44 L101.51 683.97 L101.31 683.47 L101.22 682.98 L101.26 682.51 L101.45 682.1 L101.77 681.77 L102.2 681.52 L102.7 681.35 L103.23 681.25 L103.75 681.19 L104.23 681.13 L104.63 681.03 L104.95 680.87 L105.19 680.62 L105.38 680.28 L105.55 679.85 L105.72 679.37 L105.92 678.87 L106.18 678.4 L106.5 678 L106.88 677.73 L107.31 677.59 L107.77 677.61 L108.24 677.78 L108.68 678.05 L109.1 678.4 L109.48 678.77 L109.82 679.11 L110.15 679.37 L110.47 679.54 L110.82 679.59 L111.2 679.54 L111.63 679.41 L112.11 679.25 L112.62 679.09 L113.15 678.99 L113.66 678.97 L114.13 679.08 L114.51 679.32 L114.8 679.67 L114.97 680.13 L115.05 680.64 L115.05 681.18 L115 681.71 L114.95 682.2 L114.93 682.63 L114.99 683 L115.15 683.31 L115.41 683.58 L115.77 683.83 L116.19 684.1 L116.64 684.4 L117.05 684.74 L117.4 685.13 L117.62 685.55 L117.7 686Z" fill="#fbfaf5" stroke="#1a1a1a" stroke-width="0.55"/>
<circle cx="109.1" cy="686" r="4.6" fill="none" stroke="#555" stroke-width="0.4"/>
<path d="M136 686 L135.9 686.45 L135.62 686.86 L135.21 687.24 L134.73 687.56 L134.26 687.84 L133.86 688.1 L133.58 688.37 L133.45 688.69 L133.45 689.08 L133.55 689.55 L133.69 690.08 L133.8 690.65 L133.83 691.2 L133.73 691.7 L133.48 692.08 L133.1 692.33 L132.6 692.43 L132.05 692.4 L131.48 692.29 L130.95 692.15 L130.48 692.05 L130.09 692.05 L129.77 692.18 L129.5 692.46 L129.24 692.86 L128.96 693.33 L128.64 693.81 L128.26 694.22 L127.85 694.5 L127.4 694.6 L126.95 694.5 L126.54 694.22 L126.16 693.81 L125.84 693.33 L125.56 692.86 L125.3 692.46 L125.03 692.18 L124.71 692.05 L124.32 692.05 L123.85 692.15 L123.32 692.29 L122.75 692.4 L122.2 692.43 L121.7 692.33 L121.32 692.08 L121.07 691.7 L120.97 691.2 L121 690.65 L121.11 690.08 L121.25 689.55 L121.35 689.08 L121.35 688.69 L121.22 688.37 L120.94 688.1 L120.54 687.84 L120.07 687.56 L119.59 687.24 L119.18 686.86 L118.9 686.45 L118.8 686 L118.9 685.55 L119.18 685.14 L119.59 684.76 L120.07 684.44 L120.54 684.16 L120.94 683.9 L121.22 683.63 L121.35 683.31 L121.35 682.92 L121.25 682.45 L121.11 681.92 L121 681.35 L120.97 680.8 L121.07 680.3 L121.32 679.92 L121.7 679.67 L122.2 679.57 L122.75 679.6 L123.32 679.71 L123.85 679.85 L124.32 679.95 L124.71 679.95 L125.03 679.82 L125.3 679.54 L125.56 679.14 L125.84 678.67 L126.16 678.19 L126.54 677.78 L126.95 677.5 L127.4 677.4 L127.85 677.5 L128.26 677.78 L128.64 678.19 L128.96 678.67 L129.24 679.14 L129.5 679.54 L129.77 679.82 L130.09 679.95 L130.48 679.95 L130.95 679.85 L131.48 679.71 L132.05 679.6 L132.6 679.57 L133.1 679.67 L133.48 679.92 L133.73 680.3 L133.83 680.8 L133.8 681.35 L133.69 681.92 L133.55 682.45 L133.45 682.92 L133.45 683.31 L133.58 683.63 L133.86 683.9 L134.26 684.16 L134.73 684.44 L135.21 684.76 L135.62 685.14 L135.9 685.55 L136 686Z" fill="#ffffff" stroke="#1a1a1a" stroke-width="0.55"/>
<circle cx="127.4" cy="686" r="4.8" fill="none" stroke="#555" stroke-width="0.4"/>
<ellipse cx="149.8" cy="685.3" rx="10.3" ry="8" fill="#f3ead2" stroke="#1a1a1a" stroke-width="0.75"/>
<ellipse cx="150.3" cy="685.6" rx="8.2" ry="6.2" fill="none" stroke="#1a1a1a" stroke-width="0.45"/>
<path d="M146.8 688.3 q-2 -5 2 -6 q4 -1 5 2 q1 3 -3 4 q-3 0 -2 -2 M150.8 689.8 q4 0 4 -4" fill="none" stroke="#333" stroke-width="0.45"/>
<circle cx="166.2" cy="682.1" r="3.8" fill="#ffffff" stroke="#333" stroke-width="0.6"/>
<circle cx="166.2" cy="682.1" r="2.5" fill="none" stroke="#666" stroke-width="0.4"/>
<circle cx="174.2" cy="684.1" r="3.8" fill="#ffffff" stroke="#333" stroke-width="0.6"/>
<circle cx="174.2" cy="684.1" r="2.5" fill="none" stroke="#666" stroke-width="0.4"/>
<circle cx="168.2" cy="690.5" r="3.8" fill="#ffffff" stroke="#333" stroke-width="0.6"/>
<circle cx="168.2" cy="690.5" r="2.5" fill="none" stroke="#666" stroke-width="0.4"/>
<path d="M208.23 685 L209.12 685.74 L209.26 686.5 L208.51 687.15 L207.39 687.66 L206.65 688.16 L206.66 688.86 L207.14 689.79 L207.41 690.73 L206.95 691.39 L205.79 691.62 L204.47 691.65 L203.57 691.85 L203.23 692.51 L203.14 693.49 L202.8 694.34 L201.95 694.63 L200.96 694.66 L200.12 694.9 L199.28 695.09 L198.43 695.23 L197.57 695.33 L196.71 695.38 L195.85 695.4 L195 695.38 L194.16 695.31 L193.32 695.21 L192.49 695.08 L191.68 694.91 L190.88 694.7 L190.1 694.46 L189.34 694.19 L188.59 693.88 L187.86 693.55 L187.16 693.18 L186.48 692.78 L185.82 692.34 L185.19 691.88 L184.6 691.38 L184.04 690.86 L183.52 690.3 L183.04 689.72 L182.61 689.11 L182.23 688.47 L181.9 687.81 L181.62 687.13 L181.41 686.43 L181.26 685.72 L181.17 685 L181.15 684.27 L181.2 683.55 L181.31 682.82 L181.49 682.11 L181.75 681.4 L182.07 680.71 L182.45 680.05 L182.9 679.41 L183.4 678.8 L183.96 678.22 L184.57 677.68 L185.23 677.18 L185.93 676.72 L186.66 676.31 L187.43 675.94 L188.23 675.61 L189.04 675.34 L189.88 675.1 L190.72 674.91 L191.57 674.77 L192.43 674.67 L193.29 674.62 L194.15 674.6 L195 674.62 L195.84 674.69 L196.68 674.79 L197.51 674.92 L198.32 675.09 L199.12 675.3 L199.9 675.54 L200.66 675.81 L201.41 676.12 L202.14 676.45 L202.84 676.82 L203.52 677.22 L204.18 677.66 L204.81 678.12 L205.4 678.62 L205.96 679.14 L206.48 679.7 L206.29 680.55 L207.55 680.84 L208.24 681.41 L208.05 682.2 L207.37 683.03 L206.94 683.74 L207.27 684.36Z" fill="#f06a1f" stroke="#1a1a1a" stroke-width="0.8"/>
<ellipse cx="190.4" cy="686.6" rx="2.8" ry="1.9" transform="rotate(-30 190.4 686.6)" fill="none" stroke="#1a1a1a" stroke-width="0.6"/>
<ellipse cx="192.8" cy="682.4" rx="2.6" ry="1.8" transform="rotate(-40 192.8 682.4)" fill="none" stroke="#1a1a1a" stroke-width="0.6"/>
<ellipse cx="196.6" cy="681" rx="2.4" ry="1.8" transform="rotate(10 196.6 681)" fill="none" stroke="#1a1a1a" stroke-width="0.6"/>
<ellipse cx="193.6" cy="688.8" rx="2.8" ry="1.8" transform="rotate(0 193.6 688.8)" fill="none" stroke="#1a1a1a" stroke-width="0.6"/>
<ellipse cx="197.4" cy="685.4" rx="2.6" ry="1.8" transform="rotate(-30 197.4 685.4)" fill="none" stroke="#1a1a1a" stroke-width="0.6"/>
<ellipse cx="199.2" cy="682.8" rx="2.0" ry="1.6" transform="rotate(60 199.2 682.8)" fill="none" stroke="#1a1a1a" stroke-width="0.6"/>
<ellipse cx="198.6" cy="688.2" rx="2.2" ry="1.5" transform="rotate(-20 198.6 688.2)" fill="none" stroke="#1a1a1a" stroke-width="0.6"/>
<ellipse cx="224.1" cy="683.8" rx="2.7" ry="1.9" transform="rotate(-20 224.1 683.8)" fill="#fde9ad" stroke="#222" stroke-width="0.65"/>
<ellipse cx="231.4" cy="681.4" rx="2.7" ry="1.9" transform="rotate(10 231.4 681.4)" fill="#fde9ad" stroke="#222" stroke-width="0.65"/>
<ellipse cx="236.2" cy="686.2" rx="2.7" ry="1.9" transform="rotate(30 236.2 686.2)" fill="#fde9ad" stroke="#222" stroke-width="0.65"/>
<ellipse cx="220.9" cy="688.3" rx="2.7" ry="1.9" transform="rotate(20 220.9 688.3)" fill="#fde9ad" stroke="#222" stroke-width="0.65"/>
<ellipse cx="228.9" cy="687.3" rx="2.7" ry="1.9" transform="rotate(-10 228.9 687.3)" fill="#fde9ad" stroke="#222" stroke-width="0.65"/>
<ellipse cx="234.6" cy="691.8" rx="2.7" ry="1.9" transform="rotate(-30 234.6 691.8)" fill="#fde9ad" stroke="#222" stroke-width="0.65"/>
<ellipse cx="224.9" cy="693.1" rx="2.7" ry="1.9" transform="rotate(0 224.9 693.1)" fill="#fde9ad" stroke="#222" stroke-width="0.65"/>
<ellipse cx="230.6" cy="693.1" rx="2.7" ry="1.9" transform="rotate(20 230.6 693.1)" fill="#fde9ad" stroke="#222" stroke-width="0.65"/>
<text x="9.9" y="702.2" font-size="6.4" text-anchor="middle" fill="#333" style="stroke-width:0.05px">NK</text>
<text x="29.8" y="702.2" font-size="6.4" text-anchor="middle" fill="#333" style="stroke-width:0.05px">CD4</text>
<text x="49" y="702.2" font-size="6.4" text-anchor="middle" fill="#333" style="stroke-width:0.05px">CD8</text>
<text x="68.9" y="702.2" font-size="6.4" text-anchor="middle" fill="#333" style="stroke-width:0.05px">B</text>
<text x="89.2" y="702.2" font-size="6.4" text-anchor="middle" fill="#333" style="stroke-width:0.05px">pDC</text>
<text x="109.1" y="702.2" font-size="6.4" text-anchor="middle" fill="#333" style="stroke-width:0.05px">Mono</text>
<text x="127.4" y="702.2" font-size="6.4" text-anchor="middle" fill="#333" style="stroke-width:0.05px">mDC</text>
<text x="149.8" y="702.2" font-size="6.4" text-anchor="middle" fill="#333" style="stroke-width:0.05px">Gran</text>
<text x="170.3" y="702.2" font-size="6.4" text-anchor="middle" fill="#333" style="stroke-width:0.05px">Ery</text>
<text x="194.8" y="702.2" font-size="6.4" text-anchor="middle" fill="#333" style="stroke-width:0.05px">Mega</text>
<text x="228.5" y="702.2" font-size="6.4" text-anchor="middle" fill="#333" style="stroke-width:0.05px">Plt</text>
<rect x="126.5" y="750" width="5.5" height="46.1" fill="url(#cbar)" stroke="#bbb" stroke-width="0.3"/>
<text x="114.1" y="747.2" font-size="8.6" fill="#231f20" textLength="29.6" lengthAdjust="spacingAndGlyphs"><tspan font-style="italic">z</tspan> score</text><text x="134.5" y="758.7" font-size="7.6" fill="#231f20">1.1</text><text x="134.5" y="794.2" font-size="7.6" fill="#231f20">0.7</text>
<text x="147.9" y="739.3" font-size="9.0" text-anchor="start" fill="#231f20" textLength="87.1" lengthAdjust="spacingAndGlyphs" >MECOM down genes</text>
<line x1="189.9" y1="772.2" x2="189.9" y2="781.6" stroke="#1a1a1a" stroke-width="0.9"/>
<path d="M189.9 785.7L187.8 781.1L192 781.1Z" fill="#1a1a1a"/>
<path d="M176.6 760.8 A5.8 5.8 0 1 0 175.9 768.7" fill="none" stroke="#1a1a1a" stroke-width="0.9"/>
<path d="M179.8 767.4 L175.2 771.2 L174.6 767Z" fill="#1a1a1a"/>
<path d="M199.9 764.4 C222 764.9 249 789.9 249.6 823.9" fill="none" stroke="#1a1a1a" stroke-width="0.9" stroke-dasharray="1.4 1.2"/>
<path d="M249.7 828.5 L247.9 824.1 L251.5 824.1Z" fill="#1a1a1a"/>
<line x1="180.5" y1="795.9" x2="142.66" y2="809.33" stroke="#1a1a1a" stroke-width="0.9" stroke-dasharray="1.4 1.2"/>
<path d="M138.8 810.7L142.43 807.18L143.84 811.14Z" fill="#1a1a1a"/>
<line x1="182.5" y1="799.1" x2="141.91" y2="828.78" stroke="#1a1a1a" stroke-width="0.9"/>
<path d="M138.6 831.2L141.07 826.79L143.55 830.18Z" fill="#1a1a1a"/>
<line x1="197.6" y1="798.1" x2="218.56" y2="809.01" stroke="#1a1a1a" stroke-width="0.9"/>
<path d="M222.2 810.9L217.15 810.64L219.09 806.91Z" fill="#1a1a1a"/>
<line x1="130.2" y1="821.2" x2="130.4" y2="825.3" stroke="#1a1a1a" stroke-width="0.9" stroke-dasharray="1.4 1.2"/>
<path d="M130.6 829.4L128.28 824.91L132.47 824.7Z" fill="#1a1a1a"/>
<line x1="138.4" y1="816.1" x2="168.36" y2="824.67" stroke="#1a1a1a" stroke-width="0.9" stroke-dasharray="1.4 1.2"/>
<path d="M172.3 825.8L167.3 826.55L168.46 822.52Z" fill="#1a1a1a"/>
<line x1="220.6" y1="818.9" x2="196.5" y2="826.65" stroke="#1a1a1a" stroke-width="0.9"/>
<path d="M192.6 827.9L196.34 824.49L197.62 828.49Z" fill="#1a1a1a"/>
<line x1="236" y1="821.9" x2="241.29" y2="826.43" stroke="#1a1a1a" stroke-width="0.9"/>
<path d="M244.4 829.1L239.54 827.7L242.27 824.51Z" fill="#1a1a1a"/>
<line x1="228.2" y1="825.4" x2="224.85" y2="856.12" stroke="#1a1a1a" stroke-width="0.9" stroke-dasharray="1.4 1.2"/>
<path d="M224.4 860.2L222.81 855.4L226.99 855.86Z" fill="#1a1a1a"/>
<circle cx="189.9" cy="764.4" r="7.4" fill="#a81d23" stroke="#1a1a1a" stroke-width="0.7"/>
<circle cx="189.9" cy="764.4" r="5.33" fill="none" stroke="#1a1a1a" stroke-width="0.55"/>
<circle cx="189.9" cy="793.5" r="7.4" fill="#a61c22" stroke="#1a1a1a" stroke-width="0.7"/>
<circle cx="189.9" cy="793.5" r="5.33" fill="none" stroke="#1a1a1a" stroke-width="0.55"/>
<circle cx="130" cy="813.4" r="7.4" fill="#b42126" stroke="#1a1a1a" stroke-width="0.85" stroke-dasharray="1.4 0.9"/>
<circle cx="130" cy="813.4" r="5.33" fill="none" stroke="#1a1a1a" stroke-width="0.55"/>
<circle cx="229.4" cy="816.1" r="7.4" fill="#e23a26" stroke="#1a1a1a" stroke-width="0.7"/>
<circle cx="229.4" cy="816.1" r="5.33" fill="none" stroke="#1a1a1a" stroke-width="0.55"/>
<circle cx="131.1" cy="837.2" r="7.4" fill="#e03a27" stroke="#1a1a1a" stroke-width="0.7"/>
<circle cx="131.1" cy="837.2" r="5.33" fill="none" stroke="#1a1a1a" stroke-width="0.55"/>
<circle cx="182" cy="822.2" r="7.0" fill="#e84c2a" stroke="#1a1a1a" stroke-width="0.85" stroke-dasharray="1.4 0.9"/>
<circle cx="182" cy="822.2" r="5.04" fill="none" stroke="#1a1a1a" stroke-width="0.55"/>
<circle cx="173.6" cy="837.1" r="7.0" fill="#e84226" stroke="#1a1a1a" stroke-width="0.85" stroke-dasharray="1.4 0.9"/>
<circle cx="173.6" cy="837.1" r="5.04" fill="none" stroke="#1a1a1a" stroke-width="0.55"/>
<circle cx="191.2" cy="837.3" r="7.0" fill="#f06a24" stroke="#1a1a1a" stroke-width="0.7"/>
<circle cx="191.2" cy="837.3" r="5.04" fill="none" stroke="#1a1a1a" stroke-width="0.55"/>
<circle cx="248.1" cy="837.1" r="7.4" fill="#f37c22" stroke="#1a1a1a" stroke-width="0.7"/>
<circle cx="248.1" cy="837.1" r="5.33" fill="none" stroke="#1a1a1a" stroke-width="0.55"/>
<text x="190.3" y="755.1" font-size="6.1" text-anchor="middle" fill="#333" style="stroke-width:0.05px">HSC</text>
<text x="178" y="786.7" font-size="6.1" text-anchor="middle" fill="#333" style="stroke-width:0.05px">MPP</text>
<text x="130.5" y="805.5" font-size="6.1" text-anchor="middle" fill="#333" style="stroke-width:0.05px">LMPP</text>
<text x="230.2" y="807.7" font-size="6.1" text-anchor="middle" fill="#333" style="stroke-width:0.05px">CMP</text>
<text x="114.9" y="838.1" font-size="6.1" text-anchor="middle" fill="#333" style="stroke-width:0.05px">CLP</text>
<text x="154.9" y="837.9" font-size="6.1" text-anchor="middle" fill="#333" style="stroke-width:0.05px">GMP</text>
<text x="264.7" y="841.5" font-size="6.1" text-anchor="middle" fill="#333" style="stroke-width:0.05px">MEP</text>
<line x1="122.5" y1="842.1" x2="93.23" y2="859.32" stroke="#1a1a1a" stroke-width="0.9"/>
<path d="M89.7 861.4L92.6 857.26L94.73 860.88Z" fill="#1a1a1a"/>
<line x1="125.5" y1="843.9" x2="111.22" y2="857.93" stroke="#1a1a1a" stroke-width="0.9"/>
<path d="M108.3 860.8L110.11 856.08L113.05 859.07Z" fill="#1a1a1a"/>
<line x1="128.6" y1="844.9" x2="124.89" y2="857.08" stroke="#1a1a1a" stroke-width="0.9"/>
<path d="M123.7 861L123.03 855.99L127.05 857.21Z" fill="#1a1a1a"/>
<line x1="133.8" y1="844.9" x2="137.35" y2="857.06" stroke="#1a1a1a" stroke-width="0.9"/>
<path d="M138.5 861L135.2 857.17L139.23 856Z" fill="#1a1a1a"/>
<line x1="137.8" y1="842.1" x2="153.51" y2="856.89" stroke="#1a1a1a" stroke-width="0.9" stroke-dasharray="1.4 1.2"/>
<path d="M156.5 859.7L151.71 858.08L154.59 855.02Z" fill="#1a1a1a"/>
<line x1="181.4" y1="845.4" x2="181.05" y2="854.9" stroke="#1a1a1a" stroke-width="0.9"/>
<path d="M180.9 859L178.97 854.33L183.17 854.48Z" fill="#1a1a1a"/>
<line x1="191.8" y1="846.7" x2="196.08" y2="855.33" stroke="#1a1a1a" stroke-width="0.9"/>
<path d="M197.9 859L193.97 855.81L197.74 853.95Z" fill="#1a1a1a"/>
<line x1="198.2" y1="842.9" x2="212.68" y2="856.22" stroke="#1a1a1a" stroke-width="0.9"/>
<path d="M215.7 859L210.89 857.43L213.74 854.34Z" fill="#1a1a1a"/>
<line x1="246" y1="845.1" x2="244.49" y2="852.78" stroke="#1a1a1a" stroke-width="0.9"/>
<path d="M243.7 856.8L242.53 851.88L246.65 852.69Z" fill="#1a1a1a"/>
<line x1="251.6" y1="844.5" x2="257.52" y2="851.81" stroke="#1a1a1a" stroke-width="0.9"/>
<path d="M260.1 855L255.57 852.75L258.84 850.1Z" fill="#1a1a1a"/>
<line x1="278.2" y1="872.3" x2="284.86" y2="873.48" stroke="#1a1a1a" stroke-width="0.9"/>
<path d="M288.9 874.2L284 875.46L284.74 871.33Z" fill="#1a1a1a"/>
<ellipse cx="82.4" cy="869.4" rx="8.3" ry="6.8" fill="#fcc015" stroke="#1a1a1a" stroke-width="0.65"/>
<ellipse cx="83.2" cy="869.6" rx="6.2" ry="5.2" fill="none" stroke="#1a1a1a" stroke-width="0.5"/>
<ellipse cx="102.3" cy="869.4" rx="8.3" ry="6.8" fill="#f68c22" stroke="#1a1a1a" stroke-width="0.65"/>
<ellipse cx="103.1" cy="869.6" rx="6.2" ry="5.2" fill="none" stroke="#1a1a1a" stroke-width="0.5"/>
<ellipse cx="121.5" cy="869.4" rx="8.3" ry="6.8" fill="#f7891f" stroke="#1a1a1a" stroke-width="0.65"/>
<ellipse cx="122.3" cy="869.6" rx="6.2" ry="5.2" fill="none" stroke="#1a1a1a" stroke-width="0.5"/>
<ellipse cx="141.4" cy="869.4" rx="8.3" ry="6.8" fill="#f47a25" stroke="#1a1a1a" stroke-width="0.65"/>
<ellipse cx="142.2" cy="869.6" rx="6.2" ry="5.2" fill="none" stroke="#1a1a1a" stroke-width="0.5"/>
<path d="M163.45 860.58 L164.48 865.53 L169.53 865.19 L166.3 869.09 L169.72 872.82 L164.65 872.73 L163.87 877.73 L160.79 873.71 L156.38 876.21 L157.61 871.3 L152.9 869.41 L157.51 867.31 L156.05 862.46 L160.57 864.74Z" fill="#fcc012" stroke="#1a1a1a" stroke-width="0.5" stroke-linejoin="round"/>
<circle cx="161.7" cy="869.2" r="3.6" fill="none" stroke="#444" stroke-width="0.45"/>
<path d="M190.2 869.2 L190.12 869.65 L189.9 870.07 L189.55 870.46 L189.14 870.8 L188.69 871.1 L188.27 871.37 L187.91 871.62 L187.65 871.89 L187.49 872.2 L187.43 872.57 L187.45 873 L187.5 873.49 L187.55 874.02 L187.55 874.56 L187.47 875.07 L187.3 875.53 L187.01 875.88 L186.63 876.12 L186.16 876.23 L185.65 876.21 L185.12 876.11 L184.61 875.95 L184.13 875.79 L183.7 875.66 L183.32 875.61 L182.97 875.66 L182.65 875.83 L182.32 876.09 L181.98 876.43 L181.6 876.8 L181.18 877.15 L180.74 877.42 L180.27 877.59 L179.81 877.61 L179.38 877.47 L179 877.2 L178.68 876.8 L178.42 876.33 L178.22 875.83 L178.05 875.35 L177.88 874.92 L177.69 874.58 L177.45 874.33 L177.13 874.17 L176.73 874.07 L176.25 874.01 L175.73 873.95 L175.2 873.85 L174.7 873.68 L174.27 873.43 L173.95 873.1 L173.76 872.69 L173.72 872.22 L173.81 871.73 L174.01 871.23 L174.27 870.76 L174.54 870.32 L174.78 869.92 L174.94 869.55 L175 869.2 L174.94 868.85 L174.78 868.48 L174.54 868.08 L174.27 867.64 L174.01 867.17 L173.81 866.67 L173.72 866.18 L173.76 865.71 L173.95 865.3 L174.27 864.97 L174.7 864.72 L175.2 864.55 L175.73 864.45 L176.25 864.39 L176.73 864.33 L177.13 864.23 L177.45 864.07 L177.69 863.82 L177.88 863.48 L178.05 863.05 L178.22 862.57 L178.42 862.07 L178.68 861.6 L179 861.2 L179.38 860.93 L179.81 860.79 L180.27 860.81 L180.74 860.98 L181.18 861.25 L181.6 861.6 L181.98 861.97 L182.32 862.31 L182.65 862.57 L182.97 862.74 L183.32 862.79 L183.7 862.74 L184.13 862.61 L184.61 862.45 L185.12 862.29 L185.65 862.19 L186.16 862.17 L186.63 862.28 L187.01 862.52 L187.3 862.87 L187.47 863.33 L187.55 863.84 L187.55 864.38 L187.5 864.91 L187.45 865.4 L187.43 865.83 L187.49 866.2 L187.65 866.51 L187.91 866.78 L188.27 867.03 L188.69 867.3 L189.14 867.6 L189.55 867.94 L189.9 868.33 L190.12 868.75 L190.2 869.2Z" fill="#e94c2a" stroke="#1a1a1a" stroke-width="0.55"/>
<circle cx="181.6" cy="869.2" r="4.6" fill="none" stroke="#555" stroke-width="0.4"/>
<path d="M208.5 869.2 L208.4 869.65 L208.12 870.06 L207.71 870.44 L207.23 870.76 L206.76 871.04 L206.36 871.3 L206.08 871.57 L205.95 871.89 L205.95 872.28 L206.05 872.75 L206.19 873.28 L206.3 873.85 L206.33 874.4 L206.23 874.9 L205.98 875.28 L205.6 875.53 L205.1 875.63 L204.55 875.6 L203.98 875.49 L203.45 875.35 L202.98 875.25 L202.59 875.25 L202.27 875.38 L202 875.66 L201.74 876.06 L201.46 876.53 L201.14 877.01 L200.76 877.42 L200.35 877.7 L199.9 877.8 L199.45 877.7 L199.04 877.42 L198.66 877.01 L198.34 876.53 L198.06 876.06 L197.8 875.66 L197.53 875.38 L197.21 875.25 L196.82 875.25 L196.35 875.35 L195.82 875.49 L195.25 875.6 L194.7 875.63 L194.2 875.53 L193.82 875.28 L193.57 874.9 L193.47 874.4 L193.5 873.85 L193.61 873.28 L193.75 872.75 L193.85 872.28 L193.85 871.89 L193.72 871.57 L193.44 871.3 L193.04 871.04 L192.57 870.76 L192.09 870.44 L191.68 870.06 L191.4 869.65 L191.3 869.2 L191.4 868.75 L191.68 868.34 L192.09 867.96 L192.57 867.64 L193.04 867.36 L193.44 867.1 L193.72 866.83 L193.85 866.51 L193.85 866.12 L193.75 865.65 L193.61 865.12 L193.5 864.55 L193.47 864 L193.57 863.5 L193.82 863.12 L194.2 862.87 L194.7 862.77 L195.25 862.8 L195.82 862.91 L196.35 863.05 L196.82 863.15 L197.21 863.15 L197.53 863.02 L197.8 862.74 L198.06 862.34 L198.34 861.87 L198.66 861.39 L199.04 860.98 L199.45 860.7 L199.9 860.6 L200.35 860.7 L200.76 860.98 L201.14 861.39 L201.46 861.87 L201.74 862.34 L202 862.74 L202.27 863.02 L202.59 863.15 L202.98 863.15 L203.45 863.05 L203.98 862.91 L204.55 862.8 L205.1 862.77 L205.6 862.87 L205.98 863.12 L206.23 863.5 L206.33 864 L206.3 864.55 L206.19 865.12 L206.05 865.65 L205.95 866.12 L205.95 866.51 L206.08 866.83 L206.36 867.1 L206.76 867.36 L207.23 867.64 L207.71 867.96 L208.12 868.34 L208.4 868.75 L208.5 869.2Z" fill="#f68d22" stroke="#1a1a1a" stroke-width="0.55"/>
<circle cx="199.9" cy="869.2" r="4.8" fill="none" stroke="#555" stroke-width="0.4"/>
<ellipse cx="222.3" cy="868.5" rx="10.3" ry="8" fill="#ffffff" stroke="#1a1a1a" stroke-width="0.75"/>
<ellipse cx="222.8" cy="868.8" rx="8.2" ry="6.2" fill="none" stroke="#1a1a1a" stroke-width="0.45"/>
<path d="M219.3 871.5 q-2 -5 2 -6 q4 -1 5 2 q1 3 -3 4 q-3 0 -2 -2 M223.3 873 q4 0 4 -4" fill="none" stroke="#333" stroke-width="0.45"/>
<circle cx="238.7" cy="865.3" r="3.8" fill="#f5e7c0" stroke="#333" stroke-width="0.6"/>
<circle cx="238.7" cy="865.3" r="2.5" fill="none" stroke="#666" stroke-width="0.4"/>
<circle cx="246.7" cy="867.3" r="3.8" fill="#f5e7c0" stroke="#333" stroke-width="0.6"/>
<circle cx="246.7" cy="867.3" r="2.5" fill="none" stroke="#666" stroke-width="0.4"/>
<circle cx="240.7" cy="873.7" r="3.8" fill="#f5e7c0" stroke="#333" stroke-width="0.6"/>
<circle cx="240.7" cy="873.7" r="2.5" fill="none" stroke="#666" stroke-width="0.4"/>
<path d="M280.73 868.2 L281.62 868.94 L281.76 869.7 L281.01 870.35 L279.89 870.86 L279.15 871.36 L279.16 872.06 L279.64 872.99 L279.91 873.93 L279.45 874.59 L278.29 874.82 L276.97 874.85 L276.07 875.05 L275.73 875.71 L275.64 876.69 L275.3 877.54 L274.45 877.83 L273.46 877.86 L272.62 878.1 L271.78 878.29 L270.93 878.43 L270.07 878.53 L269.21 878.58 L268.35 878.6 L267.5 878.58 L266.66 878.51 L265.82 878.41 L264.99 878.28 L264.18 878.11 L263.38 877.9 L262.6 877.66 L261.84 877.39 L261.09 877.08 L260.36 876.75 L259.66 876.38 L258.98 875.98 L258.32 875.54 L257.69 875.08 L257.1 874.58 L256.54 874.06 L256.02 873.5 L255.54 872.92 L255.11 872.31 L254.73 871.67 L254.4 871.01 L254.12 870.33 L253.91 869.63 L253.76 868.92 L253.67 868.2 L253.65 867.47 L253.7 866.75 L253.81 866.02 L253.99 865.31 L254.25 864.6 L254.57 863.91 L254.95 863.25 L255.4 862.61 L255.9 862 L256.46 861.42 L257.07 860.88 L257.73 860.38 L258.43 859.92 L259.16 859.51 L259.93 859.14 L260.73 858.81 L261.54 858.54 L262.38 858.3 L263.22 858.11 L264.07 857.97 L264.93 857.87 L265.79 857.82 L266.65 857.8 L267.5 857.82 L268.34 857.89 L269.18 857.99 L270.01 858.12 L270.82 858.29 L271.62 858.5 L272.4 858.74 L273.16 859.01 L273.91 859.32 L274.64 859.65 L275.34 860.02 L276.02 860.42 L276.68 860.86 L277.31 861.32 L277.9 861.82 L278.46 862.34 L278.98 862.9 L278.79 863.75 L280.05 864.04 L280.74 864.61 L280.55 865.4 L279.87 866.23 L279.44 866.94 L279.77 867.56Z" fill="#e5432a" stroke="#1a1a1a" stroke-width="0.8"/>
<ellipse cx="262.9" cy="869.8" rx="2.8" ry="1.9" transform="rotate(-30 262.9 869.8)" fill="none" stroke="#1a1a1a" stroke-width="0.6"/>
<ellipse cx="265.3" cy="865.6" rx="2.6" ry="1.8" transform="rotate(-40 265.3 865.6)" fill="none" stroke="#1a1a1a" stroke-width="0.6"/>
<ellipse cx="269.1" cy="864.2" rx="2.4" ry="1.8" transform="rotate(10 269.1 864.2)" fill="none" stroke="#1a1a1a" stroke-width="0.6"/>
<ellipse cx="266.1" cy="872" rx="2.8" ry="1.8" transform="rotate(0 266.1 872)" fill="none" stroke="#1a1a1a" stroke-width="0.6"/>
<ellipse cx="269.9" cy="868.6" rx="2.6" ry="1.8" transform="rotate(-30 269.9 868.6)" fill="none" stroke="#1a1a1a" stroke-width="0.6"/>
<ellipse cx="271.7" cy="866" rx="2.0" ry="1.6" transform="rotate(60 271.7 866)" fill="none" stroke="#1a1a1a" stroke-width="0.6"/>
<ellipse cx="271.1" cy="871.4" rx="2.2" ry="1.5" transform="rotate(-20 271.1 871.4)" fill="none" stroke="#1a1a1a" stroke-width="0.6"/>
<ellipse cx="296.6" cy="867" rx="2.7" ry="1.9" transform="rotate(-20 296.6 867)" fill="#ffffff" stroke="#222" stroke-width="0.65"/>
<ellipse cx="303.9" cy="864.6" rx="2.7" ry="1.9" transform="rotate(10 303.9 864.6)" fill="#ffffff" stroke="#222" stroke-width="0.65"/>
<ellipse cx="308.7" cy="869.4" rx="2.7" ry="1.9" transform="rotate(30 308.7 869.4)" fill="#ffffff" stroke="#222" stroke-width="0.65"/>
<ellipse cx="293.4" cy="871.5" rx="2.7" ry="1.9" transform="rotate(20 293.4 871.5)" fill="#ffffff" stroke="#222" stroke-width="0.65"/>
<ellipse cx="301.4" cy="870.5" rx="2.7" ry="1.9" transform="rotate(-10 301.4 870.5)" fill="#ffffff" stroke="#222" stroke-width="0.65"/>
<ellipse cx="307.1" cy="875" rx="2.7" ry="1.9" transform="rotate(-30 307.1 875)" fill="#ffffff" stroke="#222" stroke-width="0.65"/>
<ellipse cx="297.4" cy="876.3" rx="2.7" ry="1.9" transform="rotate(0 297.4 876.3)" fill="#ffffff" stroke="#222" stroke-width="0.65"/>
<ellipse cx="303.1" cy="876.3" rx="2.7" ry="1.9" transform="rotate(20 303.1 876.3)" fill="#ffffff" stroke="#222" stroke-width="0.65"/>
<text x="82.4" y="885.4" font-size="6.4" text-anchor="middle" fill="#333" style="stroke-width:0.05px">NK</text>
<text x="102.3" y="885.4" font-size="6.4" text-anchor="middle" fill="#333" style="stroke-width:0.05px">CD4</text>
<text x="121.5" y="885.4" font-size="6.4" text-anchor="middle" fill="#333" style="stroke-width:0.05px">CD8</text>
<text x="141.4" y="885.4" font-size="6.4" text-anchor="middle" fill="#333" style="stroke-width:0.05px">B</text>
<text x="161.7" y="885.4" font-size="6.4" text-anchor="middle" fill="#333" style="stroke-width:0.05px">pDC</text>
<text x="181.6" y="885.4" font-size="6.4" text-anchor="middle" fill="#333" style="stroke-width:0.05px">Mono</text>
<text x="199.9" y="885.4" font-size="6.4" text-anchor="middle" fill="#333" style="stroke-width:0.05px">mDC</text>
<text x="222.3" y="885.4" font-size="6.4" text-anchor="middle" fill="#333" style="stroke-width:0.05px">Gran</text>
<text x="242.8" y="885.4" font-size="6.4" text-anchor="middle" fill="#333" style="stroke-width:0.05px">Ery</text>
<text x="267.3" y="885.4" font-size="6.4" text-anchor="middle" fill="#333" style="stroke-width:0.05px">Mega</text>
<text x="301" y="885.4" font-size="6.4" text-anchor="middle" fill="#333" style="stroke-width:0.05px">Plt</text>
<rect x="398.2" y="749" width="5.5" height="46.1" fill="url(#cbar)" stroke="#bbb" stroke-width="0.3"/>
<text x="386.4" y="746.7" font-size="8.6" fill="#231f20" textLength="29.6" lengthAdjust="spacingAndGlyphs"><tspan font-style="italic">z</tspan> score</text><text x="406.5" y="758.7" font-size="7.6" fill="#231f20">1.2</text><text x="406.5" y="794.2" font-size="7.6" fill="#231f20">0.6</text>
<text x="423.9" y="739.7" font-size="9.0" text-anchor="start" fill="#231f20" textLength="74.2" lengthAdjust="spacingAndGlyphs" >MECOM up genes</text>
<line x1="461.6" y1="771.2" x2="461.6" y2="780.6" stroke="#1a1a1a" stroke-width="0.9"/>
<path d="M461.6 784.7L459.5 780.1L463.7 780.1Z" fill="#1a1a1a"/>
<path d="M448.3 759.8 A5.8 5.8 0 1 0 447.6 767.7" fill="none" stroke="#1a1a1a" stroke-width="0.9"/>
<path d="M451.5 766.4 L446.9 770.2 L446.3 766Z" fill="#1a1a1a"/>
<path d="M471.6 763.4 C493.7 763.9 520.7 788.9 521.3 822.9" fill="none" stroke="#1a1a1a" stroke-width="0.9" stroke-dasharray="1.4 1.2"/>
<path d="M521.4 827.5 L519.6 823.1 L523.2 823.1Z" fill="#1a1a1a"/>
<line x1="452.2" y1="794.9" x2="414.36" y2="808.33" stroke="#1a1a1a" stroke-width="0.9" stroke-dasharray="1.4 1.2"/>
<path d="M410.5 809.7L414.13 806.18L415.54 810.14Z" fill="#1a1a1a"/>
<line x1="454.2" y1="798.1" x2="413.61" y2="827.78" stroke="#1a1a1a" stroke-width="0.9"/>
<path d="M410.3 830.2L412.77 825.79L415.25 829.18Z" fill="#1a1a1a"/>
<line x1="469.3" y1="797.1" x2="490.26" y2="808.01" stroke="#1a1a1a" stroke-width="0.9"/>
<path d="M493.9 809.9L488.85 809.64L490.79 805.91Z" fill="#1a1a1a"/>
<line x1="401.9" y1="820.2" x2="402.1" y2="824.3" stroke="#1a1a1a" stroke-width="0.9" stroke-dasharray="1.4 1.2"/>
<path d="M402.3 828.4L399.98 823.91L404.17 823.7Z" fill="#1a1a1a"/>
<line x1="410.1" y1="815.1" x2="440.06" y2="823.67" stroke="#1a1a1a" stroke-width="0.9" stroke-dasharray="1.4 1.2"/>
<path d="M444 824.8L439 825.55L440.16 821.52Z" fill="#1a1a1a"/>
<line x1="492.3" y1="817.9" x2="468.2" y2="825.65" stroke="#1a1a1a" stroke-width="0.9"/>
<path d="M464.3 826.9L468.04 823.49L469.32 827.49Z" fill="#1a1a1a"/>
<line x1="507.7" y1="820.9" x2="512.99" y2="825.43" stroke="#1a1a1a" stroke-width="0.9"/>
<path d="M516.1 828.1L511.24 826.7L513.97 823.51Z" fill="#1a1a1a"/>
<line x1="499.9" y1="824.4" x2="496.55" y2="855.12" stroke="#1a1a1a" stroke-width="0.9" stroke-dasharray="1.4 1.2"/>
<path d="M496.1 859.2L494.51 854.4L498.69 854.86Z" fill="#1a1a1a"/>
<circle cx="461.6" cy="763.4" r="7.4" fill="#fbb41a" stroke="#1a1a1a" stroke-width="0.7"/>
<circle cx="461.6" cy="763.4" r="5.33" fill="none" stroke="#1a1a1a" stroke-width="0.55"/>
<circle cx="461.6" cy="792.5" r="7.4" fill="#f37a20" stroke="#1a1a1a" stroke-width="0.7"/>
<circle cx="461.6" cy="792.5" r="5.33" fill="none" stroke="#1a1a1a" stroke-width="0.55"/>
<circle cx="401.7" cy="812.4" r="7.4" fill="#f37a20" stroke="#1a1a1a" stroke-width="0.85" stroke-dasharray="1.4 0.9"/>
<circle cx="401.7" cy="812.4" r="5.33" fill="none" stroke="#1a1a1a" stroke-width="0.55"/>
<circle cx="501.1" cy="815.1" r="7.4" fill="#dc2e2a" stroke="#1a1a1a" stroke-width="0.7"/>
<circle cx="501.1" cy="815.1" r="5.33" fill="none" stroke="#1a1a1a" stroke-width="0.55"/>
<circle cx="402.8" cy="836.2" r="7.4" fill="#fdd340" stroke="#1a1a1a" stroke-width="0.7"/>
<circle cx="402.8" cy="836.2" r="5.33" fill="none" stroke="#1a1a1a" stroke-width="0.55"/>
<circle cx="453.7" cy="821.2" r="7.0" fill="#b01f24" stroke="#1a1a1a" stroke-width="0.85" stroke-dasharray="1.4 0.9"/>
<circle cx="453.7" cy="821.2" r="5.04" fill="none" stroke="#1a1a1a" stroke-width="0.55"/>
<circle cx="445.3" cy="836.1" r="7.0" fill="#b5202a" stroke="#1a1a1a" stroke-width="0.85" stroke-dasharray="1.4 0.9"/>
<circle cx="445.3" cy="836.1" r="5.04" fill="none" stroke="#1a1a1a" stroke-width="0.55"/>
<circle cx="462.9" cy="836.3" r="7.0" fill="#d8302c" stroke="#1a1a1a" stroke-width="0.7"/>
<circle cx="462.9" cy="836.3" r="5.04" fill="none" stroke="#1a1a1a" stroke-width="0.55"/>
<circle cx="519.8" cy="836.1" r="7.4" fill="#de3129" stroke="#1a1a1a" stroke-width="0.7"/>
<circle cx="519.8" cy="836.1" r="5.33" fill="none" stroke="#1a1a1a" stroke-width="0.55"/>
<text x="462" y="754.1" font-size="6.1" text-anchor="middle" fill="#333" style="stroke-width:0.05px">HSC</text>
<text x="449.7" y="785.7" font-size="6.1" text-anchor="middle" fill="#333" style="stroke-width:0.05px">MPP</text>
<text x="402.2" y="804.5" font-size="6.1" text-anchor="middle" fill="#333" style="stroke-width:0.05px">LMPP</text>
<text x="501.9" y="806.7" font-size="6.1" text-anchor="middle" fill="#333" style="stroke-width:0.05px">CMP</text>
<text x="386.6" y="837.1" font-size="6.1" text-anchor="middle" fill="#333" style="stroke-width:0.05px">CLP</text>
<text x="426.6" y="836.9" font-size="6.1" text-anchor="middle" fill="#333" style="stroke-width:0.05px">GMP</text>
<text x="536.4" y="840.5" font-size="6.1" text-anchor="middle" fill="#333" style="stroke-width:0.05px">MEP</text>
<line x1="394.2" y1="841.1" x2="365.22" y2="858.49" stroke="#1a1a1a" stroke-width="0.9"/>
<path d="M361.7 860.6L364.56 856.43L366.72 860.03Z" fill="#1a1a1a"/>
<line x1="397.2" y1="842.9" x2="383.18" y2="857.08" stroke="#1a1a1a" stroke-width="0.9"/>
<path d="M380.3 860L382.04 855.25L385.03 858.2Z" fill="#1a1a1a"/>
<line x1="400.3" y1="843.9" x2="396.81" y2="856.25" stroke="#1a1a1a" stroke-width="0.9"/>
<path d="M395.7 860.2L394.93 855.2L398.97 856.34Z" fill="#1a1a1a"/>
<line x1="405.5" y1="843.9" x2="409.3" y2="856.28" stroke="#1a1a1a" stroke-width="0.9"/>
<path d="M410.5 860.2L407.14 856.42L411.16 855.19Z" fill="#1a1a1a"/>
<line x1="409.5" y1="841.1" x2="425.51" y2="856.1" stroke="#1a1a1a" stroke-width="0.9" stroke-dasharray="1.4 1.2"/>
<path d="M428.5 858.9L423.71 857.29L426.58 854.22Z" fill="#1a1a1a"/>
<line x1="453.1" y1="844.4" x2="452.96" y2="854.1" stroke="#1a1a1a" stroke-width="0.9"/>
<path d="M452.9 858.2L450.87 853.57L455.07 853.63Z" fill="#1a1a1a"/>
<line x1="463.5" y1="845.7" x2="468.03" y2="854.55" stroke="#1a1a1a" stroke-width="0.9"/>
<path d="M469.9 858.2L465.93 855.06L469.67 853.15Z" fill="#1a1a1a"/>
<line x1="469.9" y1="841.9" x2="484.68" y2="855.43" stroke="#1a1a1a" stroke-width="0.9"/>
<path d="M487.7 858.2L482.89 856.64L485.73 853.54Z" fill="#1a1a1a"/>
<line x1="517.7" y1="844.1" x2="516.38" y2="851.96" stroke="#1a1a1a" stroke-width="0.9"/>
<path d="M515.7 856L514.39 851.12L518.53 851.81Z" fill="#1a1a1a"/>
<line x1="523.3" y1="843.5" x2="529.5" y2="851.03" stroke="#1a1a1a" stroke-width="0.9"/>
<path d="M532.1 854.2L527.56 851.98L530.8 849.31Z" fill="#1a1a1a"/>
<line x1="550.2" y1="871.5" x2="556.86" y2="872.68" stroke="#1a1a1a" stroke-width="0.9"/>
<path d="M560.9 873.4L556 874.66L556.74 870.53Z" fill="#1a1a1a"/>
<ellipse cx="354.4" cy="868.6" rx="8.3" ry="6.8" fill="#fdc72a" stroke="#1a1a1a" stroke-width="0.65"/>
<ellipse cx="355.2" cy="868.8" rx="6.2" ry="5.2" fill="none" stroke="#1a1a1a" stroke-width="0.5"/>
<ellipse cx="374.3" cy="868.6" rx="8.3" ry="6.8" fill="#fdca30" stroke="#1a1a1a" stroke-width="0.65"/>
<ellipse cx="375.1" cy="868.8" rx="6.2" ry="5.2" fill="none" stroke="#1a1a1a" stroke-width="0.5"/>
<ellipse cx="393.5" cy="868.6" rx="8.3" ry="6.8" fill="#fdc82a" stroke="#1a1a1a" stroke-width="0.65"/>
<ellipse cx="394.3" cy="868.8" rx="6.2" ry="5.2" fill="none" stroke="#1a1a1a" stroke-width="0.5"/>
<ellipse cx="413.4" cy="868.6" rx="8.3" ry="6.8" fill="#fde08a" stroke="#1a1a1a" stroke-width="0.65"/>
<ellipse cx="414.2" cy="868.8" rx="6.2" ry="5.2" fill="none" stroke="#1a1a1a" stroke-width="0.5"/>
<path d="M435.45 859.78 L436.48 864.73 L441.53 864.39 L438.3 868.29 L441.72 872.02 L436.65 871.93 L435.87 876.93 L432.79 872.91 L428.38 875.41 L429.61 870.5 L424.9 868.61 L429.51 866.51 L428.05 861.66 L432.57 863.94Z" fill="#fbb21a" stroke="#1a1a1a" stroke-width="0.5" stroke-linejoin="round"/>
<circle cx="433.7" cy="868.4" r="3.6" fill="none" stroke="#444" stroke-width="0.45"/>
<path d="M462.2 868.4 L462.12 868.85 L461.9 869.27 L461.55 869.66 L461.14 870 L460.69 870.3 L460.27 870.57 L459.91 870.82 L459.65 871.09 L459.49 871.4 L459.43 871.77 L459.45 872.2 L459.5 872.69 L459.55 873.22 L459.55 873.76 L459.47 874.27 L459.3 874.73 L459.01 875.08 L458.63 875.32 L458.16 875.43 L457.65 875.41 L457.12 875.31 L456.61 875.15 L456.13 874.99 L455.7 874.86 L455.32 874.81 L454.97 874.86 L454.65 875.03 L454.32 875.29 L453.98 875.63 L453.6 876 L453.18 876.35 L452.74 876.62 L452.27 876.79 L451.81 876.81 L451.38 876.67 L451 876.4 L450.68 876 L450.42 875.53 L450.22 875.03 L450.05 874.55 L449.88 874.12 L449.69 873.78 L449.45 873.53 L449.13 873.37 L448.73 873.27 L448.25 873.21 L447.73 873.15 L447.2 873.05 L446.7 872.88 L446.27 872.63 L445.95 872.3 L445.76 871.89 L445.72 871.42 L445.81 870.93 L446.01 870.43 L446.27 869.96 L446.54 869.52 L446.78 869.12 L446.94 868.75 L447 868.4 L446.94 868.05 L446.78 867.68 L446.54 867.28 L446.27 866.84 L446.01 866.37 L445.81 865.87 L445.72 865.38 L445.76 864.91 L445.95 864.5 L446.27 864.17 L446.7 863.92 L447.2 863.75 L447.73 863.65 L448.25 863.59 L448.73 863.53 L449.13 863.43 L449.45 863.27 L449.69 863.02 L449.88 862.68 L450.05 862.25 L450.22 861.77 L450.42 861.27 L450.68 860.8 L451 860.4 L451.38 860.13 L451.81 859.99 L452.27 860.01 L452.74 860.18 L453.18 860.45 L453.6 860.8 L453.98 861.17 L454.32 861.51 L454.65 861.77 L454.97 861.94 L455.32 861.99 L455.7 861.94 L456.13 861.81 L456.61 861.65 L457.12 861.49 L457.65 861.39 L458.16 861.37 L458.63 861.48 L459.01 861.72 L459.3 862.07 L459.47 862.53 L459.55 863.04 L459.55 863.58 L459.5 864.11 L459.45 864.6 L459.43 865.03 L459.49 865.4 L459.65 865.71 L459.91 865.98 L460.27 866.23 L460.69 866.5 L461.14 866.8 L461.55 867.14 L461.9 867.53 L462.12 867.95 L462.2 868.4Z" fill="#f9a020" stroke="#1a1a1a" stroke-width="0.55"/>
<circle cx="453.6" cy="868.4" r="4.6" fill="none" stroke="#555" stroke-width="0.4"/>
<path d="M480.5 868.4 L480.4 868.85 L480.12 869.26 L479.71 869.64 L479.23 869.96 L478.76 870.24 L478.36 870.5 L478.08 870.77 L477.95 871.09 L477.95 871.48 L478.05 871.95 L478.19 872.48 L478.3 873.05 L478.33 873.6 L478.23 874.1 L477.98 874.48 L477.6 874.73 L477.1 874.83 L476.55 874.8 L475.98 874.69 L475.45 874.55 L474.98 874.45 L474.59 874.45 L474.27 874.58 L474 874.86 L473.74 875.26 L473.46 875.73 L473.14 876.21 L472.76 876.62 L472.35 876.9 L471.9 877 L471.45 876.9 L471.04 876.62 L470.66 876.21 L470.34 875.73 L470.06 875.26 L469.8 874.86 L469.53 874.58 L469.21 874.45 L468.82 874.45 L468.35 874.55 L467.82 874.69 L467.25 874.8 L466.7 874.83 L466.2 874.73 L465.82 874.48 L465.57 874.1 L465.47 873.6 L465.5 873.05 L465.61 872.48 L465.75 871.95 L465.85 871.48 L465.85 871.09 L465.72 870.77 L465.44 870.5 L465.04 870.24 L464.57 869.96 L464.09 869.64 L463.68 869.26 L463.4 868.85 L463.3 868.4 L463.4 867.95 L463.68 867.54 L464.09 867.16 L464.57 866.84 L465.04 866.56 L465.44 866.3 L465.72 866.03 L465.85 865.71 L465.85 865.32 L465.75 864.85 L465.61 864.32 L465.5 863.75 L465.47 863.2 L465.57 862.7 L465.82 862.32 L466.2 862.07 L466.7 861.97 L467.25 862 L467.82 862.11 L468.35 862.25 L468.82 862.35 L469.21 862.35 L469.53 862.22 L469.8 861.94 L470.06 861.54 L470.34 861.07 L470.66 860.59 L471.04 860.18 L471.45 859.9 L471.9 859.8 L472.35 859.9 L472.76 860.18 L473.14 860.59 L473.46 861.07 L473.74 861.54 L474 861.94 L474.27 862.22 L474.59 862.35 L474.98 862.35 L475.45 862.25 L475.98 862.11 L476.55 862 L477.1 861.97 L477.6 862.07 L477.98 862.32 L478.23 862.7 L478.33 863.2 L478.3 863.75 L478.19 864.32 L478.05 864.85 L477.95 865.32 L477.95 865.71 L478.08 866.03 L478.36 866.3 L478.76 866.56 L479.23 866.84 L479.71 867.16 L480.12 867.54 L480.4 867.95 L480.5 868.4Z" fill="#f68a22" stroke="#1a1a1a" stroke-width="0.55"/>
<circle cx="471.9" cy="868.4" r="4.8" fill="none" stroke="#555" stroke-width="0.4"/>
<ellipse cx="494.3" cy="867.7" rx="10.3" ry="8" fill="#fdc72a" stroke="#1a1a1a" stroke-width="0.75"/>
<ellipse cx="494.8" cy="868" rx="8.2" ry="6.2" fill="none" stroke="#1a1a1a" stroke-width="0.45"/>
<path d="M491.3 870.7 q-2 -5 2 -6 q4 -1 5 2 q1 3 -3 4 q-3 0 -2 -2 M495.3 872.2 q4 0 4 -4" fill="none" stroke="#333" stroke-width="0.45"/>
<circle cx="510.7" cy="864.5" r="3.8" fill="#fbe39a" stroke="#333" stroke-width="0.6"/>
<circle cx="510.7" cy="864.5" r="2.5" fill="none" stroke="#666" stroke-width="0.4"/>
<circle cx="518.7" cy="866.5" r="3.8" fill="#fbe39a" stroke="#333" stroke-width="0.6"/>
<circle cx="518.7" cy="866.5" r="2.5" fill="none" stroke="#666" stroke-width="0.4"/>
<circle cx="512.7" cy="872.9" r="3.8" fill="#fbe39a" stroke="#333" stroke-width="0.6"/>
<circle cx="512.7" cy="872.9" r="2.5" fill="none" stroke="#666" stroke-width="0.4"/>
<path d="M552.73 867.4 L553.62 868.14 L553.76 868.9 L553.01 869.55 L551.89 870.06 L551.15 870.56 L551.16 871.26 L551.64 872.19 L551.91 873.13 L551.45 873.79 L550.29 874.02 L548.97 874.05 L548.07 874.25 L547.73 874.91 L547.64 875.89 L547.3 876.74 L546.45 877.03 L545.46 877.06 L544.62 877.3 L543.78 877.49 L542.93 877.63 L542.07 877.73 L541.21 877.78 L540.35 877.8 L539.5 877.78 L538.66 877.71 L537.82 877.61 L536.99 877.48 L536.18 877.31 L535.38 877.1 L534.6 876.86 L533.84 876.59 L533.09 876.28 L532.36 875.95 L531.66 875.58 L530.98 875.18 L530.32 874.74 L529.69 874.28 L529.1 873.78 L528.54 873.26 L528.02 872.7 L527.54 872.12 L527.11 871.51 L526.73 870.87 L526.4 870.21 L526.12 869.53 L525.91 868.83 L525.76 868.12 L525.67 867.4 L525.65 866.67 L525.7 865.95 L525.81 865.22 L525.99 864.51 L526.25 863.8 L526.57 863.11 L526.95 862.45 L527.4 861.81 L527.9 861.2 L528.46 860.62 L529.07 860.08 L529.73 859.58 L530.43 859.12 L531.16 858.71 L531.93 858.34 L532.73 858.01 L533.54 857.74 L534.38 857.5 L535.22 857.31 L536.07 857.17 L536.93 857.07 L537.79 857.02 L538.65 857 L539.5 857.02 L540.34 857.09 L541.18 857.19 L542.01 857.32 L542.82 857.49 L543.62 857.7 L544.4 857.94 L545.16 858.21 L545.91 858.52 L546.64 858.85 L547.34 859.22 L548.02 859.62 L548.68 860.06 L549.31 860.52 L549.9 861.02 L550.46 861.54 L550.98 862.1 L550.79 862.95 L552.05 863.24 L552.74 863.81 L552.55 864.6 L551.87 865.43 L551.44 866.14 L551.77 866.76Z" fill="#e3402a" stroke="#1a1a1a" stroke-width="0.8"/>
<ellipse cx="534.9" cy="869" rx="2.8" ry="1.9" transform="rotate(-30 534.9 869)" fill="none" stroke="#1a1a1a" stroke-width="0.6"/>
<ellipse cx="537.3" cy="864.8" rx="2.6" ry="1.8" transform="rotate(-40 537.3 864.8)" fill="none" stroke="#1a1a1a" stroke-width="0.6"/>
<ellipse cx="541.1" cy="863.4" rx="2.4" ry="1.8" transform="rotate(10 541.1 863.4)" fill="none" stroke="#1a1a1a" stroke-width="0.6"/>
<ellipse cx="538.1" cy="871.2" rx="2.8" ry="1.8" transform="rotate(0 538.1 871.2)" fill="none" stroke="#1a1a1a" stroke-width="0.6"/>
<ellipse cx="541.9" cy="867.8" rx="2.6" ry="1.8" transform="rotate(-30 541.9 867.8)" fill="none" stroke="#1a1a1a" stroke-width="0.6"/>
<ellipse cx="543.7" cy="865.2" rx="2.0" ry="1.6" transform="rotate(60 543.7 865.2)" fill="none" stroke="#1a1a1a" stroke-width="0.6"/>
<ellipse cx="543.1" cy="870.6" rx="2.2" ry="1.5" transform="rotate(-20 543.1 870.6)" fill="none" stroke="#1a1a1a" stroke-width="0.6"/>
<ellipse cx="568.6" cy="866.2" rx="2.7" ry="1.9" transform="rotate(-20 568.6 866.2)" fill="#ffffff" stroke="#222" stroke-width="0.65"/>
<ellipse cx="575.9" cy="863.8" rx="2.7" ry="1.9" transform="rotate(10 575.9 863.8)" fill="#ffffff" stroke="#222" stroke-width="0.65"/>
<ellipse cx="580.7" cy="868.6" rx="2.7" ry="1.9" transform="rotate(30 580.7 868.6)" fill="#ffffff" stroke="#222" stroke-width="0.65"/>
<ellipse cx="565.4" cy="870.7" rx="2.7" ry="1.9" transform="rotate(20 565.4 870.7)" fill="#ffffff" stroke="#222" stroke-width="0.65"/>
<ellipse cx="573.4" cy="869.7" rx="2.7" ry="1.9" transform="rotate(-10 573.4 869.7)" fill="#ffffff" stroke="#222" stroke-width="0.65"/>
<ellipse cx="579.1" cy="874.2" rx="2.7" ry="1.9" transform="rotate(-30 579.1 874.2)" fill="#ffffff" stroke="#222" stroke-width="0.65"/>
<ellipse cx="569.4" cy="875.5" rx="2.7" ry="1.9" transform="rotate(0 569.4 875.5)" fill="#ffffff" stroke="#222" stroke-width="0.65"/>
<ellipse cx="575.1" cy="875.5" rx="2.7" ry="1.9" transform="rotate(20 575.1 875.5)" fill="#ffffff" stroke="#222" stroke-width="0.65"/>
<text x="354.4" y="884.6" font-size="6.4" text-anchor="middle" fill="#333" style="stroke-width:0.05px">NK</text>
<text x="374.3" y="884.6" font-size="6.4" text-anchor="middle" fill="#333" style="stroke-width:0.05px">CD4</text>
<text x="393.5" y="884.6" font-size="6.4" text-anchor="middle" fill="#333" style="stroke-width:0.05px">CD8</text>
<text x="413.4" y="884.6" font-size="6.4" text-anchor="middle" fill="#333" style="stroke-width:0.05px">B</text>
<text x="433.7" y="884.6" font-size="6.4" text-anchor="middle" fill="#333" style="stroke-width:0.05px">pDC</text>
<text x="453.6" y="884.6" font-size="6.4" text-anchor="middle" fill="#333" style="stroke-width:0.05px">Mono</text>
<text x="471.9" y="884.6" font-size="6.4" text-anchor="middle" fill="#333" style="stroke-width:0.05px">mDC</text>
<text x="494.3" y="884.6" font-size="6.4" text-anchor="middle" fill="#333" style="stroke-width:0.05px">Gran</text>
<text x="514.8" y="884.6" font-size="6.4" text-anchor="middle" fill="#333" style="stroke-width:0.05px">Ery</text>
<text x="539.3" y="884.6" font-size="6.4" text-anchor="middle" fill="#333" style="stroke-width:0.05px">Mega</text>
<text x="573" y="884.6" font-size="6.4" text-anchor="middle" fill="#333" style="stroke-width:0.05px">Plt</text>
<text x="0" y="9.9" font-size="13" font-weight="bold" fill="#000" stroke="#000" stroke-width="0.35">a</text>
<text x="321" y="10.2" font-size="13" font-weight="bold" fill="#000" stroke="#000" stroke-width="0.35">b</text>
<text x="321" y="161" font-size="13" font-weight="bold" fill="#000" stroke="#000" stroke-width="0.35">c</text>
<text x="0" y="313.3" font-size="13" font-weight="bold" fill="#000" stroke="#000" stroke-width="0.35">d</text>
<text x="243.2" y="313.5" font-size="13" font-weight="bold" fill="#000" stroke="#000" stroke-width="0.35">e</text>
<text x="0" y="545.2" font-size="13" font-weight="bold" fill="#000" stroke="#000" stroke-width="0.35">f</text>
<text x="67.2" y="728.6" font-size="13" font-weight="bold" fill="#000" stroke="#000" stroke-width="0.35">g</text>
<text x="348.5" y="728.7" font-size="13" font-weight="bold" fill="#000" stroke="#000" stroke-width="0.35">h</text></svg>
</body></html>
